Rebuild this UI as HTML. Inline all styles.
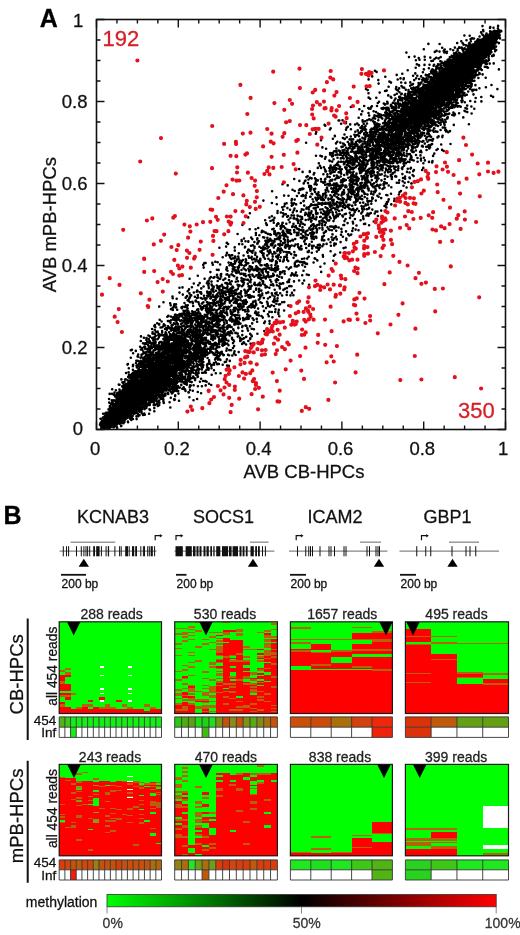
<!DOCTYPE html>
<html><head><meta charset="utf-8"><style>html,body{margin:0;padding:0;background:#fff;}svg{display:block;will-change:transform;}text{stroke-width:0.28px;}</style></head>
<body><svg width="520" height="935" viewBox="0 0 520 935">
<rect width="520" height="935" fill="#fff"/>
<path d="M150.3 377.6h0M144.2 391.8h0M133.4 392.7h0M145.3 367.8h0M139.4 401.0h0M190.2 373.6h0M163.7 382.5h0M162.9 392.6h0M117.3 418.5h0M108.6 423.6h0M121.8 420.3h0M158.4 372.8h0M150.8 381.9h0M116.3 423.4h0M162.1 377.4h0M133.6 412.6h0M123.8 402.8h0M200.7 340.7h0M145.0 380.9h0M144.2 366.4h0M150.6 371.8h0M112.0 419.6h0M155.3 372.9h0M287.1 259.8h0M118.0 414.1h0M160.8 335.2h0M192.3 355.4h0M186.0 350.8h0M129.0 401.1h0M134.4 394.2h0M115.7 411.3h0M153.1 395.3h0M220.7 327.7h0M127.4 405.7h0M106.2 424.2h0M144.7 379.6h0M181.4 343.7h0M139.1 393.0h0M253.2 306.0h0M148.7 398.4h0M156.5 393.2h0M116.8 409.5h0M128.3 386.9h0M193.7 360.1h0M200.9 365.6h0M212.9 332.1h0M178.1 351.8h0M173.5 370.9h0M106.8 425.6h0M121.8 405.2h0M299.8 226.0h0M133.9 403.2h0M189.0 372.1h0M146.2 389.0h0M166.0 346.3h0M162.0 395.6h0M115.4 405.7h0M124.8 406.2h0M148.5 359.8h0M136.0 403.4h0M108.3 426.4h0M181.9 377.8h0M192.5 337.0h0M188.6 343.5h0M194.0 346.3h0M112.1 419.3h0M229.3 294.4h0M147.7 395.3h0M119.1 406.0h0M142.3 407.0h0M129.2 407.4h0M115.5 414.4h0M148.9 388.0h0M152.4 378.7h0M150.5 401.6h0M155.8 382.5h0M142.2 391.6h0M132.9 411.9h0M127.7 399.6h0M179.6 377.9h0M115.9 420.7h0M137.9 407.7h0M186.8 344.1h0M162.3 383.9h0M168.0 354.9h0M142.0 380.2h0M118.9 415.6h0M132.4 394.9h0M139.0 368.9h0M144.1 406.7h0M152.5 402.0h0M140.7 366.3h0M196.1 359.5h0M118.8 384.6h0M190.5 322.6h0M163.4 401.6h0M181.0 333.0h0M201.8 337.3h0M239.3 293.4h0M185.6 328.3h0M204.8 346.1h0M242.5 301.2h0M109.8 421.2h0M128.2 416.8h0M198.5 343.8h0M105.3 425.3h0M154.6 378.4h0M153.5 377.8h0M112.6 419.2h0M130.3 417.0h0M185.3 367.1h0M190.1 381.8h0M129.1 400.3h0M120.7 403.5h0M126.6 404.3h0M186.8 384.8h0M115.5 418.4h0M143.7 378.0h0M112.2 416.9h0M179.9 336.2h0M149.6 370.4h0M228.4 334.2h0M104.5 426.0h0M106.3 423.9h0M134.5 407.2h0M234.2 315.2h0M118.8 413.8h0M187.1 296.0h0M146.5 370.0h0M154.0 378.3h0M177.6 354.6h0M126.9 416.6h0M129.5 402.1h0M113.3 412.0h0M155.3 383.3h0M249.2 270.3h0M128.5 388.4h0M172.2 366.5h0M176.8 383.1h0M156.8 377.4h0M143.4 390.7h0M153.0 380.8h0M133.9 399.2h0M188.4 318.6h0M192.8 357.4h0M164.6 373.9h0M145.8 388.5h0M241.9 296.5h0M147.5 379.4h0M130.2 400.1h0M199.9 381.7h0M133.2 385.6h0M153.2 385.8h0M134.3 389.7h0M143.6 387.5h0M109.8 418.6h0M119.7 400.9h0M128.2 405.3h0M143.6 393.9h0M157.3 368.7h0M122.4 410.0h0M258.2 228.0h0M146.2 388.8h0M171.7 371.7h0M112.6 405.0h0M126.7 410.4h0M229.9 282.5h0M184.2 361.2h0M140.5 382.7h0M110.2 411.8h0M218.4 277.9h0M124.6 410.0h0M131.6 394.0h0M136.6 379.3h0M163.8 365.8h0M136.9 367.4h0M137.7 371.6h0M245.5 241.3h0M154.1 377.0h0M165.2 358.6h0M199.8 360.3h0M111.7 423.6h0M126.7 399.0h0M313.4 237.1h0M126.6 404.2h0M157.6 389.4h0M120.9 415.1h0M122.6 416.8h0M202.9 320.7h0M139.4 399.9h0M146.0 383.4h0M136.1 388.0h0M114.3 418.8h0M144.6 386.4h0M172.7 298.2h0M124.2 402.0h0M153.8 346.7h0M184.9 306.9h0M114.4 411.0h0M184.5 333.8h0M110.8 426.9h0M174.2 346.4h0M144.0 398.9h0M123.6 416.8h0M145.7 386.4h0M124.7 395.2h0M108.6 419.5h0M192.1 320.0h0M197.0 313.6h0M117.7 407.6h0M141.6 401.2h0M139.2 403.5h0M140.2 389.9h0M112.6 411.9h0M196.1 336.3h0M157.7 384.8h0M124.2 411.1h0M136.5 399.7h0M129.7 407.3h0M150.5 394.9h0M161.4 334.7h0M177.8 349.5h0M125.7 417.3h0M152.6 375.7h0M121.5 405.2h0M107.5 419.6h0M123.5 414.9h0M163.2 395.2h0M106.0 412.9h0M133.6 409.4h0M182.2 376.5h0M127.4 402.0h0M122.3 398.7h0M118.3 405.0h0M109.9 424.7h0M140.1 390.8h0M156.2 386.0h0M154.0 377.3h0M123.3 412.9h0M111.8 400.3h0M173.4 329.3h0M123.2 409.4h0M139.9 392.9h0M114.9 406.1h0M122.4 413.7h0M113.1 419.4h0M235.2 308.7h0M137.4 393.5h0M103.9 420.0h0M155.6 385.4h0M157.3 391.9h0M157.6 390.2h0M230.5 317.7h0M156.4 394.3h0M158.5 391.0h0M131.6 407.3h0M118.8 408.6h0M146.2 381.5h0M147.5 388.7h0M121.3 406.9h0M132.9 397.9h0M152.7 380.4h0M161.8 383.8h0M127.2 396.0h0M105.8 425.3h0M160.0 374.9h0M139.0 396.5h0M121.6 408.5h0M133.5 398.7h0M121.5 417.8h0M163.0 378.6h0M143.2 401.6h0M117.2 428.0h0M173.9 380.8h0M143.9 337.7h0M153.8 400.4h0M172.3 361.6h0M110.2 416.8h0M216.4 320.2h0M162.9 370.6h0M213.1 346.1h0M114.6 420.5h0M134.3 404.2h0M145.7 399.7h0M259.5 276.3h0M143.6 378.9h0M113.5 411.8h0M153.8 343.5h0M151.7 370.0h0M112.2 389.3h0M184.7 342.4h0M222.0 338.8h0M149.6 399.6h0M120.5 408.5h0M169.2 343.2h0M156.3 357.2h0M138.4 392.1h0M118.9 400.7h0M139.2 390.9h0M172.2 366.2h0M152.4 380.9h0M175.4 353.4h0M244.7 269.3h0M176.6 377.1h0M202.8 354.2h0M141.4 371.9h0M279.9 260.3h0M141.1 372.2h0M216.7 296.4h0M230.6 291.6h0M136.5 377.9h0M191.4 342.9h0M110.4 416.9h0M158.4 356.6h0M109.2 416.0h0M183.7 366.7h0M135.2 395.8h0M132.8 378.0h0M120.4 404.4h0M148.2 358.4h0M165.1 329.0h0M125.5 410.0h0M139.0 391.8h0M147.7 357.1h0M127.7 397.5h0M227.7 325.8h0M272.4 245.3h0M157.1 366.1h0M150.5 387.4h0M159.5 377.3h0M121.3 401.3h0M111.2 415.5h0M132.1 408.6h0M168.4 378.0h0M141.3 393.0h0M123.8 406.8h0M121.1 410.1h0M156.8 386.3h0M136.9 389.8h0M208.6 369.8h0M123.8 413.4h0M331.5 198.1h0M147.4 383.3h0M285.6 247.7h0M136.4 390.1h0M172.0 354.9h0M135.8 398.4h0M232.3 255.3h0M185.0 348.0h0M115.9 390.3h0M155.7 397.7h0M173.3 336.4h0M112.7 424.2h0M135.5 411.1h0M136.3 404.5h0M167.1 373.1h0M278.4 254.8h0M110.7 424.8h0M118.8 415.2h0M151.3 372.2h0M172.6 370.4h0M155.8 357.7h0M144.9 395.2h0M123.2 387.7h0M109.9 421.1h0M283.2 283.4h0M214.4 297.1h0M128.2 400.4h0M160.6 392.4h0M128.7 377.4h0M138.9 397.0h0M117.6 409.1h0M272.1 191.2h0M147.3 392.5h0M193.8 354.1h0M140.8 383.7h0M184.9 389.4h0M226.5 274.5h0M162.1 382.8h0M217.0 274.9h0M123.4 395.3h0M195.7 361.0h0M246.9 319.0h0M172.0 327.6h0M135.6 407.2h0M138.2 392.2h0M127.7 398.4h0M156.8 357.3h0M143.8 386.2h0M130.9 407.3h0M114.2 411.0h0M127.8 398.2h0M141.3 372.7h0M196.8 358.3h0M151.9 348.3h0M174.8 343.4h0M222.0 316.7h0M162.6 355.6h0M113.2 418.1h0M154.1 400.7h0M116.5 418.2h0M153.0 371.8h0M108.8 420.7h0M146.5 380.8h0M161.7 381.5h0M188.1 365.2h0M153.4 383.8h0M333.8 191.8h0M136.0 396.0h0M185.2 336.9h0M138.6 399.8h0M124.2 411.3h0M138.5 399.2h0M114.0 418.5h0M163.0 378.1h0M108.9 422.3h0M196.2 346.3h0M138.9 372.3h0M189.2 358.0h0M121.3 416.2h0M227.6 291.7h0M190.5 295.6h0M200.8 334.3h0M154.2 393.6h0M179.1 332.8h0M156.2 390.1h0M217.1 315.3h0M109.8 422.4h0M161.6 387.8h0M212.8 296.2h0M186.9 335.3h0M196.5 338.5h0M185.5 338.5h0M168.2 382.9h0M124.4 409.1h0M169.0 355.3h0M132.3 390.6h0M153.4 401.3h0M143.5 381.0h0M159.1 388.1h0M130.7 417.2h0M173.6 338.6h0M149.9 362.1h0M225.3 333.8h0M270.2 238.9h0M186.4 343.1h0M149.4 368.5h0M109.4 409.8h0M140.6 371.8h0M158.1 369.9h0M174.2 378.0h0M158.9 383.4h0M135.5 398.9h0M204.7 342.8h0M154.8 369.9h0M196.7 317.9h0M119.7 393.5h0M154.0 354.9h0M232.2 333.3h0M119.4 411.6h0M151.0 385.9h0M149.6 402.9h0M213.1 313.9h0M146.5 338.0h0M130.2 400.6h0M146.2 376.1h0M132.2 393.8h0M144.5 369.5h0M140.8 398.4h0M167.7 377.2h0M206.6 306.0h0M276.4 197.4h0M199.1 348.1h0M260.3 258.7h0M170.8 335.9h0M182.0 339.1h0M176.1 363.0h0M132.9 366.3h0M101.7 424.0h0M118.2 407.6h0M144.0 388.4h0M180.2 375.0h0M125.2 409.2h0M150.2 379.6h0M152.5 391.7h0M138.8 377.0h0M162.1 388.0h0M159.4 334.2h0M141.7 393.8h0M151.0 390.6h0M124.8 408.3h0M134.3 390.2h0M120.8 400.6h0M179.6 372.7h0M271.6 240.6h0M265.2 277.2h0M136.3 407.8h0M182.8 371.5h0M143.9 367.3h0M111.4 425.6h0M105.7 427.4h0M127.8 402.6h0M133.3 377.1h0M119.6 423.7h0M119.5 410.3h0M121.5 408.0h0M126.6 416.9h0M115.7 417.9h0M142.2 392.9h0M171.6 346.8h0M162.7 373.9h0M124.3 411.0h0M141.3 386.9h0M141.9 372.6h0M109.2 427.1h0M194.7 335.0h0M127.4 405.6h0M114.4 416.9h0M310.6 196.8h0M121.4 414.0h0M146.3 402.6h0M126.7 406.3h0M212.9 352.9h0M128.4 382.6h0M108.0 415.6h0M130.7 400.3h0M289.7 286.0h0M119.1 413.2h0M219.5 324.8h0M114.8 400.7h0M138.7 386.0h0M156.7 370.3h0M136.2 379.6h0M105.9 426.5h0M125.1 399.3h0M167.3 376.1h0M133.4 403.6h0M148.0 345.1h0M121.0 426.1h0M115.6 411.1h0M149.1 392.1h0M137.5 380.7h0M197.0 353.2h0M135.3 393.8h0M160.1 391.4h0M137.3 378.3h0M175.1 370.6h0M181.6 378.0h0M170.3 407.5h0M211.3 365.9h0M215.8 295.8h0M133.6 409.6h0M136.1 408.3h0M128.3 402.7h0M127.5 405.2h0M127.4 402.5h0M152.7 383.2h0M160.6 327.5h0M132.7 409.4h0M172.3 372.3h0M135.7 398.4h0M316.8 200.5h0M144.9 360.8h0M180.2 350.4h0M117.2 407.7h0M121.1 406.6h0M130.8 350.3h0M127.9 409.0h0M135.8 375.6h0M206.1 326.0h0M124.6 404.2h0M120.3 404.9h0M143.5 367.1h0M142.6 396.8h0M176.1 358.1h0M148.9 394.8h0M128.1 422.3h0M101.0 422.3h0M159.7 368.6h0M126.3 405.3h0M158.2 385.9h0M108.2 423.9h0M123.3 404.5h0M150.3 358.5h0M192.4 330.9h0M196.1 331.4h0M226.5 334.7h0M150.8 389.3h0M192.0 339.0h0M177.7 387.5h0M141.8 395.7h0M132.0 398.7h0M117.2 400.1h0M219.5 359.0h0M159.0 392.6h0M121.9 402.0h0M159.2 405.0h0M226.8 242.9h0M111.9 418.0h0M110.5 415.4h0M215.0 300.0h0M116.8 423.6h0M211.8 303.1h0M134.3 406.4h0M166.1 369.2h0M214.6 316.6h0M211.9 313.5h0M173.5 339.0h0M146.6 384.0h0M131.2 386.1h0M137.0 390.3h0M240.8 305.7h0M157.1 366.0h0M212.7 330.6h0M101.8 426.6h0M138.0 397.5h0M163.3 374.1h0M129.4 390.6h0M306.8 274.5h0M115.3 412.6h0M175.9 365.7h0M181.2 332.2h0M120.7 405.2h0M201.0 354.3h0M161.7 360.5h0M344.8 145.1h0M234.2 307.9h0M141.5 378.6h0M163.5 302.2h0M184.6 383.7h0M134.6 398.9h0M157.6 331.6h0M172.0 362.5h0M240.6 294.5h0M115.6 421.3h0M121.4 425.7h0M121.7 402.6h0M171.6 345.1h0M185.3 310.7h0M140.4 382.8h0M168.1 381.0h0M165.4 395.4h0M109.1 420.8h0M117.5 401.2h0M187.7 332.9h0M182.4 335.4h0M185.7 297.7h0M186.7 356.4h0M152.6 361.4h0M168.2 371.1h0M116.0 419.5h0M268.1 274.9h0M139.2 383.0h0M206.1 346.2h0M190.3 349.6h0M173.4 351.5h0M237.4 318.0h0M147.9 391.0h0M193.0 333.2h0M166.5 360.0h0M118.4 417.7h0M131.3 405.3h0M113.3 411.8h0M111.7 421.7h0M170.3 361.8h0M112.9 419.0h0M206.6 343.2h0M135.6 386.7h0M141.5 393.4h0M120.9 421.2h0M149.6 350.8h0M122.9 410.2h0M177.0 351.4h0M177.5 347.1h0M109.7 423.4h0M181.6 372.4h0M107.0 427.6h0M195.7 351.1h0M103.6 425.0h0M120.2 413.4h0M212.0 307.0h0M178.5 393.6h0M192.9 362.2h0M102.7 428.1h0M199.5 359.9h0M120.6 404.6h0M247.8 290.2h0M153.6 382.7h0M152.4 393.2h0M110.2 421.9h0M127.8 415.4h0M141.3 377.1h0M218.9 305.0h0M221.2 319.7h0M146.7 398.5h0M115.4 413.0h0M118.1 418.5h0M234.4 270.0h0M155.7 364.0h0M121.1 415.3h0M237.4 300.7h0M155.3 339.4h0M178.3 338.9h0M178.8 328.5h0M169.1 372.7h0M128.3 395.1h0M112.6 424.8h0M111.8 415.6h0M118.8 404.8h0M174.8 361.9h0M124.1 403.4h0M192.8 348.8h0M197.9 341.8h0M232.0 293.7h0M232.0 288.5h0M241.9 286.2h0M155.2 368.6h0M164.8 383.9h0M136.7 409.1h0M157.6 366.3h0M175.1 396.1h0M136.5 410.8h0M110.1 426.7h0M215.2 296.9h0M169.4 348.6h0M109.1 399.0h0M135.9 398.9h0M192.7 348.0h0M133.1 399.8h0M177.2 380.5h0M191.6 313.8h0M205.6 350.6h0M151.2 391.6h0M123.1 406.8h0M141.1 396.7h0M181.9 338.2h0M139.7 382.0h0M238.8 272.5h0M261.6 271.5h0M248.9 306.9h0M186.7 346.0h0M120.9 417.8h0M274.3 299.4h0M208.9 362.8h0M124.9 396.8h0M130.2 413.1h0M125.1 394.8h0M159.1 374.1h0M114.3 419.0h0M214.6 316.5h0M129.2 383.0h0M193.8 370.0h0M108.5 420.6h0M391.0 151.6h0M219.0 342.4h0M162.9 399.1h0M120.7 417.2h0M251.4 307.5h0M136.9 394.6h0M131.2 390.6h0M121.6 406.5h0M116.9 416.1h0M135.7 371.3h0M156.8 384.6h0M135.8 395.3h0M119.8 413.9h0M227.5 286.8h0M238.0 281.3h0M123.9 407.6h0M212.4 303.2h0M150.0 377.2h0M152.4 388.7h0M265.4 240.7h0M275.4 270.0h0M138.5 400.0h0M174.7 340.3h0M131.6 404.4h0M109.4 421.6h0M159.2 306.6h0M160.3 354.0h0M189.5 354.3h0M304.2 241.6h0M132.8 386.4h0M166.9 357.3h0M162.4 383.8h0M104.9 423.5h0M151.5 400.2h0M106.7 418.1h0M140.8 371.3h0M112.4 407.2h0M120.8 418.7h0M217.3 297.2h0M123.0 386.5h0M135.1 390.7h0M163.0 371.2h0M102.0 424.4h0M126.2 415.6h0M124.7 407.1h0M161.0 361.8h0M160.8 377.9h0M127.2 403.2h0M238.9 267.2h0M125.9 396.8h0M123.6 407.8h0M174.6 378.4h0M131.9 412.4h0M223.7 331.9h0M164.4 375.8h0M128.6 409.0h0M134.6 398.5h0M146.5 386.4h0M154.2 365.8h0M172.3 381.8h0M169.0 372.8h0M111.6 416.0h0M154.4 387.1h0M103.3 424.0h0M141.7 396.8h0M140.9 387.1h0M155.3 346.8h0M118.6 403.4h0M156.6 372.0h0M131.5 398.0h0M144.1 376.0h0M121.8 412.2h0M207.1 351.9h0M177.2 329.0h0M106.6 419.0h0M135.5 392.1h0M135.2 398.2h0M107.3 427.8h0M115.4 419.1h0M139.1 395.8h0M113.6 415.7h0M144.9 373.2h0M176.9 352.7h0M124.6 402.8h0M184.8 372.2h0M216.5 311.0h0M121.3 399.1h0M213.6 335.3h0M231.1 350.2h0M208.5 304.1h0M137.2 372.3h0M152.4 366.1h0M125.2 409.7h0M181.8 334.3h0M205.9 372.7h0M162.9 366.7h0M153.1 388.5h0M122.0 398.7h0M119.8 391.2h0M102.8 417.8h0M130.2 375.2h0M119.1 403.7h0M311.7 238.5h0M130.0 403.7h0M117.3 406.2h0M249.9 270.5h0M110.8 423.1h0M212.5 324.4h0M223.5 329.1h0M142.7 382.8h0M113.8 417.5h0M123.3 395.2h0M149.0 370.3h0M194.8 345.0h0M159.2 342.9h0M190.1 385.2h0M142.5 404.2h0M211.5 335.3h0M117.4 409.7h0M118.6 394.9h0M149.7 368.1h0M181.9 342.0h0M169.7 361.3h0M190.1 376.9h0M136.1 401.1h0M183.8 318.3h0M104.4 425.3h0M130.9 405.6h0M114.0 417.1h0M120.5 414.9h0M186.4 381.6h0M190.5 345.9h0M122.4 413.2h0M157.9 391.1h0M267.9 268.2h0M165.1 371.6h0M228.5 298.2h0M202.9 327.7h0M208.1 318.2h0M140.2 393.7h0M172.4 372.6h0M303.5 230.3h0M125.9 405.3h0M203.4 302.2h0M130.5 400.1h0M157.8 384.0h0M169.1 344.4h0M136.7 394.7h0M136.6 384.1h0M109.9 407.0h0M139.6 380.6h0M118.3 420.3h0M176.5 372.5h0M150.4 372.6h0M226.8 348.6h0M144.0 393.1h0M201.2 324.5h0M217.4 327.3h0M227.0 327.3h0M186.7 346.1h0M173.2 365.7h0M166.1 374.5h0M131.4 394.2h0M152.6 388.1h0M150.2 384.5h0M265.7 232.5h0M113.4 412.3h0M140.2 390.7h0M162.3 372.4h0M120.5 408.6h0M180.9 345.2h0M135.1 408.3h0M172.1 373.5h0M142.8 371.7h0M186.8 365.1h0M110.0 411.1h0M157.0 361.8h0M231.1 300.9h0M197.3 345.8h0M148.5 380.8h0M145.7 373.2h0M153.1 370.3h0M133.1 380.9h0M121.9 405.1h0M154.5 386.0h0M143.3 379.7h0M269.2 241.3h0M172.7 360.1h0M308.8 245.7h0M153.9 388.0h0M159.6 360.7h0M157.6 386.5h0M116.7 399.3h0M118.5 406.6h0M150.7 402.2h0M212.1 347.3h0M118.9 411.5h0M117.6 420.6h0M148.9 384.1h0M124.8 397.4h0M124.6 400.4h0M252.8 306.8h0M142.0 378.2h0M163.5 346.6h0M151.1 389.6h0M177.2 338.8h0M149.8 389.5h0M151.2 396.9h0M166.0 338.5h0M138.0 377.1h0M229.2 326.4h0M138.4 416.1h0M217.6 286.2h0M119.9 415.2h0M132.5 394.4h0M163.3 388.2h0M115.6 412.0h0M124.0 396.5h0M179.4 348.3h0M134.7 386.5h0M124.2 404.0h0M171.1 337.7h0M156.1 383.1h0M179.1 363.6h0M253.9 329.3h0M151.6 385.9h0M165.1 371.4h0M365.2 193.7h0M103.7 423.5h0M158.7 376.9h0M112.0 393.8h0M161.0 358.8h0M127.4 410.4h0M133.3 397.8h0M112.1 414.5h0M170.0 336.4h0M138.1 371.0h0M141.0 395.4h0M115.5 408.4h0M209.7 322.6h0M106.8 419.8h0M202.8 331.5h0M164.9 366.9h0M129.6 398.0h0M156.8 384.0h0M112.0 419.0h0M219.0 301.6h0M120.1 421.7h0M132.5 403.5h0M197.0 345.9h0M129.5 390.2h0M156.3 372.2h0M156.0 375.2h0M130.5 407.1h0M130.5 395.8h0M254.5 284.3h0M178.5 328.1h0M176.3 360.3h0M151.4 380.3h0M120.2 406.0h0M112.9 415.3h0M191.6 372.1h0M128.8 400.2h0M139.1 392.4h0M123.9 419.5h0M112.1 424.5h0M145.3 371.0h0M120.0 408.4h0M273.8 269.5h0M229.2 276.7h0M149.1 402.7h0M186.9 307.3h0M125.3 410.3h0M185.9 305.2h0M284.3 257.1h0M181.9 360.0h0M283.9 238.9h0M105.1 426.7h0M139.3 377.3h0M134.6 386.5h0M182.9 355.6h0M150.7 383.0h0M175.1 355.7h0M141.0 362.1h0M123.5 407.7h0M111.1 413.7h0M200.1 331.6h0M130.8 407.7h0M189.7 374.8h0M161.9 364.7h0M130.2 395.7h0M110.7 418.9h0M147.3 362.0h0M203.3 308.1h0M107.9 412.7h0M319.6 195.5h0M162.0 383.4h0M156.2 353.1h0M235.7 323.3h0M244.5 289.9h0M175.3 379.1h0M174.6 334.3h0M121.9 395.5h0M159.9 391.2h0M118.6 418.0h0M188.0 358.9h0M192.2 378.0h0M175.2 358.8h0M180.8 356.6h0M110.3 426.5h0M157.1 403.8h0M128.2 414.8h0M136.9 391.7h0M190.6 373.6h0M232.9 299.6h0M141.5 387.3h0M123.7 401.6h0M133.9 398.6h0M144.0 384.8h0M133.0 380.0h0M164.0 378.2h0M181.3 350.7h0M107.6 417.3h0M112.8 424.1h0M124.5 401.3h0M144.3 413.5h0M252.2 323.4h0M149.6 401.7h0M198.3 339.5h0M119.0 412.5h0M365.2 223.9h0M175.7 307.5h0M112.0 404.2h0M135.1 379.9h0M276.0 261.3h0M164.2 358.3h0M135.9 402.7h0M202.9 343.7h0M178.2 368.7h0M105.6 424.3h0M312.4 232.0h0M210.0 334.1h0M134.9 371.3h0M133.7 401.0h0M123.5 402.3h0M106.5 422.9h0M159.3 379.3h0M130.3 404.8h0M113.5 410.0h0M128.3 407.4h0M279.7 233.6h0M130.4 404.7h0M211.9 329.4h0M214.1 277.5h0M168.6 390.3h0M196.4 352.1h0M122.7 412.8h0M135.9 390.2h0M161.7 380.7h0M121.4 408.8h0M120.2 405.5h0M249.7 229.2h0M202.1 303.6h0M159.1 392.5h0M113.6 405.0h0M155.9 375.4h0M123.8 414.5h0M140.7 387.6h0M159.3 387.1h0M160.5 377.4h0M134.2 405.9h0M193.9 349.6h0M130.5 385.9h0M158.7 371.9h0M129.7 392.6h0M156.2 368.7h0M226.8 307.7h0M125.5 391.9h0M122.0 397.2h0M146.3 390.0h0M133.8 388.0h0M163.2 374.6h0M157.4 381.9h0M106.6 422.7h0M210.5 319.5h0M138.8 394.0h0M161.2 398.8h0M136.6 403.6h0M214.1 315.4h0M191.2 322.4h0M149.8 371.4h0M178.6 364.7h0M158.1 365.3h0M132.5 410.1h0M139.0 387.0h0M210.4 272.1h0M179.0 357.9h0M343.6 248.1h0M165.9 343.4h0M114.2 417.7h0M170.1 361.7h0M139.6 384.8h0M114.3 418.7h0M111.2 416.0h0M222.6 328.6h0M205.6 346.4h0M123.4 405.5h0M135.7 390.6h0M143.9 384.7h0M173.2 344.0h0M161.6 371.1h0M242.5 306.9h0M133.3 392.8h0M268.0 305.9h0M188.4 343.7h0M151.2 364.2h0M150.9 371.7h0M163.7 344.0h0M197.4 340.9h0M142.8 391.7h0M139.2 397.7h0M145.2 392.6h0M136.8 392.2h0M184.3 321.7h0M184.6 348.1h0M106.5 417.0h0M131.6 394.6h0M124.7 420.2h0M138.8 384.0h0M139.4 397.3h0M127.1 403.2h0M186.8 360.7h0M138.9 398.4h0M141.5 354.9h0M135.7 382.2h0M182.8 356.4h0M184.7 362.7h0M143.2 392.7h0M174.5 368.9h0M151.9 369.1h0M213.6 287.2h0M133.7 411.2h0M154.9 368.5h0M150.3 381.8h0M145.2 389.4h0M265.8 244.1h0M170.2 374.5h0M215.1 338.5h0M209.1 324.4h0M169.3 374.8h0M169.6 371.1h0M123.0 400.7h0M135.8 407.7h0M144.6 366.4h0M176.7 318.8h0M254.6 284.6h0M115.1 411.4h0M181.8 370.1h0M201.8 335.8h0M133.9 401.4h0M131.0 407.3h0M110.4 415.1h0M173.9 348.2h0M141.9 374.4h0M183.2 377.1h0M126.9 404.7h0M156.1 380.8h0M218.1 352.3h0M143.8 369.8h0M183.6 344.0h0M204.8 314.8h0M144.9 359.6h0M180.3 360.6h0M177.2 309.8h0M218.0 358.9h0M199.8 292.2h0M149.0 367.6h0M151.7 394.0h0M304.3 258.5h0M135.8 350.9h0M182.2 359.9h0M254.4 242.1h0M103.6 425.7h0M137.9 390.4h0M105.3 425.9h0M229.1 332.7h0M326.0 231.2h0M149.6 391.2h0M164.9 344.6h0M207.3 367.4h0M110.8 424.6h0M136.1 388.8h0M166.8 364.9h0M116.0 417.5h0M138.8 402.1h0M233.0 343.1h0M181.4 364.6h0M123.8 415.3h0M124.7 410.1h0M181.4 368.3h0M119.5 420.6h0M120.8 397.7h0M161.8 398.4h0M187.2 322.2h0M133.8 401.4h0M144.5 393.7h0M167.0 384.2h0M141.6 400.2h0M145.1 391.6h0M265.0 321.5h0M232.4 271.6h0M167.0 361.1h0M164.7 367.1h0M162.7 369.5h0M208.5 293.5h0M140.9 390.5h0M192.7 318.4h0M198.9 349.0h0M229.4 255.5h0M207.9 341.4h0M145.6 398.5h0M175.7 368.8h0M158.9 354.8h0M118.9 398.4h0M135.4 391.5h0M111.7 404.2h0M115.0 421.6h0M188.6 359.6h0M118.6 415.6h0M146.8 362.5h0M135.0 405.5h0M203.1 328.6h0M179.6 374.7h0M168.0 359.6h0M204.1 349.6h0M131.9 349.7h0M116.5 409.0h0M157.5 382.0h0M161.1 353.8h0M150.3 381.9h0M169.9 373.1h0M115.8 411.9h0M175.4 382.6h0M270.5 221.0h0M119.2 401.4h0M130.0 410.8h0M342.5 192.3h0M208.7 368.3h0M255.4 261.3h0M213.1 310.3h0M113.5 416.3h0M242.9 303.1h0M162.1 370.4h0M132.5 405.3h0M185.6 351.4h0M175.1 369.7h0M181.7 363.6h0M120.5 415.4h0M152.8 390.0h0M188.7 319.8h0M107.2 416.7h0M119.8 415.3h0M176.6 354.0h0M175.3 324.0h0M138.5 408.9h0M182.0 340.6h0M139.0 409.4h0M131.5 395.6h0M131.1 402.4h0M122.1 410.1h0M115.4 417.2h0M139.0 361.6h0M200.4 364.9h0M301.0 219.6h0M142.3 385.8h0M176.1 370.2h0M125.3 402.9h0M155.2 376.5h0M198.6 330.6h0M153.7 356.7h0M129.0 409.9h0M121.0 408.6h0M127.3 394.4h0M121.7 413.6h0M113.4 409.4h0M166.1 380.3h0M121.5 420.3h0M131.4 409.8h0M168.0 362.1h0M106.3 420.3h0M182.2 358.2h0M121.4 410.4h0M114.8 416.6h0M135.9 388.0h0M139.3 403.0h0M140.9 392.3h0M239.4 318.0h0M150.3 374.1h0M130.6 391.5h0M189.8 386.3h0M159.7 368.3h0M122.3 410.6h0M130.1 393.5h0M134.0 404.9h0M116.7 414.4h0M157.2 392.3h0M126.3 397.3h0M128.6 372.3h0M151.8 375.9h0M122.1 394.1h0M207.8 282.3h0M159.1 377.0h0M142.9 387.5h0M152.9 376.1h0M207.8 295.9h0M123.3 413.1h0M176.7 337.5h0M123.3 414.3h0M167.0 351.1h0M116.8 414.6h0M152.9 400.7h0M130.4 404.7h0M132.8 393.1h0M197.2 339.1h0M199.0 326.4h0M133.1 364.9h0M136.6 407.7h0M202.0 348.7h0M121.2 415.4h0M113.2 417.9h0M150.2 388.1h0M148.0 386.6h0M165.6 380.3h0M156.0 387.0h0M325.0 158.7h0M114.4 394.7h0M137.5 395.8h0M127.7 402.7h0M218.2 358.3h0M128.4 406.5h0M115.4 410.6h0M141.2 384.7h0M131.9 401.5h0M146.3 351.9h0M100.5 418.8h0M189.9 346.5h0M169.9 380.0h0M133.8 390.2h0M125.6 397.0h0M175.2 372.9h0M140.4 391.7h0M155.6 355.1h0M249.3 271.4h0M159.2 385.7h0M192.3 315.1h0M185.4 364.1h0M122.7 392.9h0M217.4 314.3h0M206.5 369.8h0M125.5 412.5h0M156.0 360.7h0M234.7 247.4h0M190.7 331.1h0M189.4 349.1h0M122.5 382.4h0M159.4 391.6h0M159.3 351.4h0M135.0 410.6h0M114.0 425.5h0M256.3 304.7h0M125.1 398.1h0M238.5 286.1h0M145.0 388.9h0M122.1 405.4h0M121.6 414.6h0M182.0 308.2h0M138.2 391.8h0M113.3 414.5h0M179.4 377.3h0M150.7 381.7h0M136.1 407.2h0M125.3 399.3h0M136.6 410.3h0M144.7 375.5h0M127.7 392.2h0M116.4 410.7h0M181.8 315.3h0M201.3 288.4h0M146.0 389.2h0M154.6 384.1h0M205.8 338.6h0M129.2 402.0h0M167.2 368.2h0M218.2 319.7h0M130.5 378.5h0M106.7 424.1h0M118.8 415.2h0M120.7 396.5h0M157.7 390.4h0M110.1 421.3h0M111.3 416.7h0M161.6 357.0h0M193.8 366.3h0M154.1 396.0h0M226.0 338.8h0M217.7 336.7h0M184.7 315.4h0M117.0 414.7h0M259.4 263.2h0M116.2 419.9h0M142.2 395.7h0M103.1 425.8h0M160.5 364.7h0M144.7 390.6h0M169.0 340.9h0M144.7 394.2h0M118.8 416.1h0M150.5 387.3h0M114.9 419.7h0M270.1 239.9h0M113.5 424.8h0M174.9 347.3h0M125.8 418.8h0M134.6 412.5h0M131.5 399.9h0M182.7 342.4h0M152.4 381.5h0M172.1 392.9h0M110.6 413.8h0M176.1 328.8h0M146.4 395.9h0M127.7 389.1h0M238.0 310.4h0M195.5 335.6h0M159.2 384.7h0M199.2 357.5h0M123.0 418.6h0M147.0 388.5h0M153.1 367.3h0M139.2 396.5h0M126.7 398.6h0M140.7 378.8h0M112.9 408.0h0M139.7 377.4h0M209.0 321.8h0M172.3 353.8h0M163.9 370.1h0M136.8 403.3h0M298.6 265.4h0M141.0 363.0h0M123.8 414.0h0M286.8 229.7h0M266.9 225.0h0M153.4 374.6h0M188.0 356.3h0M167.4 356.2h0M145.9 358.6h0M203.8 351.8h0M135.1 405.0h0M133.5 402.8h0M119.5 405.5h0M162.6 352.6h0M156.7 383.3h0M148.4 381.7h0M190.9 316.5h0M141.1 403.1h0M147.0 386.1h0M169.0 353.5h0M263.0 249.7h0M261.7 251.3h0M203.4 362.0h0M158.3 374.2h0M190.9 354.1h0M182.1 343.9h0M197.6 322.3h0M151.9 380.9h0M113.5 416.1h0M159.7 319.7h0M125.9 384.0h0M145.5 370.9h0M128.6 402.0h0M143.4 351.5h0M117.6 417.4h0M153.1 400.8h0M188.5 347.5h0M150.0 393.7h0M155.3 405.0h0M237.5 323.1h0M331.3 210.0h0M149.9 387.8h0M140.5 386.0h0M120.3 405.9h0M161.1 358.7h0M218.6 344.0h0M159.1 358.6h0M127.8 384.8h0M179.9 357.0h0M156.3 378.8h0M137.3 388.2h0M119.3 407.2h0M171.7 359.4h0M151.0 373.9h0M237.3 319.8h0M140.5 408.9h0M162.4 379.1h0M177.6 362.6h0M135.7 396.6h0M144.8 393.5h0M149.4 394.5h0M168.7 359.2h0M244.0 275.0h0M179.6 358.1h0M115.0 418.5h0M124.9 405.9h0M155.1 384.9h0M181.6 338.9h0M166.7 374.7h0M205.2 371.6h0M120.1 394.1h0M337.5 184.5h0M136.8 383.1h0M113.8 418.4h0M155.7 378.2h0M264.7 265.0h0M123.6 406.5h0M182.6 352.1h0M182.4 366.8h0M236.7 278.9h0M166.6 363.9h0M171.0 309.1h0M173.8 372.8h0M179.1 360.2h0M125.2 406.4h0M127.7 417.7h0M170.8 376.2h0M168.2 393.9h0M164.6 377.9h0M219.0 308.8h0M116.6 413.7h0M143.6 371.9h0M210.8 314.8h0M114.3 410.0h0M121.7 405.0h0M113.8 427.2h0M180.5 347.5h0M188.2 374.5h0M111.3 416.1h0M196.1 301.4h0M128.2 387.6h0M138.0 389.0h0M173.4 357.5h0M207.6 358.0h0M120.0 405.1h0M160.9 366.3h0M150.9 384.3h0M250.3 316.1h0M134.6 409.3h0M238.1 306.3h0M107.3 419.9h0M180.7 351.3h0M253.4 301.5h0M174.8 338.4h0M210.2 292.7h0M201.6 323.5h0M114.5 417.9h0M130.1 398.4h0M217.8 317.4h0M158.5 362.7h0M155.1 391.6h0M217.7 281.0h0M173.5 356.9h0M110.9 403.8h0M172.9 392.5h0M143.1 398.3h0M128.4 414.6h0M143.2 387.6h0M134.5 392.2h0M155.7 384.5h0M147.4 381.3h0M138.4 390.4h0M140.0 400.0h0M152.3 379.6h0M153.4 393.8h0M155.1 383.1h0M154.3 385.7h0M128.6 408.7h0M169.5 380.8h0M119.1 409.7h0M176.3 356.1h0M228.8 255.1h0M163.1 398.6h0M155.8 377.5h0M296.8 232.8h0M144.4 379.3h0M119.2 410.1h0M146.4 339.9h0M127.2 410.3h0M201.8 367.6h0M115.6 411.8h0M163.4 382.0h0M162.6 366.3h0M215.5 324.4h0M149.6 341.1h0M123.1 415.2h0M147.3 356.1h0M152.4 371.8h0M237.8 288.9h0M137.4 392.6h0M150.0 394.8h0M171.0 359.8h0M142.7 386.8h0M123.0 411.0h0M134.4 408.6h0M161.9 378.6h0M153.2 381.9h0M124.1 408.6h0M153.0 397.2h0M153.8 375.3h0M104.1 422.6h0M113.0 419.0h0M103.9 421.5h0M109.4 420.4h0M164.3 375.0h0M165.0 383.1h0M111.2 425.3h0M191.5 356.8h0M201.9 335.0h0M160.6 387.4h0M169.6 367.2h0M151.1 346.9h0M140.9 409.9h0M231.5 293.3h0M123.0 407.0h0M134.7 392.3h0M103.1 426.8h0M186.1 345.9h0M132.1 402.6h0M250.7 286.9h0M251.4 304.2h0M105.9 427.6h0M143.9 386.2h0M149.7 380.5h0M135.1 394.3h0M125.9 411.0h0M145.9 399.7h0M136.0 363.0h0M144.6 379.5h0M135.1 385.1h0M164.1 362.7h0M136.6 385.2h0M209.8 294.7h0M120.2 398.7h0M148.1 383.9h0M164.5 356.1h0M165.8 347.5h0M246.4 325.9h0M132.1 398.9h0M190.6 330.8h0M154.7 389.3h0M109.4 424.2h0M175.0 328.3h0M114.5 413.8h0M133.7 397.9h0M175.5 366.1h0M130.9 398.3h0M109.7 393.9h0M169.8 358.5h0M210.5 346.9h0M138.7 408.6h0M131.5 386.8h0M160.6 360.9h0M159.0 386.2h0M131.8 381.7h0M237.0 259.6h0M143.7 396.4h0M126.6 410.3h0M134.0 392.2h0M164.3 367.0h0M125.5 400.8h0M118.0 404.4h0M113.7 420.4h0M270.7 252.3h0M185.9 371.6h0M115.7 410.8h0M159.1 350.7h0M192.8 390.7h0M223.0 340.0h0M120.7 407.6h0M228.5 345.3h0M184.7 345.5h0M116.1 410.9h0M154.9 374.1h0M151.8 367.5h0M162.2 370.4h0M103.4 423.6h0M161.2 374.9h0M139.4 397.1h0M196.9 356.4h0M171.6 388.9h0M131.6 400.7h0M121.3 409.5h0M141.1 392.4h0M168.3 379.8h0M149.8 387.3h0M111.3 414.1h0M229.9 296.1h0M172.3 329.8h0M148.2 376.3h0M160.3 378.0h0M149.8 336.3h0M165.9 380.6h0M152.8 399.6h0M211.4 336.6h0M142.1 385.8h0M134.7 386.8h0M149.2 377.9h0M149.6 389.1h0M144.4 363.6h0M402.1 121.3h0M132.3 396.6h0M173.0 367.2h0M167.9 321.0h0M109.8 413.9h0M145.7 395.7h0M109.3 414.9h0M126.7 401.6h0M113.8 418.5h0M147.1 364.2h0M133.8 403.2h0M195.2 332.4h0M131.6 383.8h0M135.2 393.1h0M137.3 407.0h0M127.8 408.6h0M193.6 330.1h0M117.2 417.9h0M207.0 322.6h0M137.5 384.0h0M118.1 416.2h0M161.9 387.9h0M127.7 399.6h0M120.6 394.3h0M212.2 321.3h0M170.1 350.8h0M101.2 428.1h0M139.2 386.8h0M148.9 397.1h0M130.5 394.9h0M223.0 291.7h0M126.7 410.3h0M122.2 404.8h0M159.7 383.0h0M215.2 343.0h0M115.7 419.9h0M134.1 382.2h0M132.5 387.1h0M172.2 354.3h0M265.2 220.2h0M192.8 354.5h0M128.7 392.1h0M127.2 407.3h0M144.2 373.8h0M184.1 338.7h0M192.7 368.4h0M133.2 401.3h0M225.5 291.5h0M119.0 414.1h0M188.7 320.7h0M183.1 377.1h0M119.5 389.5h0M199.0 334.7h0M121.5 414.5h0M125.1 409.9h0M167.8 374.6h0M277.9 295.3h0M202.8 355.5h0M127.9 401.1h0M228.9 280.0h0M323.9 235.8h0M156.8 367.2h0M155.6 381.5h0M112.2 402.1h0M117.6 408.6h0M111.4 415.1h0M119.5 408.7h0M109.8 418.6h0M139.2 394.1h0M129.4 408.3h0M125.8 386.6h0M151.6 352.5h0M115.3 407.7h0M130.8 409.2h0M151.9 378.7h0M286.6 203.2h0M185.5 342.4h0M110.0 427.8h0M177.5 353.5h0M181.4 375.2h0M144.9 399.1h0M120.8 405.6h0M189.4 397.3h0M239.6 260.3h0M206.5 350.8h0M140.1 396.4h0M138.0 394.9h0M175.0 363.9h0M170.1 365.6h0M232.0 319.1h0M148.5 380.4h0M147.5 396.9h0M130.2 401.6h0M136.0 394.9h0M128.8 404.5h0M119.8 400.7h0M110.3 421.4h0M131.3 404.8h0M147.2 341.9h0M186.0 306.1h0M141.4 381.4h0M254.7 283.1h0M208.7 280.8h0M105.3 424.3h0M156.6 376.4h0M154.9 377.8h0M165.8 344.8h0M203.8 318.5h0M138.7 398.8h0M226.0 361.7h0M106.2 421.4h0M175.3 353.7h0M113.8 411.6h0M115.6 413.7h0M178.9 326.6h0M125.4 400.5h0M177.2 354.0h0M147.2 385.9h0M176.7 386.9h0M145.1 403.2h0M104.6 416.6h0M226.5 327.2h0M224.3 324.4h0M137.6 360.7h0M143.7 383.2h0M135.4 413.3h0M131.7 419.0h0M127.7 416.2h0M115.6 417.8h0M138.7 381.1h0M207.0 312.3h0M137.2 399.6h0M160.5 354.2h0M185.8 373.9h0M128.2 406.1h0M167.6 338.5h0M127.5 364.6h0M239.7 309.4h0M234.3 324.6h0M139.2 389.0h0M139.2 388.6h0M238.8 271.3h0M120.0 406.4h0M242.4 244.2h0M191.9 287.2h0M130.8 392.3h0M153.0 391.3h0M195.2 341.6h0M117.6 411.9h0M122.0 410.3h0M176.7 322.4h0M157.2 360.5h0M164.4 360.3h0M335.0 193.7h0M151.0 362.6h0M139.0 399.8h0M216.9 345.1h0M181.9 357.8h0M139.7 401.9h0M124.0 410.7h0M193.6 385.3h0M136.5 394.9h0M128.6 408.1h0M125.5 398.0h0M210.8 293.0h0M139.6 383.0h0M173.7 384.4h0M112.5 417.1h0M114.2 414.8h0M111.0 424.8h0M150.1 372.7h0M133.3 405.5h0M108.2 428.2h0M292.5 226.2h0M156.2 382.2h0M116.5 395.6h0M196.9 327.6h0M172.8 367.8h0M163.7 364.0h0M233.3 296.5h0M143.5 389.0h0M196.3 355.7h0M126.5 410.7h0M113.1 406.9h0M123.0 413.7h0M146.3 355.1h0M156.9 385.7h0M128.5 393.5h0M167.3 363.1h0M187.8 305.2h0M113.6 416.5h0M177.5 351.7h0M202.3 341.4h0M161.8 364.1h0M167.5 350.0h0M134.2 385.3h0M117.8 414.2h0M206.7 324.2h0M126.4 405.6h0M197.9 376.6h0M226.4 297.8h0M221.2 341.4h0M158.3 371.7h0M163.7 376.6h0M213.4 330.3h0M220.9 311.3h0M125.6 414.7h0M112.9 417.9h0M149.5 352.1h0M158.8 337.4h0M137.9 364.9h0M144.0 367.9h0M133.2 392.2h0M142.6 354.0h0M111.4 419.4h0M163.0 348.0h0M187.6 326.6h0M171.5 354.2h0M123.8 413.1h0M133.3 393.5h0M144.0 352.8h0M143.1 382.1h0M162.7 372.6h0M162.4 363.3h0M121.9 411.2h0M170.1 360.8h0M316.7 232.4h0M132.3 389.2h0M128.5 405.0h0M163.9 368.7h0M156.6 374.4h0M218.9 353.0h0M162.3 335.1h0M176.2 307.2h0M140.2 397.6h0M181.8 345.8h0M220.1 320.7h0M220.2 301.0h0M122.8 403.8h0M123.6 411.0h0M131.1 394.7h0M243.3 320.3h0M156.8 359.1h0M115.4 418.8h0M153.0 396.8h0M112.0 418.8h0M296.9 266.4h0M166.1 343.7h0M112.5 407.6h0M179.3 373.1h0M341.7 200.3h0M182.0 371.8h0M118.3 419.6h0M143.5 397.8h0M185.4 347.2h0M275.2 293.4h0M178.8 332.2h0M154.9 325.0h0M123.6 414.4h0M184.6 345.1h0M249.7 295.1h0M136.5 416.4h0M133.7 414.1h0M116.9 398.7h0M169.1 362.5h0M134.9 373.3h0M257.1 270.8h0M215.9 290.7h0M170.1 334.2h0M170.9 368.8h0M108.7 414.4h0M133.9 379.2h0M153.8 380.5h0M248.0 279.7h0M162.3 386.1h0M191.2 295.4h0M181.2 367.9h0M181.8 346.5h0M140.6 396.3h0M114.7 418.4h0M181.0 324.3h0M207.1 317.4h0M105.3 420.5h0M134.6 395.7h0M140.1 373.5h0M198.3 356.9h0M118.4 416.9h0M136.5 377.2h0M162.3 346.3h0M161.9 389.1h0M228.5 327.1h0M188.9 343.4h0M222.6 335.1h0M131.1 383.3h0M151.4 344.0h0M180.6 343.3h0M313.7 208.2h0M199.1 336.9h0M164.0 387.4h0M258.4 312.6h0M137.1 401.3h0M174.5 358.2h0M158.2 348.3h0M142.9 396.2h0M142.2 382.7h0M154.6 334.0h0M106.5 414.4h0M149.8 363.0h0M104.3 422.7h0M210.8 331.4h0M148.1 378.1h0M187.7 342.1h0M161.0 353.6h0M212.5 289.9h0M142.2 380.5h0M140.4 401.6h0M144.7 391.8h0M108.5 426.0h0M176.1 326.5h0M106.3 422.8h0M158.7 345.1h0M184.3 341.7h0M120.7 417.0h0M119.5 412.1h0M118.0 418.8h0M128.2 414.0h0M149.2 401.3h0M123.9 397.9h0M135.8 398.2h0M127.2 412.3h0M270.4 276.5h0M153.4 377.8h0M130.7 401.8h0M120.3 412.7h0M180.2 362.5h0M146.7 371.9h0M198.2 342.4h0M137.0 366.6h0M195.1 356.5h0M143.1 414.9h0M110.3 424.5h0M128.0 397.3h0M119.1 409.4h0M118.7 407.0h0M173.9 338.6h0M152.2 343.4h0M158.3 380.7h0M127.7 390.7h0M174.0 351.8h0M144.9 388.3h0M144.2 359.1h0M168.0 326.4h0M148.9 400.7h0M130.0 389.7h0M194.5 312.3h0M143.6 401.1h0M152.8 388.0h0M208.7 327.1h0M143.3 389.5h0M128.0 391.4h0M233.6 264.0h0M192.6 366.6h0M131.3 419.9h0M158.4 384.9h0M130.3 396.2h0M140.7 385.3h0M208.9 283.5h0M106.4 418.1h0M107.5 417.3h0M185.8 367.1h0M123.1 393.5h0M129.8 408.6h0M108.2 412.9h0M213.3 289.1h0M206.4 307.1h0M137.6 382.2h0M126.5 397.8h0M180.6 351.8h0M216.1 348.8h0M155.3 357.6h0M142.7 378.7h0M115.8 410.4h0M159.7 374.4h0M273.7 228.7h0M125.5 409.8h0M114.5 422.8h0M136.8 378.1h0M207.9 327.6h0M218.3 327.5h0M135.8 399.1h0M124.5 389.0h0M229.4 290.0h0M161.8 375.6h0M203.7 351.0h0M151.6 390.3h0M185.8 346.6h0M165.9 387.8h0M226.5 312.0h0M125.7 407.5h0M119.9 418.4h0M177.5 360.8h0M108.2 426.1h0M170.5 357.7h0M187.6 300.3h0M153.5 339.1h0M165.7 381.7h0M182.0 350.9h0M151.9 368.8h0M113.7 418.9h0M157.9 393.8h0M126.4 410.1h0M249.3 306.2h0M200.3 357.0h0M144.5 383.7h0M166.6 365.0h0M146.4 395.2h0M209.7 278.4h0M126.8 406.0h0M255.6 229.3h0M215.7 323.7h0M120.5 408.5h0M139.4 395.7h0M165.0 370.1h0M186.5 365.7h0M224.0 341.3h0M142.3 399.7h0M121.2 403.7h0M145.0 373.5h0M121.5 402.2h0M144.0 401.9h0M113.6 407.1h0M306.3 213.7h0M195.5 358.1h0M150.5 384.3h0M187.0 346.8h0M149.4 378.3h0M140.3 410.7h0M191.5 371.8h0M114.7 412.2h0M124.7 401.5h0M212.3 344.2h0M158.2 374.2h0M179.2 329.2h0M164.7 365.6h0M116.7 416.2h0M145.9 404.7h0M220.2 340.8h0M143.7 381.1h0M190.7 339.6h0M150.4 374.4h0M121.4 416.9h0M228.6 366.8h0M143.9 395.1h0M248.1 295.4h0M147.7 387.7h0M124.9 391.9h0M129.0 386.9h0M160.6 364.7h0M107.6 423.1h0M135.2 392.4h0M104.6 427.0h0M183.9 318.3h0M165.9 390.5h0M186.3 323.7h0M245.8 276.1h0M131.2 402.7h0M220.5 352.5h0M123.1 405.3h0M107.8 427.3h0M185.3 370.7h0M126.2 406.2h0M266.0 271.4h0M184.8 347.5h0M107.8 426.2h0M152.1 380.3h0M122.2 392.1h0M188.7 343.4h0M148.0 395.2h0M228.6 325.2h0M188.6 357.4h0M287.4 208.1h0M167.6 353.7h0M123.6 393.2h0M145.9 379.6h0M118.9 397.5h0M125.5 418.4h0M173.5 385.3h0M173.4 353.8h0M136.4 388.7h0M162.3 387.2h0M122.8 411.3h0M131.7 404.2h0M130.8 393.3h0M109.4 425.2h0M136.6 405.5h0M120.5 414.8h0M140.5 400.3h0M105.5 425.2h0M167.8 365.3h0M204.3 305.7h0M147.7 391.4h0M172.4 366.9h0M158.4 386.3h0M159.2 324.0h0M156.1 387.0h0M109.6 418.4h0M243.4 273.8h0M112.8 423.2h0M166.4 348.9h0M181.6 339.7h0M116.4 419.1h0M141.9 405.8h0M139.5 396.4h0M156.5 382.9h0M197.2 358.6h0M116.9 419.5h0M138.3 387.3h0M201.0 350.5h0M211.0 349.5h0M199.5 329.2h0M170.6 329.2h0M146.7 397.7h0M123.3 416.2h0M187.6 308.5h0M157.3 401.6h0M186.7 352.5h0M115.6 406.2h0M109.9 421.8h0M171.3 371.8h0M237.3 294.0h0M127.9 396.7h0M116.7 418.8h0M170.0 362.5h0M170.0 371.1h0M129.2 397.6h0M111.4 418.3h0M241.7 308.3h0M134.8 397.6h0M223.2 303.7h0M108.5 416.1h0M160.2 371.9h0M127.6 410.4h0M138.8 391.3h0M149.2 342.8h0M130.6 385.3h0M165.9 334.0h0M170.7 383.8h0M117.4 396.2h0M112.9 415.2h0M119.7 408.9h0M187.1 342.1h0M116.2 411.1h0M172.5 335.3h0M216.9 351.0h0M110.2 410.3h0M172.4 352.3h0M130.5 406.6h0M120.5 417.1h0M172.5 363.6h0M113.5 406.8h0M174.8 356.6h0M143.1 386.5h0M118.0 418.0h0M173.9 317.1h0M126.9 406.6h0M140.2 398.5h0M169.6 354.3h0M215.5 332.2h0M132.1 401.3h0M159.8 395.2h0M127.2 416.1h0M109.2 419.2h0M169.5 376.3h0M169.0 351.6h0M208.2 311.8h0M137.5 384.9h0M257.0 256.9h0M118.0 404.6h0M128.2 404.3h0M162.1 375.1h0M105.5 421.1h0M180.6 373.1h0M151.0 392.8h0M162.2 388.7h0M113.6 421.6h0M130.1 386.8h0M155.3 349.9h0M180.8 360.2h0M164.0 389.8h0M190.4 358.4h0M283.1 243.1h0M133.0 377.7h0M116.5 415.9h0M274.9 231.2h0M120.2 404.4h0M232.0 337.9h0M156.1 353.2h0M118.4 402.0h0M178.5 339.3h0M264.6 268.8h0M101.3 425.8h0M157.2 363.6h0M152.0 376.2h0M228.8 290.0h0M166.9 329.8h0M120.1 417.2h0M174.4 366.0h0M183.1 341.5h0M134.2 395.0h0M145.1 390.7h0M118.3 410.8h0M182.2 351.4h0M141.3 370.3h0M170.2 335.1h0M138.9 392.4h0M124.1 406.0h0M130.6 403.3h0M271.3 281.8h0M208.6 310.5h0M186.3 318.3h0M240.7 340.4h0M149.3 394.5h0M141.4 373.6h0M109.8 413.1h0M191.1 360.6h0M225.7 335.1h0M145.1 402.3h0M242.9 260.0h0M121.2 408.5h0M146.3 386.4h0M163.3 381.4h0M197.4 314.2h0M223.0 320.2h0M120.2 398.6h0M197.7 338.8h0M366.9 144.2h0M129.2 396.4h0M186.0 341.8h0M145.2 389.8h0M170.8 316.5h0M132.8 382.2h0M205.6 350.5h0M119.2 396.6h0M170.3 382.8h0M174.0 344.2h0M147.3 372.8h0M131.1 399.7h0M255.5 301.8h0M143.3 398.4h0M193.9 313.3h0M146.9 393.8h0M170.9 359.7h0M162.7 364.3h0M143.4 395.4h0M161.1 386.4h0M120.4 418.6h0M145.5 390.7h0M139.4 377.1h0M153.6 379.1h0M127.3 406.1h0M120.8 393.8h0M104.3 420.9h0M190.6 317.4h0M127.4 399.3h0M118.4 408.3h0M102.9 424.6h0M128.6 399.4h0M182.3 323.3h0M242.4 281.8h0M104.0 423.1h0M258.1 308.6h0M135.4 406.0h0M114.2 406.0h0M139.0 372.9h0M149.8 392.1h0M206.6 351.3h0M136.1 381.1h0M143.5 390.4h0M150.9 378.7h0M160.4 342.0h0M209.9 305.7h0M153.5 375.8h0M163.4 339.1h0M217.9 356.6h0M187.1 357.4h0M131.3 350.2h0M123.1 401.1h0M125.0 388.9h0M132.2 406.5h0M212.8 264.8h0M114.0 423.3h0M197.5 317.4h0M205.4 316.3h0M179.7 369.2h0M131.0 393.4h0M179.0 400.7h0M162.8 352.1h0M155.0 376.2h0M112.4 421.8h0M133.0 411.0h0M150.5 397.4h0M129.6 411.1h0M173.9 376.4h0M153.1 378.3h0M274.6 296.5h0M142.6 397.1h0M157.1 398.4h0M215.3 261.8h0M187.6 331.5h0M132.9 419.0h0M177.6 338.2h0M113.7 394.5h0M168.2 357.4h0M302.0 217.0h0M140.1 384.0h0M172.9 307.5h0M155.3 327.2h0M232.6 290.7h0M146.6 406.7h0M157.4 375.2h0M202.9 367.2h0M151.0 398.5h0M128.6 391.4h0M167.7 367.1h0M195.3 345.3h0M173.3 346.5h0M123.7 399.7h0M171.0 375.4h0M145.2 360.4h0M235.9 318.1h0M127.2 397.0h0M142.7 391.8h0M248.6 286.4h0M144.6 390.5h0M120.7 401.4h0M132.9 387.6h0M136.5 394.2h0M129.4 388.1h0M255.7 311.5h0M128.3 398.2h0M118.3 420.6h0M175.9 384.1h0M166.9 346.5h0M162.8 370.4h0M172.7 356.0h0M192.5 358.8h0M170.5 374.0h0M116.9 420.9h0M156.5 376.8h0M123.6 405.9h0M165.8 365.7h0M156.5 375.7h0M231.4 305.5h0M125.4 404.8h0M121.1 404.3h0M126.2 411.6h0M172.1 348.0h0M117.4 405.1h0M128.4 413.6h0M193.8 355.5h0M120.3 413.2h0M115.5 421.3h0M124.7 410.2h0M161.6 379.7h0M110.6 410.3h0M150.4 376.0h0M121.7 394.4h0M196.2 339.1h0M144.4 386.5h0M259.4 275.3h0M149.2 384.9h0M114.5 392.5h0M144.2 366.9h0M142.4 386.3h0M144.6 408.7h0M312.2 229.4h0M205.4 299.8h0M198.7 323.6h0M207.8 330.6h0M120.2 403.8h0M132.0 395.8h0M121.3 414.9h0M203.6 321.9h0M247.2 263.4h0M133.7 388.1h0M150.3 383.0h0M141.6 396.2h0M167.4 364.8h0M152.6 368.2h0M162.1 363.1h0M162.0 344.9h0M160.7 376.1h0M143.7 387.8h0M222.0 313.6h0M166.3 356.5h0M133.0 408.0h0M211.6 284.6h0M151.6 383.3h0M176.7 316.9h0M138.9 370.2h0M270.0 297.0h0M248.6 275.2h0M149.2 372.4h0M147.2 384.0h0M138.0 385.2h0M183.8 365.0h0M167.0 342.4h0M107.8 421.9h0M125.1 407.5h0M152.7 364.1h0M110.4 426.5h0M141.9 366.5h0M123.2 397.7h0M145.4 401.0h0M129.0 413.9h0M135.4 390.3h0M115.6 405.6h0M133.5 394.6h0M124.5 403.8h0M191.1 335.3h0M129.1 381.0h0M156.0 365.3h0M137.1 406.1h0M169.5 327.8h0M150.6 362.2h0M135.3 395.6h0M206.3 328.5h0M134.5 376.3h0M294.7 199.6h0M162.8 371.5h0M147.3 362.3h0M161.6 374.7h0M223.6 311.8h0M175.0 385.9h0M139.4 395.5h0M109.2 402.6h0M274.5 298.9h0M238.3 327.5h0M225.3 278.6h0M155.3 386.8h0M116.5 407.5h0M148.0 351.4h0M125.7 408.0h0M138.6 398.5h0M202.4 298.7h0M130.9 393.4h0M112.5 407.9h0M156.7 376.8h0M109.0 419.4h0M181.7 362.1h0M127.7 412.2h0M237.2 320.6h0M117.6 419.1h0M112.1 407.8h0M130.6 389.7h0M116.5 413.5h0M146.5 385.7h0M175.3 358.4h0M134.3 379.9h0M171.1 359.7h0M172.3 387.1h0M150.8 381.9h0M130.9 415.1h0M143.8 393.1h0M209.2 343.7h0M217.9 359.6h0M196.1 372.5h0M126.0 405.0h0M209.6 307.7h0M126.1 400.4h0M159.3 385.5h0M262.3 293.6h0M107.8 422.5h0M144.8 371.3h0M176.1 331.3h0M139.0 391.1h0M111.1 424.2h0M185.1 328.7h0M210.1 312.4h0M245.8 300.0h0M124.3 414.7h0M113.3 420.5h0M152.6 357.3h0M257.4 238.4h0M145.1 390.2h0M199.2 326.6h0M123.5 391.1h0M192.5 368.6h0M193.4 349.8h0M139.2 394.5h0M252.4 269.1h0M158.4 396.1h0M258.0 261.5h0M137.4 408.3h0M114.3 410.7h0M108.6 422.7h0M213.3 331.2h0M153.5 362.5h0M137.5 393.2h0M133.0 407.0h0M129.7 391.3h0M226.3 312.4h0M174.0 350.8h0M102.1 424.3h0M119.2 420.5h0M109.8 417.5h0M156.8 357.8h0M138.1 356.7h0M220.4 359.9h0M131.0 391.0h0M125.1 379.5h0M128.7 398.5h0M184.1 346.0h0M119.3 414.1h0M140.5 408.1h0M104.3 421.2h0M202.9 359.1h0M119.7 422.2h0M129.2 393.5h0M141.1 375.0h0M131.6 389.6h0M102.6 425.6h0M184.0 367.3h0M188.0 345.2h0M158.6 378.4h0M141.3 399.8h0M145.3 380.7h0M307.7 251.9h0M126.4 406.2h0M116.5 403.1h0M193.3 340.8h0M262.8 273.0h0M196.0 314.3h0M161.6 388.9h0M256.3 266.3h0M127.2 391.4h0M171.9 346.5h0M110.7 423.8h0M183.2 326.1h0M153.6 384.1h0M213.4 296.8h0M179.9 373.4h0M138.0 370.4h0M145.3 388.7h0M164.0 370.9h0M148.7 398.8h0M195.8 348.7h0M112.6 408.7h0M168.1 353.0h0M213.0 319.5h0M129.2 416.7h0M267.0 242.7h0M146.7 378.4h0M124.0 396.0h0M182.2 359.0h0M169.7 350.6h0M171.8 371.1h0M113.6 424.6h0M217.6 363.7h0M182.7 331.0h0M128.3 406.2h0M260.1 274.6h0M159.9 395.2h0M151.9 347.6h0M114.4 420.0h0M193.3 376.6h0M123.8 417.1h0M114.2 420.4h0M149.8 366.0h0M220.7 300.0h0M128.0 398.7h0M124.3 412.5h0M204.1 306.1h0M204.0 329.6h0M143.7 372.3h0M174.3 373.1h0M125.0 411.5h0M120.0 417.1h0M117.3 418.0h0M146.0 396.4h0M184.5 335.3h0M144.0 393.5h0M166.0 390.6h0M191.1 352.6h0M107.3 426.5h0M223.4 355.3h0M165.8 363.7h0M121.2 409.2h0M144.2 388.2h0M109.1 414.0h0M196.0 370.6h0M148.3 373.9h0M142.7 385.7h0M120.5 417.5h0M157.8 348.9h0M186.9 370.5h0M179.6 349.2h0M110.9 417.3h0M142.5 393.7h0M140.2 399.3h0M183.2 326.1h0M174.9 329.4h0M178.0 364.9h0M178.9 319.6h0M152.2 374.5h0M138.2 383.2h0M151.8 381.7h0M120.5 413.9h0M161.3 363.4h0M159.9 365.3h0M223.5 329.6h0M173.7 369.0h0M115.9 411.0h0M147.9 372.0h0M141.0 362.2h0M182.8 350.1h0M154.9 374.0h0M140.2 400.1h0M140.6 357.8h0M156.6 370.5h0M120.2 407.3h0M121.2 398.1h0M150.3 368.9h0M214.8 337.2h0M162.1 374.6h0M142.4 371.4h0M169.4 355.1h0M158.5 380.6h0M113.2 419.1h0M128.7 390.5h0M230.9 332.7h0M158.5 375.3h0M116.4 406.3h0M149.5 364.1h0M154.9 391.1h0M295.2 239.0h0M123.2 404.8h0M177.5 348.0h0M218.5 319.1h0M188.5 355.9h0M122.0 411.1h0M157.3 371.4h0M127.1 403.8h0M128.6 382.5h0M178.3 344.4h0M110.0 417.0h0M190.7 324.1h0M250.6 288.8h0M178.7 331.3h0M144.8 393.5h0M241.9 260.9h0M162.2 355.9h0M111.5 421.9h0M120.7 403.2h0M170.0 369.2h0M151.4 365.9h0M188.0 365.0h0M171.4 355.2h0M121.9 396.6h0M141.4 396.2h0M185.6 382.8h0M280.1 272.1h0M197.4 320.5h0M226.5 307.2h0M203.4 365.3h0M150.7 388.0h0M137.0 399.4h0M123.4 420.8h0M154.5 383.6h0M168.2 366.3h0M134.3 401.8h0M112.1 421.4h0M104.4 421.4h0M111.3 426.0h0M243.5 303.4h0M232.8 268.9h0M197.7 330.3h0M196.7 366.3h0M171.4 351.3h0M123.5 423.2h0M316.1 228.0h0M147.2 376.0h0M169.4 384.8h0M133.7 389.7h0M113.8 417.0h0M165.5 366.8h0M166.5 348.9h0M115.1 415.2h0M271.6 305.2h0M233.3 340.1h0M116.0 417.6h0M138.2 392.6h0M270.9 244.3h0M145.7 397.6h0M143.0 394.1h0M152.8 370.6h0M185.2 376.5h0M149.4 383.6h0M186.7 320.0h0M145.3 391.1h0M131.9 397.4h0M109.0 421.6h0M160.0 363.1h0M285.6 234.4h0M180.7 354.5h0M222.5 319.8h0M170.0 367.5h0M160.1 360.7h0M107.7 426.7h0M126.7 390.3h0M158.4 405.6h0M182.0 336.0h0M133.2 375.2h0M110.2 420.3h0M107.0 421.2h0M139.1 387.3h0M133.1 353.3h0M282.4 223.1h0M112.6 408.2h0M133.6 402.9h0M131.9 398.2h0M257.7 285.3h0M142.8 392.4h0M149.3 390.5h0M173.6 354.7h0M220.6 334.5h0M147.9 370.1h0M179.3 348.8h0M107.4 420.4h0M217.5 331.7h0M182.8 337.6h0M143.2 373.7h0M217.8 295.9h0M185.9 320.9h0M140.8 370.5h0M104.9 420.0h0M206.0 337.8h0M155.6 380.8h0M241.4 280.6h0M142.7 363.2h0M110.3 415.3h0M159.7 377.8h0M151.3 369.0h0M167.1 351.5h0M189.0 350.1h0M156.7 383.0h0M114.1 425.3h0M121.2 418.9h0M161.7 384.2h0M141.3 361.9h0M207.5 317.6h0M149.5 363.0h0M201.9 321.2h0M165.0 368.4h0M129.3 382.2h0M266.5 266.5h0M143.9 374.3h0M147.2 379.1h0M166.0 375.7h0M209.3 333.7h0M139.0 383.5h0M166.3 370.9h0M125.2 392.4h0M176.3 361.2h0M103.8 424.7h0M130.1 399.9h0M134.9 396.7h0M142.1 382.0h0M139.1 395.1h0M211.8 335.6h0M195.2 350.2h0M121.8 407.2h0M161.1 366.0h0M219.7 279.0h0M130.7 396.4h0M135.8 384.2h0M167.4 343.0h0M115.1 416.6h0M141.5 373.1h0M231.0 313.7h0M287.0 291.9h0M136.6 419.1h0M220.9 314.5h0M114.9 408.2h0M289.5 252.4h0M139.4 370.9h0M133.5 379.7h0M192.0 357.3h0M241.5 278.1h0M170.0 327.7h0M229.4 319.8h0M219.8 329.5h0M201.2 321.5h0M288.6 219.8h0M220.7 311.3h0M158.5 364.9h0M171.4 351.8h0M114.2 413.8h0M111.5 417.1h0M150.2 392.7h0M173.8 388.9h0M147.2 390.0h0M155.6 386.9h0M243.7 342.3h0M157.5 345.8h0M112.7 421.8h0M185.2 321.3h0M205.7 345.9h0M156.5 369.7h0M165.5 359.3h0M135.7 391.3h0M181.8 353.2h0M140.3 393.8h0M153.8 378.1h0M149.9 356.8h0M166.0 377.9h0M249.1 286.2h0M156.5 391.5h0M193.8 292.5h0M162.3 352.2h0M139.7 393.5h0M148.5 396.7h0M198.3 356.4h0M271.8 269.9h0M130.2 405.1h0M122.5 411.1h0M245.4 291.2h0M218.7 344.3h0M166.7 360.4h0M115.3 416.0h0M210.6 303.3h0M118.6 420.3h0M195.6 315.6h0M140.8 375.1h0M156.9 368.0h0M148.1 393.6h0M132.7 406.2h0M142.8 389.6h0M182.5 341.2h0M106.3 422.6h0M115.9 414.7h0M215.6 358.4h0M173.9 363.3h0M280.2 251.8h0M121.3 413.6h0M123.7 404.0h0M145.9 367.7h0M172.4 379.8h0M164.3 357.2h0M175.6 371.7h0M205.6 349.6h0M110.3 422.0h0M149.2 346.5h0M133.9 390.5h0M135.7 397.8h0M247.6 252.7h0M143.9 386.1h0M221.0 298.2h0M368.3 188.4h0M151.0 393.7h0M169.9 386.2h0M146.8 370.2h0M176.2 380.7h0M226.8 267.4h0M222.8 345.8h0M163.7 368.2h0M157.8 370.2h0M133.6 408.6h0M195.2 378.5h0M121.2 413.9h0M122.5 393.0h0M149.0 357.5h0M138.1 406.5h0M115.2 415.8h0M153.3 381.7h0M119.1 402.8h0M179.2 344.1h0M173.8 374.4h0M109.9 406.1h0M165.9 349.0h0M201.1 350.8h0M153.7 355.5h0M142.1 377.1h0M132.3 383.5h0M295.9 266.2h0M161.9 366.1h0M164.6 378.2h0M146.3 387.1h0M121.0 411.6h0M135.2 391.0h0M196.3 358.6h0M161.3 349.0h0M175.3 364.6h0M158.5 365.4h0M127.3 404.6h0M156.5 369.6h0M197.3 313.6h0M158.1 378.9h0M103.1 424.8h0M131.6 403.5h0M107.8 421.4h0M126.4 405.6h0M316.8 231.1h0M153.7 405.1h0M130.6 407.9h0M113.4 421.1h0M149.4 388.6h0M211.9 285.4h0M132.0 408.2h0M169.9 348.6h0M140.8 341.0h0M139.5 401.7h0M186.5 333.7h0M135.5 386.4h0M129.3 401.4h0M131.0 398.3h0M160.2 357.9h0M248.2 217.4h0M215.8 333.8h0M128.2 397.6h0M155.8 371.9h0M117.5 394.1h0M118.5 399.1h0M104.4 417.7h0M166.0 353.1h0M132.4 394.0h0M146.7 383.4h0M175.6 362.4h0M117.2 418.4h0M117.8 410.5h0M168.1 345.9h0M120.6 407.8h0M129.6 413.9h0M196.9 319.5h0M130.8 357.7h0M225.7 306.7h0M276.4 282.2h0M220.7 274.9h0M117.2 419.6h0M162.2 366.0h0M198.6 324.1h0M176.3 365.1h0M145.6 396.6h0M120.2 408.4h0M200.8 357.4h0M113.0 415.6h0M109.7 418.7h0M129.5 410.9h0M148.7 370.5h0M244.7 319.4h0M141.1 386.6h0M211.2 338.9h0M128.2 412.5h0M139.8 396.9h0M138.3 390.6h0M126.4 397.5h0M206.9 307.4h0M115.9 419.9h0M214.8 318.7h0M190.0 390.0h0M176.2 335.2h0M127.5 403.4h0M185.8 348.6h0M110.1 422.1h0M161.3 396.7h0M164.2 360.8h0M128.0 401.5h0M114.4 417.0h0M120.4 401.8h0M140.9 391.8h0M139.2 397.7h0M104.0 422.5h0M185.4 350.9h0M118.2 418.0h0M183.7 387.2h0M130.1 405.1h0M111.2 421.7h0M206.8 352.0h0M140.5 384.5h0M185.2 378.0h0M171.8 361.2h0M164.2 365.9h0M122.6 399.3h0M172.1 359.2h0M200.6 337.8h0M124.1 397.2h0M114.8 406.0h0M129.9 398.5h0M217.5 336.3h0M144.4 379.5h0M247.2 314.3h0M129.4 386.7h0M150.5 376.5h0M247.6 307.5h0M226.0 255.4h0M203.0 361.7h0M115.2 408.4h0M155.4 380.8h0M153.4 385.0h0M126.2 416.1h0M243.9 338.2h0M167.4 359.0h0M128.5 410.7h0M114.7 409.1h0M161.3 370.4h0M109.0 420.3h0M174.0 306.1h0M144.9 404.8h0M115.8 414.3h0M181.7 358.6h0M121.8 403.5h0M147.7 385.6h0M163.2 376.8h0M125.6 411.7h0M171.9 363.5h0M242.2 327.1h0M197.3 316.9h0M169.6 402.2h0M183.5 334.8h0M118.0 409.4h0M144.8 385.3h0M213.6 326.2h0M117.2 406.9h0M153.4 364.7h0M181.9 329.0h0M160.6 377.4h0M252.1 267.2h0M138.6 393.6h0M136.3 400.1h0M110.8 414.0h0M173.9 381.1h0M159.6 375.9h0M131.7 410.7h0M187.5 380.0h0M227.5 270.7h0M130.5 393.2h0M221.3 302.1h0M201.1 358.4h0M145.7 385.7h0M104.0 424.4h0M160.6 397.9h0M123.5 401.4h0M162.1 361.5h0M123.9 387.9h0M150.2 393.3h0M119.5 394.4h0M132.0 398.1h0M166.2 357.6h0M106.7 420.5h0M182.5 287.4h0M168.2 340.5h0M103.8 419.3h0M163.6 366.1h0M133.6 389.0h0M126.7 395.2h0M152.0 396.3h0M143.8 383.8h0M124.0 405.1h0M131.0 393.5h0M184.5 303.0h0M109.8 417.5h0M191.2 331.8h0M125.1 404.7h0M172.1 357.0h0M118.3 420.6h0M126.1 406.5h0M147.4 394.7h0M108.1 427.9h0M111.7 413.1h0M250.9 304.6h0M202.0 354.1h0M220.0 354.7h0M166.0 339.6h0M124.3 392.2h0M250.5 269.7h0M302.9 236.1h0M116.3 411.1h0M146.2 377.0h0M145.2 384.4h0M146.6 380.4h0M219.2 356.0h0M150.1 378.6h0M159.7 378.2h0M152.9 381.1h0M115.8 415.8h0M272.4 295.2h0M113.0 416.5h0M135.6 387.7h0M157.4 401.9h0M182.4 377.9h0M163.6 335.5h0M109.7 427.2h0M152.5 366.3h0M117.6 406.8h0M153.1 340.3h0M164.5 371.9h0M105.4 428.1h0M117.3 418.0h0M152.8 388.8h0M199.3 369.0h0M205.0 354.2h0M173.7 367.9h0M133.0 402.7h0M156.1 361.9h0M143.2 377.5h0M132.5 398.1h0M229.2 350.1h0M151.8 370.1h0M158.1 377.8h0M213.4 364.5h0M136.4 400.5h0M153.6 389.0h0M116.9 414.2h0M122.0 406.4h0M109.0 412.9h0M120.4 415.4h0M120.2 409.9h0M152.9 392.8h0M180.3 363.1h0M138.5 406.3h0M155.5 377.1h0M287.2 229.9h0M130.9 403.5h0M131.7 382.5h0M136.6 395.5h0M237.3 271.4h0M162.7 373.8h0M112.5 418.8h0M150.0 349.6h0M127.1 411.6h0M142.2 379.7h0M202.7 366.7h0M160.3 375.1h0M117.1 407.4h0M105.6 414.4h0M125.6 397.4h0M161.0 366.6h0M130.5 403.2h0M130.8 403.5h0M150.0 380.2h0M197.1 332.0h0M101.1 426.0h0M122.4 414.7h0M116.9 419.3h0M128.2 391.2h0M183.4 331.5h0M177.5 362.3h0M157.0 377.3h0M173.2 346.0h0M147.8 387.0h0M160.0 382.2h0M250.1 277.3h0M177.9 336.2h0M227.2 328.7h0M285.8 256.7h0M114.7 412.7h0M322.8 255.1h0M117.4 415.4h0M210.7 296.8h0M149.8 392.9h0M282.4 232.2h0M189.6 278.8h0M122.6 402.6h0M189.3 362.6h0M154.6 326.0h0M126.5 396.7h0M152.6 360.0h0M129.3 397.9h0M145.5 395.0h0M149.8 382.9h0M155.2 379.1h0M113.6 404.1h0M252.8 245.2h0M115.0 417.7h0M157.2 369.3h0M127.9 397.2h0M208.8 288.1h0M131.0 389.7h0M142.4 401.3h0M247.2 251.9h0M141.0 402.7h0M153.8 384.0h0M133.4 411.0h0M178.8 359.9h0M154.4 363.8h0M120.0 410.6h0M154.1 357.5h0M128.1 392.1h0M172.4 362.7h0M120.6 414.1h0M177.3 319.8h0M194.0 318.2h0M119.8 402.7h0M139.9 373.1h0M184.0 353.3h0M116.4 418.5h0M153.3 374.3h0M169.1 371.1h0M119.0 416.2h0M128.9 409.7h0M223.7 310.4h0M170.7 366.3h0M137.4 388.2h0M117.8 408.9h0M166.5 336.7h0M130.0 397.7h0M300.3 224.2h0M161.1 360.7h0M205.5 320.9h0M157.1 367.3h0M248.5 297.2h0M165.9 362.5h0M128.2 413.1h0M152.3 359.5h0M138.9 389.6h0M155.5 367.2h0M152.3 396.7h0M157.1 388.0h0M135.2 402.0h0M149.8 404.9h0M152.2 361.1h0M138.3 384.8h0M205.1 325.3h0M178.2 326.3h0M148.4 403.8h0M121.2 416.8h0M209.9 293.0h0M133.1 389.4h0M117.5 414.3h0M125.3 401.7h0M140.6 389.0h0M233.4 309.9h0M199.2 345.4h0M164.3 382.6h0M115.5 415.8h0M140.5 393.2h0M127.0 395.3h0M258.8 315.4h0M145.8 386.0h0M329.7 212.2h0M182.9 363.8h0M129.6 404.6h0M146.5 359.3h0M117.1 399.2h0M195.1 380.1h0M103.7 423.6h0M238.5 336.0h0M170.3 380.6h0M201.8 353.4h0M120.7 418.9h0M293.8 210.2h0M111.2 409.8h0M175.4 386.6h0M114.3 413.1h0M137.2 389.2h0M170.2 370.1h0M113.6 419.7h0M147.6 387.1h0M175.0 363.7h0M124.6 413.9h0M199.5 337.5h0M143.6 386.4h0M116.8 413.5h0M134.4 407.6h0M121.3 404.2h0M158.6 392.5h0M188.7 358.9h0M159.8 389.7h0M181.3 384.9h0M149.3 380.5h0M185.3 364.4h0M193.2 306.0h0M112.0 420.7h0M150.2 367.6h0M150.2 393.2h0M243.4 305.7h0M197.9 321.8h0M116.7 417.6h0M137.3 403.8h0M108.1 423.0h0M157.8 352.2h0M158.8 366.0h0M136.6 388.8h0M105.6 413.1h0M162.5 354.6h0M124.9 410.3h0M179.1 349.0h0M128.9 412.2h0M288.1 252.4h0M211.5 281.6h0M223.0 295.8h0M110.2 425.8h0M212.5 338.4h0M232.2 339.1h0M117.1 393.7h0M152.9 385.2h0M141.2 403.4h0M173.3 319.6h0M299.2 230.3h0M121.9 416.2h0M118.3 418.5h0M186.9 368.7h0M121.2 411.6h0M190.8 345.7h0M136.0 390.6h0M180.4 369.3h0M204.5 342.5h0M156.4 368.6h0M185.2 313.6h0M113.1 403.4h0M114.1 409.2h0M169.7 382.8h0M120.1 413.4h0M145.2 376.7h0M185.5 365.4h0M160.3 390.5h0M185.2 378.2h0M164.4 368.4h0M145.3 391.5h0M141.2 403.8h0M224.7 298.1h0M232.0 321.6h0M138.7 405.5h0M213.4 348.8h0M150.4 397.8h0M176.2 344.4h0M113.3 413.5h0M192.8 356.1h0M197.4 353.9h0M107.2 412.9h0M164.1 351.6h0M208.4 285.5h0M144.6 379.3h0M213.2 315.9h0M121.8 407.7h0M114.5 405.4h0M108.5 409.5h0M191.3 330.1h0M104.7 425.8h0M174.0 334.2h0M137.1 384.2h0M194.9 339.1h0M167.4 374.5h0M155.9 385.3h0M165.9 328.3h0M207.0 334.1h0M216.6 322.4h0M212.5 327.7h0M206.4 354.8h0M129.5 396.2h0M144.5 386.9h0M109.4 419.3h0M132.6 380.4h0M144.6 388.8h0M224.6 303.4h0M273.0 276.0h0M114.6 410.2h0M108.8 420.0h0M123.0 397.9h0M146.8 355.9h0M279.1 286.2h0M110.5 410.6h0M118.3 420.0h0M119.5 418.0h0M246.0 337.0h0M122.0 393.9h0M142.4 394.7h0M115.4 411.5h0M182.9 361.6h0M127.7 383.5h0M159.6 389.9h0M127.8 403.4h0M136.5 405.8h0M218.4 319.7h0M124.4 392.4h0M178.5 345.9h0M133.3 394.1h0M115.9 409.7h0M169.2 371.2h0M127.5 413.3h0M161.7 386.7h0M210.4 333.7h0M133.0 383.1h0M128.2 402.7h0M213.8 330.1h0M144.9 385.0h0M130.4 407.1h0M143.8 374.4h0M175.0 337.8h0M186.8 361.4h0M150.3 348.6h0M186.6 369.9h0M144.8 379.8h0M117.9 415.0h0M144.4 374.1h0M106.4 420.7h0M169.7 359.8h0M119.1 409.8h0M120.4 419.4h0M256.6 314.0h0M158.8 372.1h0M155.0 371.0h0M140.9 396.3h0M148.7 372.6h0M122.6 398.3h0M141.9 407.3h0M147.9 377.6h0M136.5 365.8h0M223.1 308.5h0M127.4 403.3h0M186.6 331.7h0M160.9 361.6h0M135.9 399.1h0M168.4 349.3h0M138.4 399.2h0M119.1 412.4h0M169.6 339.0h0M155.9 377.5h0M226.0 294.8h0M154.1 391.0h0M161.7 370.4h0M153.2 371.6h0M127.6 380.2h0M180.7 367.4h0M172.7 355.3h0M179.5 362.2h0M119.7 406.6h0M145.2 395.7h0M251.7 256.9h0M166.2 382.3h0M120.6 394.5h0M111.9 418.6h0M221.0 315.9h0M201.0 327.0h0M163.9 361.8h0M133.0 393.8h0M167.8 339.6h0M206.9 322.3h0M160.8 380.1h0M161.3 390.3h0M139.1 397.5h0M157.0 388.2h0M119.2 404.1h0M171.2 379.4h0M125.2 409.7h0M127.5 400.9h0M112.8 408.1h0M117.4 422.1h0M154.6 378.1h0M241.0 264.3h0M109.4 427.7h0M142.9 377.6h0M115.3 426.0h0M147.5 384.7h0M112.7 422.9h0M148.6 388.2h0M132.4 394.7h0M141.0 366.2h0M172.5 373.5h0M132.8 376.8h0M135.0 372.4h0M130.1 412.9h0M129.4 400.8h0M135.1 388.6h0M135.4 374.7h0M153.6 364.6h0M170.3 367.9h0M115.4 418.2h0M188.0 323.1h0M172.2 372.6h0M145.0 381.9h0M148.0 382.0h0M124.3 412.8h0M148.4 335.5h0M102.9 427.4h0M100.4 423.4h0M167.1 339.4h0M122.8 398.2h0M144.6 393.9h0M127.5 408.0h0M176.7 352.1h0M119.9 411.8h0M156.8 391.2h0M145.1 343.3h0M204.4 263.1h0M192.7 321.8h0M148.6 379.5h0M189.4 347.4h0M137.7 403.8h0M145.5 379.1h0M183.9 347.5h0M215.7 299.1h0M113.1 411.7h0M123.3 383.4h0M170.0 361.3h0M174.8 350.8h0M163.8 371.3h0M141.3 385.0h0M124.6 413.8h0M111.6 408.7h0M163.0 357.4h0M137.9 406.0h0M141.1 389.5h0M121.1 399.0h0M130.4 393.3h0M124.6 410.9h0M133.3 390.1h0M137.4 389.2h0M173.6 368.6h0M120.8 407.3h0M110.5 425.3h0M138.5 396.6h0M169.8 382.3h0M126.5 394.7h0M173.1 333.2h0M151.1 385.9h0M122.0 407.4h0M163.1 335.2h0M175.9 382.6h0M140.3 391.3h0M116.1 411.1h0M105.4 423.2h0M173.1 366.7h0M207.6 369.3h0M178.3 366.7h0M144.4 370.7h0M138.3 399.3h0M235.4 290.1h0M160.8 373.2h0M190.6 316.2h0M148.6 391.2h0M175.8 347.7h0M183.8 341.5h0M128.5 411.2h0M113.2 415.8h0M163.5 347.3h0M189.0 332.2h0M181.6 363.6h0M139.8 398.2h0M114.1 423.5h0M133.1 408.4h0M226.9 359.4h0M183.3 339.6h0M138.6 392.2h0M187.4 344.7h0M126.1 373.0h0M122.9 407.7h0M143.2 376.9h0M132.1 410.4h0M196.0 344.1h0M128.9 407.8h0M157.0 371.5h0M222.7 337.5h0M151.6 389.2h0M128.7 408.4h0M192.0 333.0h0M181.8 374.4h0M205.2 321.9h0M142.3 382.2h0M166.4 362.8h0M136.3 379.2h0M172.4 357.2h0M150.3 377.9h0M134.6 393.9h0M114.4 410.7h0M124.2 402.7h0M136.1 394.4h0M160.8 357.0h0M178.2 368.4h0M137.7 382.8h0M202.4 357.5h0M231.4 264.4h0M139.5 398.3h0M182.7 353.6h0M167.8 367.8h0M158.1 363.8h0M167.8 392.8h0M104.3 428.1h0M193.1 321.0h0M105.2 424.5h0M169.2 381.8h0M172.6 328.7h0M155.8 335.7h0M122.5 414.7h0M117.9 415.8h0M163.7 386.6h0M111.2 422.7h0M229.4 307.3h0M212.3 262.9h0M152.9 395.8h0M130.6 376.5h0M157.9 373.7h0M280.0 260.9h0M123.0 411.7h0M122.5 403.3h0M171.6 366.9h0M133.8 399.4h0M192.3 343.3h0M288.0 241.9h0M183.8 341.0h0M129.9 403.9h0M163.1 381.0h0M137.0 386.2h0M118.1 412.0h0M181.3 349.1h0M246.3 336.7h0M178.3 354.6h0M265.6 286.0h0M129.0 410.9h0M147.6 390.1h0M116.7 419.8h0M170.8 391.8h0M240.5 323.6h0M143.4 374.9h0M138.7 395.0h0M196.5 355.6h0M219.9 313.0h0M177.0 388.7h0M137.6 373.5h0M207.1 295.8h0M174.9 359.5h0M222.5 300.3h0M133.6 404.2h0M154.5 384.1h0M132.8 401.2h0M113.0 420.9h0M118.2 409.2h0M188.8 367.5h0M188.1 330.0h0M147.2 396.2h0M135.5 394.3h0M207.2 291.6h0M120.8 393.9h0M192.3 370.5h0M115.4 411.6h0M106.7 417.4h0M157.9 373.1h0M137.9 374.1h0M133.5 405.4h0M111.8 419.2h0M142.0 349.6h0M121.8 403.0h0M246.1 260.4h0M176.2 358.4h0M133.0 400.2h0M115.2 409.6h0M148.3 381.7h0M120.9 394.4h0M118.5 417.3h0M189.9 361.0h0M124.1 403.1h0M191.6 370.5h0M128.6 396.3h0M153.5 350.8h0M145.6 353.7h0M222.4 340.7h0M197.8 343.0h0M119.2 405.4h0M200.1 342.3h0M263.1 255.8h0M131.2 413.5h0M188.1 345.4h0M144.0 378.3h0M175.1 368.6h0M344.2 175.0h0M120.5 409.8h0M158.1 377.8h0M122.7 415.1h0M146.0 387.6h0M194.2 328.0h0M153.3 381.4h0M119.3 406.6h0M196.3 322.0h0M183.1 370.9h0M126.2 404.4h0M163.8 345.4h0M106.4 422.0h0M161.9 374.1h0M150.3 397.6h0M212.9 314.8h0M145.4 382.6h0M107.2 418.3h0M316.0 219.4h0M153.3 377.3h0M157.0 367.9h0M109.6 413.7h0M252.4 252.8h0M217.7 262.3h0M240.0 303.8h0M163.0 346.5h0M199.6 324.8h0M175.6 315.9h0M115.2 418.4h0M218.5 292.6h0M114.4 412.1h0M193.2 357.6h0M194.7 335.6h0M109.9 421.9h0M208.8 334.3h0M180.8 364.2h0M182.3 375.4h0M138.0 388.0h0M161.9 367.5h0M197.2 329.7h0M126.5 405.4h0M117.9 410.7h0M216.1 332.0h0M106.3 427.8h0M211.4 309.0h0M104.0 425.7h0M144.3 379.2h0M219.8 300.3h0M233.2 329.3h0M141.7 401.9h0M211.4 338.2h0M172.9 309.9h0M183.2 369.8h0M117.6 405.9h0M263.1 247.9h0M130.1 405.0h0M266.8 245.7h0M178.1 348.8h0M207.2 323.2h0M195.9 327.2h0M161.6 345.0h0M129.1 394.8h0M142.7 406.3h0M132.9 403.8h0M114.6 406.5h0M125.7 379.2h0M166.0 382.5h0M136.0 379.8h0M228.4 340.7h0M134.6 380.2h0M205.4 331.3h0M162.5 344.4h0M240.5 274.0h0M189.0 358.9h0M234.3 321.5h0M208.1 353.5h0M169.2 390.2h0M124.7 414.0h0M161.6 367.6h0M166.9 370.3h0M197.7 319.5h0M115.8 417.7h0M149.1 371.5h0M180.6 339.8h0M202.0 339.5h0M141.4 402.6h0M123.6 419.8h0M165.7 351.5h0M115.2 415.9h0M173.3 388.1h0M159.0 384.0h0M167.7 369.9h0M207.6 281.6h0M189.3 313.8h0M178.6 356.5h0M181.7 332.2h0M160.6 392.1h0M176.4 363.5h0M172.2 366.5h0M143.5 402.5h0M150.8 358.5h0M275.3 265.3h0M142.9 368.0h0M178.0 381.6h0M120.8 402.1h0M123.4 400.2h0M122.8 415.5h0M128.7 399.0h0M230.9 292.8h0M151.3 368.5h0M106.7 425.8h0M235.9 318.5h0M139.9 402.0h0M122.8 406.7h0M245.2 301.5h0M159.0 372.1h0M309.1 284.8h0M168.5 367.4h0M140.5 408.3h0M131.1 398.2h0M147.4 361.1h0M133.0 394.2h0M187.1 350.2h0M142.3 375.6h0M294.3 290.3h0M139.0 397.8h0M161.5 347.9h0M277.1 266.8h0M215.8 362.2h0M262.2 295.3h0M235.8 281.7h0M145.2 377.8h0M138.0 390.8h0M102.8 424.9h0M154.6 374.1h0M148.8 378.3h0M159.6 351.1h0M277.4 300.9h0M127.9 364.1h0M141.6 383.8h0M154.3 326.1h0M146.6 381.1h0M130.6 384.3h0M126.7 398.5h0M151.0 372.2h0M169.7 358.0h0M125.1 406.9h0M127.7 385.8h0M150.1 365.7h0M118.3 397.5h0M215.7 352.4h0M223.8 355.0h0M139.8 383.7h0M321.0 167.9h0M219.6 340.0h0M191.3 362.0h0M180.0 368.0h0M220.3 313.0h0M227.2 274.4h0M175.4 356.5h0M334.2 188.1h0M170.3 386.5h0M146.6 405.3h0M126.5 401.4h0M137.0 389.6h0M152.8 387.5h0M140.5 386.9h0M134.4 394.6h0M175.9 339.4h0M120.8 413.9h0M117.1 413.5h0M140.5 361.9h0M147.7 393.5h0M128.5 405.8h0M287.0 257.5h0M139.8 380.3h0M179.6 368.8h0M122.7 417.2h0M423.8 118.5h0M151.5 397.6h0M197.6 325.5h0M147.3 348.9h0M175.7 339.5h0M131.7 392.9h0M103.1 426.3h0M115.0 417.7h0M267.7 303.9h0M191.6 361.9h0M174.0 335.2h0M143.3 403.3h0M131.8 376.3h0M148.1 396.8h0M122.0 411.9h0M198.7 352.9h0M137.8 405.3h0M112.4 420.8h0M158.6 375.6h0M152.6 382.1h0M130.3 396.1h0M164.1 364.0h0M166.6 334.3h0M218.6 322.7h0M140.1 400.7h0M135.1 402.6h0M188.5 344.8h0M147.8 363.5h0M139.4 389.2h0M201.0 339.7h0M226.1 299.4h0M201.5 357.9h0M126.0 408.3h0M213.4 344.6h0M140.7 382.0h0M157.5 386.0h0M299.1 248.3h0M212.7 347.9h0M160.3 365.0h0M164.1 384.1h0M106.6 413.3h0M193.9 360.0h0M142.6 375.7h0M166.1 353.7h0M219.1 288.0h0M128.9 400.2h0M188.7 363.8h0M102.0 420.6h0M108.9 421.0h0M182.6 369.8h0M177.8 319.2h0M131.9 399.3h0M222.7 326.0h0M148.6 371.7h0M209.9 318.3h0M126.1 398.7h0M126.3 404.7h0M204.6 298.1h0M222.6 295.9h0M126.9 406.9h0M233.4 296.1h0M161.7 346.7h0M123.1 407.6h0M131.1 406.0h0M150.5 377.7h0M142.5 380.1h0M191.0 326.4h0M152.8 395.3h0M114.5 422.1h0M204.3 333.2h0M266.0 242.1h0M109.3 420.5h0M182.6 306.8h0M107.9 414.6h0M175.2 336.3h0M139.3 388.9h0M119.6 412.1h0M165.0 379.7h0M129.7 398.9h0M266.3 293.1h0M141.1 377.1h0M184.1 378.4h0M146.3 364.9h0M198.1 337.1h0M134.9 403.1h0M278.1 248.2h0M162.8 365.2h0M164.3 365.0h0M168.3 383.5h0M188.7 392.4h0M137.9 379.9h0M139.5 390.7h0M138.3 383.0h0M190.8 385.6h0M211.2 329.0h0M179.6 370.0h0M147.4 381.4h0M165.3 344.3h0M216.9 344.2h0M174.7 345.0h0M249.8 266.8h0M174.6 390.4h0M159.3 373.0h0M135.3 395.5h0M131.3 402.3h0M161.8 359.5h0M135.1 379.5h0M179.2 333.4h0M138.9 375.2h0M152.4 362.6h0M272.6 260.3h0M206.3 340.4h0M224.9 337.2h0M141.4 408.7h0M129.3 406.8h0M138.3 388.7h0M221.4 312.9h0M125.3 406.1h0M152.4 364.0h0M235.8 270.3h0M143.7 390.0h0M157.9 374.7h0M202.3 363.1h0M110.7 413.9h0M228.3 306.9h0M163.8 402.9h0M145.6 385.1h0M111.4 420.5h0M127.1 396.5h0M103.3 427.6h0M214.5 303.4h0M240.6 304.5h0M124.7 398.1h0M224.3 335.9h0M179.1 354.7h0M126.2 402.8h0M124.7 408.7h0M108.8 417.7h0M113.0 415.6h0M178.2 346.9h0M285.0 240.2h0M173.6 346.6h0M107.7 420.5h0M146.0 396.3h0M150.8 380.4h0M116.1 416.4h0M127.3 406.4h0M168.8 360.4h0M141.9 388.7h0M135.8 407.5h0M110.9 421.2h0M184.3 320.1h0M165.5 352.2h0M299.1 280.5h0M118.0 416.5h0M179.4 342.8h0M202.5 359.6h0M157.7 370.3h0M122.0 394.3h0M135.7 389.9h0M162.8 382.8h0M106.9 422.5h0M207.0 365.4h0M158.1 374.4h0M153.8 402.0h0M163.6 376.4h0M175.0 388.1h0M180.9 364.9h0M165.3 373.1h0M122.5 399.4h0M130.7 396.3h0M143.0 357.7h0M141.6 370.0h0M235.7 293.0h0M129.0 395.1h0M145.7 397.0h0M142.4 388.2h0M116.6 417.2h0M167.5 380.1h0M119.9 402.8h0M141.6 396.8h0M124.8 403.0h0M149.2 386.0h0M151.7 363.2h0M146.5 377.9h0M180.4 379.4h0M119.0 409.4h0M121.4 379.4h0M248.3 263.2h0M130.4 387.7h0M169.3 349.3h0M181.4 307.5h0M110.5 422.9h0M164.9 376.7h0M141.4 394.5h0M171.0 383.0h0M157.8 387.4h0M163.6 342.9h0M121.3 414.1h0M118.0 417.2h0M157.8 347.5h0M154.3 367.0h0M106.3 426.4h0M251.3 296.7h0M145.8 387.7h0M147.4 382.1h0M108.1 417.5h0M152.8 371.7h0M177.0 370.8h0M183.9 350.5h0M126.9 414.3h0M401.8 139.2h0M168.9 321.1h0M215.8 349.5h0M275.1 268.0h0M141.6 377.4h0M160.3 366.5h0M106.3 425.6h0M111.1 423.2h0M152.8 389.4h0M151.6 367.4h0M147.4 384.8h0M135.2 391.8h0M172.8 343.2h0M198.4 364.9h0M150.2 401.5h0M151.4 372.5h0M162.6 348.7h0M161.5 369.2h0M111.5 414.9h0M148.8 400.4h0M137.2 397.1h0M231.8 312.4h0M127.5 407.9h0M142.2 382.0h0M157.9 406.0h0M140.4 396.3h0M109.0 416.6h0M260.9 279.2h0M156.2 390.6h0M170.1 354.5h0M176.0 379.0h0M132.1 389.2h0M153.0 388.5h0M197.9 297.4h0M113.8 415.2h0M157.6 390.9h0M164.1 369.5h0M139.0 393.6h0M134.5 389.8h0M192.6 368.5h0M138.2 381.5h0M284.5 271.5h0M198.4 372.4h0M234.4 302.5h0M190.9 357.8h0M124.0 406.6h0M136.1 373.7h0M152.6 380.6h0M139.3 366.6h0M155.8 331.9h0M152.7 337.9h0M151.9 375.5h0M112.6 409.7h0M226.3 269.5h0M130.8 384.9h0M133.9 397.0h0M103.1 423.0h0M170.0 338.2h0M196.8 326.0h0M210.5 343.6h0M104.2 424.4h0M201.6 317.1h0M147.8 399.8h0M148.0 397.0h0M122.7 396.7h0M178.0 357.6h0M190.3 319.3h0M154.8 380.6h0M147.1 399.3h0M217.5 331.2h0M163.4 399.7h0M155.8 366.0h0M144.8 402.3h0M145.1 346.8h0M180.1 367.3h0M126.4 402.8h0M118.4 418.8h0M154.0 396.6h0M116.1 415.2h0M151.0 389.7h0M172.5 296.6h0M142.8 391.4h0M122.7 408.1h0M167.7 378.6h0M163.0 376.4h0M130.3 407.8h0M185.8 365.6h0M135.0 411.2h0M233.6 291.4h0M194.1 336.7h0M328.5 203.9h0M181.0 357.6h0M147.7 355.1h0M120.5 415.3h0M158.5 380.4h0M113.6 405.7h0M198.5 324.3h0M130.5 405.6h0M346.0 231.4h0M151.4 386.5h0M307.5 230.5h0M113.2 418.3h0M127.8 386.3h0M120.8 418.9h0M118.5 411.6h0M147.0 373.7h0M107.5 420.3h0M182.9 353.5h0M153.1 388.6h0M131.4 395.6h0M134.4 388.7h0M135.9 396.4h0M353.4 186.9h0M134.3 379.1h0M147.4 386.9h0M136.6 395.4h0M183.5 310.7h0M163.1 367.6h0M159.3 371.3h0M109.0 422.9h0M136.7 372.0h0M205.6 326.3h0M118.9 399.8h0M201.0 308.6h0M163.9 365.7h0M154.8 358.1h0M186.0 357.4h0M123.6 386.1h0M151.6 389.6h0M201.6 319.7h0M217.4 287.9h0M207.7 314.1h0M221.1 276.5h0M194.9 296.8h0M115.1 421.7h0M177.2 359.9h0M111.1 416.9h0M120.9 408.5h0M117.7 414.5h0M123.8 403.3h0M163.1 380.8h0M125.8 409.5h0M150.0 360.0h0M201.7 320.6h0M155.5 347.1h0M113.3 427.2h0M150.6 395.1h0M198.9 361.7h0M139.3 388.1h0M154.1 345.0h0M130.5 412.2h0M141.9 390.3h0M172.7 325.0h0M123.0 415.5h0M133.1 365.2h0M153.2 393.5h0M142.2 398.6h0M185.5 379.9h0M210.9 306.3h0M153.9 399.1h0M130.4 400.0h0M142.1 388.5h0M232.4 314.6h0M126.6 408.2h0M122.4 411.6h0M131.0 396.1h0M193.1 355.4h0M158.0 385.7h0M196.3 361.5h0M115.5 408.2h0M134.4 378.5h0M119.1 407.9h0M128.2 415.1h0M165.9 364.4h0M140.4 383.8h0M267.4 237.9h0M213.9 318.1h0M159.8 384.1h0M129.0 374.9h0M113.6 417.2h0M111.7 423.0h0M202.4 317.3h0M126.3 392.8h0M165.1 372.0h0M150.8 371.4h0M183.1 342.3h0M260.8 275.3h0M196.6 342.3h0M143.7 383.1h0M176.4 357.2h0M155.1 393.1h0M168.3 381.4h0M193.5 328.2h0M230.5 310.4h0M133.5 400.6h0M141.7 390.5h0M120.6 422.0h0M216.9 357.1h0M134.9 376.9h0M258.7 299.7h0M238.0 304.3h0M156.5 365.9h0M166.3 370.4h0M129.3 402.9h0M139.0 411.0h0M164.0 386.4h0M142.1 386.1h0M252.4 274.5h0M125.8 394.7h0M174.0 341.8h0M148.7 389.3h0M157.0 372.7h0M177.1 367.4h0M117.4 409.2h0M198.5 351.0h0M215.0 304.2h0M205.3 315.1h0M136.8 375.2h0M130.1 409.0h0M196.4 335.3h0M142.4 404.0h0M153.9 360.0h0M109.6 422.4h0M114.8 419.8h0M153.0 393.0h0M149.8 391.8h0M123.8 409.8h0M110.5 422.0h0M154.3 350.1h0M111.4 420.9h0M128.8 402.2h0M211.5 368.3h0M155.4 385.0h0M148.3 345.4h0M143.4 359.2h0M178.2 391.1h0M134.4 375.0h0M123.3 409.5h0M226.2 340.0h0M154.9 366.0h0M150.9 367.5h0M369.2 144.5h0M120.0 407.5h0M188.9 301.2h0M162.2 370.5h0M114.7 412.5h0M119.5 384.7h0M137.5 392.0h0M118.2 421.6h0M126.9 387.8h0M189.9 337.4h0M237.7 323.9h0M149.5 349.3h0M148.2 364.3h0M147.6 385.1h0M127.3 401.0h0M149.1 403.1h0M166.5 361.6h0M121.1 422.9h0M152.4 395.2h0M144.4 360.7h0M160.2 367.1h0M118.3 422.9h0M246.9 302.1h0M168.7 345.0h0M126.4 406.7h0M136.4 393.8h0M192.2 344.3h0M216.7 347.4h0M122.4 396.5h0M130.2 415.1h0M223.9 316.3h0M189.7 371.3h0M151.5 383.3h0M135.9 395.8h0M148.3 386.1h0M122.8 406.9h0M190.7 322.1h0M179.1 387.4h0M167.0 364.0h0M305.9 195.4h0M154.0 346.1h0M118.0 406.2h0M139.8 405.6h0M216.2 334.9h0M210.4 298.5h0M152.0 358.7h0M144.1 392.8h0M200.9 338.8h0M119.0 406.6h0M119.8 402.2h0M150.7 387.2h0M183.4 369.2h0M175.7 385.6h0M171.9 372.8h0M123.1 418.8h0M143.6 397.2h0M141.7 373.2h0M136.7 389.8h0M135.7 401.1h0M167.7 342.5h0M151.1 398.8h0M123.5 403.6h0M215.7 331.6h0M154.4 370.3h0M108.1 417.2h0M183.5 371.4h0M268.7 246.7h0M200.9 334.8h0M218.3 321.0h0M247.4 328.4h0M172.9 361.0h0M131.0 401.7h0M206.3 324.3h0M119.8 412.9h0M166.6 383.7h0M165.4 333.7h0M168.8 367.1h0M132.8 384.7h0M120.9 412.7h0M283.0 271.3h0M173.6 328.7h0M127.6 391.7h0M123.1 411.4h0M158.2 371.1h0M153.7 370.6h0M173.4 382.8h0M239.6 306.4h0M139.5 411.7h0M163.9 348.8h0M116.9 424.4h0M145.3 389.1h0M255.1 312.9h0M117.6 414.5h0M197.3 341.8h0M142.7 395.2h0M143.7 381.5h0M136.8 398.7h0M167.5 346.9h0M177.9 348.5h0M216.9 345.5h0M142.6 393.3h0M129.5 401.8h0M206.7 305.0h0M126.7 392.2h0M182.8 354.4h0M129.7 398.9h0M179.3 353.8h0M372.0 152.9h0M206.1 352.2h0M133.2 404.6h0M150.4 368.7h0M153.5 355.7h0M149.7 378.1h0M197.7 341.8h0M188.0 332.5h0M171.7 372.5h0M230.1 257.4h0M132.3 411.1h0M131.9 397.0h0M103.2 423.8h0M166.1 372.4h0M149.2 394.3h0M178.8 364.1h0M128.3 401.2h0M121.8 399.8h0M157.1 375.2h0M129.9 396.8h0M161.2 356.5h0M164.5 361.6h0M146.3 376.3h0M184.1 335.1h0M153.8 366.6h0M145.3 395.9h0M127.9 408.5h0M178.8 367.0h0M119.9 393.5h0M207.5 329.1h0M174.0 365.8h0M129.8 388.5h0M119.5 407.9h0M119.8 413.9h0M216.8 285.6h0M107.9 426.6h0M133.6 407.7h0M363.8 187.6h0M182.7 314.0h0M256.4 275.4h0M168.5 336.9h0M170.3 380.5h0M195.6 373.8h0M116.3 413.1h0M130.9 403.3h0M130.5 415.8h0M118.6 411.0h0M318.8 163.3h0M125.0 404.2h0M222.4 345.4h0M109.0 425.0h0M107.5 426.5h0M172.9 390.6h0M197.8 357.9h0M123.0 415.9h0M147.9 389.8h0M239.1 306.2h0M220.5 308.2h0M123.5 403.7h0M263.7 257.1h0M247.9 283.8h0M218.5 337.1h0M113.3 417.2h0M129.0 400.3h0M154.1 382.6h0M155.2 371.1h0M169.5 347.5h0M158.4 359.3h0M218.9 364.0h0M254.7 282.8h0M179.8 379.3h0M135.9 384.6h0M167.0 388.6h0M126.4 418.5h0M168.8 379.0h0M198.2 285.2h0M105.2 422.0h0M106.5 420.1h0M216.0 332.1h0M130.4 397.5h0M157.8 387.8h0M178.5 357.7h0M254.5 248.0h0M192.2 311.4h0M209.0 325.9h0M200.8 352.5h0M129.5 406.3h0M193.3 372.7h0M269.9 306.6h0M106.3 423.1h0M170.5 334.2h0M113.3 406.2h0M143.9 388.5h0M162.0 356.3h0M286.7 294.9h0M149.9 372.8h0M143.0 343.3h0M222.6 290.8h0M122.7 393.5h0M112.6 413.4h0M219.4 288.8h0M103.3 423.4h0M114.8 422.3h0M119.0 415.0h0M175.3 320.4h0M204.5 344.4h0M166.8 336.1h0M222.6 327.9h0M129.0 404.5h0M150.8 390.7h0M128.2 392.6h0M153.4 372.3h0M171.9 393.4h0M123.0 416.2h0M181.3 372.2h0M177.9 341.4h0M186.5 335.8h0M160.7 396.6h0M159.3 362.3h0M135.3 380.6h0M108.4 422.1h0M213.8 301.7h0M124.3 407.0h0M146.3 390.1h0M160.1 361.3h0M176.3 356.7h0M170.0 380.8h0M156.2 380.1h0M177.4 375.7h0M109.0 412.3h0M176.1 376.9h0M134.0 372.3h0M299.6 249.3h0M279.9 288.4h0M177.9 359.6h0M130.8 379.8h0M194.8 332.7h0M118.7 398.3h0M225.4 283.1h0M141.8 384.8h0M164.3 377.6h0M120.7 403.1h0M128.3 401.4h0M276.2 268.4h0M182.1 351.1h0M139.3 382.4h0M206.7 315.8h0M138.4 374.8h0M144.7 343.9h0M164.5 353.2h0M126.5 396.3h0M148.9 370.2h0M192.0 324.1h0M176.9 356.4h0M117.2 417.5h0M145.9 390.9h0M338.9 214.3h0M121.4 403.5h0M139.3 405.2h0M158.7 374.0h0M120.1 416.5h0M110.9 423.7h0M221.8 290.3h0M111.3 418.6h0M202.0 303.5h0M172.1 375.0h0M175.7 365.9h0M277.6 249.9h0M118.5 407.2h0M111.6 416.2h0M197.1 298.0h0M233.8 330.5h0M174.6 359.7h0M130.2 406.7h0M112.0 407.6h0M156.0 395.9h0M182.2 367.4h0M115.6 408.0h0M225.1 330.6h0M142.2 407.7h0M133.4 379.2h0M202.9 307.1h0M142.4 395.7h0M221.8 335.2h0M166.6 368.4h0M133.1 405.4h0M136.1 402.1h0M169.5 345.5h0M202.2 349.5h0M197.3 340.3h0M235.3 315.0h0M181.5 331.0h0M184.8 349.9h0M138.4 377.3h0M163.5 387.4h0M124.9 411.2h0M136.5 397.6h0M154.2 375.7h0M144.2 392.7h0M103.9 418.1h0M121.5 413.7h0M245.5 295.8h0M122.0 418.0h0M230.6 311.8h0M148.8 339.1h0M180.3 344.6h0M196.3 356.5h0M132.5 387.0h0M130.0 404.4h0M133.4 391.4h0M204.9 355.9h0M123.8 411.9h0M145.3 361.7h0M166.8 363.4h0M176.9 349.8h0M168.6 353.5h0M113.3 411.8h0M277.6 269.7h0M139.3 403.2h0M190.4 344.7h0M144.2 373.0h0M150.6 386.0h0M129.1 390.4h0M264.0 310.9h0M145.8 394.0h0M121.8 416.5h0M123.4 420.7h0M122.2 386.4h0M211.9 322.3h0M128.2 376.9h0M153.7 368.8h0M228.4 332.1h0M178.3 318.2h0M192.8 321.8h0M161.6 321.5h0M150.5 367.4h0M167.1 367.8h0M173.8 346.9h0M167.8 367.5h0M169.0 380.7h0M139.6 395.9h0M121.4 400.3h0M153.1 392.0h0M124.4 397.0h0M110.4 413.1h0M201.2 326.0h0M124.5 409.4h0M190.3 319.5h0M189.5 353.9h0M148.4 369.8h0M241.2 273.8h0M115.8 415.7h0M161.8 377.7h0M245.2 311.4h0M171.2 362.9h0M135.0 407.1h0M118.0 414.0h0M157.1 371.0h0M115.6 417.5h0M189.2 329.8h0M172.5 335.6h0M107.6 428.2h0M136.7 395.0h0M244.9 310.0h0M199.3 349.5h0M123.4 409.7h0M114.5 409.5h0M114.7 408.1h0M130.3 406.5h0M177.3 355.4h0M167.0 368.6h0M240.2 297.8h0M157.7 339.1h0M197.1 309.7h0M159.8 397.4h0M134.8 391.7h0M126.5 398.0h0M122.4 416.8h0M252.3 239.1h0M121.7 402.0h0M189.9 297.4h0M146.9 400.0h0M182.5 355.8h0M192.7 356.5h0M238.3 312.4h0M135.7 402.7h0M175.6 380.4h0M138.9 391.5h0M203.0 365.0h0M206.5 298.4h0M122.3 402.6h0M227.1 365.6h0M146.7 395.1h0M111.2 418.5h0M114.1 395.0h0M179.7 359.5h0M149.3 357.0h0M118.6 392.3h0M140.4 389.5h0M167.8 383.5h0M212.0 352.3h0M130.8 414.9h0M120.2 409.6h0M206.4 320.4h0M149.0 392.2h0M115.5 404.3h0M226.7 321.0h0M170.3 358.2h0M126.6 394.8h0M144.0 374.0h0M151.7 369.8h0M119.6 407.0h0M124.5 403.7h0M220.2 278.7h0M158.6 352.3h0M167.8 379.5h0M155.6 366.9h0M142.9 387.7h0M156.6 379.0h0M186.1 305.5h0M141.0 387.9h0M180.8 342.7h0M107.1 418.3h0M158.7 387.0h0M194.7 349.8h0M167.5 368.9h0M134.2 406.6h0M174.2 351.3h0M255.4 300.9h0M104.2 425.7h0M160.5 369.6h0M158.0 372.2h0M157.8 364.1h0M122.5 410.9h0M217.2 294.4h0M123.9 409.8h0M151.5 379.1h0M185.7 346.9h0M184.4 325.8h0M239.5 285.4h0M125.4 412.4h0M120.6 391.3h0M176.1 323.5h0M178.6 349.6h0M145.4 375.3h0M157.9 385.9h0M141.8 377.1h0M147.8 390.5h0M110.1 417.0h0M221.2 306.0h0M117.5 419.7h0M169.4 352.0h0M132.0 399.4h0M224.4 318.1h0M128.4 403.4h0M124.2 398.6h0M195.7 328.9h0M123.9 410.5h0M189.7 351.6h0M137.8 395.0h0M161.5 392.7h0M217.9 333.9h0M202.1 341.2h0M146.6 406.3h0M154.7 336.9h0M178.1 355.1h0M171.6 325.2h0M135.3 398.0h0M261.3 269.8h0M129.9 401.7h0M121.7 420.0h0M148.4 396.7h0M153.2 369.5h0M325.4 215.0h0M123.7 404.5h0M147.4 379.9h0M138.2 406.4h0M165.1 384.6h0M149.9 393.9h0M242.3 335.1h0M131.2 410.4h0M131.4 399.9h0M163.8 344.7h0M143.0 367.8h0M199.3 315.7h0M137.3 400.6h0M211.9 345.7h0M126.4 387.2h0M126.2 402.6h0M204.3 347.9h0M173.1 377.1h0M142.3 349.3h0M117.8 408.4h0M131.4 397.1h0M163.0 365.5h0M132.0 401.1h0M118.2 405.6h0M127.1 397.0h0M139.2 370.3h0M123.2 419.3h0M186.1 327.0h0M114.0 415.6h0M137.2 382.3h0M153.1 368.3h0M142.1 409.2h0M148.9 382.4h0M105.5 418.6h0M129.7 393.4h0M187.7 363.2h0M175.9 386.6h0M132.5 383.7h0M166.9 362.1h0M135.6 389.6h0M141.7 398.9h0M174.2 331.4h0M138.8 394.9h0M130.0 403.0h0M204.4 356.5h0M287.8 239.7h0M106.4 423.2h0M236.1 320.8h0M253.8 291.8h0M127.0 399.4h0M119.8 419.0h0M121.5 406.7h0M171.1 339.7h0M126.7 404.4h0M113.6 424.2h0M110.8 420.6h0M160.2 348.3h0M150.9 379.5h0M161.6 389.5h0M135.8 385.2h0M206.2 315.3h0M131.8 382.0h0M142.0 366.3h0M198.3 313.1h0M175.7 360.4h0M121.2 422.1h0M268.8 316.3h0M126.1 406.4h0M120.5 415.1h0M171.0 360.9h0M116.8 420.1h0M136.7 404.6h0M183.7 321.1h0M168.7 357.5h0M151.2 379.3h0M196.7 291.7h0M138.3 400.8h0M120.1 407.6h0M223.9 333.1h0M235.5 307.7h0M154.4 375.6h0M174.7 361.3h0M188.1 359.7h0M148.5 387.4h0M104.3 423.2h0M188.5 361.6h0M146.8 400.1h0M149.5 354.5h0M159.1 392.1h0M214.4 325.9h0M181.8 374.8h0M158.9 386.9h0M104.0 423.3h0M132.2 391.1h0M240.5 299.9h0M245.1 246.9h0M196.1 347.9h0M148.5 365.2h0M141.4 384.9h0M105.0 421.9h0M125.5 405.8h0M165.9 357.8h0M138.8 393.6h0M205.2 381.1h0M150.0 336.8h0M223.0 293.8h0M214.3 315.7h0M178.8 355.1h0M192.8 354.5h0M231.4 316.8h0M184.9 346.2h0M124.3 398.6h0M152.8 374.2h0M172.1 355.5h0M245.7 265.3h0M159.6 383.0h0M117.4 406.2h0M259.6 282.9h0M109.2 418.9h0M164.8 377.2h0M135.1 384.7h0M154.3 392.8h0M239.1 244.1h0M131.9 403.7h0M117.6 416.3h0M152.0 390.0h0M149.2 395.7h0M174.6 362.5h0M144.8 403.3h0M125.1 396.7h0M151.9 381.6h0M159.2 400.5h0M124.3 406.8h0M120.7 406.5h0M149.8 378.8h0M198.7 347.7h0M157.2 377.2h0M139.5 415.2h0M134.8 409.2h0M141.5 411.8h0M143.7 403.4h0M273.8 241.1h0M165.2 341.1h0M131.8 381.8h0M117.7 417.5h0M211.1 310.7h0M164.8 373.2h0M243.6 279.3h0M213.5 314.5h0M147.2 395.1h0M169.7 337.3h0M108.0 425.2h0M151.6 388.8h0M152.7 383.4h0M149.1 391.5h0M134.2 412.6h0M135.7 397.4h0M110.8 418.5h0M213.0 300.2h0M116.4 416.9h0M117.6 400.2h0M314.0 232.9h0M136.6 400.9h0M251.2 343.9h0M197.5 291.1h0M124.4 396.2h0M138.0 374.9h0M118.8 421.5h0M170.4 346.4h0M289.2 286.3h0M173.9 329.6h0M113.1 418.8h0M312.6 229.3h0M146.8 384.1h0M211.5 327.1h0M143.9 362.1h0M142.2 372.5h0M245.4 325.6h0M255.5 252.9h0M203.0 381.0h0M199.7 283.1h0M126.0 409.5h0M147.9 387.4h0M143.0 389.2h0M117.1 393.4h0M185.0 328.6h0M138.9 393.0h0M129.4 396.0h0M157.8 379.9h0M126.8 394.8h0M108.7 424.9h0M144.1 392.3h0M110.9 421.8h0M212.7 288.2h0M181.9 346.1h0M179.0 357.9h0M163.5 391.1h0M124.3 398.2h0M218.4 323.8h0M144.7 383.0h0M196.9 342.0h0M152.2 374.6h0M172.7 354.3h0M181.4 381.3h0M128.0 416.5h0M122.4 410.8h0M169.9 389.3h0M114.7 412.2h0M136.1 395.0h0M134.9 382.6h0M155.9 363.3h0M141.2 381.9h0M211.4 338.3h0M149.0 378.5h0M110.4 415.9h0M127.5 393.5h0M111.1 418.7h0M167.3 367.0h0M253.9 296.8h0M140.7 394.9h0M186.4 356.7h0M212.9 290.1h0M135.9 380.4h0M203.5 333.7h0M211.5 336.5h0M177.7 336.2h0M172.4 329.6h0M165.3 353.8h0M114.3 423.1h0M123.5 418.5h0M125.2 389.3h0M125.5 397.1h0M213.5 331.0h0M192.3 340.7h0M160.0 373.4h0M181.4 349.4h0M153.5 391.5h0M135.7 384.8h0M139.5 399.4h0M155.1 392.1h0M119.1 402.8h0M141.4 389.1h0M198.3 302.2h0M105.3 424.7h0M131.1 389.8h0M323.9 167.3h0M178.3 347.2h0M149.4 364.5h0M134.6 402.5h0M133.7 392.9h0M279.3 316.3h0M219.1 316.1h0M222.7 331.6h0M226.4 350.8h0M138.2 385.0h0M160.1 371.2h0M136.0 390.0h0M130.5 398.1h0M105.3 415.4h0M164.0 355.1h0M248.9 316.7h0M200.1 313.6h0M114.8 415.3h0M110.5 423.6h0M151.7 391.0h0M160.7 367.7h0M144.6 409.1h0M157.6 354.3h0M124.9 399.6h0M159.0 363.1h0M206.2 306.1h0M150.1 359.8h0M166.1 387.9h0M142.6 386.4h0M199.9 316.7h0M125.8 398.6h0M155.2 382.5h0M135.3 396.7h0M136.2 386.4h0M142.5 380.4h0M105.3 417.6h0M201.8 369.4h0M233.5 296.7h0M245.4 292.9h0M253.9 270.2h0M105.6 425.1h0M146.1 393.3h0M143.5 384.3h0M196.7 364.1h0M150.0 395.0h0M163.5 384.5h0M122.2 407.3h0M201.8 309.6h0M116.5 405.6h0M167.1 386.0h0M300.8 237.7h0M152.5 358.9h0M142.0 389.1h0M198.0 297.4h0M177.6 315.3h0M152.3 386.2h0M157.3 381.2h0M172.7 357.0h0M258.8 291.9h0M138.8 392.8h0M182.5 355.1h0M122.7 390.1h0M111.4 419.7h0M178.8 364.8h0M123.1 408.0h0M144.1 384.0h0M232.3 355.5h0M128.2 412.0h0M157.2 393.9h0M145.0 388.9h0M115.5 412.5h0M159.7 385.4h0M197.3 369.8h0M110.7 416.8h0M139.9 396.8h0M168.2 364.9h0M173.9 346.6h0M156.8 357.6h0M306.7 238.6h0M200.7 355.3h0M209.5 353.0h0M144.7 397.9h0M174.6 354.5h0M153.0 371.1h0M143.8 394.9h0M222.2 314.4h0M138.5 397.1h0M133.5 410.7h0M163.8 368.3h0M172.8 351.5h0M147.7 381.6h0M135.9 403.4h0M172.2 360.0h0M142.3 397.2h0M138.5 396.7h0M152.8 401.2h0M110.3 416.9h0M127.7 406.3h0M127.9 421.5h0M188.8 348.6h0M170.2 347.6h0M103.1 413.7h0M126.5 411.8h0M137.8 371.2h0M272.8 284.4h0M148.7 366.4h0M138.6 383.3h0M198.0 338.9h0M164.6 384.7h0M146.5 397.3h0M107.9 417.9h0M175.7 317.3h0M235.7 302.4h0M156.8 377.9h0M174.7 369.4h0M125.1 405.3h0M193.4 349.9h0M137.4 379.7h0M128.1 394.0h0M232.5 286.5h0M185.6 366.2h0M225.9 343.7h0M179.4 363.0h0M114.0 407.8h0M107.4 420.3h0M127.0 405.4h0M167.4 344.5h0M138.2 385.6h0M150.3 392.7h0M146.4 359.3h0M130.4 388.2h0M141.2 402.7h0M139.8 395.0h0M138.6 381.5h0M112.5 407.4h0M161.6 342.0h0M153.9 390.7h0M160.4 379.0h0M126.7 391.1h0M205.7 344.0h0M110.1 419.5h0M138.3 396.5h0M192.1 323.7h0M174.6 380.6h0M171.3 382.2h0M124.5 413.8h0M110.3 408.0h0M141.3 357.2h0M139.0 364.1h0M224.2 322.6h0M133.6 406.4h0M136.7 389.6h0M136.7 397.8h0M139.9 403.4h0M140.8 383.3h0M162.3 385.3h0M141.4 372.9h0M169.1 357.0h0M227.1 313.5h0M160.2 390.7h0M135.7 395.9h0M224.1 307.4h0M132.4 391.6h0M144.3 385.6h0M145.3 386.3h0M169.8 383.8h0M237.8 309.7h0M251.0 279.6h0M179.5 341.7h0M143.7 391.0h0M267.5 302.8h0M132.3 409.0h0M160.0 379.3h0M246.0 270.2h0M166.7 370.6h0M119.3 418.7h0M160.2 373.4h0M165.4 369.2h0M180.0 315.4h0M116.4 414.9h0M250.0 296.8h0M121.7 409.8h0M189.0 330.6h0M127.3 417.7h0M129.4 405.6h0M176.2 375.3h0M133.1 404.4h0M149.6 387.4h0M192.8 302.8h0M140.3 381.4h0M120.4 408.7h0M219.8 340.2h0M144.1 383.4h0M108.6 419.9h0M179.9 380.9h0M173.1 387.2h0M120.5 399.6h0M149.7 364.4h0M152.7 377.8h0M141.4 375.5h0M137.9 381.3h0M105.5 413.3h0M201.9 386.3h0M156.0 369.7h0M116.9 405.4h0M166.4 358.8h0M246.0 303.7h0M124.3 416.4h0M157.4 347.8h0M101.9 421.7h0M163.8 396.3h0M243.0 318.0h0M118.0 408.5h0M115.9 409.5h0M174.2 368.5h0M176.2 381.3h0M127.4 392.3h0M164.6 337.6h0M136.5 412.1h0M178.2 352.8h0M229.2 289.9h0M120.0 411.7h0M195.7 300.5h0M221.4 302.2h0M136.1 389.0h0M211.9 313.0h0M149.7 399.3h0M157.2 323.3h0M275.4 271.4h0M172.7 359.0h0M161.8 342.3h0M122.9 402.1h0M116.5 415.7h0M154.4 403.9h0M136.6 394.4h0M158.8 350.4h0M106.5 425.2h0M197.7 366.6h0M119.7 401.0h0M116.5 395.2h0M240.2 264.2h0M120.6 401.1h0M126.4 417.3h0M260.8 285.4h0M124.4 421.9h0M176.6 329.9h0M183.9 333.0h0M139.4 415.1h0M187.7 326.7h0M119.8 402.6h0M144.6 396.8h0M204.3 333.8h0M176.2 315.7h0M168.3 386.2h0M148.6 375.9h0M107.1 419.1h0M148.2 378.9h0M167.5 370.3h0M130.6 398.3h0M117.7 409.8h0M226.8 283.0h0M149.8 350.9h0M176.2 381.6h0M109.7 421.5h0M215.7 318.7h0M147.8 354.6h0M145.4 399.6h0M116.5 400.2h0M165.2 379.9h0M149.5 392.3h0M194.2 367.3h0M180.4 354.7h0M211.7 332.0h0M144.1 385.5h0M235.5 300.4h0M119.5 406.1h0M149.4 375.1h0M141.7 413.2h0M124.9 394.5h0M141.9 389.1h0M241.1 291.4h0M107.4 425.6h0M120.0 403.6h0M134.2 400.6h0M144.7 369.1h0M210.2 351.3h0M162.2 332.5h0M129.0 387.4h0M133.4 409.0h0M118.3 406.7h0M234.3 311.3h0M231.3 332.4h0M126.5 408.8h0M252.5 275.4h0M197.5 350.2h0M152.5 370.5h0M141.6 371.7h0M171.5 384.2h0M250.2 333.9h0M110.1 421.3h0M194.3 332.4h0M176.9 352.7h0M149.8 369.6h0M126.0 399.7h0M174.6 389.5h0M128.0 403.4h0M147.6 394.8h0M112.6 419.5h0M158.8 393.0h0M104.4 424.9h0M150.4 383.1h0M118.9 416.4h0M149.7 399.6h0M135.5 373.6h0M167.9 344.4h0M126.4 399.1h0M120.7 415.4h0M143.3 399.0h0M168.3 328.0h0M194.8 349.4h0M196.5 313.0h0M174.3 304.4h0M207.3 364.6h0M121.2 418.7h0M270.0 250.4h0M188.3 376.4h0M137.8 397.4h0M121.0 413.9h0M143.4 374.8h0M120.4 419.2h0M138.5 390.8h0M183.7 332.1h0M180.9 372.7h0M209.8 348.8h0M166.0 348.6h0M242.4 331.0h0M168.7 387.3h0M149.9 349.7h0M133.6 395.9h0M166.3 375.7h0M183.7 345.8h0M125.9 406.1h0M150.4 373.4h0M144.1 361.3h0M127.0 388.6h0M131.8 405.8h0M283.1 261.5h0M156.2 380.5h0M113.9 405.0h0M149.5 362.5h0M188.6 380.3h0M189.1 351.9h0M219.6 324.7h0M141.9 371.8h0M200.8 298.0h0M213.0 331.8h0M200.9 354.7h0M144.5 384.5h0M248.4 268.8h0M134.9 393.3h0M150.1 395.8h0M146.7 387.9h0M155.4 365.8h0M206.6 315.2h0M162.6 357.3h0M143.3 397.9h0M207.8 334.8h0M131.5 398.5h0M154.3 411.2h0M164.9 371.2h0M168.9 351.3h0M139.2 386.5h0M133.4 402.2h0M126.7 405.8h0M138.3 383.5h0M148.6 384.2h0M145.9 402.6h0M143.6 381.1h0M150.0 401.8h0M173.7 373.4h0M271.9 203.0h0M142.9 383.9h0M112.8 413.0h0M176.3 341.4h0M219.8 290.1h0M140.3 389.2h0M146.8 371.7h0M209.5 318.6h0M143.4 397.8h0M139.3 387.0h0M109.2 421.1h0M125.0 397.0h0M187.1 312.6h0M235.4 257.3h0M280.1 274.1h0M132.0 395.5h0M113.7 404.3h0M145.5 392.1h0M135.2 402.6h0M140.1 396.2h0M167.0 374.2h0M121.1 415.3h0M119.2 397.2h0M177.8 363.6h0M172.7 355.6h0M183.9 368.1h0M108.7 409.3h0M169.6 378.9h0M223.8 341.7h0M137.4 380.8h0M125.0 411.0h0M136.6 392.7h0M189.2 298.6h0M219.2 344.2h0M116.1 401.0h0M130.3 405.3h0M188.5 392.4h0M217.1 310.3h0M236.1 308.3h0M128.8 368.3h0M136.6 399.3h0M174.0 388.4h0M263.4 269.0h0M153.9 358.2h0M123.0 400.2h0M251.6 285.8h0M211.7 330.5h0M170.0 366.5h0M201.0 359.1h0M141.5 383.8h0M160.4 364.5h0M113.1 408.5h0M230.7 327.0h0M151.1 347.4h0M125.5 393.4h0M219.9 286.4h0M226.6 309.8h0M207.2 304.8h0M162.9 373.4h0M171.6 335.6h0M123.1 408.0h0M141.1 398.7h0M124.3 408.2h0M202.1 352.4h0M132.4 390.1h0M163.4 371.6h0M147.4 394.2h0M140.1 346.7h0M132.5 397.9h0M124.9 392.7h0M123.4 412.0h0M152.3 370.7h0M182.4 359.8h0M112.4 414.4h0M198.1 322.8h0M205.6 263.0h0M137.8 413.8h0M141.7 388.1h0M116.8 400.8h0M234.1 346.1h0M249.0 257.7h0M162.2 367.3h0M106.4 422.8h0M240.5 306.5h0M111.0 422.2h0M189.3 378.4h0M169.5 370.2h0M148.1 386.6h0M144.3 396.1h0M119.8 396.8h0M136.3 393.3h0M182.0 316.2h0M165.9 357.5h0M145.4 398.1h0M125.7 406.6h0M123.1 409.1h0M138.8 397.3h0M170.4 339.5h0M167.5 349.4h0M163.8 372.6h0M133.7 391.5h0M136.2 403.5h0M151.1 386.5h0M165.4 336.0h0M111.3 413.0h0M115.9 408.4h0M143.1 361.2h0M115.9 414.6h0M198.2 338.8h0M198.7 323.8h0M130.6 388.3h0M163.5 335.2h0M120.6 409.9h0M117.9 413.0h0M146.0 365.3h0M222.9 291.9h0M196.6 327.6h0M367.5 179.9h0M346.0 187.2h0M168.5 359.1h0M157.5 368.9h0M121.6 408.8h0M148.3 364.2h0M142.5 386.2h0M176.4 358.4h0M116.9 415.8h0M138.3 387.6h0M108.3 419.9h0M195.2 319.6h0M107.1 421.3h0M283.8 259.5h0M195.6 301.3h0M141.9 401.0h0M179.8 387.6h0M267.2 243.8h0M104.1 424.1h0M180.8 365.3h0M247.6 295.0h0M169.5 339.9h0M158.3 353.8h0M149.6 389.1h0M128.8 407.6h0M141.4 381.8h0M140.6 370.3h0M152.6 332.3h0M167.4 361.1h0M181.9 338.4h0M157.3 386.2h0M158.8 375.2h0M175.2 395.4h0M144.9 406.9h0M127.3 390.7h0M113.1 415.8h0M120.1 415.4h0M111.5 412.8h0M160.6 373.0h0M110.8 422.6h0M162.7 381.1h0M113.9 418.0h0M115.9 402.8h0M152.8 384.8h0M132.9 369.7h0M172.0 344.3h0M150.6 359.7h0M130.8 399.8h0M150.2 396.8h0M170.1 338.0h0M158.7 388.1h0M180.3 321.1h0M121.2 401.8h0M126.6 405.2h0M118.4 417.6h0M200.9 347.8h0M225.5 288.2h0M139.0 401.1h0M144.8 414.8h0M122.2 418.1h0M188.0 315.5h0M137.0 388.7h0M166.8 379.6h0M156.5 380.6h0M112.9 419.8h0M103.0 417.5h0M243.3 319.4h0M220.5 335.7h0M197.3 334.1h0M140.4 385.3h0M127.2 407.9h0M144.0 374.4h0M122.2 408.3h0M167.7 374.1h0M148.0 391.2h0M136.2 396.7h0M162.0 370.5h0M138.1 387.9h0M116.6 404.9h0M126.2 406.6h0M140.7 379.1h0M133.9 387.0h0M189.8 353.3h0M176.5 390.9h0M162.1 367.3h0M114.3 414.9h0M133.4 381.0h0M121.0 422.4h0M128.1 396.4h0M173.8 360.9h0M127.6 399.5h0M129.7 387.6h0M154.0 370.8h0M131.9 391.9h0M198.1 323.7h0M138.5 404.2h0M139.5 387.3h0M223.3 317.3h0M152.8 371.9h0M155.8 398.5h0M245.9 264.9h0M158.8 367.4h0M220.2 313.8h0M180.3 358.0h0M168.4 340.1h0M218.1 302.8h0M165.1 350.0h0M135.4 389.8h0M150.2 387.1h0M147.6 378.1h0M200.9 306.6h0M204.5 337.8h0M156.9 365.0h0M152.2 376.0h0M149.2 358.5h0M207.0 322.9h0M262.8 269.7h0M170.1 373.1h0M125.6 409.8h0M115.9 412.1h0M118.0 403.4h0M285.0 288.8h0M118.8 415.3h0M135.8 391.3h0M151.7 370.3h0M129.3 408.1h0M164.5 381.5h0M174.2 360.2h0M159.8 360.6h0M197.7 319.4h0M273.3 269.2h0M106.6 422.5h0M276.7 261.7h0M207.8 330.4h0M125.4 397.1h0M215.1 315.3h0M159.8 357.7h0M120.4 406.1h0M138.8 396.4h0M117.3 417.1h0M184.3 341.1h0M143.5 387.7h0M206.9 283.3h0M141.7 383.6h0M141.0 387.9h0M126.3 412.7h0M261.5 278.0h0M138.0 384.7h0M238.4 328.1h0M246.8 317.5h0M164.3 354.8h0M154.4 368.2h0M143.7 393.5h0M153.6 377.5h0M182.5 358.1h0M191.8 340.8h0M208.2 296.5h0M184.1 325.6h0M137.6 356.4h0M118.9 399.1h0M126.9 399.7h0M143.9 388.7h0M174.5 330.5h0M197.8 322.8h0M130.4 396.9h0M133.4 387.7h0M107.6 422.9h0M108.7 424.5h0M169.7 348.2h0M341.5 195.4h0M128.8 407.2h0M122.5 402.7h0M123.9 413.6h0M162.1 387.6h0M106.4 414.4h0M290.5 218.0h0M147.2 386.4h0M210.9 310.8h0M121.2 409.0h0M154.4 385.5h0M216.4 330.8h0M106.5 428.3h0M114.4 413.3h0M155.8 348.8h0M255.9 235.0h0M153.8 372.9h0M116.9 401.6h0M150.2 376.7h0M107.2 418.0h0M173.5 317.5h0M160.4 375.4h0M151.8 374.3h0M125.5 405.9h0M200.5 343.2h0M105.7 424.2h0M169.0 332.3h0M121.0 395.7h0M115.3 417.9h0M126.7 403.1h0M152.2 338.1h0M215.7 326.1h0M330.9 199.0h0M154.8 330.0h0M151.1 380.6h0M140.3 377.8h0M165.3 364.4h0M139.0 406.0h0M126.9 396.9h0M178.4 381.5h0M191.0 368.8h0M103.2 422.5h0M146.6 371.8h0M138.3 392.6h0M145.0 369.3h0M221.2 274.0h0M272.1 244.6h0M186.4 368.1h0M234.8 320.5h0M185.5 313.9h0M105.2 425.6h0M152.8 353.7h0M108.3 425.9h0M102.5 426.1h0M156.0 397.6h0M134.5 387.0h0M207.7 310.4h0M134.1 381.1h0M116.0 424.1h0M148.3 397.1h0M128.1 408.1h0M114.7 412.8h0M165.1 325.5h0M136.8 376.9h0M246.8 317.4h0M163.6 374.2h0M233.2 258.2h0M125.2 398.3h0M137.3 405.9h0M127.5 396.3h0M146.1 374.1h0M213.6 292.1h0M167.0 360.9h0M114.3 413.4h0M151.5 360.1h0M105.3 423.8h0M137.2 377.7h0M125.8 395.6h0M236.1 272.7h0M178.5 357.0h0M201.6 307.3h0M143.9 370.7h0M203.7 338.4h0M139.8 399.6h0M163.0 356.6h0M153.7 363.6h0M165.8 376.1h0M149.6 373.5h0M113.7 400.4h0M196.4 373.9h0M144.4 379.0h0M131.8 395.2h0M154.6 373.2h0M187.5 342.1h0M152.1 369.8h0M146.5 384.4h0M207.6 332.7h0M112.0 413.7h0M159.2 324.6h0M136.7 394.4h0M145.0 372.8h0M144.3 365.9h0M275.7 280.4h0M105.0 426.8h0M198.1 348.8h0M176.9 356.2h0M151.1 359.8h0M138.8 398.7h0M142.8 366.0h0M226.1 246.6h0M112.4 421.8h0M230.6 291.8h0M198.2 309.4h0M198.1 356.8h0M213.9 363.1h0M222.5 304.8h0M106.3 427.4h0M144.1 384.9h0M178.0 366.5h0M125.2 409.0h0M172.3 368.7h0M279.9 245.8h0M144.3 371.6h0M175.8 350.5h0M115.1 412.3h0M222.7 336.8h0M162.1 331.1h0M160.0 346.6h0M117.4 399.1h0M153.4 376.5h0M111.6 422.4h0M241.4 273.7h0M143.6 399.1h0M134.0 396.6h0M161.0 372.2h0M181.6 352.1h0M123.3 417.7h0M111.7 414.0h0M177.5 377.4h0M175.1 352.6h0M235.5 298.6h0M184.4 381.7h0M181.8 330.9h0M138.6 391.8h0M133.3 372.6h0M163.8 324.2h0M186.7 361.2h0M229.1 355.3h0M110.9 419.9h0M125.7 396.1h0M188.3 346.0h0M140.8 360.9h0M110.4 419.7h0M106.9 426.6h0M121.5 407.7h0M120.3 401.0h0M141.9 395.1h0M187.9 340.8h0M176.3 337.8h0M119.9 413.1h0M134.1 395.3h0M141.6 375.8h0M143.8 379.3h0M195.3 314.2h0M201.9 342.3h0M248.7 318.7h0M178.0 369.7h0M148.8 387.3h0M140.8 383.1h0M187.9 352.0h0M197.2 351.8h0M217.9 323.9h0M216.2 305.7h0M124.7 409.5h0M124.2 395.9h0M178.7 337.7h0M126.0 401.8h0M191.0 353.9h0M111.9 407.4h0M231.5 288.5h0M186.7 317.8h0M151.9 369.6h0M139.0 396.2h0M162.1 374.8h0M114.6 418.1h0M124.9 397.9h0M199.5 317.7h0M154.7 397.5h0M206.0 308.7h0M180.3 379.5h0M120.2 414.6h0M104.1 421.7h0M155.6 374.5h0M131.1 402.1h0M154.3 408.1h0M294.3 218.4h0M160.0 375.3h0M130.7 401.1h0M151.4 396.4h0M176.5 373.0h0M123.8 407.8h0M124.0 419.9h0M217.0 295.0h0M160.2 357.6h0M247.6 311.5h0M137.5 403.2h0M127.3 402.9h0M132.7 398.4h0M122.4 414.6h0M123.4 408.5h0M169.1 380.6h0M173.6 385.1h0M141.9 378.4h0M138.4 387.4h0M222.7 343.6h0M200.6 330.2h0M181.1 346.8h0M203.6 286.5h0M161.6 342.2h0M142.6 365.4h0M182.0 356.4h0M187.7 314.5h0M294.6 254.9h0M155.3 390.1h0M136.3 360.7h0M122.1 415.4h0M125.2 392.0h0M118.9 415.4h0M145.1 393.8h0M131.9 373.9h0M228.1 354.9h0M150.5 379.8h0M134.3 391.1h0M132.5 405.9h0M123.0 415.6h0M247.6 309.5h0M170.2 303.2h0M126.9 417.9h0M161.2 387.8h0M125.9 408.4h0M177.4 379.4h0M176.0 337.7h0M149.3 394.3h0M111.2 422.2h0M123.4 408.7h0M129.5 409.3h0M278.3 244.4h0M252.6 318.3h0M180.6 354.7h0M124.2 399.6h0M126.3 395.2h0M134.9 409.1h0M209.3 361.5h0M104.9 416.7h0M185.3 323.1h0M122.2 421.5h0M195.3 311.9h0M175.6 349.9h0M151.4 372.2h0M143.4 363.1h0M141.0 392.3h0M310.4 205.7h0M143.2 394.0h0M140.8 366.7h0M155.4 364.9h0M131.0 385.0h0M220.3 298.9h0M132.2 410.8h0M129.5 402.1h0M111.6 419.8h0M166.2 359.5h0M144.5 397.2h0M164.2 377.5h0M200.5 347.0h0M135.9 407.3h0M124.9 404.2h0M137.0 402.0h0M234.8 261.2h0M116.4 418.2h0M233.0 348.0h0M180.4 349.3h0M198.5 302.4h0M154.8 355.0h0M158.1 385.7h0M119.4 414.8h0M151.9 384.9h0M145.9 379.3h0M122.5 412.7h0M218.1 287.0h0M112.9 415.1h0M205.0 356.5h0M184.2 352.6h0M215.8 330.4h0M157.7 389.2h0M151.9 377.4h0M248.7 315.5h0M125.8 407.2h0M189.3 326.2h0M116.7 408.7h0M162.3 327.3h0M149.0 381.1h0M172.1 348.6h0M123.9 402.5h0M156.7 384.6h0M189.2 381.3h0M248.5 311.3h0M190.3 379.1h0M143.1 387.8h0M122.5 394.2h0M215.7 298.1h0M203.7 267.6h0M231.2 291.8h0M168.3 315.9h0M227.5 284.4h0M189.5 293.4h0M204.1 339.7h0M109.9 426.0h0M139.6 385.1h0M101.7 424.0h0M124.5 399.9h0M154.4 363.1h0M111.7 418.8h0M143.2 394.8h0M130.0 393.8h0M120.7 404.0h0M159.2 379.1h0M117.5 402.8h0M117.3 398.5h0M203.6 372.8h0M149.9 374.4h0M167.5 385.6h0M176.8 362.6h0M166.5 362.7h0M219.4 292.5h0M159.5 360.9h0M103.3 425.1h0M134.0 393.8h0M163.3 379.8h0M183.3 338.5h0M170.7 367.0h0M147.3 374.0h0M213.8 319.5h0M278.3 249.7h0M256.7 318.9h0M143.2 383.2h0M181.3 360.5h0M178.4 347.3h0M152.7 384.0h0M172.3 309.3h0M126.2 390.8h0M152.5 333.6h0M200.1 345.2h0M166.7 353.8h0M136.5 396.1h0M134.7 403.5h0M249.6 266.2h0M125.2 411.5h0M140.9 349.5h0M150.1 382.6h0M112.3 414.4h0M151.9 384.8h0M214.0 320.8h0M127.3 407.2h0M123.2 393.9h0M167.6 338.4h0M174.5 345.2h0M170.0 370.8h0M133.9 395.8h0M129.9 394.2h0M129.8 408.6h0M175.0 346.2h0M210.1 363.7h0M154.8 384.8h0M122.4 412.3h0M154.3 380.7h0M149.0 348.2h0M213.7 354.4h0M154.5 373.2h0M122.6 412.0h0M137.8 404.2h0M337.4 209.6h0M224.4 344.8h0M286.5 236.3h0M178.4 343.6h0M129.9 411.3h0M125.8 403.2h0M164.9 367.0h0M174.1 399.4h0M152.4 381.7h0M191.3 356.7h0M113.1 422.9h0M245.3 318.7h0M157.4 402.7h0M225.1 336.5h0M159.5 402.7h0M198.1 317.8h0M281.9 277.7h0M117.9 407.6h0M150.1 387.0h0M179.7 348.2h0M264.7 284.8h0M243.8 300.5h0M136.8 393.7h0M159.7 378.6h0M158.8 363.8h0M271.8 293.4h0M114.0 421.4h0M165.0 389.4h0M138.6 370.4h0M174.4 318.7h0M217.4 314.4h0M199.5 322.9h0M202.4 340.5h0M209.4 329.3h0M110.5 407.7h0M138.4 389.0h0M185.9 346.6h0M192.6 348.8h0M119.3 408.8h0M125.1 400.6h0M196.6 349.1h0M131.7 401.7h0M195.4 318.1h0M279.4 248.7h0M166.9 373.2h0M180.2 345.8h0M172.0 357.9h0M217.2 319.5h0M277.9 266.4h0M176.2 346.8h0M153.6 385.2h0M131.3 410.0h0M157.2 386.4h0M139.6 393.1h0M213.5 338.7h0M229.7 335.4h0M136.9 381.9h0M170.0 386.2h0M203.0 349.8h0M129.3 391.1h0M194.9 353.6h0M174.2 366.4h0M216.8 355.0h0M115.5 415.9h0M197.2 374.5h0M122.1 402.7h0M173.8 367.9h0M147.3 375.9h0M177.3 365.1h0M179.9 377.4h0M220.7 331.2h0M144.5 365.6h0M225.2 301.5h0M139.2 394.7h0M159.9 347.6h0M182.2 381.4h0M157.1 380.5h0M141.2 377.1h0M188.3 363.9h0M155.6 369.7h0M200.1 342.0h0M140.1 371.1h0M280.3 235.8h0M256.0 269.9h0M141.7 393.0h0M194.3 352.3h0M138.5 406.8h0M234.5 323.3h0M174.1 391.1h0M169.1 366.7h0M177.0 347.4h0M100.0 424.7h0M172.2 351.9h0M231.4 259.0h0M182.5 363.3h0M138.7 388.0h0M235.1 315.9h0M116.5 408.7h0M148.1 369.5h0M126.1 406.5h0M146.6 390.8h0M117.9 415.0h0M167.2 378.8h0M130.5 380.7h0M254.2 276.7h0M150.7 352.5h0M149.2 394.4h0M116.6 398.3h0M132.0 403.5h0M147.7 385.1h0M182.2 334.3h0M264.3 237.6h0M141.6 366.7h0M193.5 334.7h0M114.0 422.1h0M248.3 241.7h0M162.0 371.7h0M115.8 421.5h0M121.4 418.1h0M144.1 392.2h0M238.7 352.1h0M361.7 176.6h0M159.4 380.5h0M121.4 396.1h0M166.3 348.5h0M179.7 355.7h0M130.2 418.7h0M169.2 381.9h0M167.6 372.5h0M140.3 382.6h0M240.2 337.9h0M144.5 391.4h0M135.8 409.5h0M124.9 392.2h0M113.6 420.0h0M113.0 423.1h0M107.2 423.4h0M128.7 409.2h0M169.3 371.9h0M217.3 313.5h0M125.8 410.4h0M130.9 406.2h0M137.2 371.3h0M171.2 360.1h0M218.5 330.4h0M148.8 355.3h0M125.3 401.4h0M179.5 316.6h0M108.7 424.9h0M205.4 330.3h0M217.1 301.9h0M139.9 382.1h0M127.5 407.1h0M119.6 392.7h0M119.6 418.5h0M175.3 343.0h0M155.8 379.2h0M105.9 426.0h0M124.9 407.3h0M138.2 354.5h0M288.2 261.0h0M198.6 373.1h0M175.5 328.8h0M179.1 344.9h0M175.3 346.3h0M123.0 401.8h0M167.3 316.8h0M147.8 393.1h0M363.5 186.6h0M114.5 411.5h0M176.4 360.4h0M136.3 392.3h0M143.5 402.0h0M153.9 385.7h0M147.9 370.8h0M140.1 386.2h0M149.5 409.2h0M203.2 264.9h0M162.0 344.4h0M111.5 409.3h0M127.6 384.8h0M171.9 375.4h0M186.9 343.0h0M175.2 373.2h0M155.0 366.7h0M140.8 393.6h0M176.3 343.6h0M111.0 422.4h0M144.4 384.8h0M159.1 385.3h0M119.1 415.6h0M189.3 359.3h0M167.0 369.0h0M105.9 423.3h0M209.7 292.1h0M116.4 419.7h0M117.5 407.7h0M176.8 371.0h0M106.3 417.8h0M149.3 382.2h0M130.1 408.5h0M148.4 384.9h0M127.1 395.9h0M154.2 376.7h0M112.6 415.5h0M130.4 401.0h0M179.5 292.6h0M167.9 340.4h0M137.5 390.1h0M132.2 394.2h0M115.2 396.4h0M145.0 380.8h0M172.1 354.0h0M197.5 356.4h0M186.4 318.4h0M367.5 177.6h0M148.9 384.4h0M142.2 348.0h0M125.2 412.3h0M153.5 358.9h0M120.5 413.6h0M227.3 343.5h0M212.7 336.2h0M147.4 391.8h0M170.5 363.4h0M151.3 385.1h0M138.4 397.7h0M137.3 396.4h0M146.9 366.7h0M131.4 391.0h0M170.0 375.6h0M214.2 316.1h0M153.9 384.0h0M126.2 393.4h0M165.3 388.9h0M134.1 390.6h0M155.4 363.3h0M304.2 236.9h0M148.7 389.0h0M147.9 378.2h0M149.7 400.3h0M122.2 414.0h0M186.3 374.1h0M173.1 348.8h0M135.4 405.9h0M186.1 353.5h0M146.3 407.9h0M166.1 375.9h0M111.4 413.8h0M126.6 400.9h0M130.5 385.1h0M209.0 383.8h0M174.9 399.6h0M133.2 374.6h0M144.6 380.7h0M165.3 387.8h0M101.9 426.5h0M130.9 395.1h0M137.5 388.7h0M213.4 304.3h0M143.5 374.6h0M148.1 373.1h0M175.4 349.5h0M113.2 414.6h0M187.7 336.5h0M277.3 250.9h0M121.2 409.4h0M155.7 379.7h0M118.2 411.3h0M170.7 344.8h0M177.5 355.9h0M151.0 381.6h0M144.9 356.7h0M153.8 340.0h0M135.9 393.4h0M243.6 306.4h0M126.5 388.6h0M163.3 391.2h0M266.1 223.4h0M142.8 368.3h0M205.7 338.2h0M237.8 296.6h0M215.8 343.0h0M205.5 320.6h0M115.9 422.6h0M171.2 356.3h0M175.3 368.2h0M132.7 399.6h0M162.4 374.0h0M115.7 419.7h0M149.5 378.9h0M140.0 401.5h0M117.7 410.1h0M113.9 420.3h0M122.3 397.8h0M175.8 365.5h0M116.6 410.0h0M176.1 334.7h0M113.7 418.0h0M164.7 386.8h0M145.5 375.1h0M117.6 421.0h0M117.7 410.8h0M188.2 374.5h0M197.9 344.9h0M216.9 319.0h0M191.4 354.7h0M126.7 402.8h0M119.8 407.2h0M211.5 317.5h0M159.1 369.3h0M183.7 312.9h0M129.1 394.6h0M160.7 364.3h0M143.6 394.7h0M196.6 350.9h0M125.9 396.6h0M272.7 256.6h0M148.7 371.9h0M169.2 385.5h0M214.1 364.7h0M143.9 386.2h0M150.0 410.0h0M120.7 413.0h0M149.3 402.2h0M140.5 390.3h0M183.5 338.8h0M141.1 404.5h0M136.0 381.7h0M154.7 372.2h0M136.6 397.1h0M176.6 374.8h0M130.3 409.5h0M167.3 371.0h0M154.1 362.8h0M153.5 380.4h0M150.6 402.0h0M169.7 390.3h0M162.9 365.3h0M141.8 393.6h0M135.8 385.5h0M190.5 329.0h0M144.3 375.0h0M189.0 312.5h0M159.2 356.4h0M134.6 393.3h0M194.6 378.4h0M123.9 401.3h0M113.1 412.7h0M111.9 416.2h0M161.7 388.5h0M121.6 406.0h0M103.2 424.1h0M152.3 372.0h0M136.4 398.8h0M251.4 335.4h0M139.7 401.0h0M185.7 297.5h0M122.1 408.5h0M165.7 344.6h0M146.1 387.8h0M276.9 285.2h0M125.1 392.6h0M191.0 327.0h0M141.7 371.4h0M130.4 399.7h0M145.2 399.7h0M113.8 407.0h0M159.6 376.8h0M132.9 394.5h0M120.3 408.2h0M212.7 295.1h0M120.1 407.2h0M125.9 390.6h0M149.8 383.0h0M276.7 225.8h0M115.9 402.8h0M118.3 414.5h0M223.1 337.3h0M134.4 397.7h0M115.9 405.5h0M157.9 367.7h0M120.9 401.4h0M132.1 398.8h0M148.0 404.9h0M117.6 418.7h0M144.6 402.6h0M125.3 419.0h0M174.3 362.6h0M124.8 395.6h0M114.4 413.0h0M102.0 427.8h0M215.2 303.1h0M194.9 344.8h0M155.6 342.7h0M142.2 377.8h0M164.2 354.6h0M131.7 416.8h0M161.5 349.4h0M106.8 418.8h0M130.3 401.5h0M313.6 262.5h0M219.0 287.4h0M116.5 417.3h0M116.0 416.9h0M152.7 383.9h0M168.7 367.5h0M219.0 340.5h0M202.7 319.1h0M236.2 261.3h0M261.5 271.4h0M108.3 427.2h0M161.7 376.0h0M145.4 388.6h0M120.0 412.9h0M195.0 328.3h0M156.3 377.0h0M206.1 326.1h0M159.5 371.5h0M160.4 389.3h0M109.1 420.1h0M259.4 246.8h0M191.9 331.8h0M144.5 384.8h0M141.0 336.4h0M123.0 405.0h0M176.7 298.7h0M210.0 342.1h0M119.7 417.0h0M132.7 411.5h0M152.0 393.7h0M123.7 414.4h0M114.6 417.0h0M160.3 367.5h0M132.8 402.1h0M126.4 404.7h0M144.1 396.0h0M129.6 409.8h0M142.3 400.8h0M192.9 349.3h0M171.1 330.6h0M170.8 397.8h0M139.8 382.9h0M149.0 371.7h0M161.9 377.0h0M162.3 358.5h0M148.1 358.8h0M140.6 399.1h0M143.6 384.2h0M141.6 395.7h0M198.4 340.8h0M158.3 374.2h0M184.5 348.7h0M129.3 407.7h0M158.4 381.2h0M149.6 362.0h0M110.2 411.7h0M144.7 381.8h0M172.1 339.6h0M220.7 319.9h0M142.7 394.2h0M133.7 395.2h0M111.5 412.7h0M105.7 424.4h0M107.8 428.1h0M154.4 360.0h0M124.5 381.7h0M134.1 392.7h0M180.8 381.5h0M184.2 341.8h0M187.7 291.3h0M201.1 337.1h0M150.2 374.7h0M144.6 380.1h0M132.6 416.1h0M128.6 409.1h0M153.8 383.1h0M153.9 369.3h0M215.7 312.6h0M153.2 390.0h0M150.3 385.6h0M148.5 397.9h0M122.9 414.7h0M262.8 283.6h0M189.4 334.4h0M154.4 342.8h0M156.0 380.5h0M235.0 311.0h0M164.7 365.7h0M321.2 271.9h0M145.3 376.1h0M162.4 349.5h0M138.4 402.7h0M269.1 277.3h0M153.7 342.5h0M143.8 386.7h0M138.0 398.7h0M141.0 398.2h0M141.0 364.3h0M134.1 398.3h0M161.5 382.5h0M129.5 397.9h0M163.2 326.3h0M168.8 380.2h0M165.2 393.6h0M175.0 314.8h0M150.4 380.4h0M132.9 384.2h0M147.0 370.9h0M139.9 404.6h0M221.8 351.8h0M117.4 403.9h0M110.1 423.6h0M140.7 385.9h0M200.2 357.4h0M130.6 392.0h0M194.1 356.2h0M273.4 285.4h0M124.8 395.7h0M133.7 389.5h0M265.8 269.4h0M114.0 409.8h0M115.2 422.7h0M143.0 372.8h0M197.8 295.0h0M139.0 383.4h0M143.6 391.0h0M159.6 385.3h0M179.2 349.3h0M127.2 412.6h0M145.4 383.1h0M134.6 399.7h0M144.4 389.1h0M136.5 391.7h0M115.3 421.0h0M161.7 369.4h0M108.5 422.0h0M130.1 413.9h0M135.3 375.1h0M185.5 351.4h0M137.3 395.9h0M162.4 349.2h0M191.1 319.9h0M156.2 400.7h0M153.1 339.7h0M210.9 277.1h0M170.8 369.7h0M154.1 367.8h0M134.7 390.1h0M197.9 357.0h0M160.6 367.0h0M134.0 393.6h0M128.5 384.4h0M235.6 355.0h0M166.2 371.4h0M204.1 353.3h0M151.0 355.5h0M125.7 413.1h0M169.2 379.8h0M176.2 371.9h0M118.1 412.1h0M134.4 393.7h0M114.8 413.8h0M152.5 384.3h0M111.8 419.8h0M118.2 418.0h0M193.0 355.6h0M155.8 385.6h0M167.4 382.5h0M116.4 397.1h0M153.1 378.3h0M194.4 336.9h0M182.0 357.7h0M219.1 319.4h0M108.7 413.2h0M186.2 297.4h0M140.7 395.9h0M150.7 382.0h0M107.3 413.5h0M217.3 344.3h0M147.2 382.9h0M215.3 296.7h0M121.0 414.5h0M173.0 335.6h0M143.6 403.5h0M136.0 386.1h0M149.3 354.5h0M127.3 412.9h0M137.4 387.1h0M172.6 317.5h0M147.6 389.5h0M152.8 377.5h0M116.6 415.0h0M168.2 385.8h0M113.5 417.7h0M111.1 408.7h0M223.3 310.7h0M131.9 382.7h0M149.1 413.8h0M131.3 401.4h0M132.8 409.1h0M211.8 313.0h0M111.5 410.7h0M124.5 410.1h0M146.5 359.2h0M127.9 403.9h0M238.0 299.9h0M152.0 398.5h0M152.8 394.9h0M141.5 398.1h0M122.9 409.2h0M151.4 345.8h0M158.3 335.0h0M186.7 315.5h0M113.0 417.4h0M172.9 347.9h0M120.1 399.7h0M181.6 377.0h0M220.5 314.3h0M118.8 405.8h0M137.5 404.3h0M132.6 377.2h0M184.6 334.6h0M189.1 333.0h0M124.9 403.7h0M184.9 356.0h0M202.5 316.4h0M192.6 348.6h0M176.9 365.2h0M143.2 389.2h0M132.4 382.2h0M173.3 376.9h0M179.4 332.5h0M199.2 304.3h0M152.2 381.2h0M106.5 426.0h0M196.8 319.9h0M119.6 415.6h0M384.6 187.5h0M155.1 347.5h0M153.0 396.7h0M156.6 384.0h0M130.6 407.4h0M130.5 402.3h0M157.8 357.3h0M162.4 377.1h0M127.6 406.4h0M108.4 421.3h0M192.7 353.7h0M200.9 317.5h0M112.7 410.2h0M168.1 353.4h0M157.9 332.5h0M126.2 398.7h0M163.7 355.3h0M116.9 427.3h0M242.9 303.4h0M162.6 348.8h0M145.6 400.4h0M184.1 352.4h0M123.9 399.6h0M131.1 386.9h0M117.6 412.2h0M167.0 364.4h0M203.3 317.6h0M156.9 401.2h0M121.6 407.8h0M201.2 352.0h0M140.3 394.6h0M200.7 364.1h0M167.8 393.8h0M158.9 376.6h0M168.9 353.1h0M212.3 309.3h0M294.3 275.6h0M190.1 360.1h0M215.2 344.9h0M191.2 331.0h0M151.8 364.0h0M140.0 384.8h0M119.9 407.2h0M150.1 350.7h0M123.1 408.9h0M132.0 400.5h0M178.7 328.9h0M235.8 332.9h0M202.1 359.1h0M128.0 402.7h0M125.1 385.2h0M190.2 362.2h0M193.6 335.9h0M224.0 327.3h0M141.7 379.8h0M119.3 408.6h0M229.0 300.4h0M189.1 356.3h0M135.4 399.8h0M161.8 394.6h0M190.6 364.9h0M113.7 414.1h0M109.1 413.6h0M212.2 345.6h0M195.2 324.6h0M112.7 407.9h0M174.3 400.0h0M189.1 373.4h0M150.3 392.7h0M285.4 246.2h0M167.1 339.8h0M172.4 308.7h0M167.2 371.9h0M114.7 406.4h0M175.2 360.5h0M109.9 422.8h0M270.9 234.7h0M460.6 78.6h0M268.0 298.5h0M454.1 53.6h0M453.2 74.1h0M468.0 61.8h0M433.4 89.9h0M468.9 124.3h0M387.1 117.5h0M452.6 60.4h0M423.5 107.1h0M440.6 82.4h0M376.3 148.9h0M431.6 82.6h0M442.1 80.5h0M437.4 82.6h0M411.7 84.7h0M446.7 111.2h0M471.8 60.0h0M435.6 70.4h0M450.8 65.3h0M349.1 196.6h0M371.0 107.2h0M450.3 74.3h0M444.4 84.2h0M430.1 93.1h0M467.4 58.0h0M412.6 103.0h0M460.3 79.6h0M390.4 126.3h0M498.5 30.0h0M386.5 90.7h0M412.5 109.6h0M436.8 98.2h0M454.4 82.3h0M344.1 180.7h0M387.7 146.9h0M436.1 115.1h0M486.2 62.3h0M450.3 82.3h0M466.6 66.5h0M405.2 99.3h0M361.5 145.2h0M463.7 65.5h0M419.2 79.0h0M344.2 192.4h0M489.5 54.1h0M477.2 65.7h0M433.1 95.7h0M436.3 87.1h0M463.4 49.1h0M488.7 56.3h0M467.8 70.0h0M432.0 98.0h0M405.9 128.4h0M487.3 54.9h0M431.4 99.7h0M458.2 76.0h0M463.1 59.2h0M400.9 154.0h0M450.9 63.9h0M447.9 95.9h0M482.8 39.0h0M491.0 39.1h0M395.9 116.8h0M433.6 100.4h0M470.2 70.0h0M377.8 125.1h0M458.4 75.6h0M441.1 76.6h0M478.8 66.7h0M465.8 85.8h0M333.6 199.9h0M462.6 56.7h0M468.1 66.0h0M452.0 57.2h0M468.8 60.6h0M406.2 97.5h0M448.6 99.9h0M475.9 56.1h0M460.8 61.0h0M390.9 114.5h0M465.0 67.8h0M287.7 185.4h0M451.4 89.8h0M347.3 174.5h0M302.4 189.3h0M350.2 124.4h0M433.6 91.0h0M430.3 84.0h0M473.5 61.1h0M403.5 109.3h0M317.8 248.1h0M259.7 294.9h0M373.4 132.0h0M404.2 108.8h0M453.7 77.7h0M431.3 139.8h0M377.0 156.7h0M474.9 59.3h0M481.1 32.4h0M467.6 45.8h0M397.8 149.5h0M379.4 140.6h0M477.9 49.1h0M458.1 59.0h0M458.7 62.3h0M474.6 49.2h0M464.0 89.0h0M408.4 130.3h0M433.5 105.0h0M457.0 76.4h0M483.5 54.0h0M374.1 168.3h0M452.7 81.6h0M451.5 73.0h0M411.1 104.7h0M432.5 113.9h0M486.5 60.8h0M485.4 53.9h0M298.2 246.9h0M347.7 196.8h0M360.3 183.2h0M327.2 184.4h0M375.4 150.3h0M368.0 141.6h0M436.7 89.2h0M406.9 105.6h0M347.9 126.8h0M410.3 102.5h0M438.0 64.2h0M399.5 130.5h0M429.1 108.2h0M467.3 112.1h0M486.5 33.6h0M395.2 103.4h0M308.4 219.6h0M386.7 149.9h0M431.1 112.8h0M388.1 141.2h0M484.0 62.5h0M424.7 93.9h0M399.4 147.0h0M419.1 102.5h0M304.9 181.2h0M417.6 145.7h0M468.9 63.9h0M375.4 178.0h0M453.9 87.5h0M373.6 135.1h0M325.1 182.0h0M465.8 59.3h0M470.7 55.5h0M371.5 167.7h0M404.2 121.3h0M468.6 55.0h0M414.1 101.7h0M463.4 69.8h0M334.5 183.7h0M440.9 97.3h0M380.5 184.7h0M413.5 87.6h0M488.4 41.2h0M495.8 34.0h0M428.7 112.3h0M416.1 111.5h0M445.6 90.3h0M340.6 170.9h0M454.9 61.4h0M440.4 96.1h0M459.9 78.2h0M453.8 76.5h0M371.5 154.4h0M484.3 47.8h0M492.2 43.9h0M412.3 111.8h0M476.4 51.5h0M447.3 83.1h0M353.6 191.0h0M338.0 191.0h0M468.0 63.5h0M424.6 119.3h0M462.4 66.5h0M480.7 50.3h0M464.4 62.4h0M443.4 89.1h0M484.6 43.0h0M449.1 100.7h0M438.2 91.8h0M489.1 49.0h0M469.4 49.5h0M375.8 155.5h0M376.1 142.3h0M448.1 89.4h0M336.1 187.5h0M467.4 58.2h0M480.6 51.2h0M489.9 47.6h0M490.4 43.3h0M437.4 89.0h0M416.9 102.9h0M449.0 92.1h0M442.7 96.9h0M420.1 113.0h0M494.4 37.9h0M395.7 125.3h0M398.8 158.4h0M372.4 137.6h0M468.5 60.2h0M391.4 97.7h0M409.5 140.9h0M478.9 44.0h0M425.2 101.0h0M402.0 99.2h0M415.7 67.8h0M477.6 58.9h0M470.6 65.0h0M455.4 79.7h0M498.1 25.9h0M454.2 69.3h0M372.4 185.9h0M448.7 104.0h0M388.7 131.0h0M422.8 102.4h0M460.5 73.6h0M436.2 89.8h0M483.8 56.5h0M463.1 63.4h0M460.5 65.9h0M389.9 120.6h0M411.1 130.9h0M414.4 111.9h0M465.3 68.1h0M468.0 85.7h0M406.7 108.6h0M434.3 111.7h0M409.2 108.5h0M456.2 82.9h0M389.0 130.2h0M429.2 82.3h0M469.7 45.1h0M388.5 146.3h0M471.9 46.9h0M461.7 64.2h0M498.9 43.1h0M403.5 185.8h0M441.2 81.6h0M378.2 124.8h0M412.0 127.8h0M488.6 41.6h0M436.3 103.8h0M470.8 65.3h0M436.1 79.3h0M484.4 46.6h0M426.2 113.5h0M395.5 109.6h0M429.1 110.7h0M408.4 115.9h0M446.9 88.3h0M408.4 115.0h0M474.0 57.5h0M491.6 46.4h0M388.3 121.5h0M450.8 70.7h0M411.7 117.1h0M470.2 63.6h0M423.2 88.8h0M386.5 165.2h0M456.3 70.0h0M300.3 216.5h0M447.3 75.6h0M424.2 108.8h0M420.8 115.5h0M460.7 53.9h0M487.5 46.6h0M483.4 58.1h0M464.3 80.8h0M394.5 135.1h0M434.1 108.2h0M457.2 65.6h0M341.3 161.7h0M461.9 88.0h0M464.0 84.8h0M326.6 211.4h0M477.7 49.9h0M461.5 81.9h0M404.4 136.3h0M458.9 93.0h0M421.3 99.4h0M375.1 126.2h0M408.6 118.1h0M491.8 36.7h0M337.7 177.9h0M366.4 135.2h0M454.3 65.5h0M371.8 141.9h0M338.9 168.7h0M408.2 148.5h0M437.5 76.9h0M413.5 129.0h0M359.1 157.7h0M392.7 134.8h0M438.6 89.6h0M404.7 113.6h0M394.4 129.6h0M451.6 80.9h0M400.0 96.8h0M305.5 212.9h0M380.0 137.4h0M303.1 231.8h0M385.0 156.4h0M479.9 54.4h0M390.6 136.1h0M258.3 269.6h0M332.0 180.5h0M474.7 57.7h0M470.2 50.7h0M493.1 33.3h0M472.0 79.1h0M440.0 110.7h0M459.6 74.5h0M424.4 103.4h0M353.1 163.9h0M390.1 131.6h0M410.9 124.1h0M453.2 61.3h0M484.7 52.6h0M415.3 122.5h0M455.6 81.7h0M397.9 125.7h0M460.9 65.8h0M402.2 127.3h0M430.7 92.9h0M449.1 81.0h0M482.4 34.6h0M471.2 63.1h0M469.0 65.1h0M468.4 57.4h0M405.4 118.2h0M429.6 94.4h0M383.4 146.4h0M461.5 82.2h0M474.3 53.6h0M474.2 61.1h0M421.5 97.7h0M478.9 48.9h0M483.9 45.6h0M348.0 206.7h0M445.2 74.3h0M426.4 104.2h0M483.3 55.4h0M288.1 216.1h0M346.8 137.2h0M350.5 156.4h0M446.4 79.5h0M475.4 60.2h0M473.0 62.0h0M450.4 71.7h0M448.3 72.5h0M489.1 40.2h0M469.3 53.2h0M362.1 126.1h0M413.6 112.1h0M252.2 259.5h0M476.2 50.1h0M424.9 95.1h0M464.8 54.9h0M454.0 82.0h0M463.4 76.3h0M364.1 176.0h0M322.5 221.0h0M441.1 97.4h0M427.1 79.9h0M441.2 78.1h0M455.5 83.9h0M496.6 41.8h0M452.1 102.7h0M365.9 166.5h0M417.9 114.1h0M376.3 181.7h0M462.5 67.0h0M422.4 94.3h0M449.2 80.8h0M440.8 74.8h0M460.6 91.7h0M320.4 197.7h0M352.5 192.1h0M433.1 95.6h0M411.3 150.4h0M428.5 113.7h0M455.1 99.9h0M358.5 230.3h0M440.0 88.6h0M446.1 91.0h0M448.2 83.4h0M430.0 85.3h0M441.8 82.6h0M373.5 137.9h0M380.4 136.0h0M480.9 48.1h0M485.6 39.4h0M415.0 106.7h0M476.9 58.9h0M446.7 86.3h0M467.5 57.5h0M350.0 198.5h0M440.4 89.4h0M436.5 93.8h0M430.5 107.2h0M495.9 34.9h0M448.9 76.3h0M364.3 141.5h0M402.1 98.1h0M327.4 176.8h0M356.7 156.3h0M451.7 68.9h0M432.4 122.6h0M322.5 237.7h0M424.7 81.7h0M420.5 103.2h0M419.0 119.2h0M474.0 51.1h0M460.3 86.0h0M441.7 103.9h0M460.5 66.3h0M444.3 81.3h0M374.5 122.2h0M422.9 72.3h0M466.6 67.1h0M406.2 109.3h0M440.4 96.9h0M332.2 200.4h0M418.7 111.3h0M453.4 62.2h0M473.2 58.3h0M427.6 130.8h0M470.9 41.3h0M441.0 87.4h0M467.2 54.5h0M388.6 148.2h0M443.0 102.5h0M440.2 100.7h0M441.6 61.9h0M426.0 117.4h0M428.5 93.9h0M401.6 108.9h0M465.1 81.8h0M470.4 50.1h0M464.1 63.3h0M403.8 121.4h0M460.1 69.3h0M457.6 63.6h0M408.9 128.7h0M495.6 31.5h0M474.1 54.4h0M455.4 69.4h0M493.1 41.2h0M373.7 128.8h0M463.0 54.4h0M430.3 108.9h0M401.4 124.7h0M446.3 86.5h0M476.8 50.4h0M436.5 71.7h0M469.9 75.7h0M458.5 66.9h0M459.4 61.3h0M380.9 138.5h0M359.9 171.6h0M391.7 123.0h0M463.0 75.5h0M357.6 185.2h0M468.6 66.7h0M447.8 117.2h0M433.4 86.6h0M355.7 167.3h0M422.0 101.8h0M452.0 69.3h0M410.7 126.5h0M414.3 114.9h0M389.6 167.9h0M423.1 123.4h0M447.6 100.4h0M458.6 63.0h0M381.1 141.6h0M459.9 80.4h0M468.7 64.7h0M412.7 138.3h0M472.5 74.7h0M385.0 125.5h0M477.6 50.2h0M433.2 78.1h0M402.3 129.5h0M409.9 122.0h0M394.2 148.8h0M459.9 77.2h0M400.2 139.8h0M391.3 156.7h0M456.6 77.1h0M358.7 157.8h0M432.5 105.6h0M402.6 98.3h0M473.6 58.8h0M467.4 54.3h0M424.8 59.8h0M469.6 64.0h0M390.3 115.6h0M449.9 74.2h0M411.3 138.0h0M430.6 104.6h0M462.6 100.6h0M423.7 117.8h0M491.1 37.5h0M398.9 145.0h0M460.0 70.6h0M398.7 137.8h0M487.7 44.1h0M428.7 103.5h0M385.2 154.3h0M413.6 122.5h0M491.4 33.4h0M432.6 72.2h0M371.2 174.0h0M356.5 173.5h0M442.9 91.4h0M454.6 81.3h0M369.6 140.9h0M393.1 130.7h0M477.9 44.3h0M430.6 84.8h0M310.1 233.3h0M449.6 98.8h0M439.4 86.8h0M421.1 96.2h0M336.5 178.0h0M402.5 125.4h0M476.3 54.0h0M438.3 92.3h0M398.3 136.5h0M243.4 282.5h0M469.6 56.6h0M369.4 168.9h0M454.9 114.4h0M482.8 45.2h0M251.9 296.2h0M459.5 68.5h0M491.6 40.0h0M418.3 143.9h0M458.3 73.9h0M437.5 93.1h0M364.5 127.0h0M360.1 139.5h0M295.8 226.1h0M480.6 47.6h0M458.7 60.9h0M440.9 122.5h0M344.9 145.2h0M469.6 49.6h0M361.9 162.0h0M407.9 135.7h0M244.9 247.5h0M480.4 51.1h0M405.1 120.6h0M432.4 96.5h0M322.8 200.0h0M462.7 70.4h0M439.3 84.2h0M479.3 47.2h0M481.3 50.1h0M445.6 76.0h0M340.7 176.5h0M387.5 162.0h0M454.5 81.9h0M437.4 84.1h0M436.6 113.9h0M461.6 65.8h0M459.4 68.7h0M461.8 102.1h0M479.5 53.0h0M474.3 46.6h0M439.5 81.6h0M473.0 63.6h0M427.1 105.7h0M457.5 75.6h0M478.7 55.1h0M465.3 70.7h0M447.8 82.9h0M436.7 97.9h0M440.6 71.7h0M487.7 34.9h0M409.6 110.2h0M421.1 111.2h0M491.0 45.1h0M462.8 80.7h0M439.7 98.2h0M433.2 93.5h0M417.3 87.1h0M413.1 123.2h0M447.3 67.4h0M479.3 49.0h0M422.5 101.6h0M439.2 90.6h0M333.3 260.8h0M477.5 57.3h0M413.3 120.3h0M469.6 56.2h0M242.9 309.9h0M476.3 55.8h0M468.2 71.2h0M427.1 106.4h0M436.9 103.1h0M412.7 104.4h0M477.7 57.8h0M427.7 117.2h0M250.4 282.1h0M463.2 57.6h0M460.1 69.5h0M443.8 86.8h0M346.7 167.7h0M376.3 152.2h0M482.1 43.8h0M456.2 66.4h0M436.5 92.6h0M485.0 54.4h0M478.7 49.2h0M231.7 281.2h0M448.5 69.8h0M360.3 186.2h0M358.1 191.9h0M443.3 83.5h0M409.4 120.4h0M457.7 68.9h0M461.9 73.0h0M317.6 213.4h0M353.8 177.2h0M480.9 65.5h0M369.4 136.9h0M468.6 65.1h0M473.6 70.6h0M472.9 70.4h0M422.8 108.4h0M469.7 63.5h0M358.6 198.7h0M398.8 140.0h0M462.1 72.8h0M411.6 92.0h0M490.4 38.2h0M422.7 89.3h0M463.2 79.7h0M482.8 48.8h0M408.3 143.4h0M452.2 72.5h0M446.7 53.0h0M440.8 87.5h0M482.8 58.0h0M472.6 58.9h0M413.0 84.1h0M306.1 142.8h0M386.1 153.2h0M440.0 91.2h0M426.8 121.4h0M454.8 95.7h0M442.7 101.7h0M471.3 50.5h0M449.0 90.5h0M362.6 156.9h0M370.8 154.5h0M447.1 88.9h0M412.4 152.0h0M459.3 89.1h0M418.5 126.0h0M481.3 46.2h0M366.8 147.4h0M429.3 99.2h0M496.3 33.4h0M472.8 70.3h0M422.1 119.8h0M440.5 95.8h0M374.0 191.7h0M427.2 114.0h0M445.4 88.7h0M450.1 79.1h0M417.1 113.6h0M481.1 57.8h0M431.1 136.7h0M339.7 169.1h0M261.5 295.5h0M477.2 51.5h0M377.5 123.9h0M440.4 73.3h0M441.5 108.8h0M373.5 159.5h0M447.5 88.5h0M365.6 184.6h0M472.6 52.1h0M413.3 115.1h0M485.5 38.9h0M484.3 53.3h0M456.1 104.1h0M432.5 101.2h0M445.5 86.8h0M363.3 138.5h0M420.0 117.2h0M467.2 59.4h0M427.9 86.6h0M469.5 86.3h0M384.1 150.8h0M414.4 126.6h0M483.3 53.6h0M420.6 135.8h0M384.5 160.9h0M440.9 67.5h0M428.6 145.3h0M474.6 58.8h0M357.9 148.8h0M454.1 55.2h0M450.4 96.9h0M356.8 160.6h0M470.9 65.2h0M397.7 79.5h0M374.8 122.2h0M431.9 94.0h0M471.1 51.5h0M409.6 114.4h0M325.5 207.2h0M351.3 169.0h0M455.9 92.9h0M375.1 157.0h0M437.9 79.9h0M461.4 100.8h0M442.0 114.5h0M404.0 115.6h0M485.4 41.8h0M471.4 58.7h0M446.4 77.3h0M477.9 53.7h0M438.2 76.7h0M443.9 101.2h0M414.0 93.0h0M392.9 140.5h0M450.4 89.3h0M474.0 51.6h0M481.8 50.7h0M444.7 49.6h0M478.6 54.4h0M442.1 105.7h0M476.6 69.7h0M454.0 74.3h0M431.3 72.6h0M352.8 159.3h0M424.6 106.4h0M433.1 139.1h0M444.3 104.9h0M439.3 85.8h0M412.8 127.8h0M350.8 181.0h0M393.9 139.0h0M431.1 91.4h0M412.0 130.4h0M316.2 199.5h0M338.4 165.3h0M481.8 49.1h0M278.7 237.2h0M447.5 85.0h0M449.3 97.6h0M485.9 43.2h0M395.6 141.5h0M492.2 41.1h0M423.3 110.3h0M387.3 149.6h0M361.2 147.8h0M459.9 59.8h0M461.8 86.6h0M455.6 97.5h0M452.1 87.3h0M462.4 49.5h0M442.6 135.8h0M447.2 98.5h0M363.1 216.3h0M434.7 108.6h0M454.8 79.0h0M473.9 50.0h0M483.1 30.1h0M459.2 70.8h0M456.2 70.0h0M472.5 53.8h0M459.0 70.0h0M415.0 108.4h0M470.1 75.3h0M449.7 74.5h0M479.9 45.8h0M438.3 106.4h0M467.1 61.2h0M400.0 123.1h0M429.3 93.0h0M434.5 59.0h0M414.4 104.4h0M429.1 107.0h0M377.7 176.1h0M449.8 98.2h0M448.5 73.5h0M450.7 88.7h0M400.2 131.1h0M452.5 93.8h0M465.7 52.6h0M462.3 66.0h0M460.5 61.3h0M372.3 209.6h0M476.8 49.7h0M443.8 72.9h0M443.8 83.2h0M480.6 60.2h0M437.3 104.6h0M442.9 91.5h0M467.3 53.5h0M476.8 51.1h0M415.4 99.7h0M489.9 40.5h0M261.8 303.0h0M364.4 141.3h0M483.1 44.8h0M477.3 64.6h0M485.8 44.8h0M499.2 34.4h0M332.9 138.8h0M454.9 77.5h0M456.4 73.3h0M435.5 82.1h0M472.2 68.4h0M401.7 115.9h0M469.5 61.4h0M451.7 73.8h0M465.7 78.2h0M465.4 60.6h0M445.5 104.9h0M424.9 103.9h0M484.5 41.0h0M325.7 190.6h0M359.5 148.4h0M489.5 48.9h0M335.9 151.1h0M469.4 61.9h0M449.4 79.4h0M412.7 101.1h0M442.3 68.1h0M403.9 142.5h0M441.1 88.5h0M474.3 52.4h0M482.3 40.7h0M476.8 50.7h0M387.2 101.8h0M372.0 140.1h0M407.0 133.9h0M394.1 149.0h0M268.2 265.5h0M409.0 121.1h0M385.7 159.4h0M486.1 42.5h0M453.5 67.1h0M358.8 178.8h0M472.6 50.3h0M446.5 75.5h0M497.0 31.6h0M349.3 143.8h0M351.6 142.2h0M387.2 170.2h0M455.0 72.0h0M443.3 79.7h0M455.7 106.0h0M457.6 89.3h0M476.0 54.6h0M461.3 78.1h0M418.5 114.6h0M300.9 262.0h0M464.8 59.5h0M481.1 56.1h0M387.6 176.8h0M418.7 116.3h0M483.5 46.0h0M426.4 121.2h0M472.9 54.4h0M479.9 57.9h0M439.5 51.6h0M331.3 188.4h0M408.1 113.3h0M444.8 83.8h0M467.2 61.8h0M496.5 39.2h0M491.4 37.3h0M479.6 46.4h0M475.1 71.0h0M379.3 146.2h0M476.7 61.3h0M469.3 54.1h0M453.7 75.5h0M351.6 139.4h0M432.7 73.0h0M469.3 64.8h0M483.2 45.4h0M485.3 36.3h0M485.0 38.7h0M399.0 154.1h0M417.8 130.1h0M384.5 159.2h0M459.0 79.7h0M377.3 164.7h0M376.3 97.8h0M460.0 65.6h0M378.3 120.3h0M349.5 204.9h0M492.2 35.9h0M446.8 73.3h0M395.4 176.1h0M431.5 109.2h0M404.9 160.1h0M450.9 96.7h0M433.3 109.5h0M418.5 86.6h0M404.5 108.5h0M470.5 69.3h0M441.1 102.9h0M482.3 40.0h0M412.2 118.0h0M462.1 73.1h0M319.9 165.7h0M349.9 185.8h0M478.0 61.1h0M435.9 81.1h0M474.0 59.7h0M486.7 67.1h0M400.3 111.8h0M420.4 125.5h0M392.8 150.3h0M466.8 58.3h0M439.3 76.7h0M422.7 146.3h0M411.2 112.5h0M481.4 43.4h0M472.5 48.6h0M417.3 113.6h0M366.5 183.6h0M467.5 58.9h0M470.2 73.0h0M474.0 47.2h0M428.2 109.0h0M488.5 48.8h0M462.3 64.9h0M464.9 56.1h0M401.3 104.7h0M486.3 50.3h0M414.2 92.7h0M458.6 67.1h0M472.9 57.0h0M462.9 68.2h0M495.5 31.1h0M449.9 75.0h0M339.9 189.1h0M464.3 61.6h0M383.1 142.0h0M455.6 73.4h0M474.6 55.5h0M442.1 82.5h0M468.7 51.1h0M252.4 305.9h0M499.4 36.1h0M470.3 76.2h0M413.1 110.3h0M477.5 55.3h0M448.9 81.0h0M490.2 37.0h0M482.0 46.0h0M425.1 98.0h0M422.5 95.8h0M443.6 80.4h0M466.9 66.9h0M475.9 57.1h0M365.0 168.4h0M484.6 51.5h0M497.5 35.6h0M465.0 75.1h0M414.0 128.8h0M459.2 90.7h0M491.6 44.8h0M329.9 129.5h0M472.0 70.8h0M474.2 53.4h0M451.2 73.5h0M434.2 83.6h0M405.6 132.8h0M465.3 62.8h0M449.2 83.0h0M436.6 90.8h0M311.5 211.4h0M450.9 70.5h0M414.3 117.1h0M475.3 58.7h0M417.9 125.7h0M377.1 180.4h0M398.3 132.3h0M446.6 69.4h0M433.4 102.5h0M451.8 73.4h0M464.0 56.6h0M411.7 132.4h0M338.3 165.4h0M446.0 81.6h0M462.5 76.8h0M422.3 145.8h0M475.9 52.5h0M416.6 115.6h0M447.1 76.1h0M446.7 110.1h0M257.6 243.5h0M294.5 208.6h0M472.0 67.3h0M471.1 64.5h0M392.9 102.9h0M465.2 58.6h0M425.1 108.0h0M441.4 93.2h0M395.8 134.3h0M462.0 61.6h0M463.3 69.5h0M396.9 124.6h0M394.8 148.4h0M479.4 65.4h0M490.4 38.6h0M442.0 95.4h0M433.5 81.6h0M476.8 51.5h0M457.1 66.8h0M376.2 186.1h0M358.3 153.3h0M468.4 54.8h0M445.2 82.6h0M476.0 41.7h0M368.5 93.2h0M450.7 67.8h0M468.2 70.1h0M418.7 130.9h0M399.3 125.5h0M378.0 146.5h0M489.9 38.7h0M409.1 140.4h0M364.5 194.0h0M403.2 125.4h0M430.6 80.0h0M478.3 58.5h0M427.2 97.6h0M462.5 63.7h0M472.9 59.7h0M498.9 69.4h0M487.5 40.0h0M424.8 143.6h0M458.2 73.5h0M493.6 54.9h0M456.8 95.4h0M452.4 68.5h0M452.3 105.1h0M497.4 37.3h0M464.4 72.7h0M424.8 121.1h0M453.1 77.1h0M402.1 132.3h0M484.4 45.0h0M444.4 86.0h0M438.2 92.0h0M363.7 129.5h0M297.6 260.7h0M474.8 53.7h0M380.4 153.4h0M340.8 172.0h0M445.5 95.9h0M332.9 188.7h0M440.1 91.6h0M453.4 65.2h0M472.4 71.9h0M425.8 74.9h0M491.1 37.2h0M331.5 208.6h0M450.4 89.6h0M481.7 54.7h0M442.6 96.8h0M463.8 66.2h0M357.0 196.4h0M440.0 85.7h0M396.1 145.3h0M338.8 177.7h0M466.4 71.7h0M336.0 189.1h0M475.6 60.7h0M446.8 71.6h0M437.4 93.7h0M384.9 133.5h0M452.4 61.7h0M417.9 109.3h0M423.0 120.2h0M424.8 108.4h0M379.5 162.6h0M465.6 53.2h0M447.9 63.9h0M414.4 89.5h0M412.5 120.1h0M442.6 87.1h0M446.4 71.7h0M488.7 38.2h0M472.0 79.7h0M471.7 65.3h0M394.3 146.2h0M419.8 122.5h0M406.2 122.9h0M250.8 266.6h0M407.6 108.0h0M458.5 71.6h0M483.2 43.2h0M360.4 127.7h0M421.0 117.4h0M458.4 93.7h0M370.9 171.2h0M422.0 109.1h0M436.8 99.8h0M421.0 118.2h0M492.2 42.2h0M263.1 253.6h0M324.6 124.9h0M452.8 69.7h0M451.5 89.8h0M424.2 105.1h0M416.1 107.0h0M448.0 94.5h0M311.1 221.6h0M461.5 76.7h0M463.2 54.0h0M397.9 115.9h0M378.0 147.5h0M318.7 195.1h0M480.8 69.2h0M388.6 122.9h0M332.4 167.5h0M377.2 127.1h0M457.6 72.0h0M413.7 160.5h0M412.7 112.0h0M382.6 139.4h0M464.8 102.3h0M382.5 189.0h0M348.2 165.2h0M425.5 118.4h0M412.0 97.4h0M430.7 98.1h0M467.6 58.4h0M437.9 85.8h0M417.5 104.6h0M370.5 130.0h0M393.1 143.3h0M418.8 128.8h0M475.4 85.1h0M398.0 129.3h0M425.5 125.6h0M486.9 48.7h0M477.5 50.9h0M496.0 35.1h0M301.3 234.0h0M459.1 56.3h0M378.5 143.3h0M464.1 70.8h0M393.8 136.7h0M463.1 95.1h0M460.7 66.5h0M458.0 67.1h0M421.9 88.0h0M413.6 109.4h0M481.0 48.2h0M426.8 98.3h0M469.2 59.0h0M463.1 75.4h0M474.8 70.9h0M430.8 106.9h0M263.4 255.3h0M412.1 107.8h0M440.3 87.5h0M349.7 185.2h0M469.4 65.1h0M494.1 37.1h0M451.0 95.1h0M477.9 41.0h0M473.3 59.0h0M402.6 125.0h0M463.6 62.7h0M463.7 75.3h0M442.1 102.7h0M475.5 59.5h0M413.7 116.7h0M417.6 101.3h0M444.7 94.0h0M472.9 67.6h0M471.4 65.7h0M445.4 82.2h0M372.9 153.4h0M317.8 167.9h0M469.4 43.0h0M481.0 46.3h0M423.9 110.1h0M495.6 36.2h0M480.9 47.5h0M480.0 51.1h0M411.1 112.5h0M412.1 89.0h0M407.6 135.0h0M405.3 114.5h0M430.4 98.3h0M456.3 90.7h0M342.9 138.0h0M467.9 62.7h0M377.7 168.8h0M397.3 121.0h0M481.6 43.3h0M480.9 55.6h0M397.9 136.4h0M479.3 60.0h0M390.4 146.6h0M280.6 244.7h0M474.8 54.2h0M482.4 47.9h0M421.1 88.2h0M466.5 57.3h0M471.5 56.3h0M403.4 121.5h0M374.7 155.6h0M426.8 112.5h0M482.7 52.4h0M490.3 40.4h0M455.7 68.7h0M460.5 75.5h0M471.6 113.5h0M409.1 110.1h0M486.1 45.2h0M365.8 147.1h0M457.1 70.6h0M403.9 148.8h0M381.7 174.3h0M456.2 79.0h0M442.7 120.9h0M365.1 121.3h0M457.4 78.0h0M492.7 41.1h0M431.8 119.8h0M483.1 46.4h0M412.3 105.3h0M452.7 62.5h0M312.9 229.3h0M448.6 66.1h0M484.2 43.9h0M354.1 210.3h0M441.0 75.3h0M416.1 123.7h0M450.1 73.5h0M436.1 87.8h0M437.7 95.6h0M461.8 71.5h0M452.8 69.8h0M448.6 89.4h0M472.4 64.8h0M353.0 147.1h0M455.4 77.5h0M446.1 67.3h0M447.8 100.5h0M410.4 120.6h0M343.2 185.4h0M431.6 112.3h0M483.8 39.4h0M459.2 71.1h0M447.5 106.8h0M436.9 85.8h0M441.7 109.0h0M487.0 42.3h0M440.5 83.7h0M464.7 48.3h0M403.2 149.3h0M466.0 63.2h0M453.7 82.0h0M431.1 108.3h0M417.2 101.7h0M367.9 136.1h0M420.2 97.5h0M429.3 148.4h0M442.1 78.2h0M447.4 84.2h0M441.7 104.4h0M462.9 75.2h0M407.0 171.9h0M443.9 80.0h0M424.5 107.9h0M471.0 57.9h0M329.2 220.4h0M485.0 50.1h0M480.8 45.8h0M450.3 62.3h0M397.3 134.1h0M425.9 106.2h0M488.5 38.6h0M330.1 154.5h0M421.3 103.9h0M367.0 164.4h0M320.1 217.0h0M373.0 144.9h0M467.5 64.3h0M358.9 164.9h0M317.9 197.8h0M491.4 41.1h0M423.4 89.1h0M443.7 64.3h0M377.5 168.8h0M455.2 66.4h0M415.4 147.5h0M446.0 74.9h0M379.6 193.8h0M325.3 125.7h0M466.4 55.9h0M351.8 191.3h0M438.1 121.8h0M456.6 56.7h0M393.6 107.3h0M474.9 53.3h0M471.9 66.9h0M360.2 164.2h0M462.0 65.9h0M426.9 87.0h0M477.2 41.0h0M398.5 111.3h0M463.0 57.8h0M449.9 79.4h0M316.5 217.3h0M336.0 169.7h0M483.5 46.1h0M367.9 171.2h0M473.7 64.6h0M470.0 69.5h0M461.4 74.8h0M427.6 120.6h0M496.7 37.6h0M443.6 88.4h0M461.7 79.2h0M463.0 65.8h0M486.1 43.3h0M395.5 129.4h0M391.0 170.0h0M433.1 77.6h0M471.8 84.0h0M432.1 106.0h0M379.0 143.4h0M475.0 70.9h0M478.1 39.7h0M439.2 86.0h0M470.6 57.8h0M420.2 91.4h0M402.4 174.1h0M449.9 68.2h0M444.9 97.4h0M451.0 88.7h0M422.9 146.6h0M377.7 130.4h0M451.9 78.8h0M463.2 82.8h0M491.7 38.7h0M407.2 102.9h0M463.0 75.3h0M422.3 104.1h0M394.5 158.1h0M441.6 91.0h0M490.9 32.1h0M464.3 65.5h0M413.2 128.6h0M393.5 113.6h0M354.9 219.0h0M481.5 48.2h0M359.4 150.6h0M432.4 123.9h0M335.1 179.5h0M302.6 171.9h0M271.9 216.2h0M395.9 155.6h0M427.0 94.5h0M382.8 159.8h0M473.3 60.0h0M436.6 73.7h0M468.5 60.0h0M416.4 113.5h0M304.7 224.8h0M408.7 143.2h0M452.9 92.7h0M424.6 110.0h0M333.4 190.2h0M460.2 70.2h0M418.8 65.1h0M443.2 78.6h0M466.8 67.0h0M442.6 89.5h0M309.8 172.0h0M392.5 106.7h0M392.9 122.2h0M480.4 56.8h0M396.9 149.5h0M416.3 119.9h0M443.7 81.1h0M460.6 62.7h0M422.1 98.3h0M483.0 59.9h0M400.8 126.6h0M482.5 42.1h0M421.4 100.3h0M368.5 160.8h0M393.2 154.7h0M495.8 35.2h0M459.5 81.1h0M427.6 103.4h0M464.3 56.0h0M444.5 85.6h0M444.4 69.5h0M449.3 84.3h0M467.1 67.1h0M341.1 123.8h0M475.1 63.2h0M377.2 162.9h0M437.7 149.0h0M476.0 54.0h0M362.1 191.2h0M451.5 87.5h0M449.5 89.4h0M431.0 121.3h0M416.7 102.1h0M446.6 70.3h0M462.7 43.2h0M457.4 69.4h0M352.4 148.7h0M484.9 57.6h0M372.6 151.5h0M398.1 136.6h0M387.8 138.7h0M400.3 122.9h0M491.7 39.4h0M428.6 108.1h0M476.8 57.9h0M471.0 62.7h0M381.5 138.6h0M412.8 148.1h0M332.1 156.5h0M419.5 95.1h0M492.7 45.9h0M449.8 57.3h0M400.0 120.2h0M390.5 162.7h0M420.2 124.0h0M452.0 73.9h0M474.7 60.9h0M441.4 86.1h0M499.2 31.9h0M450.0 65.4h0M381.5 180.4h0M475.3 45.8h0M402.2 160.6h0M471.9 54.4h0M445.8 63.7h0M414.6 135.5h0M414.9 138.7h0M454.3 88.5h0M469.3 81.8h0M428.4 111.8h0M322.4 147.4h0M452.3 96.6h0M484.9 46.6h0M450.7 70.8h0M451.6 72.2h0M472.6 75.9h0M441.1 82.9h0M463.5 53.2h0M416.7 90.1h0M496.0 40.3h0M414.1 111.1h0M379.6 124.5h0M429.2 88.9h0M418.1 122.7h0M421.1 103.6h0M401.2 121.1h0M456.1 78.6h0M447.6 80.5h0M432.4 95.3h0M471.5 63.6h0M384.2 153.0h0M473.6 61.0h0M461.1 56.2h0M397.0 127.1h0M343.7 161.9h0M473.7 53.6h0M407.1 105.5h0M457.0 77.7h0M358.9 164.3h0M417.9 133.6h0M472.4 55.3h0M458.4 65.6h0M424.9 135.8h0M430.2 130.8h0M433.5 112.9h0M437.7 85.8h0M449.8 89.5h0M364.5 176.8h0M461.0 92.4h0M388.6 86.8h0M418.9 116.7h0M398.1 161.9h0M418.9 140.8h0M372.8 132.6h0M484.5 46.3h0M448.7 78.6h0M455.5 71.6h0M375.4 159.0h0M417.0 91.9h0M439.6 44.0h0M392.5 148.9h0M453.8 75.8h0M413.8 92.7h0M464.7 62.0h0M370.2 98.7h0M445.3 80.8h0M450.2 84.4h0M478.4 46.8h0M390.9 176.3h0M440.9 88.0h0M392.4 122.3h0M420.3 120.6h0M371.9 162.6h0M471.1 59.2h0M473.6 66.8h0M407.8 125.4h0M447.0 87.0h0M454.4 80.5h0M465.8 62.2h0M460.5 55.0h0M420.1 127.5h0M397.0 119.6h0M474.7 53.8h0M466.5 66.3h0M427.0 93.1h0M441.1 73.6h0M410.5 106.7h0M494.4 34.5h0M496.7 31.5h0M467.4 66.3h0M435.5 82.1h0M469.3 58.1h0M406.9 126.7h0M411.3 128.2h0M448.9 77.4h0M464.7 77.3h0M362.1 179.5h0M479.6 59.9h0M431.6 79.7h0M471.7 47.9h0M349.7 169.7h0M462.8 76.7h0M479.1 51.6h0M386.4 110.0h0M388.6 125.9h0M465.9 45.4h0M334.9 136.2h0M432.5 73.6h0M468.9 52.9h0M465.3 61.2h0M395.6 140.2h0M342.1 185.9h0M414.9 101.8h0M310.4 190.8h0M363.0 156.6h0M405.9 121.7h0M446.1 76.1h0M457.4 55.7h0M461.9 62.3h0M441.2 144.5h0M473.8 53.9h0M485.2 40.8h0M445.0 72.0h0M429.5 115.0h0M406.2 133.9h0M421.6 125.7h0M466.9 51.6h0M411.8 113.1h0M445.3 75.2h0M420.9 94.7h0M471.8 59.2h0M341.7 231.9h0M456.7 57.5h0M453.8 97.2h0M396.3 128.2h0M356.0 142.1h0M442.7 89.3h0M487.7 40.5h0M493.0 36.0h0M453.0 73.6h0M412.1 99.1h0M448.9 103.5h0M448.0 102.9h0M440.2 76.4h0M411.4 141.7h0M456.2 71.0h0M414.7 91.4h0M453.5 72.9h0M331.5 226.5h0M336.7 190.1h0M407.4 123.1h0M429.1 102.1h0M422.7 98.8h0M403.1 139.0h0M472.1 55.2h0M326.0 171.4h0M475.3 56.8h0M422.7 98.7h0M492.5 32.3h0M485.0 42.1h0M410.6 127.1h0M427.5 141.8h0M465.8 76.5h0M419.3 103.3h0M404.2 128.3h0M379.1 148.7h0M354.9 158.2h0M422.8 114.1h0M291.9 199.1h0M479.1 42.4h0M372.0 154.6h0M384.2 133.3h0M460.7 65.6h0M352.4 179.3h0M430.4 113.2h0M452.6 64.9h0M278.6 223.7h0M454.9 83.1h0M424.9 98.6h0M462.4 73.2h0M433.4 112.1h0M191.6 322.5h0M417.5 112.1h0M455.8 73.9h0M439.1 87.2h0M468.7 56.6h0M472.9 52.3h0M460.9 76.0h0M441.3 86.7h0M455.5 67.2h0M409.5 144.7h0M412.5 112.6h0M487.8 48.1h0M451.5 78.2h0M455.2 67.1h0M392.6 130.6h0M437.8 91.6h0M466.3 62.7h0M453.1 87.4h0M405.4 82.9h0M450.2 92.4h0M469.2 77.5h0M431.3 112.0h0M379.5 170.5h0M442.5 81.7h0M457.5 75.7h0M462.8 77.3h0M446.0 97.9h0M493.1 41.7h0M453.4 95.8h0M473.8 56.6h0M469.9 49.1h0M367.5 213.6h0M499.4 37.1h0M468.2 64.1h0M472.2 59.7h0M355.4 177.0h0M478.4 44.2h0M457.7 73.5h0M469.3 60.9h0M438.8 91.5h0M449.7 94.3h0M290.2 267.7h0M468.9 83.0h0M367.7 201.7h0M490.0 43.6h0M408.7 123.6h0M436.3 81.4h0M436.9 73.9h0M416.8 64.2h0M292.5 239.9h0M462.1 66.4h0M380.4 116.4h0M374.2 139.8h0M463.3 63.1h0M485.8 48.7h0M464.0 71.1h0M446.3 75.3h0M323.4 182.8h0M360.2 166.6h0M459.2 47.3h0M355.2 136.8h0M475.7 98.0h0M425.9 108.4h0M435.3 101.5h0M459.8 66.7h0M456.2 52.6h0M482.7 52.1h0M469.6 66.5h0M333.0 153.5h0M446.8 94.7h0M461.7 71.5h0M388.2 95.4h0M438.5 74.5h0M406.2 96.4h0M359.5 142.3h0M355.5 180.1h0M362.4 168.0h0M376.8 125.4h0M438.7 103.8h0M371.0 141.3h0M421.8 116.9h0M314.3 190.3h0M444.6 76.5h0M483.2 54.4h0M486.9 45.0h0M449.3 93.2h0M477.9 46.9h0M465.1 67.1h0M490.8 50.0h0M363.1 167.8h0M486.2 42.6h0M361.0 198.7h0M491.5 33.6h0M466.3 54.7h0M490.2 46.3h0M465.2 63.9h0M420.9 158.6h0M426.4 118.0h0M475.1 64.7h0M430.4 102.2h0M495.9 33.5h0M462.7 65.4h0M458.9 76.4h0M481.2 51.9h0M412.1 109.7h0M439.8 97.5h0M342.6 150.4h0M487.5 43.0h0M432.2 99.9h0M451.9 71.3h0M455.1 82.9h0M456.3 64.2h0M463.1 59.6h0M472.9 54.9h0M432.0 116.2h0M452.6 78.4h0M333.6 202.1h0M366.6 156.2h0M452.4 75.1h0M436.9 99.4h0M396.1 137.3h0M448.3 82.9h0M456.1 96.6h0M415.1 123.7h0M464.7 71.3h0M468.1 61.6h0M457.8 86.4h0M425.2 80.4h0M313.8 189.3h0M430.8 94.4h0M498.8 32.6h0M473.4 53.0h0M480.4 51.6h0M455.9 64.4h0M342.3 185.0h0M483.3 46.8h0M445.2 113.8h0M404.4 141.8h0M491.1 37.7h0M454.5 89.2h0M402.4 131.7h0M422.2 94.9h0M387.0 114.7h0M460.9 74.0h0M360.5 169.1h0M370.3 146.0h0M462.1 84.5h0M478.9 44.1h0M468.0 62.8h0M359.9 133.2h0M433.9 97.1h0M423.4 104.0h0M363.8 192.3h0M378.6 117.5h0M418.4 107.3h0M365.9 181.2h0M399.0 106.0h0M453.3 81.7h0M269.4 217.6h0M390.5 128.3h0M417.9 112.1h0M410.6 122.8h0M469.7 48.0h0M408.0 120.2h0M435.3 88.4h0M491.5 43.0h0M395.6 119.7h0M477.9 50.4h0M437.2 103.4h0M445.4 97.2h0M369.4 136.6h0M457.9 71.9h0M361.8 152.8h0M413.7 104.2h0M405.3 99.2h0M310.8 186.0h0M445.6 89.8h0M333.2 202.9h0M492.3 47.2h0M466.9 62.9h0M456.2 71.0h0M495.5 40.6h0M445.2 84.9h0M407.3 122.5h0M490.0 40.4h0M425.2 102.8h0M427.0 122.6h0M465.0 65.0h0M401.3 94.3h0M465.9 64.9h0M495.5 36.3h0M457.8 75.2h0M416.0 91.9h0M448.3 132.2h0M484.1 37.3h0M471.4 63.2h0M436.6 86.9h0M341.5 146.7h0M491.4 42.3h0M392.3 145.2h0M401.7 114.4h0M461.7 69.6h0M433.6 122.1h0M367.9 151.4h0M447.8 97.5h0M474.9 51.9h0M454.7 76.0h0M394.6 172.3h0M356.8 152.6h0M234.0 292.8h0M345.9 123.2h0M401.7 126.9h0M438.6 101.3h0M448.9 107.8h0M458.4 73.5h0M485.4 51.2h0M461.9 73.3h0M426.2 146.8h0M434.0 128.4h0M448.8 81.4h0M249.7 274.8h0M383.6 108.2h0M464.1 56.0h0M494.1 40.2h0M413.5 102.8h0M471.7 60.4h0M460.0 91.0h0M447.2 77.2h0M452.2 87.7h0M464.6 76.5h0M441.4 103.6h0M478.1 52.6h0M495.2 36.2h0M389.0 151.1h0M440.7 90.3h0M474.3 51.8h0M363.9 206.6h0M419.0 121.4h0M421.6 107.4h0M482.5 45.9h0M461.3 63.5h0M446.1 69.2h0M472.8 81.0h0M454.5 54.5h0M351.9 159.8h0M491.2 34.8h0M492.2 41.9h0M439.6 88.8h0M468.2 51.6h0M389.6 111.8h0M458.2 61.2h0M378.5 145.7h0M466.4 85.8h0M389.3 143.8h0M399.3 180.3h0M467.9 65.5h0M428.3 123.9h0M420.5 115.6h0M430.3 105.3h0M283.3 234.5h0M422.6 98.1h0M479.0 48.7h0M440.9 78.4h0M486.4 42.3h0M423.5 84.6h0M483.0 48.3h0M409.6 144.2h0M419.3 128.6h0M422.9 106.0h0M459.3 63.8h0M480.0 40.8h0M442.4 91.3h0M363.7 123.8h0M417.9 121.9h0M439.8 69.1h0M495.1 39.5h0M456.5 69.3h0M389.7 127.8h0M481.9 60.7h0M373.1 171.1h0M247.9 309.7h0M476.2 53.1h0M472.7 54.7h0M412.9 115.8h0M430.8 90.5h0M395.9 129.0h0M462.6 62.3h0M455.1 77.6h0M421.1 98.5h0M454.1 115.4h0M400.8 116.4h0M475.8 65.7h0M346.5 200.1h0M486.1 42.8h0M439.8 86.8h0M489.0 36.7h0M477.7 55.2h0M426.8 98.9h0M484.5 52.1h0M418.9 137.5h0M361.9 131.3h0M405.6 127.7h0M458.9 64.7h0M421.5 106.3h0M486.8 63.9h0M442.7 77.1h0M401.1 114.4h0M357.5 151.2h0M466.5 40.3h0M465.6 66.0h0M436.5 91.9h0M389.3 155.9h0M426.8 118.1h0M453.3 85.2h0M464.3 73.5h0M366.1 177.5h0M417.2 110.9h0M339.2 211.0h0M467.5 67.9h0M412.7 132.4h0M367.2 198.6h0M461.4 76.7h0M277.8 258.6h0M442.1 83.6h0M466.1 56.2h0M439.8 80.7h0M391.0 143.2h0M456.1 84.9h0M452.8 80.5h0M439.5 91.9h0M454.4 113.5h0M441.4 74.7h0M415.1 115.5h0M481.2 50.3h0M456.4 84.0h0M238.6 258.4h0M407.9 96.7h0M359.9 197.4h0M451.1 62.3h0M431.4 109.8h0M413.1 105.3h0M495.8 33.5h0M423.7 91.9h0M388.5 143.4h0M406.4 105.8h0M484.1 44.8h0M471.6 51.2h0M411.2 88.3h0M402.3 146.8h0M437.7 90.6h0M468.0 70.4h0M485.0 57.2h0M441.5 102.6h0M381.7 139.6h0M370.8 140.0h0M306.4 208.7h0M453.5 71.2h0M481.2 49.9h0M478.9 56.5h0M464.5 65.7h0M499.5 32.5h0M452.7 106.6h0M459.8 61.4h0M459.3 76.0h0M459.2 86.9h0M432.8 90.2h0M476.6 51.2h0M479.3 41.2h0M473.1 61.3h0M415.5 131.9h0M412.4 101.1h0M423.9 113.1h0M474.2 48.7h0M451.9 73.2h0M439.6 115.4h0M480.3 57.6h0M334.3 228.1h0M359.4 140.4h0M461.6 62.4h0M449.1 75.2h0M461.0 83.1h0M477.3 51.0h0M489.7 63.6h0M389.7 140.0h0M352.7 180.5h0M460.1 60.6h0M441.7 82.7h0M480.2 68.7h0M493.6 36.8h0M489.8 46.1h0M480.4 52.5h0M461.5 75.7h0M487.6 46.5h0M468.8 66.2h0M396.0 133.5h0M415.9 60.2h0M489.7 45.6h0M461.4 58.4h0M373.3 136.8h0M496.4 36.9h0M363.8 177.9h0M330.1 153.0h0M457.9 97.6h0M496.2 50.1h0M410.5 168.6h0M465.7 73.4h0M371.7 159.9h0M435.4 112.7h0M464.8 62.6h0M442.1 83.8h0M383.3 134.3h0M453.8 79.2h0M436.2 101.5h0M363.9 184.9h0M414.4 98.2h0M424.1 104.9h0M324.9 179.7h0M428.3 117.1h0M445.0 84.7h0M485.4 45.2h0M389.5 168.6h0M343.0 201.4h0M472.6 73.2h0M395.8 156.5h0M450.4 59.6h0M467.6 62.3h0M482.6 74.4h0M392.0 125.0h0M451.6 67.4h0M374.5 115.4h0M475.7 50.6h0M422.2 79.8h0M414.5 113.3h0M435.9 107.6h0M489.6 39.5h0M440.9 93.3h0M394.7 167.1h0M427.6 79.3h0M457.4 75.4h0M356.3 199.3h0M466.5 72.8h0M485.0 40.3h0M433.3 100.6h0M472.9 63.1h0M349.7 148.1h0M401.2 146.8h0M463.7 59.9h0M384.7 144.3h0M492.8 43.4h0M352.8 151.5h0M424.1 95.4h0M437.5 82.8h0M484.0 46.0h0M448.0 84.3h0M495.1 51.2h0M480.4 51.8h0M430.3 104.7h0M346.5 160.6h0M438.3 65.1h0M463.1 66.7h0M410.3 82.4h0M397.6 138.3h0M361.7 141.3h0M334.4 165.9h0M484.4 57.2h0M388.4 108.1h0M472.4 67.1h0M402.7 130.6h0M461.8 77.6h0M358.6 189.7h0M472.5 67.9h0M434.2 110.8h0M391.0 82.6h0M477.3 61.7h0M440.3 77.3h0M476.9 50.3h0M461.0 62.3h0M361.8 156.6h0M428.0 90.0h0M483.7 42.5h0M454.8 87.7h0M441.8 111.0h0M449.6 69.8h0M394.9 113.3h0M430.3 57.6h0M492.6 36.9h0M422.0 116.3h0M452.9 88.5h0M429.6 136.1h0M473.8 54.2h0M303.4 188.8h0M449.1 83.1h0M440.7 79.6h0M433.5 85.7h0M434.6 122.6h0M350.5 172.8h0M422.9 127.9h0M469.7 59.0h0M422.2 99.0h0M436.3 103.8h0M495.4 34.8h0M463.4 57.5h0M438.3 68.3h0M447.2 117.8h0M342.5 198.1h0M461.0 76.9h0M473.5 65.4h0M390.7 129.4h0M449.2 88.7h0M427.0 87.3h0M472.4 49.7h0M495.1 36.0h0M430.6 117.4h0M450.3 79.2h0M435.7 95.3h0M456.0 93.2h0M423.9 69.5h0M472.4 59.0h0M373.8 221.5h0M265.9 248.5h0M458.2 89.4h0M421.5 92.5h0M445.6 87.7h0M386.2 115.6h0M359.3 169.4h0M443.7 151.0h0M478.9 55.8h0M402.7 116.2h0M400.9 141.1h0M402.0 133.4h0M481.1 46.1h0M465.9 79.5h0M426.3 126.0h0M333.0 226.8h0M440.2 90.3h0M471.0 54.4h0M412.3 121.6h0M462.9 78.2h0M456.8 79.7h0M466.4 69.0h0M385.8 137.6h0M404.0 117.7h0M437.3 89.3h0M479.6 46.8h0M483.9 52.1h0M475.3 64.1h0M467.1 78.5h0M486.4 40.1h0M399.4 126.1h0M407.4 144.5h0M458.0 66.3h0M439.9 97.3h0M456.4 80.5h0M447.4 118.5h0M416.9 111.9h0M427.5 94.4h0M408.6 116.2h0M464.6 68.5h0M468.7 63.8h0M415.3 123.3h0M395.6 144.4h0M483.9 49.4h0M360.6 184.4h0M469.7 59.1h0M461.3 73.7h0M405.6 131.7h0M364.8 179.1h0M471.1 80.8h0M471.4 106.5h0M467.2 79.7h0M430.2 100.3h0M435.3 93.4h0M410.0 102.7h0M458.2 59.3h0M478.8 51.7h0M426.6 102.1h0M353.2 208.8h0M457.7 73.4h0M381.2 210.6h0M432.8 105.8h0M384.7 146.1h0M430.1 92.3h0M230.2 320.4h0M454.2 82.6h0M481.4 44.0h0M440.5 94.0h0M410.2 112.1h0M408.1 107.7h0M403.4 126.4h0M352.7 188.9h0M385.0 120.7h0M442.6 93.2h0M417.3 108.9h0M466.0 73.1h0M449.9 64.0h0M449.1 87.7h0M291.6 200.5h0M460.9 73.3h0M411.1 125.4h0M401.8 160.4h0M403.8 152.8h0M473.0 57.1h0M413.8 103.3h0M410.9 133.8h0M465.1 66.1h0M488.8 37.8h0M485.4 45.4h0M453.5 84.6h0M469.5 60.2h0M461.4 70.5h0M438.2 98.0h0M360.3 153.1h0M459.7 93.3h0M446.2 52.1h0M420.8 106.9h0M384.7 175.8h0M453.8 72.3h0M433.3 96.7h0M381.7 126.7h0M477.7 47.5h0M466.1 65.5h0M448.4 75.8h0M423.9 86.4h0M309.1 185.7h0M384.9 136.0h0M334.6 195.4h0M380.8 168.6h0M452.2 73.8h0M480.3 46.1h0M399.0 128.2h0M494.2 44.5h0M454.6 79.9h0M436.0 116.3h0M340.2 188.5h0M486.0 45.2h0M420.9 111.4h0M342.1 194.5h0M449.4 72.9h0M491.6 48.6h0M434.7 93.3h0M410.8 135.5h0M425.2 95.9h0M440.0 86.4h0M381.8 145.2h0M393.7 120.1h0M456.3 68.5h0M440.6 76.1h0M488.3 48.9h0M349.9 180.1h0M471.9 63.9h0M323.4 174.2h0M409.5 112.6h0M435.7 98.6h0M457.8 64.2h0M391.5 142.1h0M431.0 97.4h0M474.6 57.4h0M437.1 79.9h0M455.6 74.1h0M460.1 47.8h0M456.1 82.5h0M469.3 60.0h0M474.4 62.6h0M478.3 46.7h0M452.3 79.3h0M458.9 81.9h0M467.6 50.0h0M399.6 114.6h0M378.3 152.7h0M418.2 123.7h0M488.0 40.6h0M437.8 73.9h0M436.5 107.0h0M432.6 125.1h0M362.0 169.6h0M430.1 122.1h0M446.3 106.3h0M397.0 128.3h0M413.8 101.1h0M397.5 117.6h0M360.5 161.0h0M456.2 67.9h0M473.9 55.5h0M431.4 61.0h0M305.6 233.6h0M429.6 110.6h0M418.7 89.5h0M429.7 91.4h0M444.2 86.8h0M446.3 82.1h0M464.6 70.3h0M401.9 145.1h0M449.1 104.3h0M368.1 204.6h0M458.2 67.5h0M468.2 65.5h0M433.0 124.7h0M454.2 81.7h0M442.0 81.0h0M414.1 94.6h0M410.5 120.5h0M487.5 47.3h0M499.8 31.7h0M469.9 62.2h0M445.5 68.9h0M417.8 110.7h0M412.5 105.6h0M474.6 65.6h0M430.3 95.3h0M412.7 91.5h0M468.6 58.3h0M386.7 150.3h0M486.2 42.2h0M450.1 70.0h0M440.6 80.9h0M401.0 110.6h0M427.6 128.7h0M319.6 203.5h0M471.2 56.9h0M438.8 86.3h0M475.4 54.8h0M414.6 117.5h0M419.1 98.4h0M434.9 113.5h0M436.9 100.8h0M352.9 183.4h0M289.0 232.3h0M472.9 57.4h0M469.0 66.8h0M431.4 87.1h0M419.6 106.2h0M430.8 97.7h0M423.1 100.2h0M426.0 101.7h0M338.5 161.9h0M447.7 84.0h0M316.4 238.0h0M344.8 162.7h0M428.4 94.4h0M387.2 126.6h0M416.6 104.2h0M470.6 60.1h0M468.7 50.6h0M455.8 89.5h0M418.1 123.3h0M445.6 76.8h0M350.0 217.9h0M355.3 146.2h0M481.2 62.4h0M474.5 54.1h0M417.9 109.2h0M416.6 121.4h0M459.1 90.4h0M468.0 59.8h0M436.2 90.3h0M447.7 82.4h0M474.0 59.4h0M484.3 53.0h0M470.7 64.5h0M189.4 376.8h0M482.6 39.2h0M480.7 51.3h0M447.3 70.2h0M437.4 94.3h0M424.5 64.9h0M401.2 140.6h0M452.7 85.1h0M413.4 130.9h0M312.9 215.0h0M358.0 193.4h0M491.4 44.8h0M412.5 94.8h0M459.6 47.7h0M463.1 72.8h0M447.6 72.9h0M447.9 114.2h0M484.8 44.0h0M412.7 88.2h0M463.5 51.8h0M469.4 55.0h0M395.9 113.4h0M363.4 160.2h0M466.6 52.4h0M485.0 49.3h0M402.7 181.3h0M470.1 52.1h0M339.8 186.6h0M430.0 99.2h0M445.2 77.5h0M450.5 72.3h0M489.6 46.5h0M429.9 94.9h0M431.1 122.9h0M499.1 31.6h0M429.0 85.7h0M457.8 72.6h0M450.9 85.5h0M442.1 86.1h0M419.5 112.2h0M447.8 81.2h0M406.2 108.9h0M473.7 55.9h0M437.7 97.3h0M480.7 50.3h0M479.9 66.5h0M455.4 61.7h0M383.5 132.6h0M482.9 58.5h0M476.9 53.6h0M440.2 75.4h0M453.9 94.7h0M473.4 62.3h0M435.2 73.8h0M407.2 115.3h0M361.3 149.2h0M461.7 77.3h0M494.8 33.2h0M407.7 99.8h0M416.2 130.3h0M394.6 146.0h0M467.7 81.6h0M378.4 142.7h0M468.0 69.7h0M352.6 174.7h0M381.7 118.0h0M436.7 82.7h0M455.1 81.0h0M438.2 85.0h0M421.4 124.2h0M306.5 177.1h0M349.0 208.2h0M467.9 56.4h0M386.5 123.2h0M482.9 54.6h0M445.6 73.7h0M428.4 83.6h0M452.2 62.9h0M424.4 85.5h0M479.0 41.8h0M406.2 110.5h0M429.4 108.7h0M475.2 43.4h0M451.1 76.7h0M440.7 76.8h0M487.1 39.5h0M481.6 47.5h0M367.5 186.4h0M427.0 92.4h0M462.1 65.5h0M491.7 41.7h0M380.1 116.8h0M462.2 63.5h0M400.8 143.8h0M378.8 160.5h0M430.8 81.0h0M417.2 123.2h0M330.9 205.0h0M364.2 209.2h0M415.1 116.7h0M439.5 96.8h0M460.9 60.2h0M432.9 60.8h0M461.4 58.7h0M498.7 43.1h0M379.8 140.4h0M448.6 65.9h0M457.3 73.6h0M429.7 100.9h0M425.1 103.7h0M437.4 111.6h0M385.1 150.6h0M391.8 138.9h0M395.0 128.1h0M309.7 215.0h0M413.4 113.8h0M196.4 340.4h0M445.5 63.8h0M403.8 78.2h0M422.8 94.1h0M471.1 56.1h0M416.4 90.0h0M419.5 121.4h0M315.1 192.0h0M479.2 45.6h0M426.1 103.3h0M473.3 69.2h0M438.2 111.6h0M432.2 80.0h0M464.7 74.0h0M469.9 53.9h0M455.9 74.5h0M459.5 72.9h0M428.5 94.8h0M448.4 67.0h0M362.5 145.6h0M429.5 82.1h0M479.8 55.7h0M474.5 62.7h0M372.2 128.9h0M383.5 143.2h0M464.5 66.7h0M377.2 184.9h0M481.1 50.6h0M482.9 51.9h0M437.8 84.0h0M476.1 53.6h0M494.1 42.3h0M440.6 115.9h0M397.3 111.1h0M423.9 127.4h0M423.9 129.9h0M408.1 145.6h0M428.6 108.6h0M488.6 39.5h0M487.2 42.5h0M427.4 111.2h0M455.4 78.3h0M447.4 91.2h0M443.8 88.3h0M462.8 72.7h0M334.4 191.4h0M474.9 62.1h0M179.2 358.2h0M436.9 83.8h0M450.2 89.7h0M475.1 57.7h0M487.6 39.8h0M398.5 135.0h0M373.3 162.9h0M468.1 63.1h0M480.0 49.0h0M462.2 96.9h0M442.2 83.9h0M417.3 115.5h0M361.6 127.2h0M472.5 91.1h0M478.5 44.4h0M442.2 89.3h0M432.5 102.0h0M361.1 165.6h0M464.8 65.2h0M443.4 103.5h0M390.5 132.0h0M410.9 110.0h0M480.7 56.0h0M460.6 63.2h0M433.8 94.3h0M463.4 61.5h0M476.9 49.8h0M498.2 31.4h0M365.5 125.9h0M380.9 149.2h0M482.7 56.2h0M405.3 110.9h0M493.8 55.6h0M371.6 155.5h0M218.7 319.7h0M429.3 140.1h0M459.0 89.4h0M463.3 51.1h0M484.6 56.3h0M452.4 107.8h0M484.9 51.0h0M453.9 89.2h0M318.5 192.4h0M431.9 125.7h0M396.7 135.7h0M476.6 54.3h0M427.8 107.6h0M430.3 87.2h0M466.1 66.5h0M491.5 39.3h0M398.8 149.1h0M463.7 69.6h0M403.4 120.5h0M455.8 105.0h0M433.6 100.7h0M403.1 125.5h0M279.7 283.6h0M472.9 74.8h0M441.6 75.2h0M463.5 53.2h0M404.3 161.7h0M419.0 125.3h0M408.3 139.8h0M294.3 245.9h0M319.9 244.9h0M352.6 165.1h0M332.0 196.9h0M473.8 50.9h0M464.8 66.3h0M409.9 96.3h0M392.6 163.2h0M472.6 52.9h0M262.0 253.0h0M462.4 68.7h0M426.5 98.4h0M448.0 92.2h0M404.4 155.6h0M489.8 41.3h0M425.6 92.8h0M478.9 68.3h0M443.2 70.0h0M440.1 110.9h0M420.2 100.2h0M444.3 102.4h0M478.2 48.1h0M463.6 74.1h0M340.3 185.8h0M457.7 71.7h0M436.4 93.5h0M457.3 69.1h0M409.0 123.6h0M487.1 44.6h0M451.8 66.4h0M422.0 115.4h0M401.2 130.9h0M429.8 93.0h0M452.9 86.5h0M399.3 151.4h0M352.5 176.4h0M384.2 145.5h0M461.1 70.6h0M428.0 120.3h0M484.3 44.5h0M418.4 102.8h0M452.2 95.2h0M451.8 87.8h0M378.8 154.4h0M446.8 81.5h0M411.1 106.9h0M469.2 57.8h0M344.0 199.1h0M449.3 113.6h0M387.8 136.0h0M346.3 202.1h0M454.6 87.1h0M365.0 147.0h0M410.7 132.7h0M434.4 102.2h0M343.2 179.0h0M473.2 77.4h0M263.4 200.6h0M405.0 102.5h0M370.7 120.1h0M440.7 91.3h0M401.8 127.1h0M387.4 124.6h0M341.1 187.7h0M432.3 94.1h0M481.7 51.1h0M422.7 122.9h0M444.8 72.2h0M479.5 43.8h0M324.2 203.7h0M422.1 118.2h0M369.2 115.5h0M422.1 114.6h0M438.8 122.7h0M462.0 64.2h0M405.1 178.7h0M479.6 36.5h0M301.2 246.0h0M367.5 163.9h0M482.1 48.0h0M482.9 48.9h0M480.6 58.5h0M445.5 79.3h0M402.8 123.1h0M438.7 103.4h0M436.6 84.8h0M428.3 93.5h0M427.4 118.7h0M458.2 72.1h0M451.2 99.8h0M457.5 106.6h0M371.2 140.5h0M477.7 52.5h0M470.0 51.8h0M433.4 94.5h0M441.5 85.1h0M448.3 77.8h0M419.8 101.9h0M387.8 130.0h0M349.2 208.6h0M457.7 68.5h0M446.1 114.0h0M324.0 200.0h0M401.8 93.8h0M418.6 83.1h0M399.3 104.8h0M466.2 69.7h0M437.4 84.9h0M396.7 153.0h0M419.0 96.4h0M323.9 211.3h0M468.3 66.8h0M308.9 212.6h0M461.0 60.2h0M462.5 82.7h0M496.8 34.0h0M461.6 66.5h0M457.9 69.8h0M378.6 196.7h0M469.4 61.2h0M475.2 59.8h0M432.7 85.7h0M381.3 141.1h0M476.2 44.6h0M431.0 109.5h0M301.6 248.9h0M452.1 75.4h0M460.2 59.9h0M479.9 48.5h0M436.1 97.8h0M463.3 117.4h0M450.4 83.9h0M423.1 103.1h0M426.3 88.5h0M440.9 109.2h0M429.5 93.2h0M400.2 123.2h0M464.4 35.5h0M460.0 60.1h0M431.6 123.5h0M480.9 57.2h0M432.8 100.2h0M443.8 94.8h0M451.3 84.5h0M482.0 56.8h0M470.1 63.5h0M423.2 121.5h0M394.4 141.8h0M468.8 65.4h0M456.7 71.7h0M451.7 77.9h0M486.1 43.8h0M476.8 54.6h0M447.2 131.2h0M455.7 76.6h0M474.4 47.8h0M444.2 86.4h0M477.1 52.6h0M439.2 85.1h0M390.8 138.7h0M371.1 193.8h0M359.0 188.5h0M419.1 128.1h0M491.6 42.9h0M419.9 110.7h0M435.2 102.0h0M461.6 79.5h0M401.2 126.0h0M480.0 46.7h0M378.0 161.9h0M468.5 66.4h0M378.3 80.1h0M440.9 87.7h0M467.6 66.9h0M382.1 128.7h0M455.9 60.8h0M457.3 87.0h0M468.7 71.1h0M344.1 193.6h0M471.4 54.2h0M463.0 78.6h0M462.5 57.4h0M482.2 46.6h0M440.1 88.7h0M413.9 108.3h0M454.5 67.5h0M429.6 106.9h0M453.4 112.6h0M387.2 149.9h0M470.0 73.9h0M385.3 147.2h0M290.2 230.4h0M456.3 65.6h0M490.3 34.6h0M381.2 166.2h0M457.9 87.8h0M400.1 105.5h0M450.8 78.0h0M243.0 285.2h0M490.9 45.9h0M328.5 229.0h0M455.9 67.5h0M486.0 47.8h0M465.7 55.1h0M465.7 73.8h0M317.8 180.4h0M458.2 86.0h0M353.6 214.6h0M458.4 74.7h0M353.4 193.9h0M444.1 96.0h0M466.7 54.2h0M464.4 59.6h0M494.3 48.8h0M455.5 66.8h0M481.4 41.5h0M438.2 77.2h0M412.4 120.2h0M483.0 49.6h0M419.2 111.6h0M436.1 89.9h0M462.6 75.8h0M421.3 136.4h0M461.2 67.1h0M437.1 89.4h0M451.1 78.2h0M447.5 99.2h0M491.1 47.0h0M448.2 86.7h0M383.8 138.5h0M433.9 84.3h0M427.8 110.5h0M398.3 166.4h0M496.7 37.2h0M365.3 179.1h0M427.6 93.9h0M457.6 92.9h0M472.9 61.9h0M476.2 59.3h0M454.3 76.9h0M453.8 80.0h0M451.9 90.0h0M455.4 66.9h0M413.2 98.3h0M362.0 146.9h0M446.7 77.9h0M436.0 84.3h0M354.5 164.4h0M471.4 56.5h0M449.7 102.0h0M392.5 134.2h0M416.9 105.3h0M401.1 139.9h0M453.8 67.6h0M326.4 203.3h0M451.7 91.7h0M482.1 42.5h0M472.2 64.5h0M383.5 128.1h0M399.5 192.3h0M454.0 90.5h0M469.2 57.2h0M429.5 110.6h0M445.2 97.9h0M446.1 94.4h0M403.3 122.1h0M447.5 66.7h0M466.3 66.4h0M374.0 151.2h0M481.7 50.1h0M410.0 94.0h0M485.7 43.2h0M448.6 91.2h0M465.2 69.6h0M407.7 70.2h0M424.2 104.0h0M441.1 67.9h0M378.3 173.5h0M447.6 74.2h0M440.2 92.6h0M362.1 166.8h0M482.7 46.0h0M452.1 69.1h0M474.0 56.9h0M367.6 151.8h0M490.3 42.3h0M436.1 100.3h0M407.0 112.7h0M245.6 262.1h0M466.3 62.7h0M386.5 110.1h0M416.2 127.0h0M436.8 111.7h0M429.2 85.9h0M396.8 124.1h0M435.8 102.7h0M442.0 70.7h0M426.3 105.1h0M402.9 87.5h0M385.8 183.1h0M456.6 80.0h0M358.2 152.6h0M343.6 153.1h0M364.8 128.4h0M451.3 83.3h0M435.0 93.6h0M400.4 119.0h0M384.0 126.2h0M491.4 39.9h0M408.7 122.1h0M424.1 133.1h0M351.9 149.5h0M472.7 63.7h0M423.8 96.7h0M275.3 245.6h0M322.1 197.6h0M453.5 78.6h0M464.2 59.5h0M362.2 150.1h0M474.3 62.2h0M468.1 61.7h0M431.8 94.0h0M467.1 70.4h0M453.5 72.4h0M329.7 170.9h0M330.7 166.9h0M430.5 102.4h0M493.1 96.9h0M427.6 90.6h0M402.0 112.8h0M396.8 132.9h0M413.5 113.0h0M384.9 155.5h0M458.3 91.7h0M428.8 76.9h0M481.7 41.2h0M386.4 137.6h0M483.3 51.8h0M464.6 79.9h0M429.3 90.3h0M312.6 199.2h0M379.7 92.6h0M475.8 55.5h0M472.0 61.4h0M446.0 90.3h0M263.1 237.3h0M445.6 64.6h0M471.5 64.4h0M383.4 164.9h0M460.5 71.4h0M481.4 44.2h0M459.0 77.5h0M419.5 95.3h0M423.1 86.7h0M471.6 55.9h0M415.3 98.2h0M450.0 89.4h0M455.2 81.8h0M415.9 90.7h0M488.9 40.9h0M428.5 110.4h0M460.5 71.2h0M426.5 118.1h0M461.3 60.6h0M378.0 168.2h0M434.6 83.1h0M368.3 140.9h0M320.2 209.5h0M432.1 73.3h0M353.5 171.8h0M457.1 67.8h0M368.5 113.0h0M439.2 110.2h0M330.2 226.5h0M475.4 51.4h0M446.9 91.3h0M416.7 133.4h0M403.3 144.5h0M422.3 93.5h0M444.1 65.2h0M425.3 102.3h0M442.4 86.9h0M450.1 74.8h0M362.7 121.4h0M365.8 160.2h0M468.3 64.8h0M477.7 46.9h0M384.4 164.0h0M426.3 113.6h0M414.9 126.8h0M425.0 113.2h0M396.7 135.7h0M401.0 128.6h0M442.9 70.2h0M415.2 121.6h0M491.1 38.6h0M487.9 43.5h0M464.4 64.3h0M446.3 70.2h0M464.8 67.9h0M475.4 66.4h0M427.2 88.9h0M470.3 55.6h0M429.3 92.7h0M481.5 63.8h0M433.9 111.0h0M332.7 172.2h0M458.6 72.0h0M492.4 38.3h0M368.3 108.0h0M487.0 48.1h0M462.2 71.7h0M353.9 168.2h0M462.3 75.0h0M424.7 115.9h0M434.6 97.3h0M465.4 70.0h0M405.2 128.0h0M376.8 128.8h0M491.9 43.3h0M383.3 159.8h0M462.9 72.4h0M395.9 139.3h0M479.2 47.7h0M478.4 42.2h0M342.9 152.3h0M396.5 89.6h0M429.3 125.5h0M366.7 178.6h0M416.2 78.3h0M423.8 101.8h0M472.2 54.9h0M453.5 77.0h0M420.0 115.0h0M435.4 75.9h0M496.4 32.8h0M395.1 144.5h0M320.8 203.6h0M407.3 120.3h0M392.0 123.3h0M429.6 90.8h0M446.3 78.3h0M417.5 112.4h0M446.9 78.0h0M447.1 81.2h0M440.5 102.5h0M410.4 115.3h0M417.5 137.0h0M434.3 89.7h0M416.4 124.4h0M453.0 60.8h0M403.8 98.3h0M475.7 55.4h0M459.2 72.8h0M453.7 65.9h0M330.7 218.2h0M465.0 52.7h0M445.6 68.1h0M399.9 114.7h0M443.5 89.3h0M383.0 109.0h0M458.7 72.1h0M391.9 177.1h0M405.1 139.9h0M345.2 152.5h0M376.3 153.5h0M428.2 106.9h0M494.2 30.9h0M415.2 103.2h0M458.3 63.5h0M398.9 120.9h0M395.6 159.1h0M448.0 80.9h0M478.4 78.0h0M431.4 82.7h0M389.7 155.5h0M294.2 179.0h0M447.4 97.4h0M461.0 78.9h0M459.2 61.0h0M439.4 117.2h0M474.1 56.3h0M466.6 61.0h0M417.3 75.8h0M472.2 54.8h0M460.4 65.2h0M455.7 74.3h0M411.7 120.1h0M343.5 202.8h0M454.1 70.7h0M433.4 100.8h0M277.9 257.6h0M455.7 94.3h0M439.6 82.0h0M473.9 55.3h0M494.3 36.4h0M403.7 123.0h0M464.9 54.1h0M430.1 147.2h0M419.8 95.8h0M478.1 54.2h0M449.8 84.1h0M491.7 36.0h0M485.8 40.2h0M437.5 111.5h0M482.4 40.9h0M483.0 50.5h0M445.8 68.2h0M493.4 36.8h0M385.1 91.0h0M394.3 200.9h0M394.8 129.3h0M439.5 72.4h0M409.4 132.8h0M467.1 59.3h0M475.6 72.7h0M439.6 115.9h0M422.2 132.6h0M456.6 80.7h0M392.3 174.3h0M348.5 161.7h0M366.9 171.9h0M496.0 46.6h0M496.0 32.1h0M460.4 59.8h0M432.9 87.3h0M394.3 120.9h0M383.8 157.3h0M474.3 58.6h0M449.3 80.0h0M353.0 172.8h0M444.4 76.5h0M152.7 338.5h0M422.3 90.4h0M411.1 131.1h0M491.5 85.0h0M274.3 302.1h0M467.2 60.8h0M488.6 58.1h0M478.8 41.1h0M424.6 113.0h0M486.6 47.2h0M424.3 100.4h0M427.2 113.7h0M378.2 157.7h0M344.2 154.4h0M403.6 106.4h0M436.2 72.5h0M479.8 42.1h0M352.5 144.4h0M469.5 76.6h0M446.4 85.0h0M450.0 89.3h0M463.6 67.5h0M440.3 85.5h0M325.4 171.5h0M402.4 116.6h0M364.5 138.7h0M384.6 129.3h0M448.7 97.9h0M457.4 83.4h0M342.5 182.6h0M495.0 32.8h0M412.4 149.7h0M421.7 95.2h0M427.2 107.7h0M462.2 62.3h0M455.2 66.6h0M348.2 171.1h0M441.9 99.2h0M355.0 153.5h0M465.0 68.4h0M460.9 62.0h0M486.8 51.3h0M486.2 41.6h0M403.8 127.4h0M487.6 44.2h0M419.0 101.0h0M378.3 144.2h0M416.7 111.6h0M460.0 66.9h0M397.1 152.0h0M404.7 119.6h0M472.3 66.4h0M466.2 74.4h0M403.7 125.2h0M315.7 208.1h0M449.1 91.0h0M446.9 96.8h0M408.8 145.0h0M461.4 73.8h0M413.7 129.1h0M473.3 46.5h0M480.0 58.8h0M456.7 75.8h0M476.8 47.0h0M406.2 115.1h0M417.7 112.7h0M350.9 107.0h0M345.7 155.7h0M418.6 93.5h0M423.7 113.8h0M388.6 126.8h0M383.9 132.1h0M465.9 69.7h0M486.2 35.1h0M491.9 37.0h0M488.6 43.8h0M449.9 78.2h0M490.7 38.0h0M458.3 70.8h0M442.4 89.2h0M444.3 111.9h0M426.9 112.3h0M412.5 119.0h0M472.7 74.6h0M444.0 79.2h0M414.4 118.1h0M431.0 90.3h0M357.0 165.8h0M373.4 164.4h0M427.3 136.7h0M442.6 92.5h0M449.8 96.5h0M454.8 98.2h0M500.8 30.8h0M468.0 73.2h0M336.5 183.4h0M433.3 81.3h0M421.8 107.1h0M393.5 161.8h0M338.2 207.2h0M419.3 104.4h0M463.8 53.1h0M274.0 275.2h0M486.2 47.6h0M421.4 120.7h0M375.6 158.9h0M436.5 85.6h0M418.6 124.7h0M453.9 82.6h0M483.5 49.6h0M394.0 108.4h0M424.7 106.1h0M434.4 81.9h0M409.6 102.7h0M466.9 63.8h0M325.6 197.6h0M390.8 145.1h0M441.5 92.6h0M472.0 89.7h0M446.0 94.3h0M470.5 64.5h0M427.1 93.5h0M452.2 83.0h0M478.2 58.6h0M465.6 61.8h0M472.0 63.1h0M421.6 115.6h0M427.8 118.1h0M371.6 141.0h0M489.3 42.8h0M426.4 95.6h0M436.0 110.7h0M452.0 84.7h0M497.4 89.1h0M444.7 79.1h0M376.0 112.0h0M391.3 187.2h0M329.4 160.5h0M432.9 81.5h0M343.9 164.3h0M401.9 134.5h0M448.2 95.0h0M457.3 61.5h0M440.8 95.6h0M367.5 194.6h0M482.0 52.1h0M392.4 133.3h0M357.2 177.0h0M378.5 157.2h0M455.5 74.1h0M426.4 78.3h0M421.7 102.6h0M430.2 93.8h0M434.2 111.4h0M465.6 68.7h0M392.1 117.9h0M402.3 108.4h0M327.1 189.1h0M440.9 92.3h0M416.7 141.2h0M439.3 94.5h0M473.4 59.4h0M362.4 128.6h0M442.8 101.7h0M400.4 143.2h0M419.5 59.7h0M487.6 43.7h0M466.9 68.0h0M358.1 151.3h0M438.7 100.6h0M447.2 83.6h0M463.9 69.0h0M451.7 72.0h0M491.4 40.0h0M437.3 89.7h0M479.6 57.7h0M398.2 141.4h0M412.5 116.8h0M483.2 57.2h0M458.6 66.1h0M437.6 95.0h0M369.5 213.7h0M458.7 56.7h0M447.9 87.3h0M480.1 45.2h0M450.1 73.7h0M442.7 86.0h0M399.2 122.4h0M462.4 63.6h0M482.2 53.2h0M393.4 121.3h0M399.2 153.9h0M431.4 83.6h0M440.6 98.1h0M426.8 98.2h0M473.6 59.1h0M455.2 68.7h0M434.2 101.0h0M447.3 87.3h0M455.4 77.8h0M420.1 105.7h0M468.0 53.3h0M426.6 150.0h0M445.2 130.1h0M474.8 56.6h0M411.5 128.1h0M426.2 100.7h0M451.1 78.7h0M348.0 194.2h0M445.1 88.0h0M337.1 202.1h0M475.3 71.7h0M490.2 53.8h0M413.8 137.2h0M474.0 89.8h0M478.1 52.9h0M389.2 123.9h0M336.2 164.8h0M444.0 94.7h0M403.1 120.5h0M444.2 123.6h0M362.6 170.3h0M358.2 180.6h0M408.6 95.6h0M426.7 111.4h0M412.0 130.3h0M470.7 82.2h0M403.7 149.9h0M414.0 104.2h0M399.4 105.9h0M426.0 116.3h0M457.9 86.4h0M490.6 42.7h0M412.4 149.3h0M433.9 100.4h0M395.1 110.1h0M443.8 100.1h0M481.9 48.7h0M443.5 79.0h0M482.2 57.7h0M413.3 121.9h0M375.5 189.1h0M302.2 218.9h0M460.2 68.9h0M412.5 121.6h0M457.7 103.0h0M494.6 38.3h0M383.3 146.1h0M438.5 102.0h0M480.9 42.6h0M399.0 127.3h0M362.0 157.7h0M445.2 85.5h0M471.4 54.1h0M441.6 95.8h0M395.0 145.3h0M452.7 71.4h0M407.9 147.0h0M427.6 133.1h0M411.3 109.4h0M453.7 67.2h0M471.1 54.9h0M459.9 53.3h0M492.1 37.6h0M402.3 169.1h0M370.5 174.2h0M473.6 75.1h0M450.9 82.8h0M351.1 176.5h0M409.6 97.4h0M436.2 73.7h0M443.4 85.2h0M357.7 140.6h0M393.3 122.6h0M397.6 163.3h0M340.5 206.0h0M472.5 60.0h0M467.1 65.7h0M452.3 88.2h0M428.3 103.5h0M413.2 129.5h0M336.4 148.5h0M451.0 98.4h0M398.2 114.3h0M385.8 160.4h0M397.6 141.4h0M495.7 33.3h0M476.1 71.4h0M469.2 66.0h0M331.1 185.2h0M432.6 122.2h0M406.7 156.2h0M438.6 136.4h0M433.3 120.2h0M488.6 50.0h0M472.8 60.8h0M427.6 114.7h0M183.3 342.1h0M440.3 61.2h0M438.8 117.6h0M476.9 59.2h0M463.4 75.4h0M460.1 57.6h0M316.3 225.9h0M479.2 58.0h0M440.9 116.4h0M451.1 76.8h0M216.8 351.7h0M440.2 103.0h0M371.5 128.9h0M316.3 214.3h0M395.1 133.9h0M451.0 75.5h0M441.2 101.4h0M466.0 76.2h0M443.6 93.8h0M400.6 152.9h0M456.9 65.9h0M417.0 106.5h0M314.3 218.7h0M411.9 114.9h0M374.8 167.6h0M386.1 151.8h0M469.6 54.6h0M496.2 39.9h0M445.7 82.4h0M378.1 129.6h0M472.8 64.8h0M422.0 115.0h0M420.8 110.2h0M436.0 98.8h0M435.3 85.6h0M476.1 52.3h0M402.4 128.0h0M443.9 91.0h0M482.5 54.9h0M485.7 41.6h0M404.9 131.1h0M429.8 112.0h0M340.1 199.2h0M476.8 43.3h0M436.4 105.0h0M459.5 63.0h0M412.1 140.3h0M431.3 116.1h0M400.0 103.9h0M342.9 216.6h0M410.7 119.3h0M457.1 59.8h0M475.1 101.8h0M400.7 142.8h0M423.3 105.2h0M412.6 130.3h0M465.1 60.3h0M468.2 60.2h0M434.3 99.9h0M321.2 199.6h0M420.1 115.9h0M460.1 90.8h0M359.1 163.2h0M455.0 60.3h0M370.4 142.6h0M391.1 135.5h0M420.4 136.5h0M453.7 85.2h0M416.2 103.7h0M485.3 43.9h0M414.0 98.4h0M405.1 133.6h0M401.9 168.3h0M465.5 108.0h0M380.7 136.4h0M465.5 59.3h0M458.4 73.7h0M453.8 73.2h0M348.3 177.8h0M474.6 45.3h0M348.1 204.7h0M454.3 86.9h0M478.2 67.5h0M354.1 176.2h0M398.0 131.0h0M458.4 88.2h0M310.1 218.9h0M436.1 88.0h0M431.2 111.3h0M405.7 115.8h0M468.7 71.1h0M413.7 114.1h0M499.1 34.6h0M481.7 47.9h0M412.0 149.2h0M455.1 95.1h0M465.3 58.7h0M490.2 40.5h0M463.9 73.6h0M381.7 129.5h0M489.8 51.8h0M375.2 139.7h0M448.0 78.8h0M468.6 65.9h0M418.9 110.0h0M468.6 53.5h0M467.5 58.4h0M378.3 152.1h0M456.7 70.4h0M406.4 103.8h0M468.1 69.1h0M426.8 94.5h0M479.8 59.9h0M441.5 72.4h0M402.3 117.9h0M451.8 85.7h0M460.5 65.2h0M470.2 63.7h0M470.6 57.7h0M482.8 54.0h0M416.6 103.3h0M460.2 67.5h0M298.9 229.4h0M463.2 59.6h0M453.3 89.2h0M403.0 123.8h0M395.5 125.8h0M481.6 53.0h0M355.9 189.5h0M400.5 100.3h0M411.8 129.8h0M370.6 157.6h0M444.6 98.7h0M434.2 118.0h0M420.6 92.7h0M400.6 111.1h0M475.0 63.8h0M435.6 131.4h0M475.5 61.0h0M405.8 89.8h0M324.9 193.6h0M469.8 60.0h0M445.4 88.6h0M483.4 46.5h0M465.5 65.9h0M429.1 87.6h0M423.4 97.9h0M434.2 81.5h0M468.8 64.1h0M451.9 63.4h0M330.4 195.3h0M405.1 133.7h0M425.1 122.5h0M437.6 119.3h0M372.3 148.4h0M461.5 61.4h0M329.8 216.9h0M440.0 99.1h0M387.4 107.8h0M449.6 79.7h0M421.3 97.5h0M481.0 49.6h0M386.1 170.3h0M478.8 54.3h0M475.7 66.7h0M475.6 59.0h0M470.6 66.5h0M498.8 36.1h0M444.6 98.7h0M369.2 201.1h0M471.5 58.3h0M435.6 90.2h0M488.7 40.9h0M385.6 119.2h0M495.3 31.3h0M459.2 72.9h0M478.3 49.7h0M476.6 51.2h0M424.3 92.8h0M274.0 270.2h0M442.1 68.3h0M377.0 151.8h0M448.5 68.7h0M382.9 167.7h0M462.7 70.2h0M422.3 128.7h0M477.6 52.6h0M422.9 114.8h0M462.7 73.1h0M487.0 39.5h0M339.2 202.8h0M443.4 83.5h0M466.3 73.7h0M428.5 126.6h0M422.5 80.2h0M429.6 92.1h0M403.8 118.6h0M477.5 59.1h0M490.6 37.6h0M455.6 74.0h0M486.3 43.6h0M439.4 77.4h0M435.5 76.1h0M467.4 57.2h0M500.9 31.2h0M394.2 152.3h0M473.3 55.7h0M470.4 69.9h0M454.2 82.3h0M453.9 86.6h0M443.8 80.3h0M444.4 73.6h0M437.7 86.8h0M433.3 84.4h0M411.9 122.1h0M400.9 127.1h0M369.4 151.4h0M399.4 140.7h0M482.2 44.7h0M441.6 96.3h0M448.1 96.2h0M480.2 47.7h0M436.2 71.9h0M428.3 82.1h0M250.0 326.2h0M474.1 52.2h0M480.8 41.4h0M355.6 157.8h0M442.8 91.6h0M493.0 45.5h0M437.2 84.2h0M479.9 62.1h0M438.2 80.6h0M477.5 75.0h0M494.4 36.0h0M415.1 147.6h0M451.3 78.5h0M415.2 93.5h0M429.3 97.9h0M447.9 82.6h0M400.7 133.4h0M464.1 73.0h0M464.5 58.4h0M466.2 79.4h0M421.4 152.3h0M437.5 94.9h0M413.1 147.0h0M388.7 185.5h0M475.2 56.5h0M470.8 74.7h0M468.7 50.2h0M429.7 89.0h0M238.8 253.3h0M426.2 85.0h0M444.5 74.9h0M442.9 99.0h0M386.9 113.1h0M467.9 57.2h0M423.1 103.0h0M457.5 89.9h0M432.1 144.1h0M457.3 67.4h0M371.7 162.9h0M399.2 116.1h0M446.9 103.0h0M487.4 47.9h0M324.3 240.2h0M451.4 79.7h0M428.9 84.2h0M435.4 96.2h0M479.8 42.1h0M384.7 122.3h0M313.4 201.7h0M436.0 80.3h0M388.5 155.5h0M434.0 92.8h0M440.7 57.1h0M456.3 81.1h0M424.2 92.4h0M470.8 47.8h0M483.0 42.3h0M438.9 64.6h0M426.2 109.9h0M437.4 92.4h0M382.7 167.1h0M359.4 109.3h0M365.9 157.2h0M432.7 94.5h0M416.0 92.3h0M413.8 129.0h0M413.7 109.7h0M428.3 86.4h0M405.9 163.2h0M390.1 128.7h0M461.6 61.2h0M400.1 161.2h0M444.3 52.4h0M447.7 77.4h0M386.4 153.8h0M439.4 89.6h0M440.6 94.1h0M375.2 136.5h0M459.8 58.8h0M460.9 66.4h0M469.8 64.3h0M432.3 104.0h0M456.7 72.6h0M469.9 59.3h0M429.3 109.4h0M409.1 97.0h0M444.4 115.6h0M342.7 157.7h0M356.3 135.2h0M352.3 192.7h0M418.7 84.1h0M427.6 107.7h0M487.6 39.0h0M434.2 89.8h0M352.3 230.9h0M469.7 57.3h0M371.7 153.5h0M429.0 85.7h0M274.6 241.4h0M413.7 120.1h0M467.1 56.4h0M326.1 148.8h0M420.1 84.5h0M387.8 143.7h0M469.2 58.9h0M459.2 69.1h0M481.8 50.6h0M470.2 72.8h0M400.1 143.7h0M379.9 116.0h0M448.8 67.9h0M423.9 97.7h0M467.7 58.2h0M376.6 116.0h0M472.1 48.4h0M466.2 64.6h0M471.7 57.1h0M341.8 169.3h0M478.9 54.5h0M403.9 117.0h0M438.6 85.0h0M422.9 101.3h0M483.4 41.8h0M448.6 76.2h0M427.1 98.5h0M379.5 138.8h0M460.4 67.8h0M453.2 78.1h0M285.3 235.2h0M464.9 68.1h0M441.3 88.1h0M446.0 85.3h0M429.9 95.2h0M420.2 106.8h0M428.8 113.1h0M440.3 74.7h0M460.7 106.7h0M451.1 80.6h0M469.4 58.6h0M461.8 68.6h0M389.7 122.8h0M430.2 93.6h0M477.7 43.8h0M467.2 105.6h0M348.5 158.3h0M428.0 90.7h0M315.1 208.5h0M403.8 162.8h0M437.8 80.3h0M461.4 62.0h0M473.3 66.2h0M408.3 98.0h0M494.2 42.7h0M400.9 116.9h0M393.5 134.7h0M416.7 114.3h0M448.3 81.9h0M475.1 59.1h0M476.5 57.2h0M480.2 46.1h0M479.4 88.2h0M392.9 124.7h0M422.8 104.6h0M412.1 96.6h0M492.9 35.0h0M362.6 120.2h0M373.8 117.3h0M435.9 97.0h0M367.0 123.5h0M317.1 229.4h0M459.2 65.5h0M392.3 129.1h0M454.5 77.9h0M459.9 60.0h0M427.9 108.4h0M388.7 132.7h0M346.0 129.8h0M446.2 86.5h0M384.0 161.2h0M479.2 50.8h0M487.9 45.4h0M400.5 78.4h0M437.5 86.1h0M358.7 125.1h0M446.9 86.1h0M364.7 187.6h0M358.4 158.6h0M445.5 92.6h0M438.9 88.0h0M460.9 77.4h0M490.4 52.6h0M472.7 51.9h0M467.6 63.7h0M438.7 95.8h0M475.2 48.2h0M452.6 105.2h0M330.3 173.6h0M418.2 111.9h0M447.7 99.4h0M412.7 143.6h0M444.8 93.5h0M424.6 100.7h0M395.7 170.2h0M468.8 55.4h0M448.4 82.8h0M397.5 128.8h0M472.5 68.1h0M443.9 90.0h0M459.2 65.4h0M409.9 109.9h0M452.1 89.3h0M479.2 56.7h0M465.2 69.3h0M401.9 100.2h0M427.7 110.4h0M482.1 41.4h0M384.7 146.5h0M343.7 143.7h0M428.3 89.6h0M476.2 51.3h0M460.0 70.1h0M362.1 146.4h0M457.3 61.1h0M436.5 100.1h0M377.3 143.0h0M426.0 126.1h0M438.4 107.6h0M445.9 90.3h0M413.6 94.1h0M441.4 83.7h0M498.8 33.2h0M276.8 204.2h0M472.2 76.4h0M482.2 50.8h0M432.0 102.5h0M444.7 87.9h0M461.3 68.0h0M471.7 61.1h0M462.7 62.1h0M455.3 75.7h0M426.0 105.1h0M492.1 40.5h0M332.7 212.8h0M420.7 100.4h0M436.4 96.1h0M412.7 116.5h0M324.8 217.4h0M372.8 198.2h0M405.2 133.3h0M486.7 42.8h0M461.4 60.3h0M466.4 72.8h0M415.3 141.0h0M415.5 132.2h0M454.0 73.9h0M375.6 158.4h0M433.7 98.4h0M478.3 65.2h0M438.9 89.8h0M482.1 49.7h0M373.9 155.3h0M403.6 116.8h0M458.5 65.0h0M423.9 105.8h0M427.2 121.6h0M426.0 95.3h0M370.7 149.4h0M362.3 163.5h0M477.5 46.2h0M455.6 87.8h0M405.0 125.1h0M476.4 48.8h0M409.4 132.3h0M497.3 32.4h0M446.1 85.5h0M424.1 93.5h0M369.1 207.9h0M408.2 93.3h0M420.6 108.5h0M478.0 63.1h0M355.1 124.5h0M415.2 143.7h0M462.1 98.2h0M461.4 65.4h0M467.4 74.2h0M381.7 167.6h0M340.0 204.4h0M336.6 186.5h0M394.6 125.4h0M450.9 103.3h0M316.2 212.2h0M413.6 92.2h0M440.6 74.8h0M477.5 49.4h0M480.4 58.5h0M383.4 127.8h0M454.5 83.6h0M485.7 43.4h0M336.7 168.6h0M443.0 89.0h0M473.5 51.0h0M401.2 124.0h0M479.7 52.0h0M472.3 62.5h0M475.0 57.4h0M470.2 65.8h0M480.0 57.6h0M472.6 50.8h0M392.8 111.2h0M438.3 90.6h0M468.2 91.5h0M480.3 53.3h0M404.5 127.3h0M353.9 202.5h0M431.6 100.3h0M439.2 87.1h0M467.1 74.8h0M419.7 141.3h0M399.7 117.1h0M410.6 107.7h0M381.9 132.6h0M460.4 74.7h0M466.8 67.2h0M342.9 143.5h0M397.5 118.4h0M389.7 119.5h0M470.5 53.0h0M392.9 152.5h0M362.9 156.6h0M451.8 106.8h0M457.3 61.7h0M438.0 126.0h0M464.6 61.8h0M465.0 68.7h0M375.7 132.5h0M448.0 75.2h0M488.9 40.6h0M433.4 97.7h0M428.0 99.1h0M458.5 68.1h0M470.7 57.6h0M444.9 76.0h0M462.2 57.7h0M415.7 128.7h0M449.3 94.8h0M378.7 135.0h0M455.7 83.3h0M340.3 142.6h0M442.5 83.3h0M461.4 61.2h0M478.0 40.9h0M420.5 92.1h0M381.5 115.4h0M373.4 187.3h0M390.6 152.2h0M425.1 100.9h0M338.5 198.9h0M464.5 69.0h0M401.2 136.9h0M455.0 85.7h0M441.6 71.2h0M356.4 143.9h0M351.4 175.4h0M459.6 59.3h0M358.3 195.1h0M315.8 133.8h0M461.5 75.5h0M403.6 79.3h0M482.3 50.4h0M494.5 33.6h0M397.9 90.4h0M432.9 80.1h0M455.9 80.0h0M417.1 114.1h0M467.2 64.2h0M409.9 92.5h0M362.5 170.9h0M330.5 242.2h0M453.6 96.7h0M477.9 70.4h0M459.1 88.8h0M426.1 95.2h0M427.4 121.3h0M480.8 52.0h0M361.7 185.7h0M352.3 205.7h0M439.7 119.5h0M450.4 74.5h0M437.2 98.1h0M336.7 175.6h0M386.1 137.4h0M419.7 137.6h0M486.2 45.6h0M457.9 63.8h0M443.3 68.9h0M485.4 52.2h0M445.3 78.9h0M391.8 115.8h0M396.8 93.7h0M459.7 72.3h0M435.0 82.4h0M480.3 65.3h0M394.3 114.2h0M488.1 38.4h0M487.2 50.8h0M493.0 39.3h0M473.2 58.5h0M371.3 150.1h0M434.3 93.5h0M438.6 86.6h0M415.5 106.6h0M464.3 75.6h0M481.8 70.0h0M376.9 144.3h0M484.2 52.1h0M468.6 65.4h0M355.5 179.9h0M373.0 121.2h0M427.8 99.5h0M485.2 37.9h0M367.6 142.8h0M453.7 102.3h0M410.4 92.4h0M458.5 75.2h0M404.1 104.7h0M466.8 59.9h0M405.4 133.7h0M273.0 301.5h0M444.8 78.7h0M487.4 42.9h0M440.5 64.2h0M467.0 67.2h0M404.1 124.5h0M446.0 90.0h0M420.6 120.3h0M429.5 64.8h0M452.5 65.0h0M443.1 102.0h0M402.2 138.0h0M491.1 40.2h0M361.5 188.7h0M462.1 59.9h0M490.2 39.4h0M349.8 189.5h0M280.3 243.8h0M365.8 154.1h0M425.3 108.0h0M398.4 134.1h0M432.2 89.6h0M439.6 82.3h0M471.8 63.2h0M394.5 122.5h0M450.8 101.7h0M473.7 57.5h0M464.2 56.9h0M374.9 70.7h0M471.0 53.7h0M321.0 197.2h0M249.9 213.3h0M402.3 100.6h0M267.3 255.4h0M416.2 113.9h0M473.3 74.4h0M494.7 32.3h0M476.2 58.7h0M347.5 172.7h0M478.6 60.4h0M452.1 86.0h0M385.0 124.1h0M444.0 77.8h0M401.2 82.5h0M380.7 128.8h0M425.2 79.6h0M421.0 101.0h0M452.4 78.1h0M480.9 51.3h0M413.6 114.1h0M415.8 102.0h0M447.7 59.7h0M435.3 92.2h0M462.2 90.5h0M398.1 128.5h0M315.3 258.7h0M382.5 136.6h0M251.8 336.2h0M473.4 53.1h0M427.3 93.3h0M480.6 53.7h0M449.6 80.6h0M354.5 148.0h0M364.2 151.6h0M438.2 106.4h0M470.0 60.2h0M428.8 133.5h0M479.0 58.6h0M446.7 91.9h0M459.4 70.5h0M352.5 157.7h0M379.8 154.4h0M449.1 84.6h0M472.2 56.7h0M482.4 48.6h0M495.2 36.1h0M427.8 86.3h0M289.9 233.2h0M424.0 79.4h0M464.0 80.7h0M442.2 99.8h0M416.2 121.5h0M467.6 68.7h0M474.8 55.1h0M499.7 30.7h0M432.0 90.2h0M446.6 66.5h0M466.0 68.6h0M426.5 100.6h0M453.8 70.6h0M409.8 97.7h0M393.0 161.6h0M418.2 108.6h0M429.4 103.1h0M354.1 159.9h0M412.1 96.5h0M460.0 76.8h0M414.0 121.5h0M468.1 58.4h0M472.7 53.1h0M490.6 48.0h0M413.1 75.8h0M477.7 57.3h0M454.9 79.2h0M448.6 80.1h0M453.9 70.0h0M399.5 128.8h0M388.6 118.3h0M460.6 68.4h0M375.4 155.3h0M491.6 40.1h0M379.0 142.2h0M435.7 75.3h0M399.5 126.6h0M332.4 169.0h0M386.6 142.0h0M490.0 28.0h0M405.0 128.7h0M495.4 43.4h0M436.7 102.2h0M430.1 102.6h0M385.0 146.6h0M478.8 47.6h0M437.1 97.5h0M440.4 104.4h0M438.3 84.9h0M493.5 37.4h0M474.3 46.4h0M462.6 65.3h0M371.3 131.2h0M466.6 64.5h0M465.7 68.8h0M492.4 34.0h0M407.4 124.7h0M443.7 100.5h0M453.0 71.2h0M436.6 94.8h0M484.5 48.7h0M355.3 131.8h0M457.4 87.0h0M327.2 189.4h0M380.8 145.2h0M391.1 137.6h0M496.4 33.4h0M448.8 88.8h0M430.1 110.1h0M416.6 109.9h0M468.8 60.4h0M429.7 86.7h0M478.4 56.2h0M458.2 63.4h0M379.5 114.2h0M494.6 40.7h0M394.3 110.0h0M415.1 98.7h0M465.9 64.7h0M162.6 367.5h0M480.7 43.8h0M432.4 123.7h0M448.3 71.2h0M322.9 182.3h0M450.8 68.9h0M469.6 80.0h0M421.0 160.5h0M441.9 73.9h0M474.8 65.6h0M314.2 205.1h0M353.3 181.7h0M436.0 112.5h0M434.2 122.2h0M402.3 110.4h0M457.5 72.6h0M442.3 137.1h0M439.0 84.7h0M450.8 94.3h0M433.8 89.7h0M455.8 87.7h0M376.4 153.7h0M398.6 116.8h0M407.4 141.1h0M451.9 73.6h0M477.5 60.2h0M294.0 215.6h0M451.6 87.6h0M449.1 80.8h0M431.1 115.2h0M376.6 132.5h0M438.6 58.4h0M418.9 119.0h0M457.6 75.4h0M466.8 66.4h0M417.5 158.0h0M480.6 44.4h0M490.8 46.9h0M441.7 71.9h0M444.7 96.1h0M446.5 93.0h0M493.9 41.6h0M393.6 158.6h0M476.5 55.1h0M440.1 95.5h0M469.2 73.8h0M425.0 104.7h0M448.9 94.7h0M416.3 94.6h0M401.5 86.0h0M460.6 85.1h0M473.6 55.7h0M485.4 42.8h0M483.1 50.1h0M457.9 88.1h0M416.1 112.0h0M432.3 98.5h0M433.7 116.3h0M453.0 77.5h0M467.8 63.4h0M354.7 162.4h0M335.4 204.1h0M422.1 135.3h0M449.3 83.0h0M325.6 196.1h0M449.5 95.8h0M375.9 154.2h0M491.4 37.1h0M492.0 40.7h0M401.8 158.5h0M463.9 61.8h0M383.4 107.7h0M450.9 61.7h0M489.2 43.3h0M443.4 110.6h0M449.6 96.0h0M458.2 68.6h0M464.9 68.2h0M422.9 114.4h0M433.8 84.9h0M463.7 68.2h0M391.0 104.9h0M461.6 72.8h0M447.2 85.1h0M471.8 63.7h0M431.2 80.4h0M219.9 305.3h0M396.4 113.2h0M226.8 323.0h0M455.1 74.9h0M363.1 149.5h0M480.7 60.7h0M403.1 119.6h0M448.2 75.6h0M452.3 115.0h0M431.1 91.5h0M423.8 119.8h0M478.2 55.1h0M406.2 133.4h0M473.6 50.4h0M437.2 118.0h0M474.1 58.6h0M413.1 112.2h0M452.0 95.1h0M450.0 71.5h0M395.1 149.8h0M371.6 165.3h0M417.9 111.7h0M458.0 67.5h0M429.5 97.5h0M468.2 50.3h0M464.6 73.2h0M439.1 79.7h0M436.1 66.7h0M474.7 47.9h0M369.4 149.0h0M431.8 100.0h0M406.8 119.8h0M462.0 61.9h0M415.4 103.8h0M494.8 37.5h0M425.9 91.0h0M462.8 66.3h0M494.0 41.5h0M448.7 105.3h0M442.1 79.7h0M473.5 57.1h0M485.9 41.3h0M390.7 171.6h0M455.7 63.5h0M483.8 48.5h0M486.5 52.2h0M467.1 70.7h0M434.7 82.0h0M386.2 112.0h0M441.4 83.3h0M455.8 79.8h0M391.0 111.7h0M484.0 39.9h0M444.2 122.9h0M442.7 86.2h0M441.2 82.1h0M430.0 102.0h0M418.7 58.1h0M409.6 131.1h0M383.2 128.2h0M382.4 153.2h0M438.6 89.1h0M478.9 48.4h0M474.2 50.1h0M367.6 182.1h0M487.3 37.3h0M453.6 64.6h0M433.9 75.5h0M421.0 133.4h0M466.9 68.8h0M477.4 49.5h0M489.8 40.7h0M342.9 236.8h0M472.7 69.2h0M483.1 60.2h0M389.3 144.3h0M442.3 83.5h0M453.8 124.9h0M453.3 76.2h0M432.5 86.3h0M358.5 187.5h0M489.3 43.6h0M410.8 101.3h0M465.9 88.8h0M381.5 141.4h0M437.6 81.9h0M354.0 175.6h0M452.9 61.7h0M434.6 77.9h0M280.7 257.2h0M453.7 69.8h0M474.5 54.0h0M468.6 60.2h0M419.4 96.4h0M468.3 48.2h0M453.3 83.6h0M435.8 79.5h0M446.8 99.3h0M362.3 148.7h0M438.0 77.4h0M499.8 31.9h0M454.0 99.8h0M449.8 78.3h0M416.2 128.4h0M457.5 61.7h0M398.0 102.4h0M445.3 74.8h0M418.8 100.7h0M494.0 39.5h0M455.3 79.6h0M458.1 67.6h0M462.5 91.7h0M467.9 54.2h0M454.0 88.2h0M406.3 118.6h0M420.1 113.6h0M445.1 75.4h0M234.0 353.4h0M496.5 31.8h0M431.9 125.2h0M469.7 71.7h0M333.5 207.8h0M473.1 65.9h0M462.1 62.4h0M459.6 96.6h0M429.5 91.8h0M333.6 159.3h0M488.6 42.7h0M473.8 57.3h0M434.9 99.1h0M434.8 90.1h0M481.5 47.7h0M442.3 119.2h0M428.2 95.0h0M412.2 117.9h0M488.0 53.6h0M397.3 127.6h0M401.0 121.5h0M416.5 122.1h0M447.2 69.6h0M380.1 174.8h0M483.2 55.1h0M336.0 143.4h0M340.6 242.1h0M445.2 119.8h0M461.6 64.8h0M445.7 88.4h0M421.2 110.5h0M483.1 57.6h0M425.6 128.5h0M446.5 104.7h0M474.1 60.8h0M344.3 204.4h0M342.9 146.6h0M414.2 118.3h0M446.2 75.8h0M387.1 144.9h0M479.8 63.7h0M453.8 72.7h0M458.7 94.0h0M487.7 36.8h0M453.5 67.7h0M470.3 77.7h0M309.2 187.0h0M350.5 163.4h0M418.4 115.9h0M399.3 130.0h0M456.6 76.2h0M370.0 132.0h0M462.7 67.3h0M419.4 93.6h0M427.0 90.2h0M456.5 80.0h0M444.0 81.7h0M417.5 116.0h0M408.2 94.2h0M319.6 223.1h0M435.4 96.8h0M372.9 157.8h0M411.9 147.0h0M396.9 142.6h0M429.9 98.7h0M323.0 256.7h0M492.1 34.4h0M412.6 175.0h0M471.0 47.7h0M349.0 161.9h0M418.8 111.4h0M449.5 78.1h0M473.6 70.2h0M377.0 123.5h0M359.4 146.9h0M449.9 86.4h0M416.9 119.0h0M448.5 68.8h0M282.4 226.4h0M465.1 69.1h0M481.1 54.2h0M453.6 70.1h0M457.9 71.9h0M440.9 85.8h0M225.4 307.0h0M438.8 95.8h0M452.0 62.1h0M467.1 57.2h0M461.0 73.4h0M456.2 58.5h0M416.6 105.1h0M498.7 37.8h0M398.3 136.5h0M475.5 51.7h0M403.5 111.8h0M458.0 73.4h0M452.9 70.4h0M403.1 154.6h0M409.7 102.3h0M463.9 53.0h0M428.0 111.8h0M345.3 187.3h0M445.0 61.9h0M434.6 103.5h0M394.2 143.3h0M335.4 168.6h0M489.3 52.1h0M454.6 107.1h0M483.0 55.0h0M406.4 52.6h0M491.0 47.2h0M452.8 95.5h0M326.3 195.5h0M472.7 71.7h0M387.4 195.3h0M380.7 155.2h0M368.6 97.6h0M449.3 100.4h0M491.8 33.8h0M409.3 145.0h0M458.1 68.8h0M393.5 121.9h0M462.2 79.0h0M429.6 94.2h0M441.7 68.5h0M388.9 110.5h0M467.1 61.5h0M428.4 84.0h0M440.2 78.5h0M415.5 128.8h0M380.6 115.6h0M328.0 203.6h0M466.5 51.9h0M362.2 199.3h0M347.6 150.6h0M405.2 129.7h0M429.3 91.7h0M381.9 135.9h0M476.5 66.8h0M463.9 73.7h0M410.8 131.3h0M378.6 83.6h0M448.7 90.7h0M453.2 69.9h0M493.5 27.8h0M468.8 57.5h0M487.9 67.7h0M458.9 81.5h0M469.3 59.0h0M435.2 97.9h0M474.0 61.7h0M434.9 88.3h0M490.7 39.4h0M447.4 78.4h0M487.9 35.9h0M466.7 67.8h0M494.4 34.9h0M376.0 190.6h0M439.1 97.3h0M349.9 172.0h0M477.9 39.2h0M464.4 65.4h0M390.8 130.0h0M476.6 58.0h0M384.1 156.0h0M400.8 131.9h0M458.4 71.2h0M471.4 61.1h0M480.6 43.5h0M426.0 105.0h0M401.3 144.0h0M429.2 77.2h0M479.0 61.2h0M432.9 71.7h0M400.5 121.0h0M466.2 64.5h0M367.4 172.7h0M429.3 111.4h0M492.9 43.1h0M429.4 77.1h0M386.6 109.2h0M484.8 66.8h0M486.2 48.7h0M472.2 58.8h0M492.6 37.0h0M487.8 38.7h0M414.0 128.9h0M478.2 64.7h0M434.9 94.7h0M366.0 177.9h0M301.4 230.2h0M490.0 45.6h0M429.7 100.2h0M475.0 47.7h0M460.5 69.8h0M365.2 141.8h0M494.2 41.4h0M312.2 194.1h0M373.2 171.2h0M467.5 61.0h0M331.6 237.3h0M406.8 109.3h0M433.0 101.3h0M399.9 98.3h0M485.6 43.4h0M427.8 118.8h0M336.0 168.0h0M346.4 152.9h0M375.4 148.8h0M469.1 68.5h0M418.1 91.6h0M383.4 140.7h0M406.8 139.9h0M401.9 155.8h0M466.4 57.8h0M457.9 80.2h0M491.1 43.0h0M477.4 52.0h0M466.7 63.2h0M480.3 66.2h0M354.6 192.0h0M398.6 131.3h0M458.7 78.5h0M459.8 84.6h0M398.4 104.3h0M414.8 120.9h0M459.2 66.5h0M464.5 61.4h0M450.2 92.1h0M491.2 34.9h0M438.7 96.1h0M427.6 100.9h0M474.0 70.2h0M485.2 46.6h0M435.9 88.2h0M306.6 237.9h0M425.8 89.8h0M442.7 121.4h0M475.4 61.0h0M467.6 73.1h0M470.0 89.0h0M486.1 60.4h0M263.8 298.0h0M441.1 71.4h0M446.1 79.0h0M347.4 194.8h0M435.6 78.0h0M398.2 145.2h0M442.1 98.6h0M429.3 114.4h0M477.4 47.1h0M436.1 88.3h0M410.1 126.4h0M426.7 108.6h0M475.8 63.5h0M405.9 116.3h0M484.7 42.2h0M473.0 52.6h0M355.1 160.3h0M485.4 42.6h0M383.9 162.3h0M462.8 78.1h0M431.8 112.3h0M385.8 161.4h0M182.8 294.6h0M430.2 95.2h0M446.5 72.6h0M481.0 52.4h0M453.4 58.5h0M383.5 146.0h0M417.3 96.4h0M449.5 99.1h0M316.3 132.1h0M438.8 86.7h0M438.3 118.5h0M424.9 99.2h0M454.2 86.7h0M433.6 73.6h0M334.8 135.8h0M392.1 148.0h0M397.0 142.6h0M447.9 79.5h0M463.7 67.4h0M424.7 89.3h0M305.8 244.0h0M430.1 107.5h0M469.3 63.3h0M399.1 88.4h0M315.5 182.2h0M481.1 41.7h0M390.8 174.8h0M381.6 108.4h0M479.3 73.1h0M404.6 123.1h0M483.5 46.3h0M376.4 149.7h0M399.5 92.2h0M492.0 33.7h0M465.5 55.5h0M481.6 52.6h0M410.2 85.7h0M482.4 53.6h0M375.2 139.2h0M337.5 154.6h0M361.8 149.8h0M466.1 60.6h0M387.5 127.0h0M493.3 40.4h0M409.1 92.8h0M440.6 88.8h0M357.8 146.8h0M430.6 102.0h0M418.3 96.5h0M457.0 100.1h0M474.2 49.3h0M440.6 75.4h0M490.8 43.8h0M453.5 84.8h0M428.8 121.8h0M408.5 124.7h0M446.9 85.1h0M446.1 93.1h0M423.1 97.1h0M432.6 100.8h0M387.6 103.1h0M469.8 55.5h0M406.7 118.9h0M396.7 112.5h0M403.6 108.9h0M465.2 62.0h0M467.5 66.8h0M440.4 77.0h0M431.0 89.4h0M420.9 150.9h0M436.7 104.2h0M432.1 93.8h0M298.8 193.1h0M435.5 81.1h0M428.1 99.3h0M419.6 105.9h0M414.5 88.8h0M440.4 89.7h0M430.7 85.7h0M427.3 117.6h0M408.6 109.8h0M473.6 64.5h0M480.0 58.3h0M452.0 77.7h0M408.0 102.4h0M386.8 202.4h0M449.2 69.3h0M467.5 70.3h0M376.5 152.4h0M398.0 101.7h0M496.3 35.7h0M472.0 79.8h0M436.8 74.2h0M467.8 63.3h0M408.7 129.4h0M437.8 84.5h0M432.4 140.8h0M457.7 83.3h0M414.2 144.3h0M453.7 76.7h0M428.8 113.1h0M332.1 205.5h0M478.8 48.4h0M468.7 68.2h0M379.0 161.9h0M488.1 40.6h0M429.4 130.0h0M479.2 41.9h0M454.7 59.4h0M480.8 50.4h0M491.5 35.7h0M368.1 148.0h0M467.8 75.7h0M432.8 106.7h0M420.2 107.7h0M435.6 102.3h0M384.7 138.8h0M491.3 37.6h0M440.6 108.7h0M479.4 60.3h0M478.1 55.9h0M434.2 80.4h0M433.8 117.5h0M441.2 92.0h0M335.5 185.0h0M409.8 154.0h0M337.3 214.6h0M466.1 68.6h0M444.9 127.7h0M444.6 125.1h0M431.0 126.0h0M408.8 103.8h0M496.8 38.9h0M428.6 76.0h0M472.2 76.9h0M468.6 64.6h0M416.1 140.5h0M484.7 51.5h0M474.1 52.4h0M416.2 127.7h0M441.2 88.8h0M491.0 95.8h0M469.9 74.9h0M442.4 74.8h0M414.0 106.6h0M336.2 226.9h0M478.3 52.7h0M474.5 54.8h0M480.5 49.7h0M426.5 105.1h0M482.7 47.1h0M491.2 37.9h0M438.6 74.7h0M359.5 197.5h0M437.4 131.7h0M426.5 96.5h0M447.1 65.5h0M420.9 83.0h0M448.9 79.3h0M440.5 84.0h0M379.0 101.7h0M473.5 94.4h0M471.5 55.5h0M391.9 131.4h0M430.4 114.3h0M263.0 255.5h0M409.0 120.3h0M401.7 149.0h0M452.2 79.9h0M477.2 40.6h0M415.1 114.9h0M489.9 41.6h0M483.9 39.8h0M460.6 67.0h0M327.0 187.5h0M460.9 63.7h0M437.0 95.5h0M466.5 57.8h0M461.3 77.5h0M475.6 51.3h0M477.4 56.6h0M436.6 50.9h0M370.7 108.6h0M469.8 49.3h0M463.2 60.7h0M342.8 156.1h0M469.0 66.1h0M466.5 80.6h0M395.9 105.8h0M465.3 62.6h0M445.5 82.9h0M445.6 121.9h0M402.6 87.2h0M364.5 158.0h0M397.4 121.0h0M457.1 77.9h0M456.2 65.7h0M472.2 56.4h0M459.1 113.2h0M456.1 100.1h0M429.0 93.2h0M476.9 50.3h0M403.9 159.3h0M364.8 143.5h0M485.4 46.0h0M459.5 106.3h0M468.0 56.8h0M347.4 206.8h0M435.5 109.4h0M388.2 137.7h0M485.9 87.2h0M484.1 43.0h0M382.3 126.9h0M418.7 121.1h0M470.4 51.4h0M465.2 55.1h0M482.3 58.7h0M494.0 39.4h0M466.8 63.5h0M323.2 194.1h0M393.3 166.3h0M436.0 107.7h0M362.6 170.6h0M443.9 79.7h0M437.1 89.1h0M377.8 103.0h0M441.6 79.9h0M453.5 71.4h0M474.8 56.9h0M434.1 113.8h0M440.7 66.7h0M452.3 89.3h0M429.7 108.6h0M399.5 124.2h0M444.7 97.8h0M197.7 321.8h0M451.1 85.6h0M437.4 89.8h0M449.3 62.5h0M449.8 79.0h0M335.1 192.8h0M448.3 69.6h0M400.6 121.2h0M455.6 60.5h0M446.1 131.4h0M452.0 85.6h0M456.3 63.9h0M444.2 90.9h0M334.4 204.6h0M368.6 79.4h0M372.6 165.1h0M348.3 152.7h0M442.3 84.5h0M438.0 92.0h0M442.5 83.6h0M475.4 55.6h0M475.5 75.4h0M372.4 135.2h0M375.4 155.6h0M395.5 107.6h0M415.8 109.8h0M470.6 62.2h0M490.6 51.3h0M457.0 74.4h0M453.0 69.2h0M400.4 143.9h0M360.0 160.4h0M467.1 82.7h0M427.7 95.2h0M488.4 42.5h0M411.8 145.9h0M283.1 209.7h0M373.3 144.6h0M414.3 115.8h0M377.1 157.5h0M459.7 73.9h0M449.9 82.5h0M424.4 98.1h0M462.4 69.4h0M489.2 39.3h0M408.5 97.3h0M475.5 52.4h0M494.7 33.0h0M371.0 134.2h0M386.4 143.9h0M378.8 124.3h0M442.7 83.5h0M489.4 42.8h0M389.0 155.2h0M457.7 49.1h0M493.1 37.3h0M416.6 101.6h0M368.3 172.1h0M402.0 144.2h0M463.8 87.2h0M484.2 46.0h0M446.8 64.5h0M460.1 67.7h0M396.2 154.6h0M413.1 104.8h0M421.6 101.0h0M403.0 123.8h0M419.3 135.4h0M400.2 132.3h0M460.0 59.7h0M425.0 105.8h0M457.2 43.1h0M425.4 98.6h0M443.0 90.0h0M492.6 37.0h0M349.2 144.7h0M458.1 90.7h0M465.8 69.9h0M446.0 99.4h0M463.6 64.7h0M430.0 90.8h0M465.2 63.8h0M404.4 142.6h0M405.1 118.1h0M470.3 75.5h0M391.9 118.4h0M443.7 92.8h0M435.2 75.4h0M468.4 66.3h0M329.8 161.1h0M481.0 42.6h0M388.6 134.3h0M456.1 102.0h0M485.7 45.1h0M440.4 82.1h0M404.8 140.8h0M459.3 60.9h0M413.8 130.4h0M432.9 105.6h0M404.2 87.7h0M394.4 136.1h0M435.1 123.9h0M373.2 162.0h0M463.2 58.1h0M467.3 73.4h0M482.3 48.4h0M461.8 61.1h0M457.6 73.4h0M365.3 152.3h0M482.0 55.2h0M442.9 72.1h0M301.8 209.4h0M448.1 66.5h0M434.8 81.2h0M470.3 51.6h0M367.7 170.0h0M400.9 117.0h0M478.7 56.6h0M277.2 238.8h0M432.1 113.6h0M468.9 53.2h0M441.7 74.4h0M429.7 130.6h0M438.6 96.1h0M412.5 127.1h0M487.2 52.6h0M494.4 35.9h0M383.5 188.3h0M432.8 113.5h0M392.6 161.4h0M473.5 54.8h0M482.6 43.4h0M424.5 97.0h0M403.9 140.3h0M483.1 43.4h0M465.7 52.7h0M357.2 208.8h0M344.7 138.9h0M475.4 49.6h0M462.4 68.8h0M453.5 77.1h0M433.3 105.3h0M463.6 61.4h0M461.7 47.5h0M422.2 141.7h0M367.7 161.5h0M416.2 117.2h0M476.6 64.7h0M461.2 68.7h0M474.6 57.2h0M354.4 134.8h0M493.0 37.4h0M440.6 78.0h0M289.3 248.7h0M335.5 209.3h0M392.4 124.0h0M448.7 91.1h0M430.0 100.3h0M385.2 142.5h0M352.1 189.2h0M430.6 98.3h0M454.3 56.3h0M391.8 179.0h0M480.0 68.3h0M423.3 86.9h0M488.3 47.1h0M479.0 61.3h0M450.5 89.8h0M470.8 56.3h0M459.0 63.9h0M457.0 84.9h0M422.2 102.1h0M463.8 79.2h0M482.9 42.5h0M458.3 67.9h0M371.8 163.8h0M461.3 70.2h0M455.6 62.6h0M439.0 90.6h0M319.4 224.7h0M428.0 87.7h0M436.2 113.0h0M337.9 216.2h0M429.5 88.7h0M397.2 149.9h0M420.2 137.6h0M448.0 102.0h0M458.9 71.3h0M326.6 208.0h0M407.1 144.7h0M315.2 208.7h0M472.5 69.0h0M466.0 83.6h0M488.1 41.9h0M488.6 43.5h0M466.0 59.9h0M367.8 201.9h0M454.1 105.6h0M338.2 185.9h0M477.1 50.1h0M472.0 45.8h0M376.7 162.6h0M446.7 85.7h0M425.3 124.7h0M429.3 74.2h0M465.9 54.4h0M438.0 97.6h0M376.3 148.3h0M477.0 45.3h0M416.4 114.0h0M357.7 135.0h0M398.9 107.6h0M437.5 97.4h0M488.1 44.4h0M419.8 121.7h0M444.1 100.0h0M476.7 42.8h0M409.9 127.4h0M435.9 105.8h0M436.0 112.5h0M487.1 46.1h0M361.3 130.9h0M387.5 126.1h0M456.3 105.2h0M463.4 64.6h0M393.8 125.9h0M475.1 50.6h0M389.0 116.5h0M466.7 59.7h0M466.8 69.6h0M456.7 62.9h0M451.3 102.6h0M396.5 161.5h0M492.2 31.8h0M329.7 177.1h0M393.0 152.5h0M476.1 50.6h0M481.5 60.3h0M423.4 119.7h0M490.7 42.8h0M446.4 106.8h0M366.9 149.8h0M427.8 125.0h0M471.1 60.1h0M421.1 89.6h0M447.3 69.0h0M405.7 139.7h0M380.3 161.1h0M457.0 69.5h0M395.7 166.9h0M432.3 91.1h0M437.9 86.1h0M466.7 53.0h0M465.6 63.4h0M469.5 59.5h0M404.2 165.6h0M431.1 95.5h0M435.0 82.7h0M435.0 93.4h0M397.2 136.2h0M328.0 214.6h0M381.6 165.2h0M411.1 117.5h0M450.0 131.1h0M365.1 130.2h0M445.4 88.4h0M396.7 124.2h0M455.1 77.9h0M461.0 69.6h0M385.3 175.5h0M399.2 96.9h0M415.5 98.2h0M481.3 47.6h0M472.1 66.4h0M444.2 65.7h0M429.9 85.2h0M462.8 69.1h0M428.2 129.0h0M462.2 68.8h0M438.7 75.9h0M480.4 55.2h0M403.5 129.0h0M459.2 71.4h0M377.0 140.1h0M369.0 108.8h0M465.0 63.4h0M456.7 69.8h0M391.8 131.2h0M473.1 62.7h0M432.4 98.5h0M451.7 93.2h0M478.2 50.6h0M455.0 75.1h0M485.0 44.1h0M493.0 43.6h0M394.6 95.0h0M483.0 41.5h0M461.9 70.7h0M427.1 117.5h0M438.0 92.5h0M393.7 142.0h0M419.4 111.0h0M380.8 141.5h0M496.7 37.2h0M480.4 54.6h0M339.5 188.3h0M426.4 139.4h0M456.7 53.9h0M291.6 215.4h0M421.5 104.1h0M446.3 62.1h0M441.9 85.9h0M416.0 115.0h0M476.3 50.9h0M407.8 120.3h0M478.0 45.7h0M481.9 48.0h0M347.2 154.3h0M426.0 80.9h0M473.9 51.6h0M470.6 58.4h0M479.6 58.7h0M414.4 126.2h0M454.2 88.4h0M346.5 186.6h0M392.9 118.5h0M412.5 151.9h0M473.0 54.4h0M411.0 155.8h0M401.8 137.7h0M425.6 94.4h0M468.7 66.0h0M423.4 88.2h0M470.4 58.3h0M356.2 179.8h0M433.6 96.8h0M446.2 85.3h0M475.2 52.7h0M438.8 110.5h0M329.5 204.2h0M364.0 184.9h0M395.9 132.2h0M475.4 60.3h0M447.5 81.7h0M469.7 35.7h0M383.2 108.1h0M435.6 99.4h0M445.1 83.8h0M480.6 45.3h0M417.0 121.8h0M372.0 156.8h0M431.4 107.8h0M490.6 36.4h0M463.0 76.1h0M454.2 57.1h0M480.5 66.1h0M465.8 64.1h0M399.8 104.1h0M413.6 108.9h0M475.7 73.9h0M494.1 33.2h0M377.8 150.6h0M471.6 54.4h0M438.1 118.9h0M437.2 66.4h0M492.3 45.0h0M441.2 73.7h0M471.9 67.9h0M439.8 107.5h0M459.7 62.5h0M475.3 59.4h0M465.5 49.2h0M424.2 85.1h0M378.0 140.9h0M467.1 67.0h0M461.5 72.4h0M493.5 34.7h0M447.6 78.1h0M434.5 110.6h0M437.5 90.1h0M377.5 147.1h0M412.7 100.4h0M483.5 50.4h0M397.3 133.3h0M490.2 36.1h0M455.9 68.4h0M464.9 95.4h0M417.7 101.1h0M483.7 53.2h0M427.8 87.2h0M446.9 87.8h0M444.8 99.2h0M415.3 73.4h0M464.9 74.3h0M406.0 122.5h0M367.4 142.3h0M423.4 89.0h0M458.3 69.9h0M430.8 116.3h0M427.7 75.4h0M486.1 53.8h0M432.1 93.8h0M438.7 88.0h0M311.6 217.7h0M396.5 123.9h0M481.2 55.4h0M450.6 89.7h0M482.2 62.8h0M479.7 55.8h0M466.0 74.6h0M310.5 229.8h0M469.0 70.3h0M486.8 41.8h0M447.4 82.3h0M471.8 52.5h0M458.8 62.6h0M465.1 69.0h0M389.4 121.7h0M483.8 42.8h0M398.3 168.2h0M469.3 50.7h0M466.5 72.1h0M442.6 88.4h0M484.3 39.0h0M430.9 106.3h0M451.9 67.9h0M322.1 223.5h0M446.6 90.2h0M457.6 50.5h0M445.4 88.1h0M346.2 156.7h0M445.3 76.8h0M356.7 158.1h0M419.5 121.0h0M477.8 56.4h0M471.0 57.6h0M388.6 130.3h0M401.6 159.6h0M427.7 109.3h0M363.3 165.5h0M420.4 95.8h0M498.7 31.5h0M488.3 46.7h0M450.7 78.1h0M417.6 127.4h0M477.1 57.3h0M436.0 88.7h0M490.1 31.2h0M469.2 46.3h0M439.4 110.1h0M482.5 26.1h0M491.2 46.1h0M451.4 83.7h0M379.5 166.0h0M405.5 101.9h0M362.1 179.4h0M442.9 75.6h0M385.7 155.0h0M371.4 162.9h0M470.3 72.8h0M452.2 79.9h0M373.3 172.9h0M436.4 68.3h0M426.9 81.7h0M327.4 174.4h0M451.7 55.7h0M330.6 203.0h0M466.7 70.1h0M480.5 54.6h0M438.6 114.9h0M485.9 45.6h0M433.7 92.3h0M467.3 72.0h0M432.7 94.0h0M372.9 149.1h0M449.1 100.7h0M492.7 42.4h0M448.7 79.3h0M428.7 103.4h0M463.5 74.7h0M465.2 111.2h0M336.5 152.3h0M456.0 65.8h0M456.6 77.9h0M423.3 119.7h0M451.5 71.0h0M419.3 120.4h0M439.3 82.6h0M461.0 95.6h0M462.2 65.6h0M395.5 117.7h0M376.3 128.6h0M438.9 84.8h0M484.8 41.1h0M380.4 141.8h0M430.9 97.6h0M473.5 58.5h0M470.5 76.8h0M490.9 51.4h0M458.6 68.2h0M470.9 77.4h0M434.1 64.7h0M481.9 43.4h0M479.7 73.9h0M408.6 106.5h0M459.9 73.4h0M466.2 51.8h0M468.3 67.3h0M428.9 68.2h0M418.1 133.5h0M480.6 65.9h0M427.8 99.4h0M488.7 47.5h0M431.2 80.3h0M424.3 95.3h0M479.3 46.7h0M441.3 99.0h0M371.5 160.6h0M463.1 49.9h0M463.9 70.4h0M385.9 122.9h0M456.4 65.1h0M442.1 83.7h0M465.4 84.6h0M364.7 197.0h0M389.4 134.3h0M390.0 119.3h0M427.2 115.6h0M457.2 96.4h0M470.0 75.8h0M438.9 91.3h0M490.6 43.5h0M482.1 44.3h0M380.4 139.3h0M447.8 87.0h0M464.5 110.8h0M439.4 91.1h0M472.8 54.7h0M403.9 126.6h0M476.4 49.3h0M411.5 131.8h0M436.0 85.3h0M340.6 172.8h0M399.8 132.7h0M435.2 96.3h0M477.2 57.7h0M428.4 108.9h0M441.0 100.9h0M468.7 52.7h0M454.8 74.0h0M476.2 63.5h0M357.6 178.3h0M347.7 149.3h0M374.4 122.0h0M437.1 77.8h0M463.7 79.5h0M483.2 38.7h0M447.4 100.7h0M434.8 51.9h0M448.7 61.7h0M370.4 153.5h0M474.1 66.8h0M333.9 191.8h0M386.7 159.7h0M446.0 98.4h0M436.6 81.2h0M434.1 91.5h0M443.2 63.3h0M478.9 48.1h0M484.2 52.4h0M408.5 135.9h0M447.3 71.4h0M429.5 85.5h0M425.1 112.2h0M362.4 152.3h0M442.0 69.0h0M396.7 121.9h0M392.0 111.6h0M413.9 141.0h0M281.8 250.0h0M498.6 36.9h0M482.5 46.2h0M481.1 57.4h0M365.4 146.7h0M466.8 67.6h0M469.6 69.5h0M449.0 92.9h0M391.8 151.4h0M401.2 155.3h0M468.3 50.3h0M401.8 150.4h0M265.6 232.8h0M351.0 144.8h0M442.6 76.8h0M491.5 40.5h0M477.9 57.9h0M470.7 71.1h0M463.6 79.6h0M474.1 66.7h0M365.3 180.4h0M414.1 113.6h0M469.1 54.4h0M434.8 116.1h0M440.1 79.4h0M431.8 114.2h0M414.2 80.1h0M431.9 81.3h0M456.7 55.7h0M384.6 137.8h0M393.3 158.2h0M429.9 127.4h0M432.7 93.2h0M430.7 126.9h0M457.1 66.7h0M424.6 95.7h0M377.2 175.4h0M425.2 89.0h0M472.9 56.4h0M300.8 211.8h0M490.7 36.7h0M461.7 77.1h0M435.5 95.9h0M456.2 86.0h0M392.9 127.3h0M389.2 161.2h0M433.9 79.5h0M490.2 35.7h0M476.2 58.9h0M431.2 100.7h0M277.4 256.6h0M470.7 49.9h0M453.3 71.8h0M385.8 139.6h0M346.5 127.9h0M406.4 121.5h0M461.3 66.7h0M442.2 88.0h0M397.2 124.9h0M424.9 125.0h0M346.3 147.7h0M418.3 131.1h0M440.4 112.7h0M378.3 130.8h0M477.7 44.8h0M429.5 99.3h0M463.2 84.7h0M420.5 155.4h0M486.9 39.2h0M479.1 57.3h0M427.7 97.3h0M388.5 154.5h0M397.2 116.5h0M453.7 84.5h0M457.1 69.5h0M431.2 106.1h0M381.2 156.9h0M483.7 61.0h0M402.5 106.5h0M440.4 119.9h0M414.6 90.7h0M458.5 82.8h0M438.0 107.1h0M428.6 87.7h0M415.3 142.7h0M414.9 99.4h0M398.3 142.8h0M461.4 61.2h0M394.3 119.5h0M471.5 51.2h0M434.5 101.2h0M414.7 110.1h0M411.9 131.2h0M452.8 76.1h0M461.7 72.2h0M419.9 97.6h0M478.8 39.5h0M464.4 93.0h0M488.1 42.2h0M464.5 67.1h0M489.6 47.9h0M482.6 54.4h0M458.8 61.2h0M467.2 76.4h0M452.7 57.3h0M469.7 76.9h0M315.8 219.2h0M444.3 50.0h0M368.8 150.5h0M415.0 100.5h0M445.6 114.7h0M445.6 90.1h0M450.6 99.2h0M437.7 103.4h0M465.1 63.6h0M416.3 132.1h0M426.9 90.6h0M398.9 194.5h0M399.9 129.1h0M458.7 77.0h0M452.3 90.8h0M475.6 64.2h0M442.6 96.3h0M446.3 69.3h0M460.7 83.9h0M228.7 291.9h0M428.2 146.8h0M410.7 97.8h0M472.1 65.3h0M389.0 168.8h0M443.3 82.8h0M487.0 43.8h0M411.0 113.5h0M420.8 118.4h0M455.7 71.7h0M305.0 266.7h0M451.6 84.8h0M426.2 111.3h0M372.3 198.9h0M486.1 42.6h0M444.4 81.6h0M481.9 56.0h0M432.7 100.7h0M450.9 76.0h0M361.5 206.1h0M409.7 113.3h0M456.1 68.7h0M360.1 202.7h0M469.6 54.9h0M404.9 102.6h0M447.0 94.5h0M423.0 98.8h0M495.1 43.3h0M442.8 127.6h0M476.1 54.9h0M319.2 244.7h0M485.1 41.3h0M425.6 82.0h0M486.2 46.1h0M412.5 132.8h0M434.5 89.0h0M426.7 95.5h0M468.7 57.6h0M441.3 103.7h0M417.1 106.3h0M421.3 108.3h0M473.8 69.7h0M483.2 50.8h0M450.9 70.8h0M440.7 99.1h0M483.9 58.5h0M426.3 88.6h0M448.7 73.9h0M469.0 66.7h0M394.5 142.5h0M385.7 141.9h0M461.2 81.0h0M441.7 87.8h0M320.9 179.0h0M410.0 109.7h0M480.0 50.4h0M390.3 153.7h0M444.8 63.0h0M461.5 90.7h0M420.2 115.1h0M335.8 217.5h0M342.3 215.6h0M327.6 212.8h0M416.9 121.7h0M420.3 90.9h0M460.4 56.9h0M408.7 103.1h0M332.3 171.3h0M415.7 125.5h0M412.1 130.7h0M470.6 39.0h0M468.4 58.0h0M475.7 71.6h0M486.0 53.0h0M441.2 113.1h0M471.0 59.2h0M434.2 84.6h0M377.4 127.2h0M389.3 146.5h0M395.3 137.6h0M495.3 36.0h0M486.7 53.7h0M438.0 102.2h0M327.6 210.8h0M421.6 103.8h0M399.7 123.7h0M460.5 76.7h0M456.5 70.2h0M455.7 96.3h0M463.2 67.1h0M445.0 87.9h0M310.1 177.7h0M343.0 207.1h0M436.1 80.9h0M474.9 57.1h0M451.9 77.9h0M432.5 95.2h0M456.3 66.7h0M452.5 99.4h0M464.4 89.2h0M466.3 54.9h0M450.3 64.4h0M420.9 92.8h0M455.1 80.2h0M488.2 36.7h0M451.6 107.0h0M490.2 52.9h0M406.6 187.5h0M436.6 80.3h0M459.0 70.9h0M404.6 119.0h0M419.2 122.8h0M473.0 66.5h0M408.9 115.3h0M493.2 42.1h0M462.5 70.9h0M481.2 49.8h0M436.1 75.9h0M448.4 59.6h0M418.1 108.7h0M472.9 56.0h0M467.8 82.3h0M371.1 142.3h0M444.0 82.4h0M373.5 145.8h0M492.3 38.8h0M449.7 83.8h0M325.7 190.0h0M305.8 234.6h0M468.7 81.3h0M438.1 92.6h0M454.1 77.1h0M421.7 121.5h0M446.8 106.5h0M440.0 78.2h0M434.4 128.5h0M464.1 55.9h0M374.2 157.7h0M470.8 60.4h0M414.8 122.6h0M486.8 45.6h0M451.8 90.4h0M387.4 153.0h0M492.6 41.0h0M444.1 78.6h0M442.9 115.4h0M472.5 64.8h0M437.1 105.0h0M385.4 113.1h0M443.2 75.8h0M468.9 59.8h0M438.6 77.3h0M360.4 189.2h0M415.4 136.3h0M468.3 56.9h0M458.7 75.5h0M424.5 93.0h0M409.0 57.1h0M345.8 180.1h0M481.6 43.3h0M427.6 105.6h0M423.7 111.1h0M437.0 90.6h0M389.4 81.6h0M305.7 220.0h0M422.7 87.5h0M411.6 122.4h0M406.3 138.3h0M352.2 193.4h0M436.8 89.8h0M464.3 68.7h0M485.1 56.6h0M465.2 63.5h0M460.6 72.2h0M449.2 69.5h0M428.6 114.2h0M340.1 152.5h0M440.2 78.4h0M282.9 216.5h0M349.6 139.4h0M395.3 104.5h0M462.1 66.5h0M476.3 64.4h0M413.7 152.0h0M468.2 54.9h0M435.6 82.0h0M477.3 47.0h0M384.9 150.8h0M377.4 138.9h0M442.5 83.1h0M459.0 81.9h0M370.6 129.8h0M422.5 109.1h0M474.6 59.2h0M399.9 114.7h0M461.3 41.2h0M486.5 46.5h0M419.0 114.2h0M437.0 99.8h0M469.5 68.9h0M426.1 138.3h0M459.4 57.7h0M458.1 79.0h0M436.4 88.3h0M490.0 33.6h0M418.0 109.8h0M412.0 118.0h0M452.2 86.6h0M494.7 35.0h0M469.3 71.9h0M469.4 75.7h0M446.4 114.3h0M421.0 109.5h0M421.8 116.4h0M350.8 186.5h0M473.3 63.1h0M460.5 79.5h0M412.6 108.5h0M462.3 60.4h0M444.2 74.4h0M404.8 97.7h0M361.3 172.5h0M404.1 130.9h0M427.0 90.8h0M490.6 47.4h0M488.2 52.7h0M477.9 51.8h0M430.3 110.2h0M444.2 95.2h0M454.1 67.1h0M424.6 104.1h0M464.1 70.6h0M419.8 123.9h0M437.5 103.5h0M460.3 62.9h0M422.1 109.3h0M461.1 59.2h0M478.6 66.6h0M447.1 76.3h0M443.9 87.2h0M489.9 40.4h0M379.2 136.1h0M490.5 44.8h0M443.0 91.0h0M459.7 72.0h0M374.5 127.6h0M456.5 73.6h0M431.1 100.1h0M361.3 213.4h0M483.5 48.5h0M424.7 108.8h0M476.9 50.7h0M353.1 223.5h0M466.5 57.0h0M470.8 45.6h0M487.7 39.9h0M446.6 80.6h0M475.8 52.9h0M449.8 84.5h0M446.3 107.6h0M440.3 98.4h0M425.4 103.7h0M386.4 161.7h0M476.7 49.7h0M400.8 118.8h0M428.5 130.9h0M424.9 97.9h0M396.0 103.7h0M389.4 162.6h0M435.5 88.6h0M476.6 47.9h0M477.2 62.2h0M343.2 181.1h0M457.8 64.7h0M464.8 71.1h0M394.6 127.3h0M440.4 86.4h0M471.5 52.5h0M451.0 89.8h0M437.7 85.7h0M424.7 56.7h0M347.6 223.1h0M346.2 169.0h0M471.6 46.5h0M443.0 80.3h0M356.1 157.4h0M471.0 54.7h0M447.9 92.1h0M436.3 118.2h0M491.1 43.4h0M463.6 67.2h0M446.8 79.1h0M299.6 247.9h0M385.7 125.3h0M278.0 223.4h0M404.4 136.7h0M437.7 96.1h0M430.6 144.9h0M431.2 105.5h0M376.0 152.4h0M387.6 103.5h0M412.0 130.2h0M491.3 33.8h0M435.8 83.9h0M382.4 135.9h0M325.1 184.8h0M473.5 50.1h0M439.0 90.0h0M431.8 70.3h0M476.8 69.8h0M485.3 43.9h0M479.6 49.1h0M431.3 78.4h0M369.7 144.7h0M343.3 194.2h0M438.9 98.7h0M434.9 105.2h0M405.6 106.4h0M426.0 114.3h0M442.4 87.7h0M468.8 78.7h0M446.9 94.6h0M455.9 82.2h0M449.8 64.0h0M335.0 193.7h0M398.9 147.2h0M480.8 50.3h0M483.3 35.3h0M385.0 149.0h0M436.2 80.7h0M474.0 62.8h0M397.0 140.4h0M471.0 64.1h0M480.8 52.9h0M334.2 151.2h0M488.7 43.8h0M462.2 62.1h0M446.8 95.6h0M482.3 51.1h0M460.5 72.5h0M433.1 89.7h0M430.6 100.2h0M458.6 85.0h0M495.7 36.8h0M439.2 90.2h0M471.5 66.5h0M470.2 54.4h0M443.7 104.2h0M480.3 59.1h0M465.7 59.4h0M376.6 71.9h0M400.8 104.7h0M482.0 52.0h0M263.8 249.4h0M451.8 106.0h0M336.2 212.3h0M371.9 106.3h0M493.4 34.0h0M402.0 116.2h0M442.4 87.2h0M422.0 102.0h0M407.6 119.6h0M446.5 106.3h0M390.7 96.7h0M410.3 118.8h0M474.0 58.3h0M418.2 124.7h0M366.7 185.6h0M389.5 139.3h0M434.9 90.3h0M464.7 77.1h0M362.2 169.8h0M445.2 128.0h0M394.4 100.6h0M419.9 91.1h0M422.6 116.9h0M364.5 162.9h0M460.0 66.9h0M434.1 112.8h0M407.3 99.8h0M464.0 61.8h0M440.6 105.7h0M419.3 119.4h0M451.7 80.1h0M444.5 95.8h0M395.9 158.5h0M413.7 134.1h0M433.7 120.6h0M337.2 163.6h0M427.1 101.5h0M467.2 81.3h0M409.5 138.3h0M380.9 150.1h0M269.7 252.4h0M418.4 96.2h0M424.1 102.2h0M424.4 86.5h0M484.0 41.8h0M463.4 63.5h0M460.6 76.1h0M383.8 103.5h0M414.9 105.8h0M467.9 61.9h0M466.6 61.4h0M472.2 54.2h0M388.2 125.6h0M479.7 49.0h0M493.3 44.6h0M430.7 92.8h0M470.4 71.5h0M362.5 150.6h0M470.8 52.0h0M466.3 60.4h0M371.1 155.5h0M439.9 97.8h0M483.6 51.7h0M471.7 73.0h0M417.5 102.4h0M450.2 59.7h0M335.3 208.6h0M433.5 86.7h0M307.4 207.7h0M492.2 37.5h0M466.7 79.4h0M481.9 45.3h0M495.3 34.8h0M442.2 47.8h0M440.6 85.1h0M449.4 86.9h0M364.6 128.2h0M492.4 37.4h0M442.3 92.6h0M460.7 73.2h0M461.1 69.1h0M447.9 78.1h0M460.3 74.0h0M426.5 111.1h0M442.0 100.0h0M353.0 228.3h0M453.7 75.6h0M428.5 108.5h0M476.0 52.2h0M462.2 71.2h0M210.3 350.0h0M463.2 71.7h0M363.6 163.3h0M463.6 44.6h0M441.5 87.8h0M441.2 104.6h0M463.0 66.4h0M440.6 117.0h0M453.3 71.7h0M449.1 109.0h0M473.2 47.2h0M394.2 126.5h0M467.1 58.3h0M350.2 166.9h0M458.6 87.2h0M406.0 116.2h0M487.8 37.3h0M466.1 61.3h0M467.5 67.9h0M432.9 81.6h0M231.6 274.4h0M382.6 153.8h0M444.3 68.8h0M413.2 100.6h0M472.1 56.3h0M417.7 138.7h0M111.5 412.9h0M466.3 74.3h0M398.5 126.9h0M429.2 126.8h0M353.3 209.5h0M363.1 157.0h0M480.7 68.6h0M381.7 135.4h0M309.8 171.2h0M328.4 191.5h0M468.3 64.5h0M466.9 72.1h0M490.9 42.4h0M401.2 111.5h0M493.3 36.0h0M496.4 34.2h0M476.3 45.5h0M415.3 115.1h0M425.7 109.5h0M374.8 186.6h0M387.4 125.6h0M456.2 88.2h0M467.0 62.0h0M463.9 68.0h0M421.5 93.8h0M351.0 139.8h0M452.5 60.5h0M481.5 48.4h0M474.3 62.8h0M436.4 125.0h0M446.8 61.6h0M475.5 48.9h0M440.0 93.5h0M454.0 53.3h0M413.0 130.7h0M428.6 92.0h0M492.6 40.2h0M474.4 80.7h0M490.6 40.4h0M435.0 95.3h0M453.3 66.3h0M406.4 135.1h0M405.3 94.1h0M368.4 160.8h0M402.9 127.0h0M396.8 162.6h0M420.2 109.4h0M434.5 71.3h0M456.1 81.2h0M441.9 91.7h0M460.3 73.2h0M441.1 78.5h0M385.2 112.5h0M479.3 54.1h0M298.1 223.0h0M486.3 42.6h0M383.7 185.3h0M467.2 55.7h0M450.5 83.2h0M308.2 215.7h0M478.8 69.2h0M486.0 36.6h0M490.6 47.1h0M444.3 75.1h0M332.2 161.6h0M390.2 140.9h0M436.4 111.6h0M473.8 47.5h0M373.9 165.2h0M439.3 99.0h0M423.8 49.2h0M453.7 86.9h0M376.4 166.8h0M457.2 74.0h0M469.4 60.1h0M368.7 190.5h0M222.7 257.2h0M486.3 53.1h0M423.7 117.8h0M448.1 79.5h0M230.6 292.5h0M434.2 108.1h0M447.7 117.7h0M472.6 59.2h0M437.9 105.7h0M436.5 92.0h0M492.0 43.4h0M419.0 119.3h0M457.9 62.7h0M471.8 56.1h0M439.4 77.4h0M433.6 65.8h0M461.8 61.2h0M408.2 122.4h0M414.1 116.0h0M403.1 147.4h0M436.3 68.9h0M409.3 93.3h0M475.1 71.9h0M463.1 55.2h0M438.1 103.7h0M445.9 99.1h0M436.6 98.9h0M322.2 225.3h0M408.6 154.2h0M481.6 56.7h0M372.2 76.4h0M403.2 113.4h0M435.4 75.7h0M400.9 126.2h0M383.8 156.0h0M450.7 77.8h0M434.3 153.6h0M499.7 35.2h0M473.7 71.2h0M457.7 78.4h0M408.5 90.0h0M348.9 172.2h0M379.5 133.2h0M408.5 103.7h0M396.7 131.6h0M408.2 129.2h0M420.1 152.0h0M373.5 172.7h0M366.7 180.9h0M433.7 101.5h0M433.9 87.4h0M446.2 94.4h0M353.3 159.8h0M386.1 134.5h0M408.4 108.9h0M452.0 85.7h0M459.0 52.7h0M454.9 74.0h0M472.7 60.4h0M332.9 156.0h0M291.7 205.7h0M366.5 150.1h0M456.0 73.3h0M401.8 137.1h0M375.4 147.0h0M451.7 69.1h0M490.2 41.5h0M354.8 144.0h0M322.3 236.9h0M472.5 53.7h0M440.2 80.2h0M463.4 67.9h0M426.6 92.7h0M376.6 140.6h0M449.1 89.7h0M372.3 176.0h0M475.9 53.4h0M436.2 57.7h0M480.8 39.7h0M391.0 158.8h0M483.1 45.3h0M426.2 86.3h0M410.3 116.3h0M474.0 38.5h0M421.6 121.3h0M404.2 139.7h0M409.4 127.1h0M443.7 89.5h0M464.6 64.4h0M411.3 183.5h0M454.6 88.5h0M478.9 51.8h0M400.4 138.4h0M439.7 70.9h0M280.1 249.4h0M441.0 94.9h0M426.9 95.6h0M490.3 27.1h0M472.2 72.1h0M488.4 44.6h0M482.0 50.0h0M391.0 140.8h0M480.3 43.5h0M463.4 60.4h0M462.1 55.5h0M440.6 67.2h0M448.2 96.5h0M317.6 247.2h0M444.7 88.4h0M387.8 145.3h0M442.2 103.2h0M414.5 123.9h0M458.2 74.2h0M489.7 38.4h0M412.2 110.8h0M483.0 41.6h0M290.3 233.3h0M327.6 209.3h0M468.4 63.1h0M421.2 108.8h0M351.3 179.1h0M420.7 104.4h0M368.6 139.1h0M400.3 162.3h0M482.3 43.5h0M456.2 91.3h0M380.2 137.0h0M412.9 101.1h0M344.9 208.0h0M464.0 57.6h0M400.5 125.4h0M429.7 95.8h0M479.8 49.3h0M177.6 339.7h0M470.8 84.0h0M398.6 129.1h0M495.3 39.2h0M465.8 69.6h0M460.9 64.7h0M482.2 58.6h0M267.8 242.0h0M412.7 108.0h0M482.1 53.3h0M443.5 95.3h0M429.1 110.9h0M497.9 32.4h0M474.5 43.8h0M430.6 104.6h0M492.0 40.9h0M448.6 101.0h0M473.2 56.5h0M438.8 94.0h0M296.6 219.4h0M366.0 89.0h0M368.7 188.9h0M432.2 95.7h0M430.5 140.0h0M361.8 182.8h0M438.2 100.2h0M444.5 105.6h0M383.1 130.1h0M476.3 59.7h0M456.6 73.5h0M449.1 81.2h0M445.6 79.7h0M429.0 111.9h0M467.2 80.0h0M497.9 28.4h0M425.0 109.3h0M416.7 123.3h0M451.0 64.8h0M458.1 92.3h0M376.7 147.5h0M330.9 245.8h0M453.9 72.2h0M470.9 56.1h0M313.7 245.9h0M451.9 90.6h0M387.9 143.7h0M450.5 75.9h0M437.8 88.9h0M399.7 134.8h0M486.7 44.1h0M388.1 138.9h0M382.3 133.2h0M441.5 65.7h0M445.3 86.5h0M407.2 110.8h0M357.5 181.1h0M427.7 109.3h0M421.5 82.4h0M404.9 135.1h0M431.0 77.1h0M462.1 61.1h0M427.8 85.1h0M374.1 183.2h0M464.1 80.1h0M386.4 107.8h0M440.1 94.1h0M460.0 74.4h0M487.5 43.4h0M313.3 216.3h0M465.0 81.6h0M472.1 38.4h0M360.0 173.1h0M413.0 102.4h0M404.7 95.1h0M437.2 78.2h0M432.2 112.5h0M378.0 136.7h0M395.2 142.1h0M451.3 76.8h0M297.4 228.6h0M463.1 66.0h0M474.5 77.4h0M453.8 98.3h0M442.9 80.7h0M435.4 123.5h0M480.2 47.1h0M406.7 135.8h0M493.8 37.5h0M489.4 36.0h0M465.9 79.1h0M384.0 159.2h0M443.5 83.9h0M163.2 363.2h0M412.1 131.1h0M391.3 144.5h0M419.1 142.6h0M396.7 74.9h0M478.5 57.7h0M376.7 141.6h0M497.7 36.4h0M430.3 109.2h0M436.3 105.1h0M382.4 170.3h0M363.0 190.9h0M445.3 78.1h0M401.3 138.3h0M445.9 104.2h0M474.5 49.0h0M355.3 155.9h0M420.0 107.7h0M485.2 43.0h0M456.9 71.6h0M435.1 109.8h0M433.5 86.2h0M400.0 124.6h0M385.1 143.8h0M440.9 82.9h0M490.1 39.3h0M400.2 148.2h0M428.9 90.7h0M484.6 57.9h0M466.9 77.2h0M458.6 62.3h0M377.4 195.8h0M450.1 80.6h0M371.6 131.7h0M420.4 109.3h0M421.0 103.4h0M451.8 89.2h0M429.6 117.0h0M396.5 161.4h0M444.3 77.7h0M218.2 326.4h0M418.5 123.6h0M432.3 93.5h0M465.9 76.8h0M314.9 204.9h0M395.2 116.5h0M451.1 70.6h0M365.4 134.7h0M453.2 77.4h0M419.5 125.7h0M384.5 146.9h0M400.7 141.4h0M448.8 98.4h0M366.7 145.5h0M454.8 78.9h0M375.8 140.7h0M385.1 124.5h0M470.8 87.0h0M451.3 92.6h0M472.7 62.8h0M388.2 139.4h0M407.6 141.3h0M456.3 70.5h0M413.7 115.0h0M478.6 54.4h0M390.9 139.4h0M338.7 227.5h0M441.6 104.9h0M466.1 60.8h0M440.9 108.4h0M484.1 45.4h0M471.0 54.8h0M333.5 221.1h0M471.0 71.7h0M372.2 138.7h0M448.8 68.7h0M467.9 48.3h0M428.6 88.0h0M475.1 49.8h0M485.5 51.8h0M468.7 76.0h0M482.6 45.1h0M413.7 130.9h0M431.3 97.4h0M403.7 104.3h0M439.3 96.2h0M330.4 205.8h0M483.7 48.6h0M251.5 268.5h0M474.2 51.8h0M455.0 71.6h0M414.3 133.1h0M441.2 104.2h0M433.3 70.0h0M357.2 123.5h0M415.9 98.1h0M431.8 70.0h0M328.5 239.4h0M259.0 260.8h0M461.6 88.7h0M441.6 76.0h0M384.2 137.8h0M440.7 101.0h0M442.7 103.0h0M451.2 87.0h0M379.1 143.9h0M415.6 120.7h0M304.7 237.4h0M422.6 123.2h0M467.3 61.7h0M372.8 157.3h0M427.8 104.8h0M473.0 69.8h0M454.0 65.0h0M493.7 41.2h0M468.9 60.6h0M401.8 125.2h0M381.8 156.2h0M328.6 213.7h0M373.7 135.0h0M471.7 85.8h0M435.2 80.8h0M435.7 122.3h0M441.6 99.3h0M480.0 48.2h0M450.0 65.5h0M396.3 87.0h0M485.7 77.7h0M478.4 68.6h0M283.1 235.0h0M373.6 133.4h0M421.5 106.1h0M458.1 55.4h0M450.6 74.6h0M468.0 68.0h0M437.0 114.9h0M412.9 132.9h0M475.6 47.4h0M482.2 46.0h0M468.2 63.2h0M472.0 58.8h0M457.1 77.4h0M402.4 130.8h0M486.1 54.6h0M373.5 149.0h0M481.4 101.4h0M348.2 234.2h0M428.6 76.8h0M501.3 31.2h0M494.0 41.0h0M485.6 42.5h0M454.7 70.5h0M320.4 155.7h0M455.5 82.5h0M453.2 72.5h0M322.3 246.3h0M467.8 59.0h0M470.1 57.6h0M485.4 47.7h0M409.6 100.2h0M436.3 89.0h0M467.1 56.4h0M406.2 121.4h0M471.7 57.1h0M479.4 51.3h0M468.8 58.6h0M438.0 79.5h0M391.0 166.6h0M466.1 62.6h0M381.2 145.4h0M481.7 53.8h0M313.2 234.6h0M432.5 69.4h0M478.6 51.2h0M446.0 87.7h0M362.6 163.3h0M446.0 72.0h0M493.8 46.7h0M484.4 53.2h0M467.4 65.0h0M317.6 195.2h0M407.1 119.2h0M368.0 170.4h0M373.5 173.2h0M477.4 58.2h0M356.3 160.4h0M453.6 94.3h0M355.6 229.6h0M394.3 168.6h0M471.1 58.8h0M427.3 84.7h0M376.2 178.0h0M464.2 75.3h0M459.6 84.8h0M475.7 54.3h0M464.0 68.2h0M448.7 73.6h0M471.7 65.7h0M482.2 52.1h0M366.1 154.8h0M466.2 70.9h0M408.1 137.6h0M431.5 85.4h0M372.5 170.1h0M481.5 43.9h0M483.6 55.0h0M479.0 49.0h0M440.1 82.3h0M435.2 116.0h0M461.9 70.6h0M474.3 108.8h0M374.2 122.8h0M492.5 38.9h0M398.1 150.3h0M450.3 92.2h0M454.9 47.6h0M438.8 87.4h0M426.2 75.4h0M466.6 60.8h0M427.5 105.0h0M479.6 48.7h0M406.2 128.3h0M474.2 53.8h0M463.3 84.8h0M458.0 71.8h0M484.9 39.4h0M313.6 224.4h0M280.9 241.3h0M428.7 95.8h0M471.4 68.4h0M413.7 125.1h0M407.6 106.5h0M488.0 61.0h0M414.7 106.4h0M367.4 135.6h0M459.9 67.7h0M455.7 59.2h0M411.1 111.6h0M424.5 93.9h0M353.2 148.6h0M463.1 67.8h0M251.7 328.8h0M354.1 180.5h0M440.8 76.9h0M410.0 133.9h0M436.2 109.8h0M384.9 172.5h0M439.8 71.3h0M438.7 97.6h0M472.4 65.3h0M446.3 92.5h0M451.5 75.9h0M483.3 49.1h0M444.9 79.6h0M443.8 91.5h0M414.2 120.8h0M449.0 78.6h0M396.1 106.1h0M409.8 136.9h0M490.6 47.5h0M383.9 115.3h0M434.5 79.0h0M397.7 140.3h0M473.4 51.6h0M470.2 58.9h0M417.7 101.9h0M471.0 71.9h0M287.6 237.3h0M446.1 65.1h0M444.8 90.3h0M480.5 55.8h0M389.2 128.7h0M485.2 49.5h0M316.7 184.6h0M396.5 159.6h0M493.8 47.2h0M405.3 110.6h0M394.1 126.0h0M311.4 187.5h0M232.5 319.3h0M491.9 40.9h0M471.3 61.6h0M416.3 91.2h0M471.4 64.3h0M431.1 98.4h0M470.6 55.9h0M373.4 167.4h0M454.9 67.4h0M401.3 110.4h0M432.9 130.6h0M442.1 68.9h0M451.2 78.2h0M442.3 84.4h0M444.2 70.7h0M422.7 116.1h0M371.8 132.1h0M330.7 128.2h0M445.1 91.9h0M367.2 133.1h0M466.3 53.7h0M418.1 117.7h0M414.4 105.3h0M461.5 63.1h0M494.0 45.2h0M472.6 64.9h0M369.9 159.5h0M437.8 103.8h0M420.1 98.0h0M480.3 57.0h0M408.1 125.6h0M313.8 239.0h0M389.7 126.4h0M472.4 52.7h0M479.6 51.3h0M455.4 70.5h0M316.8 180.4h0M426.9 104.7h0M334.0 175.8h0M469.1 43.5h0M472.2 65.1h0M485.9 50.2h0M422.4 134.3h0M486.9 41.3h0M393.1 137.1h0M350.8 136.5h0M472.0 60.6h0M353.2 159.1h0M411.8 116.7h0M453.7 105.2h0M320.7 216.7h0M469.2 50.4h0M493.7 63.4h0M489.4 35.4h0M480.8 53.6h0M483.5 46.5h0M443.4 94.1h0M373.8 146.0h0M448.8 78.7h0M396.3 133.2h0M458.4 74.4h0M455.5 73.3h0M472.2 57.8h0M478.2 48.8h0M365.4 137.1h0M480.2 50.0h0M362.0 153.9h0M398.7 121.4h0M284.1 195.6h0M382.3 118.6h0M386.8 118.0h0M394.6 126.6h0M445.9 92.9h0M475.2 44.6h0M460.2 61.7h0M465.0 53.3h0M446.6 94.7h0M413.8 133.3h0M482.3 56.6h0M363.0 154.3h0M432.0 102.7h0M481.0 40.4h0M479.2 54.2h0M451.8 72.3h0M471.6 52.3h0M433.9 95.6h0M451.2 64.3h0M376.1 145.3h0M402.8 126.6h0M423.5 97.0h0M426.3 117.7h0M431.6 83.7h0M398.1 121.1h0M339.3 120.5h0M386.8 183.2h0M457.2 70.6h0M432.6 101.4h0M489.5 40.8h0M489.8 47.6h0M461.7 75.0h0M486.7 44.2h0M410.6 110.1h0M485.3 47.3h0M485.8 63.9h0M386.0 147.5h0M384.5 157.5h0M415.8 121.2h0M411.6 115.7h0M436.0 85.6h0M420.2 124.4h0M471.9 54.2h0M368.9 135.3h0M443.5 87.9h0M430.4 77.5h0M459.0 76.1h0M321.6 220.6h0M464.0 67.2h0M400.2 153.3h0M485.7 47.3h0M436.3 107.4h0M417.6 116.6h0M417.4 110.4h0M437.3 66.5h0M441.8 91.5h0M388.4 148.8h0M440.8 78.4h0M440.9 79.7h0M396.6 147.8h0M481.9 52.7h0M475.5 57.8h0M415.4 111.5h0M464.9 62.9h0M430.3 130.4h0M379.6 150.8h0M366.8 172.3h0M414.3 101.7h0M455.3 80.3h0M467.3 75.9h0M452.3 70.2h0M393.7 110.6h0M305.5 180.5h0M473.6 62.2h0M410.7 117.3h0M397.6 137.4h0M483.2 54.3h0M381.7 129.2h0M421.1 76.4h0M435.1 83.7h0M444.5 94.9h0M494.9 32.7h0M429.8 98.0h0M465.8 56.7h0M460.6 76.4h0M397.4 155.8h0M258.6 295.4h0M460.8 64.9h0M471.3 76.7h0M481.3 97.0h0M498.0 33.7h0M395.7 130.4h0M406.3 115.1h0M467.1 66.2h0M465.9 72.1h0M283.7 226.4h0M436.2 94.1h0M470.3 101.0h0M422.5 107.2h0M406.2 140.6h0M489.6 46.7h0M422.1 107.1h0M464.7 59.0h0M459.7 89.4h0M413.2 123.5h0M478.5 50.0h0M408.0 96.1h0M405.6 144.6h0M496.6 32.6h0M460.3 72.6h0M460.9 56.2h0M395.4 115.2h0M419.8 96.8h0M343.6 199.1h0M391.9 106.3h0M421.9 104.2h0M388.4 162.7h0M444.1 108.3h0M477.4 51.8h0M462.8 72.0h0M433.5 87.4h0M462.5 61.7h0M444.7 75.9h0M410.3 94.2h0M483.4 50.8h0M442.5 93.9h0M436.5 150.0h0M371.1 184.5h0M452.0 85.8h0M416.8 143.2h0M483.4 31.3h0M424.9 121.0h0M425.8 98.6h0M427.3 120.9h0M445.7 97.7h0M436.5 79.2h0M351.8 185.6h0M479.3 48.8h0M422.2 99.2h0M448.9 85.8h0M437.1 81.4h0M416.7 126.4h0M385.3 136.7h0M449.3 95.6h0M446.4 77.3h0M414.7 123.4h0M486.1 42.9h0M440.8 91.8h0M403.5 110.6h0M419.1 124.7h0M347.1 170.6h0M439.3 100.2h0M374.1 162.6h0M456.2 74.0h0M471.7 65.2h0M436.4 86.1h0M467.0 108.7h0M457.3 66.7h0M386.4 130.3h0M362.3 111.2h0M419.2 119.9h0M377.5 172.4h0M416.6 99.7h0M416.5 110.7h0M431.1 92.9h0M454.4 82.7h0M408.6 109.7h0M469.8 44.0h0M470.6 54.1h0M429.4 99.6h0M413.7 116.0h0M450.6 66.8h0M384.9 104.6h0M420.3 90.8h0M328.4 198.5h0M325.6 157.1h0M467.5 65.4h0M418.9 88.9h0M286.5 267.2h0M439.6 110.2h0M415.9 87.8h0M424.3 107.0h0M408.5 90.9h0M433.6 94.0h0M480.1 58.7h0M453.5 70.9h0M404.9 126.1h0M422.9 96.3h0M401.1 135.6h0M403.8 126.3h0M449.2 82.7h0M467.9 87.3h0M456.6 64.0h0M396.2 129.5h0M423.8 69.3h0M435.9 95.8h0M378.1 131.2h0M377.0 106.0h0M459.5 76.1h0M424.4 111.7h0M453.2 50.2h0M487.8 52.4h0M470.9 56.6h0M428.6 108.6h0M336.9 206.6h0M487.4 38.3h0M330.7 173.4h0M412.6 104.0h0M475.4 41.9h0M452.5 94.0h0M416.8 107.1h0M453.0 91.4h0M438.0 81.1h0M495.5 32.0h0M417.0 107.3h0M437.3 82.0h0M466.6 83.1h0M448.4 74.7h0M437.7 78.4h0M476.3 89.9h0M412.0 112.3h0M281.1 228.0h0M297.5 215.5h0M429.0 110.0h0M423.7 117.0h0M451.0 75.3h0M473.5 58.9h0M409.5 162.0h0M330.2 202.6h0M369.0 145.5h0M490.9 35.7h0M478.5 51.3h0M453.9 71.4h0M457.1 80.7h0M487.1 40.0h0M468.6 55.6h0M466.3 65.2h0M407.1 112.3h0M471.1 60.4h0M460.4 96.5h0M470.1 53.6h0M391.8 108.0h0M387.9 166.1h0M491.0 38.0h0M441.1 100.3h0M404.1 117.5h0M316.0 213.5h0M459.3 93.9h0M405.1 126.1h0M415.9 150.5h0M466.1 71.7h0M470.5 60.8h0M475.8 59.7h0M488.4 50.6h0M451.4 91.2h0M456.5 71.3h0M458.3 64.3h0M445.5 100.0h0M435.6 91.1h0M483.9 46.2h0M475.9 63.2h0M479.9 56.4h0M488.0 48.9h0M362.5 147.2h0M454.0 115.0h0M442.7 92.4h0M392.2 147.7h0M466.2 72.7h0M489.0 43.4h0M432.0 103.5h0M459.6 63.1h0M364.2 133.2h0M422.4 111.7h0M473.4 51.4h0M495.2 49.5h0M366.2 132.2h0M396.9 125.1h0M490.1 43.7h0M427.1 133.7h0M461.5 62.5h0M430.0 119.1h0M431.0 71.5h0M479.8 44.0h0M475.1 65.1h0M352.0 179.9h0M487.7 45.5h0M450.7 74.3h0M448.9 84.7h0M479.7 52.0h0M449.6 79.2h0M385.3 76.7h0M465.9 63.0h0M386.7 90.5h0M494.3 37.1h0M435.6 91.8h0M432.2 107.7h0M451.0 81.5h0M494.8 37.0h0M461.0 68.1h0M411.6 157.2h0M448.4 80.2h0M303.5 201.2h0M472.3 66.8h0M475.9 56.1h0M436.4 87.8h0M460.5 69.9h0M378.7 136.6h0M490.2 38.6h0M392.8 151.4h0M411.4 103.0h0M385.3 104.3h0M457.5 70.2h0M385.9 128.5h0M417.6 105.8h0M489.7 40.7h0M471.3 61.2h0M459.0 96.3h0M464.7 55.3h0M399.4 140.5h0M451.5 72.5h0M440.6 130.0h0M406.4 133.5h0M434.8 91.7h0M463.1 64.5h0M481.6 42.2h0M475.4 85.3h0M456.1 82.8h0M466.0 58.0h0M473.9 70.8h0M423.1 78.4h0M469.9 56.4h0M326.6 216.9h0M417.2 146.6h0M454.6 74.7h0M468.5 67.9h0M445.8 78.7h0M311.8 241.8h0M415.4 116.0h0M490.0 38.3h0M399.1 128.6h0M452.4 70.1h0M479.0 52.5h0M370.4 133.9h0M473.8 72.1h0M438.9 82.2h0M452.6 79.0h0M492.0 48.7h0M472.4 44.6h0M255.5 305.6h0M340.5 185.8h0M458.6 77.2h0M428.8 121.9h0M376.9 175.7h0M458.7 64.3h0M450.5 144.0h0M427.2 119.9h0M471.5 60.4h0M471.5 62.0h0M458.2 106.0h0M482.0 50.8h0M441.5 91.8h0M404.0 125.6h0M459.3 88.8h0M441.4 83.7h0M470.2 70.9h0M372.3 159.0h0M429.5 101.2h0M450.5 107.6h0M449.8 95.1h0M424.7 123.6h0M486.0 56.9h0M379.9 129.0h0M480.7 56.1h0M463.4 65.8h0M483.6 50.5h0M336.2 230.7h0M439.1 83.7h0M456.2 73.5h0M437.9 112.7h0M422.0 116.5h0M469.7 57.1h0M351.8 210.1h0M443.2 80.7h0M469.2 62.9h0M471.7 51.3h0M443.7 70.5h0M385.7 129.9h0M417.6 109.5h0M456.0 86.6h0M391.8 119.2h0M424.3 126.5h0M479.0 50.5h0M482.1 49.6h0M463.0 94.3h0M351.4 181.6h0M450.9 78.4h0M420.6 105.3h0M485.8 50.1h0M319.5 224.0h0M409.2 111.3h0M462.1 57.0h0M494.4 33.9h0M434.4 82.9h0M469.6 68.9h0M426.3 112.0h0M473.3 58.7h0M430.4 95.3h0M446.1 78.9h0M487.9 38.3h0M430.0 97.0h0M405.5 123.6h0M462.3 78.4h0M362.0 168.6h0M390.0 166.3h0M470.5 83.1h0M450.6 86.6h0M318.9 204.0h0M404.9 103.1h0M480.2 57.0h0M455.0 87.2h0M463.1 54.3h0M441.8 62.6h0M496.3 33.7h0M347.9 161.4h0M456.6 64.9h0M407.0 111.7h0M345.6 219.0h0M441.3 82.7h0M361.5 176.0h0M420.9 118.8h0M290.0 209.7h0M474.2 57.9h0M424.5 109.2h0M498.1 33.5h0M341.3 153.3h0M470.6 63.0h0M473.6 57.5h0M438.8 91.3h0M334.0 195.0h0M416.4 113.6h0M336.2 191.0h0M418.7 112.1h0M437.5 137.4h0M438.5 68.4h0M367.8 188.6h0M413.9 120.8h0M446.8 97.3h0M460.9 83.2h0M380.5 165.4h0M458.2 73.4h0M424.3 119.1h0M469.4 62.1h0M407.8 168.8h0M389.4 123.3h0M459.0 60.3h0M403.6 147.2h0M468.0 54.7h0M387.4 148.8h0M485.3 62.3h0M383.1 123.2h0M476.7 64.9h0M486.5 36.2h0M434.0 74.0h0M467.3 61.2h0M390.7 148.7h0M390.6 158.5h0M465.8 79.5h0M440.6 88.3h0M367.9 175.5h0M350.3 209.2h0M472.2 54.9h0M483.4 47.3h0M351.2 196.8h0M325.7 192.8h0M495.2 41.2h0M468.8 61.0h0M458.5 79.6h0M476.2 57.2h0M391.8 156.1h0M420.3 98.7h0M441.1 75.3h0M401.2 119.4h0M401.4 122.6h0M446.8 84.8h0M470.9 51.9h0M300.0 189.1h0M462.1 87.7h0M471.1 58.6h0M443.6 81.0h0M479.5 52.3h0M488.9 59.9h0M433.5 100.9h0M495.2 40.9h0M441.2 89.8h0M442.9 79.7h0M419.1 65.6h0M347.8 198.9h0M461.7 65.7h0M450.8 78.1h0M444.7 88.1h0M477.8 45.7h0M449.6 89.4h0M334.2 187.3h0M436.2 77.8h0M458.4 66.9h0M373.4 194.4h0M457.6 75.5h0M481.3 41.3h0M424.4 106.9h0M324.1 221.5h0M431.5 107.0h0M443.0 98.6h0M447.6 73.0h0M455.3 81.5h0M468.7 52.0h0M400.6 120.4h0M461.7 59.0h0M388.0 108.6h0M444.4 91.7h0M482.8 54.9h0M393.6 137.6h0M410.5 95.4h0M455.1 69.7h0M329.7 205.8h0M397.7 103.0h0M423.2 105.0h0M469.5 61.0h0M414.6 56.6h0M436.7 103.9h0M384.9 148.2h0M371.1 136.2h0M400.5 132.5h0M467.4 62.6h0M482.4 46.8h0M454.9 81.2h0M436.6 101.4h0M446.1 68.7h0M456.5 71.6h0M456.6 94.9h0M380.4 146.7h0M476.5 70.7h0M468.4 80.5h0M418.2 89.1h0M418.3 86.0h0M395.2 128.9h0M435.3 95.2h0M489.4 46.5h0M462.5 71.0h0M484.1 43.8h0M460.4 65.0h0M421.9 146.2h0M399.6 142.0h0M446.7 89.3h0M442.9 82.1h0M276.8 279.4h0M445.6 86.8h0M460.2 89.8h0M435.9 112.1h0M427.6 101.6h0M471.4 56.6h0M359.9 169.1h0M427.6 107.6h0M429.9 125.8h0M402.4 142.2h0M477.6 54.7h0M487.2 44.8h0M451.6 84.6h0M478.5 43.8h0M415.4 125.8h0M481.4 50.1h0M457.6 68.7h0M464.2 54.2h0M387.3 124.2h0M379.5 185.5h0M461.9 60.2h0M447.4 75.5h0M474.0 52.7h0M467.0 58.2h0M470.6 66.2h0M455.6 74.9h0M307.7 176.2h0M321.9 156.4h0M500.0 38.4h0M491.4 52.1h0M443.7 51.0h0M368.2 180.7h0M476.0 57.2h0M469.4 55.8h0M384.1 136.5h0M416.7 136.0h0M420.8 100.2h0M461.6 66.0h0M448.2 110.2h0M420.8 121.4h0M461.7 64.5h0M424.0 78.7h0M485.3 49.2h0M440.7 86.2h0M462.0 69.2h0M476.9 61.6h0M392.8 127.7h0M454.0 79.4h0M467.9 63.1h0M468.9 74.5h0M460.3 83.8h0M431.7 95.6h0M463.4 70.9h0M401.3 105.6h0M401.1 114.6h0M433.9 88.9h0M476.0 53.2h0M472.1 54.8h0M449.5 82.1h0M455.9 72.5h0M296.9 196.0h0M452.5 60.1h0M357.7 130.4h0M483.6 50.2h0M486.0 50.1h0M441.3 92.2h0M487.7 38.9h0M425.9 92.5h0M432.7 93.9h0M450.4 49.3h0M407.5 142.4h0M372.8 118.6h0M483.2 47.5h0M357.6 181.0h0M461.6 62.5h0M369.3 182.3h0M472.6 56.7h0M397.4 150.8h0M461.3 79.4h0M357.4 144.9h0M395.7 142.9h0M447.0 51.8h0M423.9 122.9h0M467.1 66.7h0M381.8 157.2h0M442.2 83.3h0M487.8 51.9h0M455.8 80.5h0M451.0 100.4h0M483.8 54.0h0M469.6 60.4h0M364.9 165.1h0M388.9 113.9h0M454.7 60.1h0M440.5 85.7h0M409.8 122.5h0M395.9 88.7h0M432.6 96.8h0M465.5 57.9h0M420.5 117.6h0M451.8 107.8h0M447.9 78.5h0M465.9 73.6h0M443.2 82.8h0M449.7 77.2h0M423.3 99.5h0M301.1 222.0h0M427.8 96.4h0M450.1 84.3h0M493.1 33.5h0M445.1 82.3h0M454.9 88.0h0M443.2 88.7h0M263.6 231.5h0M447.3 77.6h0M338.6 172.2h0M416.4 106.1h0M362.1 208.6h0M434.0 71.4h0M405.6 113.2h0M416.4 87.3h0M444.5 105.4h0M472.5 59.6h0M294.1 203.3h0M396.3 108.2h0M437.1 80.9h0M451.9 68.7h0M372.0 150.5h0M455.5 79.9h0M491.0 37.4h0M449.7 80.7h0M470.9 49.1h0M444.1 77.1h0M438.7 113.3h0M428.3 110.0h0M332.6 154.4h0M355.7 202.1h0M462.5 61.0h0M471.0 66.6h0M408.7 117.9h0M488.3 39.0h0M425.4 119.9h0M376.9 148.1h0M409.9 115.0h0M468.3 82.4h0M381.1 114.8h0M298.6 232.7h0M390.8 106.0h0M492.1 56.1h0M307.0 263.9h0M493.7 40.1h0M355.4 151.8h0M429.5 95.7h0M474.9 53.3h0M469.6 67.1h0M486.2 44.4h0M372.9 142.3h0M393.0 119.1h0M409.3 123.5h0M440.4 95.8h0M393.5 134.7h0M491.2 32.5h0M461.9 59.4h0M432.5 95.9h0M425.3 121.4h0M459.6 69.2h0M420.4 115.0h0M474.1 60.1h0M402.3 73.8h0M489.7 45.4h0M473.4 55.9h0M458.0 73.5h0M364.5 159.7h0M472.3 67.6h0M440.9 96.7h0M396.9 150.2h0M431.0 82.0h0M483.6 51.0h0M384.3 182.0h0M487.8 49.6h0M416.2 101.7h0M364.6 154.6h0M440.6 124.7h0M447.7 93.5h0M415.9 118.9h0M466.8 94.7h0M386.8 134.6h0M428.0 98.8h0M341.5 147.1h0M312.9 238.2h0M448.2 77.3h0M428.4 43.9h0M416.1 103.8h0M453.5 74.3h0M350.7 146.2h0M367.7 90.1h0M451.5 79.6h0M429.8 87.4h0M367.3 120.3h0M485.7 46.2h0M474.2 58.4h0M428.5 89.0h0M470.1 55.7h0M474.3 45.2h0M377.3 144.0h0M460.9 71.4h0M240.7 293.3h0M219.6 306.7h0M317.3 260.4h0M339.6 154.8h0M350.9 129.3h0M233.9 310.0h0M393.4 162.8h0M353.2 139.4h0M236.4 272.9h0M309.1 207.1h0M282.0 272.2h0M411.8 141.1h0M158.4 355.0h0M249.9 250.7h0M314.0 226.1h0M414.8 101.2h0M395.5 98.6h0M311.0 213.1h0M389.6 156.2h0M255.4 285.0h0M201.0 355.4h0M290.5 295.4h0M244.2 342.9h0M237.6 284.7h0M298.0 215.7h0M256.1 289.7h0M293.0 240.4h0M332.3 153.1h0M389.0 134.8h0M282.5 184.3h0M366.0 129.5h0M356.1 200.3h0M362.7 143.9h0M379.7 185.2h0M352.5 142.2h0M184.8 365.8h0M311.6 193.8h0M253.0 305.4h0M204.2 343.6h0M380.1 129.1h0M345.7 206.3h0M332.4 212.4h0M406.1 104.4h0M236.5 273.0h0M177.8 360.7h0M185.7 327.2h0M350.3 159.0h0M322.5 209.2h0M200.7 315.3h0M177.9 340.8h0M320.9 198.5h0M274.3 231.4h0M197.2 290.6h0M280.9 248.5h0M332.9 152.8h0M196.1 313.6h0M302.2 238.3h0M421.1 109.8h0M153.3 357.6h0M415.8 97.7h0M170.7 305.3h0M298.4 234.9h0M383.9 151.9h0M224.6 338.8h0M393.1 159.1h0M251.2 297.3h0M278.2 233.1h0M357.1 188.4h0M380.4 134.3h0M199.4 344.3h0M186.8 352.2h0M301.6 196.0h0M211.0 298.1h0M209.5 325.3h0M280.9 212.5h0M410.1 138.6h0M382.4 141.4h0M419.7 130.9h0M325.4 178.9h0M285.1 228.1h0M210.5 326.6h0M366.0 171.4h0M392.9 128.9h0M305.2 244.0h0M295.2 274.6h0M349.1 147.8h0M149.6 352.0h0M379.0 126.4h0M330.6 180.2h0M220.8 303.2h0M396.7 136.1h0M192.2 356.1h0M415.3 102.9h0M259.0 272.6h0M264.6 247.8h0M258.5 268.6h0M169.2 358.0h0M287.1 216.8h0M225.1 298.9h0M321.0 140.3h0M165.7 332.2h0M173.9 360.5h0M284.9 239.8h0M385.7 116.5h0M179.5 287.8h0M178.1 377.0h0M336.6 193.4h0M417.3 106.0h0M363.7 169.5h0M400.9 123.2h0M334.7 168.8h0M325.4 231.9h0M389.1 152.6h0M316.8 205.1h0M348.8 192.0h0M356.7 184.0h0M355.4 204.8h0M423.4 141.1h0M328.4 202.7h0M220.1 264.5h0M204.6 278.8h0M346.0 122.0h0M395.0 114.7h0M195.3 338.0h0M442.1 149.9h0M286.8 231.5h0M211.8 332.0h0M380.5 157.7h0M430.1 120.4h0M256.1 303.9h0M414.9 101.0h0M325.9 216.1h0M336.7 197.1h0M273.2 243.3h0M302.9 196.0h0M278.1 280.0h0M189.0 289.4h0M387.9 142.1h0M309.3 228.4h0M322.9 195.6h0M208.9 363.7h0M399.7 139.0h0M294.3 232.2h0M275.9 263.3h0M259.2 288.7h0M399.4 120.7h0M228.8 298.2h0M406.2 132.5h0M236.2 308.5h0M214.8 319.2h0M311.4 235.2h0M375.6 127.1h0M398.1 118.7h0M213.4 344.3h0M354.8 184.1h0M361.8 195.8h0M221.8 293.0h0M406.6 113.4h0M165.6 366.6h0M350.6 177.0h0M333.3 184.9h0M257.1 267.4h0M403.1 103.0h0M176.0 354.3h0M211.8 290.5h0M292.5 189.7h0M357.6 200.8h0M333.2 215.3h0M446.0 130.1h0M266.3 276.5h0M387.7 142.6h0M298.6 220.8h0M372.2 197.5h0M312.7 217.6h0M249.0 289.2h0M207.3 292.8h0M279.1 276.8h0M157.2 366.7h0M349.2 144.6h0M272.2 243.2h0M186.0 333.8h0M193.7 363.7h0M431.6 113.0h0M283.4 289.9h0M277.6 211.0h0M369.8 155.9h0M366.5 152.0h0M343.7 158.4h0M155.5 341.8h0M338.1 198.1h0M357.8 158.1h0M195.2 357.2h0M213.4 277.7h0M358.5 189.3h0M299.6 261.9h0M305.4 237.5h0M403.0 178.1h0M269.4 287.7h0M197.0 338.1h0M380.6 160.3h0M170.4 362.1h0M385.4 152.6h0M284.6 271.2h0M156.4 355.5h0M384.8 179.0h0M277.2 275.6h0M278.2 268.9h0M155.9 365.0h0M414.0 113.1h0M401.4 158.2h0M262.5 281.2h0M181.6 320.4h0M393.4 110.2h0M290.3 241.1h0M385.9 162.2h0M184.0 338.6h0M308.5 179.5h0M263.2 281.9h0M231.0 288.4h0M393.9 158.6h0M188.5 343.1h0M274.4 233.9h0M323.0 198.5h0M201.5 349.2h0M421.5 113.4h0M391.3 146.5h0M419.7 101.7h0M405.7 146.8h0M350.6 182.2h0M259.0 241.3h0M248.3 249.7h0M177.1 344.7h0M192.8 303.2h0M180.0 337.7h0M208.8 302.9h0M176.0 304.4h0M301.3 249.4h0M267.1 240.6h0M187.9 378.3h0M397.2 147.8h0M174.2 354.6h0M284.9 242.4h0M395.7 129.8h0M314.3 173.1h0M426.1 114.4h0M315.8 210.4h0M317.3 225.1h0M433.9 131.7h0M336.3 203.2h0M398.1 128.8h0M185.2 358.2h0M259.0 289.7h0M271.3 276.6h0M229.9 325.5h0M328.0 214.4h0M418.0 140.4h0M322.5 203.1h0M336.8 239.4h0M350.3 187.4h0M370.7 149.8h0M374.4 164.0h0M287.4 282.1h0M306.5 231.0h0M288.8 280.4h0M179.2 343.1h0M339.8 151.0h0M220.5 301.4h0M377.5 177.5h0M253.0 262.7h0M208.8 287.6h0M284.7 273.7h0M263.4 246.6h0M220.3 321.1h0M363.2 157.1h0M271.6 240.7h0M363.5 219.1h0M304.0 262.1h0M219.4 247.7h0M300.2 189.9h0M389.8 112.4h0M224.6 293.4h0M350.5 172.0h0M156.2 363.3h0M393.4 142.7h0M345.7 185.5h0M276.9 239.1h0M214.2 301.0h0M363.8 170.3h0M224.6 317.1h0M218.6 269.9h0M221.8 315.5h0M176.0 368.3h0M261.6 265.2h0M297.9 244.4h0M333.0 239.9h0M417.9 136.0h0M332.3 239.8h0M267.8 233.9h0M172.5 363.6h0M192.3 355.3h0M340.8 158.4h0M367.4 201.0h0M346.2 161.6h0M254.6 307.6h0M399.9 142.1h0M166.2 373.5h0M386.5 129.4h0M322.4 227.7h0M372.5 167.1h0M260.2 297.5h0M275.2 233.0h0M193.5 333.8h0M200.4 364.0h0M203.2 351.9h0M260.0 285.2h0M356.5 183.1h0M309.6 227.9h0M193.7 331.7h0M287.8 246.2h0M389.5 120.8h0M194.3 358.5h0M381.9 142.7h0M306.7 192.7h0M329.2 185.5h0M394.8 123.5h0M248.0 290.7h0M294.9 264.2h0M371.4 201.1h0M428.2 132.0h0M368.8 208.6h0M362.4 137.7h0M230.8 331.3h0M156.7 366.2h0M370.9 155.9h0M391.6 162.4h0M329.3 168.0h0M316.9 251.6h0M297.2 218.7h0M262.0 230.9h0M176.9 365.8h0M410.1 114.6h0M270.0 234.4h0M196.8 353.8h0M231.6 327.0h0M431.6 123.5h0M311.6 220.6h0M323.8 232.9h0M234.8 250.6h0M266.8 264.2h0M361.2 114.4h0M325.9 203.8h0M197.8 275.7h0M292.9 204.7h0M312.5 224.6h0M160.4 369.8h0M356.5 225.5h0M253.2 269.7h0M432.1 140.0h0M222.5 286.6h0M255.2 254.7h0M374.8 175.3h0M392.9 118.7h0M411.4 142.0h0M181.7 367.8h0M429.5 135.0h0M194.9 352.1h0M342.9 206.1h0M190.1 326.5h0M348.7 161.4h0M276.7 263.4h0M347.0 158.8h0M330.0 170.0h0M182.3 388.7h0M207.2 334.5h0M205.5 332.5h0M313.7 174.4h0M239.0 272.4h0M416.8 108.8h0M416.6 125.4h0M284.2 233.5h0M338.6 120.5h0M343.8 190.1h0M239.9 319.1h0M193.0 312.1h0M344.2 225.0h0M270.4 269.5h0M354.5 153.3h0M339.8 214.1h0M407.1 126.8h0M201.4 361.9h0M231.6 255.2h0M377.5 154.6h0M224.5 291.9h0M195.6 349.6h0M226.9 252.9h0M179.6 314.0h0M325.6 202.7h0M168.8 351.4h0M222.3 353.8h0M214.6 309.5h0M364.2 106.0h0M267.9 276.4h0M356.5 181.2h0M326.5 213.6h0M213.5 305.3h0M180.8 345.5h0M207.5 364.2h0M375.1 139.2h0M257.9 284.5h0M296.9 235.3h0M227.3 315.1h0M166.7 375.1h0M309.5 216.9h0M322.1 239.1h0M185.6 350.6h0M369.0 135.8h0M330.0 210.3h0M254.1 284.2h0M342.0 193.9h0M383.4 146.0h0M193.7 348.5h0M156.0 345.4h0M416.1 109.4h0M362.0 167.2h0M396.4 126.8h0M345.2 167.4h0M175.6 327.0h0M419.0 113.6h0M392.2 135.3h0M192.7 330.5h0M341.5 203.4h0M339.5 206.3h0M166.1 367.6h0M260.4 260.0h0M272.7 259.6h0M215.8 373.3h0M238.5 324.2h0M228.8 298.5h0M194.5 347.5h0M178.9 352.7h0M275.4 269.1h0M223.4 279.9h0M171.5 350.4h0M169.1 345.7h0M418.3 134.2h0M315.2 188.7h0M208.2 340.8h0M288.5 195.8h0M217.8 324.2h0M236.3 299.0h0M274.1 306.1h0M200.9 324.1h0M334.3 218.7h0M317.1 230.0h0M280.7 228.9h0M228.1 244.0h0M238.9 307.1h0M274.7 289.8h0M368.5 215.8h0M244.4 304.0h0M294.8 226.9h0M293.1 274.4h0M412.5 137.3h0M402.9 103.9h0M299.2 169.1h0M158.6 349.1h0M406.8 145.0h0M261.4 290.6h0M394.5 198.7h0M295.5 244.6h0M236.7 302.2h0M230.6 288.6h0M157.0 361.8h0M283.6 232.5h0M251.3 257.9h0M189.2 316.1h0M390.0 147.5h0M327.5 220.5h0M371.1 176.6h0M337.3 141.7h0M349.6 184.0h0M364.7 187.1h0M435.6 125.5h0M288.4 252.3h0M399.7 130.8h0M277.8 256.0h0M361.0 168.1h0M216.9 269.8h0M390.8 154.9h0M243.4 284.6h0M217.3 277.2h0M250.2 316.0h0M294.8 263.3h0M211.4 289.8h0M213.1 346.7h0M245.2 274.0h0M306.2 248.0h0M388.7 108.9h0M294.7 191.0h0M312.5 234.8h0M375.5 177.9h0M260.0 269.4h0M191.9 362.5h0M207.3 354.6h0M398.6 148.9h0M202.9 335.0h0M160.4 335.4h0M172.4 339.7h0M257.3 243.8h0M310.2 196.8h0M189.0 348.1h0M227.6 332.7h0M315.4 197.8h0M336.0 215.8h0M153.1 352.4h0M325.1 213.0h0M325.8 222.7h0M334.7 168.1h0M273.8 247.6h0M267.5 248.5h0M340.0 202.5h0M352.9 168.9h0M304.8 262.9h0M226.6 291.6h0M413.2 146.9h0M308.6 214.7h0M353.6 167.7h0M300.8 203.0h0M419.5 103.0h0M224.8 331.2h0M323.1 214.1h0M177.4 333.2h0M304.2 205.6h0M256.2 288.6h0M321.2 181.5h0M214.5 277.1h0M319.5 228.1h0M360.2 156.9h0M206.0 310.4h0M363.4 169.2h0M161.9 362.4h0M396.2 106.9h0M293.5 223.9h0M418.1 108.2h0M287.8 244.4h0M236.0 302.9h0M295.7 261.7h0M256.1 313.2h0M271.4 265.2h0M398.2 152.4h0M237.7 336.6h0M177.8 323.9h0M168.8 365.8h0M334.7 171.8h0M192.3 301.8h0M208.6 281.1h0M356.3 174.8h0M190.1 385.9h0M376.5 142.7h0M267.2 264.4h0M409.5 177.5h0M239.1 262.3h0M348.6 154.7h0M302.9 195.0h0M228.6 262.6h0M342.5 120.2h0M256.4 259.4h0M181.2 339.3h0M251.2 251.4h0M206.7 308.3h0M296.8 228.4h0M297.7 215.9h0M349.6 191.6h0M414.2 129.8h0M299.4 180.9h0M152.1 329.0h0M181.8 313.9h0M357.8 190.1h0M190.0 348.3h0M358.7 117.8h0M195.7 319.9h0M362.7 169.4h0M241.6 240.0h0M321.9 204.8h0M202.5 325.8h0M328.4 199.6h0M298.3 247.3h0M316.0 155.8h0M253.7 319.9h0M268.4 258.8h0M350.6 160.0h0M338.5 150.5h0M347.9 164.5h0M196.6 359.6h0M415.6 100.4h0M274.3 233.2h0M260.6 265.3h0M267.4 276.3h0M344.7 214.3h0M383.2 153.1h0M167.1 358.0h0M321.9 138.1h0M311.1 204.5h0M255.5 268.6h0M266.0 308.1h0M182.7 370.7h0M407.2 133.3h0M285.0 247.3h0M361.8 170.0h0M165.5 340.4h0M302.3 188.5h0M201.3 293.7h0M384.5 159.8h0M365.6 174.0h0M402.6 167.3h0M235.4 333.0h0M362.2 199.0h0M209.0 309.1h0M411.9 132.5h0M243.6 268.3h0M221.8 314.4h0M312.4 228.7h0M337.8 189.6h0M366.0 160.3h0M326.7 219.0h0M230.7 289.9h0M349.8 212.8h0M246.7 292.7h0M248.3 241.4h0M187.2 325.9h0M369.2 119.3h0M325.0 225.1h0M227.8 297.2h0M385.8 168.6h0M420.2 120.5h0M334.2 228.4h0M331.9 156.1h0M399.8 137.3h0M205.0 326.4h0M388.2 172.3h0M198.7 341.2h0M303.7 183.4h0M398.2 100.1h0M275.5 253.2h0M364.8 185.5h0M227.9 308.8h0M201.4 325.9h0M193.8 283.5h0M167.8 357.8h0M238.6 296.7h0M381.3 155.9h0M195.4 359.2h0M340.9 182.3h0M327.5 227.3h0M220.5 328.5h0M267.7 273.0h0M373.6 111.3h0M244.0 238.5h0M352.5 186.6h0M360.9 147.6h0M378.2 146.3h0M289.7 222.2h0M270.1 260.6h0M219.0 289.5h0M241.7 241.2h0M195.3 334.8h0M261.6 232.3h0M398.8 129.7h0M340.1 166.8h0M419.5 128.3h0M293.6 218.4h0M176.8 368.6h0M271.6 276.2h0M399.8 126.8h0M215.9 303.1h0M410.6 98.8h0M303.5 209.8h0M258.1 277.6h0M238.7 321.9h0M198.2 354.9h0M395.3 176.4h0M263.7 253.5h0M302.5 227.4h0M238.5 286.4h0M164.1 355.4h0M344.5 134.5h0M289.8 247.3h0M316.4 204.7h0M407.0 112.2h0M232.8 275.2h0M221.0 313.3h0M175.3 318.7h0M409.3 130.7h0M189.7 337.2h0M417.9 145.5h0M398.8 126.2h0M250.5 282.2h0M348.2 189.5h0M352.1 194.0h0M175.9 341.0h0M376.2 134.3h0M165.2 374.4h0M360.5 152.2h0M171.8 343.6h0M381.9 158.8h0M304.8 240.2h0M165.8 363.3h0M262.9 281.1h0M384.5 142.8h0M354.3 191.5h0M373.0 152.9h0M235.0 263.5h0M419.0 108.2h0M256.5 259.5h0M280.5 226.3h0M296.8 211.1h0M332.8 170.5h0M379.7 188.0h0M259.3 299.2h0M188.6 300.9h0M393.1 152.4h0M229.8 302.8h0M213.7 286.6h0M177.6 369.3h0M186.8 382.9h0M203.6 348.0h0M235.5 271.5h0M185.5 317.2h0M369.4 144.6h0M242.5 224.9h0M415.7 94.4h0M196.0 374.6h0M428.0 106.5h0M410.9 157.4h0M253.4 250.5h0M416.0 155.0h0M424.5 104.7h0M213.4 344.3h0M283.1 230.7h0M148.2 342.1h0M205.3 322.5h0M173.0 370.6h0M358.6 191.4h0M373.2 153.5h0M282.2 207.3h0M199.7 342.3h0M364.8 182.8h0M406.8 153.6h0M341.4 228.9h0M187.9 370.2h0M189.2 345.5h0M348.9 166.0h0M359.7 165.7h0M248.4 297.0h0M288.0 232.8h0M333.0 214.8h0M411.7 101.5h0M400.1 159.1h0M403.6 163.7h0M359.0 168.5h0M347.9 198.3h0M273.5 220.2h0M426.8 113.0h0M189.3 332.1h0M341.3 180.3h0M310.2 189.1h0M154.8 350.1h0M406.8 150.7h0M334.2 245.4h0M394.1 152.9h0M354.2 160.6h0M181.8 326.6h0M275.4 270.9h0M384.7 108.2h0M415.1 116.6h0M274.4 217.9h0M213.6 318.1h0M323.9 240.5h0M337.2 205.2h0M380.2 129.8h0M341.0 161.7h0M171.4 355.3h0M237.6 234.0h0M363.2 218.1h0M349.3 235.5h0M369.1 225.2h0M264.2 323.0h0M211.1 322.8h0M330.4 207.1h0M339.4 188.2h0M294.0 281.4h0M303.8 200.7h0M280.1 304.2h0M202.1 372.7h0M279.6 286.7h0M268.8 268.1h0M429.0 161.9h0M276.2 256.6h0M373.9 136.3h0M358.9 211.1h0M378.7 115.7h0M390.9 162.1h0M227.4 299.7h0M167.9 337.3h0M375.8 200.6h0M277.1 224.4h0M237.1 277.7h0M198.5 311.5h0M375.1 140.8h0M259.4 235.3h0M396.8 182.7h0M424.9 160.4h0M320.4 266.7h0M286.2 252.1h0M208.1 313.0h0M351.1 151.8h0M171.1 320.3h0M215.7 324.0h0M234.7 267.4h0M171.8 330.1h0M288.7 269.1h0M378.5 178.5h0M308.6 251.9h0M392.7 133.9h0M280.9 284.0h0M199.5 319.0h0M203.8 342.7h0M274.3 252.1h0M194.8 313.9h0M195.2 348.5h0M398.9 182.7h0M255.9 233.1h0M171.7 354.6h0M261.2 248.0h0M243.6 255.5h0M308.9 209.5h0M356.3 201.5h0M183.1 317.8h0M364.2 134.4h0M351.2 140.2h0M304.1 280.5h0M294.8 266.2h0M186.0 351.7h0M347.8 142.0h0M339.9 188.0h0M234.6 258.5h0M232.2 295.7h0M177.9 386.0h0M224.6 293.2h0M184.1 330.0h0M211.5 365.2h0M411.6 139.9h0M269.5 321.0h0M241.7 265.0h0M350.4 146.1h0M224.9 342.7h0M166.6 328.2h0M373.7 155.6h0M257.8 242.4h0M249.6 281.6h0M346.3 240.1h0M346.0 213.8h0M268.2 272.2h0M225.3 313.0h0M286.8 255.0h0M297.1 275.6h0M281.7 277.2h0M197.6 377.0h0M208.7 294.7h0M222.6 331.7h0M269.4 311.9h0M170.7 345.1h0M232.5 265.9h0M192.3 335.5h0M302.1 259.0h0M337.8 216.3h0M172.2 361.0h0M284.1 310.5h0M244.8 274.6h0M330.6 251.2h0M196.9 348.4h0M278.4 314.1h0M364.0 224.0h0M371.1 138.3h0M394.6 143.5h0M197.8 392.0h0M405.1 176.6h0M260.4 251.6h0M272.7 220.1h0M393.1 160.8h0M184.6 338.8h0M237.2 315.0h0M329.8 181.2h0M381.2 198.1h0M386.3 195.0h0M375.3 130.6h0M273.8 222.7h0M222.7 364.8h0M292.0 203.8h0M241.2 262.6h0M191.0 368.2h0M149.9 347.3h0M271.8 312.0h0M164.2 361.3h0M417.6 161.7h0M297.0 261.4h0M243.9 282.8h0M399.0 135.1h0M347.1 151.1h0M373.6 131.8h0M291.0 267.3h0M233.3 298.3h0M388.7 171.8h0M249.8 297.7h0M312.0 205.0h0M298.5 220.5h0M346.8 172.5h0M267.9 314.3h0M277.6 298.3h0M334.3 243.6h0M250.6 343.8h0M206.6 381.7h0M376.0 140.6h0M291.7 245.5h0M285.9 214.2h0M307.2 258.6h0M334.1 217.0h0M238.2 256.5h0M340.0 204.2h0M274.9 239.2h0M203.3 343.4h0M371.8 180.1h0M242.1 343.9h0M329.9 183.7h0M164.5 358.2h0M308.7 256.8h0M264.3 331.1h0M274.7 253.3h0M260.1 261.8h0M282.8 283.2h0M383.0 127.0h0M275.5 309.4h0M384.5 206.0h0M408.4 182.0h0M312.2 248.4h0M250.2 339.0h0M348.2 198.0h0M244.2 265.8h0M350.2 199.6h0M342.1 185.9h0M354.5 144.3h0M371.8 172.5h0M163.1 372.4h0M229.2 275.5h0M235.2 324.5h0M185.7 341.1h0M257.1 321.7h0M175.7 314.8h0M185.2 383.3h0M251.2 237.6h0M206.4 324.1h0M277.5 213.0h0M359.0 136.3h0M267.0 286.9h0M389.1 151.9h0M276.9 279.1h0M243.0 338.7h0M189.7 387.3h0M201.1 378.8h0M284.3 302.1h0M335.4 209.5h0M283.7 251.7h0M171.1 350.0h0M284.3 236.6h0M389.6 131.9h0M363.3 162.1h0M333.5 191.6h0M261.4 316.0h0M382.7 161.9h0M374.7 213.5h0M321.0 212.6h0M317.9 206.9h0M388.0 201.6h0M291.1 234.0h0M275.2 312.0h0M365.8 180.5h0M186.1 334.5h0M317.8 245.0h0M363.1 158.7h0M359.5 188.4h0M248.5 256.0h0M332.5 234.4h0M197.7 368.0h0M267.0 301.7h0M318.3 198.7h0M302.6 283.4h0M205.7 385.4h0M355.8 155.0h0M302.4 265.1h0M296.1 204.4h0M199.7 326.7h0M201.2 321.0h0M188.6 366.3h0M158.9 336.3h0M288.7 230.0h0M409.6 172.5h0M395.5 135.5h0M400.7 146.9h0M208.9 329.9h0M183.4 382.4h0M169.3 377.5h0M358.2 180.0h0M310.9 189.3h0M372.6 184.4h0M342.7 152.1h0M272.5 254.2h0M381.5 153.3h0M388.4 154.6h0M267.7 276.5h0M332.4 179.8h0M263.6 275.3h0M166.3 370.2h0M208.6 311.7h0M235.1 294.5h0M264.3 323.1h0M269.1 253.5h0M294.3 252.0h0M365.3 146.8h0M311.5 232.7h0M228.8 365.9h0M223.1 288.2h0M287.7 241.5h0M315.7 179.1h0M344.4 179.5h0M322.5 229.6h0M278.9 255.1h0M210.6 350.9h0M251.0 245.7h0M325.0 169.5h0M354.6 211.1h0M247.7 315.3h0M257.2 239.4h0M232.5 312.6h0M280.2 293.2h0M388.1 114.9h0M308.0 183.1h0M324.5 263.5h0M262.8 317.6h0M159.7 348.7h0M305.6 197.9h0M375.2 158.8h0M399.2 121.9h0M178.9 336.2h0M215.1 359.6h0M292.0 292.9h0M391.3 204.4h0M201.0 292.3h0M373.9 171.9h0M282.2 245.0h0M293.4 295.2h0M341.0 234.8h0M177.3 365.4h0M311.3 204.2h0M409.8 178.2h0M271.2 245.3h0M233.9 302.8h0M336.0 236.8h0M163.2 357.5h0M188.3 311.3h0M366.1 205.3h0M332.1 192.1h0M330.6 165.5h0M279.6 236.2h0M267.7 251.3h0M377.0 161.4h0M282.5 235.3h0M337.8 176.6h0M265.0 258.7h0M371.4 191.6h0M231.6 290.5h0M349.7 180.5h0M233.0 320.3h0M181.6 370.6h0M204.7 326.0h0M214.8 343.0h0M224.3 287.7h0M237.6 267.3h0M410.0 159.5h0M289.6 246.0h0M375.0 192.1h0M241.6 339.4h0M294.7 275.4h0M181.0 327.0h0M407.1 133.0h0M181.1 333.0h0M378.0 113.5h0M175.8 367.2h0M413.2 171.2h0M335.5 155.0h0M285.7 244.7h0M144.3 346.8h0M325.9 231.1h0M377.4 211.5h0M380.8 140.8h0M407.7 161.8h0M355.2 153.9h0M397.2 153.6h0M311.2 225.9h0M284.8 203.9h0M177.6 319.2h0M235.1 256.5h0M318.8 249.8h0M334.3 238.3h0M242.6 326.0h0M308.0 235.0h0M272.3 229.3h0M258.6 274.5h0M150.3 342.4h0M335.5 226.0h0M350.8 193.1h0M223.3 343.3h0M190.0 302.1h0M311.6 178.4h0M362.5 209.5h0M386.0 204.1h0M225.6 320.2h0M291.5 286.2h0M183.5 355.5h0M207.2 316.1h0M220.5 373.2h0M388.7 199.4h0M234.5 351.4h0M173.8 343.2h0M197.1 364.6h0M211.2 385.0h0M392.2 133.8h0M323.5 244.4h0M243.5 302.1h0M234.3 276.2h0M229.5 265.2h0M190.5 328.6h0M193.5 400.3h0M185.2 390.1h0M400.9 191.1h0M197.9 386.3h0M293.6 257.7h0M221.7 291.1h0M276.4 235.4h0M254.5 246.6h0M252.9 302.6h0M219.2 356.0h0M254.1 258.9h0M366.9 209.3h0M270.9 284.9h0M291.2 254.1h0M308.8 275.0h0M238.2 269.1h0M370.8 213.1h0M272.4 259.6h0M241.5 270.0h0M197.8 336.3h0M354.7 212.3h0M352.7 162.3h0M372.6 163.3h0M194.8 334.7h0M217.2 364.2h0M177.1 345.6h0M220.3 296.6h0M367.4 163.0h0M227.4 327.7h0M214.0 370.2h0M286.3 223.8h0M240.2 340.9h0M239.3 315.5h0M355.1 197.5h0M393.6 116.8h0M240.0 338.5h0M221.9 284.8h0M374.5 191.5h0M192.8 326.3h0M294.4 231.3h0M302.8 262.4h0M256.8 314.8h0M281.9 225.1h0M187.3 310.1h0M226.9 268.4h0M398.5 118.1h0M265.8 278.5h0M374.7 124.3h0M356.6 194.4h0M400.5 129.1h0M181.3 341.1h0M302.8 223.7h0M350.7 215.1h0M365.6 204.4h0M303.5 270.7h0M378.6 186.2h0M433.1 155.9h0M284.4 206.3h0M186.0 320.1h0M207.9 348.9h0M196.2 366.0h0M411.6 183.5h0M222.3 345.3h0M305.7 263.6h0M328.0 184.0h0M279.0 304.5h0M375.1 118.6h0M292.2 226.9h0M346.3 238.5h0M231.0 263.1h0M173.9 323.2h0M201.0 324.3h0M198.7 370.1h0M184.3 389.2h0M265.0 244.5h0M146.3 343.8h0M384.9 183.5h0M369.6 172.6h0M355.4 183.8h0M249.8 287.3h0M277.4 238.6h0M200.6 318.4h0M234.0 341.3h0M193.2 354.6h0M387.5 161.1h0M262.9 306.4h0M226.9 313.6h0M391.5 134.9h0M358.7 132.8h0M354.7 195.4h0M216.5 335.4h0M263.2 248.8h0M365.7 157.2h0M201.1 393.2h0M418.1 140.0h0M384.2 135.4h0M340.9 154.8h0M365.1 138.7h0M287.2 252.6h0M282.1 302.3h0M363.0 177.4h0M216.4 316.3h0M170.0 349.0h0M217.8 347.3h0M197.8 313.0h0M394.4 160.7h0M296.0 255.4h0M311.9 245.9h0M151.7 353.3h0M246.1 344.5h0M190.2 375.5h0M346.7 165.0h0M329.5 229.9h0M352.6 215.8h0M262.6 271.1h0M266.7 224.9h0M318.4 203.1h0M203.0 333.8h0M291.6 203.0h0M269.6 323.6h0M164.5 341.4h0M405.6 159.3h0M248.5 249.5h0M413.6 176.1h0M284.3 214.4h0M351.2 234.6h0M343.4 225.0h0M423.8 157.8h0M269.2 240.1h0M423.4 163.2h0M305.1 214.9h0M335.6 168.1h0M289.9 306.0h0M145.1 348.8h0M403.7 146.9h0M327.8 208.8h0M194.3 315.4h0M209.1 360.3h0M311.8 252.7h0M289.4 279.5h0M361.5 150.5h0M182.7 379.1h0M316.2 236.9h0M345.4 205.5h0M351.6 185.0h0M219.3 347.0h0M204.4 317.1h0M422.1 170.0h0M282.7 222.9h0M338.5 194.7h0M222.6 304.3h0M393.0 173.0h0M239.2 265.5h0M313.5 228.6h0M250.3 338.3h0M200.0 306.1h0M386.4 207.4h0M347.5 157.6h0M352.2 157.2h0M386.9 204.1h0M314.7 258.4h0M213.0 340.1h0M199.6 332.7h0M247.1 279.7h0M186.6 340.3h0M371.3 203.8h0M432.5 161.1h0M299.0 190.2h0M351.2 187.4h0M148.4 351.8h0M215.0 355.0h0M230.9 284.2h0M177.6 355.8h0M383.5 184.1h0M273.1 273.8h0M398.7 155.9h0M220.3 294.6h0M409.2 133.0h0M375.6 211.6h0M389.8 159.5h0M243.0 280.9h0M319.9 247.6h0M276.4 294.3h0M394.8 134.8h0M338.4 198.6h0M244.8 279.6h0M237.7 333.6h0M223.1 297.0h0M324.3 221.9h0M388.7 152.4h0M367.1 175.6h0M432.2 162.4h0M342.0 210.1h0M169.8 368.0h0M171.7 337.2h0M384.8 160.4h0M199.3 334.6h0M229.6 283.6h0M272.4 317.3h0M224.8 362.1h0M289.0 282.0h0M302.2 275.2h0M216.0 324.8h0M265.6 287.5h0M278.4 312.3h0M362.5 211.6h0M410.9 167.9h0M227.2 288.7h0M257.4 333.8h0M315.9 180.1h0M297.9 221.0h0M209.8 311.9h0M214.7 324.8h0M372.8 158.8h0M259.6 290.5h0M199.6 317.0h0M271.9 261.1h0M326.6 243.9h0M348.1 163.0h0M315.0 178.2h0M218.1 352.9h0M279.4 239.5h0M276.4 303.7h0M306.7 207.5h0M352.1 205.8h0M282.1 295.5h0M394.6 145.0h0M333.9 255.8h0M223.9 308.5h0M398.1 170.3h0M369.2 145.0h0M268.2 292.4h0M377.9 216.0h0M352.8 221.7h0M404.7 182.8h0M360.7 132.1h0M219.1 338.6h0M311.2 236.5h0M236.3 290.4h0M259.3 277.9h0M322.9 218.6h0M292.0 273.3h0M330.0 167.9h0M233.2 287.6h0M391.0 193.8h0M213.2 346.7h0M344.6 149.9h0M366.3 215.5h0M361.5 188.2h0M350.4 162.1h0M423.3 167.9h0M303.6 195.8h0M346.8 173.0h0M369.4 155.7h0M337.5 157.7h0M314.6 184.2h0M411.9 159.7h0M292.8 212.4h0M370.2 182.5h0M217.3 318.5h0M276.8 262.4h0M204.0 295.8h0M286.9 288.1h0M346.4 186.9h0M392.2 127.2h0M344.5 221.1h0M280.4 252.7h0M316.6 194.0h0M197.3 375.8h0M355.8 210.2h0M413.9 170.1h0M301.3 230.1h0M331.9 230.3h0M305.1 232.5h0M386.9 140.5h0M396.2 176.6h0M351.9 168.0h0M341.2 173.8h0M280.2 237.7h0M276.6 292.5h0M340.2 252.5h0M197.1 399.0h0M335.2 254.5h0M270.3 280.0h0M321.9 240.1h0M199.6 336.6h0M357.1 161.6h0M198.7 351.1h0M278.8 309.9h0M263.3 277.5h0M335.8 243.9h0M187.1 319.0h0M308.8 250.8h0M185.5 391.0h0M382.0 153.2h0M373.9 128.4h0M294.1 230.0h0M319.3 221.3h0M285.3 234.4h0M330.2 167.2h0M276.4 300.7h0M229.8 360.9h0M211.7 374.7h0M309.5 244.3h0M191.7 382.1h0M283.1 213.2h0M288.3 305.6h0M345.6 247.5h0M402.2 130.1h0M405.4 139.8h0M170.5 322.8h0M248.0 330.6h0M232.8 266.3h0M390.1 163.5h0M277.6 233.5h0M363.2 202.6h0M296.0 272.5h0M316.2 247.4h0M271.4 267.8h0M260.3 302.3h0M208.6 303.8h0M283.8 260.5h0M315.6 236.8h0M248.3 341.0h0M245.7 259.2h0M333.9 183.8h0M291.0 275.4h0M372.6 151.6h0M385.4 205.5h0M375.9 158.5h0M206.9 302.0h0M360.6 220.3h0M400.1 159.4h0" stroke="#000" stroke-width="2.6" stroke-linecap="round" fill="none"/>
<path d="M243.5 223.0h0M189.8 226.3h0M194.9 256.8h0M160.9 240.8h0M315.2 89.9h0M330.7 71.0h0M167.8 281.5h0M330.3 77.6h0M306.3 125.2h0M293.6 164.1h0M161.0 138.1h0M368.6 75.6h0M242.6 211.5h0M353.7 86.6h0M271.6 133.7h0M247.0 153.4h0M313.7 118.4h0M371.5 72.9h0M349.9 98.0h0M194.1 258.6h0M312.6 129.3h0M251.6 178.1h0M331.7 108.0h0M184.4 224.6h0M109.7 278.2h0M239.3 180.5h0M249.8 207.1h0M283.8 154.8h0M255.7 208.9h0M315.8 128.8h0M369.1 72.2h0M230.5 224.6h0M366.5 86.3h0M217.7 219.8h0M213.0 235.9h0M255.0 201.8h0M247.9 172.7h0M175.8 173.6h0M299.5 68.7h0M153.8 244.4h0M174.3 259.9h0M149.4 299.7h0M289.8 121.1h0M335.6 116.7h0M357.6 101.9h0M245.4 154.6h0M200.8 241.6h0M140.8 293.3h0M321.5 137.6h0M177.9 265.6h0M144.2 259.0h0M282.6 136.8h0M189.4 253.0h0M255.1 180.6h0M226.5 185.3h0M263.1 146.4h0M233.0 194.2h0M297.9 139.8h0M140.2 161.5h0M240.4 84.9h0M213.4 240.9h0M212.0 168.2h0M190.4 231.6h0M210.3 221.8h0M173.3 217.7h0M267.2 129.0h0M182.0 275.2h0M144.2 271.9h0M123.2 229.8h0M331.4 110.5h0M245.8 216.3h0M328.6 123.6h0M216.0 216.8h0M339.1 106.0h0M333.2 79.4h0M226.9 216.5h0M118.8 309.1h0M336.6 110.4h0M259.8 206.8h0M236.5 180.7h0M361.4 73.8h0M281.7 167.0h0M286.1 122.3h0M273.3 167.9h0M289.8 100.0h0M178.3 245.2h0M254.7 185.8h0M164.2 234.6h0M324.5 108.4h0M224.1 143.9h0M228.7 221.6h0M232.5 179.6h0M187.0 257.8h0M119.5 284.9h0M314.3 129.1h0M267.2 170.9h0M353.0 106.0h0M284.3 109.8h0M235.9 141.9h0M224.2 234.3h0M228.4 231.2h0M243.4 195.4h0M231.2 222.8h0M114.7 316.7h0M188.1 237.7h0M256.9 191.1h0M212.6 254.8h0M148.2 306.9h0M274.4 103.1h0M269.5 174.4h0M318.6 128.9h0M312.1 109.0h0M270.8 141.7h0M250.6 97.9h0M256.8 197.3h0M317.3 144.7h0M176.7 250.1h0M319.9 104.6h0M324.1 90.4h0M121.9 332.0h0M147.7 306.0h0M157.6 282.1h0M344.5 122.3h0M323.9 101.6h0M300.0 125.1h0M250.5 132.7h0M236.1 144.0h0M346.2 113.3h0M212.2 209.8h0M369.7 86.1h0M242.8 133.6h0M152.3 218.4h0M292.1 103.8h0M316.8 102.1h0M366.0 73.9h0M182.4 266.6h0M246.3 204.4h0M203.0 222.2h0M299.9 88.1h0M171.0 271.8h0M312.7 92.5h0M309.8 134.0h0M199.6 249.8h0M171.4 247.0h0M179.3 268.5h0M296.3 140.9h0M117.6 322.1h0M218.3 198.0h0M313.0 105.5h0M214.5 231.0h0M268.7 167.4h0M230.6 216.6h0M216.5 231.2h0M102.0 294.7h0M154.2 271.1h0M325.6 108.2h0M146.9 220.5h0M162.8 291.6h0M326.9 82.2h0M283.9 182.3h0M223.7 191.7h0M174.9 216.1h0M361.9 69.1h0M236.3 156.2h0M273.2 71.7h0M235.4 211.1h0M312.2 114.5h0M230.6 155.8h0M346.7 118.2h0M273.6 143.3h0M336.5 92.1h0M246.8 200.8h0M295.7 169.3h0M237.3 167.3h0M162.7 279.1h0M237.0 172.5h0M144.1 258.5h0M210.6 209.5h0M186.9 250.6h0M196.7 224.5h0M384.0 70.4h0M271.6 156.8h0M212.2 126.0h0M179.3 275.6h0M284.3 133.2h0M334.1 115.5h0M264.4 174.0h0M247.3 114.0h0M173.0 274.0h0M190.8 267.7h0M297.4 152.7h0M334.4 95.6h0M190.8 406.6h0M398.4 314.8h0M345.4 279.2h0M252.8 381.2h0M335.7 263.6h0M211.2 399.5h0M252.9 345.1h0M442.6 169.5h0M313.1 309.0h0M288.8 344.5h0M385.4 211.1h0M356.6 241.9h0M432.5 229.5h0M479.3 174.3h0M418.9 272.8h0M277.5 401.4h0M456.8 218.7h0M395.1 205.5h0M479.8 196.3h0M340.9 275.6h0M356.8 298.3h0M357.5 259.7h0M428.7 215.3h0M309.0 287.3h0M408.3 211.2h0M258.9 387.8h0M366.2 234.2h0M381.6 236.3h0M363.7 234.2h0M403.0 195.6h0M303.6 311.9h0M477.7 163.5h0M320.6 286.4h0M365.4 323.0h0M390.5 324.5h0M346.9 257.9h0M452.2 241.1h0M279.7 390.7h0M355.2 305.3h0M466.6 178.7h0M283.1 321.8h0M415.5 203.8h0M360.4 236.5h0M400.0 227.8h0M385.1 218.4h0M247.6 351.7h0M437.7 192.2h0M355.6 372.4h0M333.7 361.5h0M234.8 389.9h0M364.2 255.8h0M354.5 247.6h0M385.1 229.5h0M353.9 304.8h0M292.5 324.0h0M304.2 319.8h0M273.9 343.7h0M272.7 372.6h0M364.5 298.6h0M326.6 362.3h0M420.7 217.9h0M413.4 219.0h0M355.4 267.5h0M267.1 329.2h0M308.4 312.0h0M258.1 409.3h0M446.9 166.7h0M396.8 200.9h0M357.6 319.3h0M187.4 411.6h0M333.7 284.7h0M414.8 356.0h0M375.7 222.3h0M377.8 333.3h0M208.7 390.5h0M349.4 260.4h0M275.7 354.1h0M294.5 324.6h0M226.6 369.7h0M433.1 212.2h0M376.3 219.6h0M344.2 289.5h0M202.3 408.2h0M250.8 362.7h0M390.9 239.9h0M411.9 187.3h0M436.0 172.1h0M409.2 228.4h0M440.1 241.9h0M341.4 278.3h0M357.2 354.7h0M271.6 328.1h0M344.4 253.0h0M390.9 230.7h0M348.5 319.6h0M405.0 216.5h0M331.6 331.2h0M255.1 389.0h0M271.8 330.7h0M435.2 311.4h0M250.2 373.2h0M454.8 377.2h0M421.0 179.4h0M305.9 308.4h0M444.6 228.2h0M317.4 284.8h0M229.7 370.4h0M450.8 266.4h0M343.7 256.4h0M287.3 342.7h0M434.8 288.9h0M493.6 172.9h0M250.2 362.6h0M383.9 245.5h0M256.8 364.3h0M450.0 207.7h0M414.5 181.9h0M248.7 351.9h0M267.5 329.8h0M387.5 212.5h0M417.8 181.2h0M265.0 354.3h0M234.4 367.3h0M313.6 319.7h0M405.4 202.9h0M277.0 350.3h0M352.9 251.3h0M224.7 379.2h0M262.1 342.7h0M331.6 269.0h0M383.5 233.3h0M192.2 410.0h0M432.2 217.8h0M389.7 272.4h0M399.8 197.8h0M407.6 265.5h0M383.3 221.1h0M448.0 171.8h0M442.9 288.5h0M251.6 394.2h0M307.7 302.1h0M367.5 247.1h0M368.0 253.6h0M228.4 368.7h0M443.5 199.8h0M458.3 215.2h0M299.1 301.3h0M446.8 152.2h0M382.0 216.7h0M378.7 225.5h0M301.8 410.9h0M402.6 303.4h0M244.1 378.6h0M297.2 302.9h0M308.6 297.4h0M406.7 225.1h0M436.5 166.3h0M357.5 273.2h0M344.7 258.1h0M290.6 306.1h0M476.1 222.0h0M217.9 386.0h0M405.3 193.7h0M223.5 394.4h0M224.5 387.5h0M413.9 198.3h0M310.6 316.8h0M249.7 351.8h0M399.5 261.9h0M258.2 342.9h0M260.3 343.6h0M367.0 237.8h0M320.2 290.0h0M229.2 397.8h0M382.0 236.1h0M308.8 319.4h0M325.0 319.6h0M374.9 252.0h0M245.9 373.9h0M274.6 322.9h0M309.2 408.8h0M466.0 145.0h0M370.2 320.5h0M261.8 355.0h0M459.1 160.2h0M266.9 334.4h0M292.8 320.9h0M379.9 231.9h0M370.1 316.0h0M437.2 184.5h0M295.8 324.1h0M304.2 334.7h0M256.0 383.2h0M335.1 382.5h0M335.9 294.9h0M318.2 334.9h0M355.8 248.7h0M327.6 284.5h0M332.8 271.0h0M340.0 285.4h0M290.6 360.6h0M231.7 404.9h0M301.3 370.6h0M295.7 313.3h0M453.6 175.0h0M352.1 259.7h0M324.2 287.4h0M359.5 292.8h0M330.0 289.4h0M376.3 236.9h0M253.7 352.4h0M421.4 379.5h0M400.1 201.7h0M441.1 226.4h0M253.7 343.8h0M289.9 316.0h0M400.3 380.1h0M383.4 239.8h0M279.3 401.6h0M464.7 211.4h0M282.1 347.1h0M460.1 193.6h0M384.4 284.2h0M296.7 321.5h0M279.6 334.7h0M309.6 306.6h0M272.8 331.5h0M239.2 398.7h0M378.9 228.2h0M356.5 313.6h0M344.6 287.3h0M425.9 282.6h0M349.9 319.9h0M345.8 257.1h0M393.3 255.8h0M357.7 268.6h0M331.3 356.3h0M305.8 407.2h0M421.4 283.8h0M394.7 218.4h0M328.6 275.6h0M382.5 247.9h0M278.0 339.7h0M298.4 311.9h0M251.9 346.2h0M276.6 320.5h0M317.7 342.8h0M310.3 314.5h0M252.3 370.4h0M242.5 372.4h0M214.0 397.0h0M354.1 271.0h0M460.6 228.9h0M229.3 385.0h0M254.1 379.0h0M267.7 332.7h0M353.8 243.8h0M335.5 296.7h0M209.4 403.2h0M315.5 280.6h0M302.1 329.6h0M381.4 222.7h0M330.6 306.7h0M464.9 219.6h0M238.9 376.0h0M305.5 347.7h0M245.2 351.1h0M382.5 230.0h0M247.3 356.6h0M348.9 253.1h0M285.7 369.3h0M382.1 236.6h0M240.7 359.9h0M228.9 373.8h0M257.4 349.2h0M276.9 381.1h0M428.3 178.8h0M427.6 176.9h0M445.0 162.5h0M407.8 204.4h0M340.3 293.7h0M345.2 253.0h0M262.1 341.3h0M284.9 349.2h0M325.2 344.8h0M245.1 357.4h0M240.4 364.3h0M244.6 362.9h0M410.0 197.9h0M262.8 339.5h0M315.0 286.2h0M413.6 203.3h0M397.6 198.6h0M305.7 321.6h0M449.6 224.1h0M225.6 375.8h0M425.7 170.9h0M301.8 335.0h0M291.3 324.7h0M284.8 327.7h0M364.2 246.0h0M354.3 299.4h0M368.0 233.3h0M234.9 386.6h0M498.4 171.7h0M300.1 356.1h0M255.9 384.9h0M436.0 230.4h0M343.6 321.4h0M208.7 391.1h0M230.6 412.2h0M364.3 254.2h0M415.4 328.7h0M307.9 310.6h0M220.6 390.3h0M336.9 346.1h0M280.0 322.4h0M226.5 382.5h0M411.8 212.0h0M463.4 137.7h0M276.2 323.1h0M423.8 190.7h0M272.4 325.9h0M277.6 329.8h0M250.9 348.0h0M305.7 332.4h0M364.0 248.3h0M428.2 173.6h0M488.0 171.5h0M262.8 396.7h0M265.6 350.0h0M269.6 331.4h0M265.6 334.0h0M479.2 297.3h0M328.4 399.9h0M405.7 198.0h0M472.1 154.6h0M262.0 350.3h0M304.0 378.9h0M481.1 388.5h0M364.3 240.7h0M385.7 219.8h0M415.5 278.2h0M392.1 244.2h0M458.9 182.7h0M382.2 218.6h0M488.0 162.7h0M421.4 193.5h0M380.6 256.1h0M275.3 337.7h0M137.4 60.5h0" stroke="#e4101c" stroke-width="4.2" stroke-linecap="round" fill="none"/>
<path d="M96.50 429.5v-8M96.50 19.5v8M96.5 429.50h8M505.5 429.50h-8M116.95 429.5v-4M116.95 19.5v4M96.5 409.00h4M505.5 409.00h-4M137.40 429.5v-4M137.40 19.5v4M96.5 388.50h4M505.5 388.50h-4M157.85 429.5v-4M157.85 19.5v4M96.5 368.00h4M505.5 368.00h-4M178.30 429.5v-8M178.30 19.5v8M96.5 347.50h8M505.5 347.50h-8M198.75 429.5v-4M198.75 19.5v4M96.5 327.00h4M505.5 327.00h-4M219.20 429.5v-4M219.20 19.5v4M96.5 306.50h4M505.5 306.50h-4M239.65 429.5v-4M239.65 19.5v4M96.5 286.00h4M505.5 286.00h-4M260.10 429.5v-8M260.10 19.5v8M96.5 265.50h8M505.5 265.50h-8M280.55 429.5v-4M280.55 19.5v4M96.5 245.00h4M505.5 245.00h-4M301.00 429.5v-4M301.00 19.5v4M96.5 224.50h4M505.5 224.50h-4M321.45 429.5v-4M321.45 19.5v4M96.5 204.00h4M505.5 204.00h-4M341.90 429.5v-8M341.90 19.5v8M96.5 183.50h8M505.5 183.50h-8M362.35 429.5v-4M362.35 19.5v4M96.5 163.00h4M505.5 163.00h-4M382.80 429.5v-4M382.80 19.5v4M96.5 142.50h4M505.5 142.50h-4M403.25 429.5v-4M403.25 19.5v4M96.5 122.00h4M505.5 122.00h-4M423.70 429.5v-8M423.70 19.5v8M96.5 101.50h8M505.5 101.50h-8M444.15 429.5v-4M444.15 19.5v4M96.5 81.00h4M505.5 81.00h-4M464.60 429.5v-4M464.60 19.5v4M96.5 60.50h4M505.5 60.50h-4M485.05 429.5v-4M485.05 19.5v4M96.5 40.00h4M505.5 40.00h-4M505.50 429.5v-8M505.50 19.5v8M96.5 19.50h8M505.5 19.50h-8" stroke="#111" stroke-width="1.4" fill="none"/>
<rect x="96.5" y="19.5" width="409.0" height="410.0" fill="none" stroke="#111" stroke-width="1.6"/>
<g font-family="Liberation Sans, sans-serif" font-size="18.5" fill="#111" stroke="#111"><text x="95.1" y="455" text-anchor="middle">0</text><text x="83.0" y="435.3" text-anchor="end">0</text><text x="176.9" y="455" text-anchor="middle">0.2</text><text x="87.5" y="354.1" text-anchor="end">0.2</text><text x="258.7" y="455" text-anchor="middle">0.4</text><text x="87.5" y="272.1" text-anchor="end">0.4</text><text x="340.5" y="455" text-anchor="middle">0.6</text><text x="87.5" y="190.1" text-anchor="end">0.6</text><text x="422.3" y="455" text-anchor="middle">0.8</text><text x="87.5" y="108.1" text-anchor="end">0.8</text><text x="503.2" y="455" text-anchor="middle">1</text><text x="83.3" y="26.9" text-anchor="end">1</text></g>
<text font-family="Liberation Sans, sans-serif" font-size="18.5" x="304" y="477.5" text-anchor="middle" fill="#111" stroke="#111">AVB CB-HPCs</text>
<text font-family="Liberation Sans, sans-serif" font-size="18.5" transform="translate(56,224.7) rotate(-90)" text-anchor="middle" fill="#111" stroke="#111">AVB mPB-HPCs</text>
<text font-family="Liberation Sans, sans-serif" font-size="22" x="102.5" y="45.8" fill="#d42028" stroke="#d42028">192</text>
<text font-family="Liberation Sans, sans-serif" font-size="22" x="458" y="417.6" fill="#d42028" stroke="#d42028">350</text>
<text font-family="Liberation Sans, sans-serif" font-size="25" font-weight="bold" x="39.8" y="26.9" fill="#000" stroke="#000">A</text>
<text font-family="Liberation Sans, sans-serif" font-size="25" font-weight="bold" x="3.4" y="524.2" fill="#000" stroke="#000">B</text>
<text font-family="Liberation Sans, sans-serif" font-size="18" x="113.0" y="523.3" text-anchor="middle" fill="#111" stroke="#111">KCNAB3</text><path d="M59.6 551.1H156.5" stroke="#666" stroke-width="1"/><path d="M63.3 546.2V556.3M66.5 546.2V556.3M68.6 546.2V556.3M76.5 546.2V556.3M81.3 546.2V556.3M83.9 546.2V556.3M86.0 546.2V556.3M87.6 546.2V556.3M89.7 546.2V556.3M101.4 546.2V556.3M106.1 546.2V556.3M108.3 546.2V556.3M108.6 546.2V556.3M114.9 546.2V556.3M119.6 546.2V556.3M121.2 546.2V556.3M129.2 546.2V556.3M140.8 546.2V556.3M143.4 546.2V556.3M144.5 546.2V556.3M147.7 546.2V556.3M149.3 546.2V556.3M154.6 546.2V556.3" stroke="#111" stroke-width="1"/><rect x="93.2" y="546.2" width="1.7999999999999972" height="10.1" fill="#111"/><rect x="96.2" y="546.2" width="3.3999999999999915" height="10.1" fill="#111"/><rect x="125.2" y="546.2" width="2.799999999999997" height="10.1" fill="#111"/><rect x="132.0" y="546.2" width="2.1999999999999886" height="10.1" fill="#111"/><rect x="135.2" y="546.2" width="1.8000000000000114" height="10.1" fill="#111"/><rect x="150.6" y="546.2" width="2.200000000000017" height="10.1" fill="#111"/><path d="M70.6 542.2H115.2" stroke="#999" stroke-width="1.5"/><path d="M83.8 558.8l5.2 8h-10.4z" fill="#000"/><path d="M155.2 540.3v-4.6h5.2" stroke="#111" stroke-width="1.2" fill="none"/><path d="M162.5 535.6999999999999l-2.6-1.8v3.6z" fill="#111"/><path d="M61 574.8H86" stroke="#111" stroke-width="1.8"/><text font-family="Liberation Sans, sans-serif" font-size="12" x="61.6" y="588.3" fill="#111" stroke="#111">200 bp</text>
<text font-family="Liberation Sans, sans-serif" font-size="18" x="223.6" y="523.3" text-anchor="middle" fill="#111" stroke="#111">SOCS1</text><path d="M174.5 551.1H274.4" stroke="#666" stroke-width="1"/><path d="M265.4 546.2V556.3M262.5 546.2V556.3" stroke="#111" stroke-width="1"/><rect x="175.5" y="546.2" width="7.300000000000011" height="10.1" fill="#111"/><rect x="185.6" y="546.2" width="6.200000000000017" height="10.1" fill="#111"/><rect x="193.0" y="546.2" width="2.5" height="10.1" fill="#111"/><rect x="196.5" y="546.2" width="2.0" height="10.1" fill="#111"/><rect x="199.5" y="546.2" width="2.0" height="10.1" fill="#111"/><rect x="203.5" y="546.2" width="2.0" height="10.1" fill="#111"/><rect x="206.5" y="546.2" width="2.3000000000000114" height="10.1" fill="#111"/><rect x="210.3" y="546.2" width="1.6999999999999886" height="10.1" fill="#111"/><rect x="213.3" y="546.2" width="1.299999999999983" height="10.1" fill="#111"/><rect x="216.2" y="546.2" width="4.100000000000023" height="10.1" fill="#111"/><rect x="222" y="546.2" width="6" height="10.1" fill="#111"/><rect x="228.9" y="546.2" width="2.6999999999999886" height="10.1" fill="#111"/><rect x="232.6" y="546.2" width="5.400000000000006" height="10.1" fill="#111"/><rect x="239.5" y="546.2" width="2.0" height="10.1" fill="#111"/><rect x="242.6" y="546.2" width="1.9000000000000057" height="10.1" fill="#111"/><rect x="245.8" y="546.2" width="1.799999999999983" height="10.1" fill="#111"/><rect x="250.5" y="546.2" width="3.3000000000000114" height="10.1" fill="#111"/><rect x="255.2" y="546.2" width="1.8000000000000114" height="10.1" fill="#111"/><rect x="258" y="546.2" width="1.8000000000000114" height="10.1" fill="#111"/><path d="M250 542.2H268.6" stroke="#999" stroke-width="1.5"/><path d="M253 558.8l5.2 8h-10.4z" fill="#000"/><path d="M176 540.3v-4.6h5.2" stroke="#111" stroke-width="1.2" fill="none"/><path d="M183.3 535.6999999999999l-2.6-1.8v3.6z" fill="#111"/><path d="M176 574.8H186.5" stroke="#111" stroke-width="1.8"/><text font-family="Liberation Sans, sans-serif" font-size="12" x="176.6" y="588.3" fill="#111" stroke="#111">200 bp</text>
<text font-family="Liberation Sans, sans-serif" font-size="18" x="335.0" y="523.3" text-anchor="middle" fill="#111" stroke="#111">ICAM2</text><path d="M289 551.1H387.5" stroke="#666" stroke-width="1"/><path d="M297.5 546.2V556.3M305.75 546.2V556.3M308.75 546.2V556.3M310.5 546.2V556.3M312.5 546.2V556.3M320 546.2V556.3M329 546.2V556.3M331 546.2V556.3M334.5 546.2V556.3M344 546.2V556.3M346 546.2V556.3M367 546.2V556.3M369.5 546.2V556.3M376 546.2V556.3M378 546.2V556.3M379.5 546.2V556.3" stroke="#111" stroke-width="1"/><path d="M360 542.2H381" stroke="#999" stroke-width="1.5"/><path d="M379 558.8l5.2 8h-10.4z" fill="#000"/><path d="M296.2 540.3v-4.6h5.2" stroke="#111" stroke-width="1.2" fill="none"/><path d="M303.5 535.6999999999999l-2.6-1.8v3.6z" fill="#111"/><path d="M290 574.8H306" stroke="#111" stroke-width="1.8"/><text font-family="Liberation Sans, sans-serif" font-size="12" x="290.6" y="588.3" fill="#111" stroke="#111">200 bp</text>
<text font-family="Liberation Sans, sans-serif" font-size="18" x="447.5" y="523.3" text-anchor="middle" fill="#111" stroke="#111">GBP1</text><path d="M399.5 551.1H499" stroke="#666" stroke-width="1"/><path d="M416.75 546.2V556.3M425.75 546.2V556.3M430.75 546.2V556.3M452 546.2V556.3M466 546.2V556.3M470 546.2V556.3M475.75 546.2V556.3" stroke="#111" stroke-width="1"/><path d="M449 542.2H479" stroke="#999" stroke-width="1.5"/><path d="M452.5 558.8l5.2 8h-10.4z" fill="#000"/><path d="M421.5 540.3v-4.6h5.2" stroke="#111" stroke-width="1.2" fill="none"/><path d="M428.8 535.6999999999999l-2.6-1.8v3.6z" fill="#111"/><path d="M400 574.8H416" stroke="#111" stroke-width="1.8"/><text font-family="Liberation Sans, sans-serif" font-size="12" x="400.6" y="588.3" fill="#111" stroke="#111">200 bp</text>
<g shape-rendering="crispEdges">
<rect x="59.20" y="621.80" width="102.30" height="91.70" fill="#00ff00"/><rect x="59.20" y="669.94" width="5.70" height="2.29" fill="#b8600c"/><rect x="59.20" y="674.53" width="5.70" height="6.88" fill="#ff0000"/><rect x="59.20" y="681.40" width="5.70" height="2.29" fill="#b8600c"/><rect x="59.20" y="683.70" width="5.70" height="6.88" fill="#ff0000"/><rect x="59.20" y="692.87" width="5.70" height="2.29" fill="#ff0000"/><rect x="59.20" y="695.16" width="5.70" height="2.29" fill="#b8600c"/><rect x="59.20" y="702.04" width="5.70" height="2.29" fill="#ff0000"/><rect x="59.20" y="704.33" width="5.70" height="2.29" fill="#b8600c"/><rect x="59.20" y="706.62" width="5.70" height="6.88" fill="#ff0000"/><rect x="64.88" y="667.65" width="5.70" height="2.29" fill="#b8600c"/><rect x="64.88" y="672.24" width="5.70" height="2.29" fill="#b8600c"/><rect x="64.88" y="674.53" width="5.70" height="2.29" fill="#ff0000"/><rect x="64.88" y="683.70" width="5.70" height="6.88" fill="#ff0000"/><rect x="64.88" y="692.87" width="5.70" height="2.29" fill="#ff0000"/><rect x="64.88" y="695.16" width="5.70" height="2.29" fill="#b8600c"/><rect x="64.88" y="697.45" width="5.70" height="2.29" fill="#ff0000"/><rect x="64.88" y="706.62" width="5.70" height="6.88" fill="#ff0000"/><rect x="70.57" y="692.87" width="5.70" height="2.29" fill="#b8600c"/><rect x="70.57" y="708.91" width="5.70" height="4.59" fill="#ff0000"/><rect x="76.25" y="706.62" width="5.70" height="2.29" fill="#b8600c"/><rect x="76.25" y="708.91" width="5.70" height="4.59" fill="#ff0000"/><rect x="81.93" y="704.33" width="5.70" height="2.29" fill="#b8600c"/><rect x="81.93" y="706.62" width="5.70" height="6.88" fill="#ff0000"/><rect x="87.62" y="699.75" width="5.70" height="2.29" fill="#ff0000"/><rect x="87.62" y="704.33" width="5.70" height="2.29" fill="#b8600c"/><rect x="87.62" y="708.91" width="5.70" height="4.59" fill="#ff0000"/><rect x="93.30" y="706.62" width="5.70" height="6.88" fill="#ff0000"/><rect x="98.98" y="697.45" width="5.70" height="2.29" fill="#ff0000"/><rect x="98.98" y="706.62" width="5.70" height="2.29" fill="#b8600c"/><rect x="98.98" y="708.91" width="5.70" height="4.59" fill="#ff0000"/><rect x="104.67" y="704.33" width="5.70" height="4.59" fill="#b8600c"/><rect x="104.67" y="708.91" width="5.70" height="4.59" fill="#ff0000"/><rect x="110.35" y="706.62" width="5.70" height="2.29" fill="#b8600c"/><rect x="110.35" y="708.91" width="5.70" height="4.59" fill="#ff0000"/><rect x="116.03" y="699.75" width="5.70" height="2.29" fill="#ff0000"/><rect x="116.03" y="708.91" width="5.70" height="4.59" fill="#ff0000"/><rect x="121.72" y="704.33" width="5.70" height="2.29" fill="#b8600c"/><rect x="121.72" y="708.91" width="5.70" height="4.59" fill="#ff0000"/><rect x="127.40" y="706.62" width="5.70" height="2.29" fill="#b8600c"/><rect x="127.40" y="708.91" width="5.70" height="4.59" fill="#ff0000"/><rect x="133.08" y="708.91" width="5.70" height="4.59" fill="#ff0000"/><rect x="138.77" y="708.91" width="5.70" height="4.59" fill="#ff0000"/><rect x="144.45" y="704.33" width="5.70" height="2.29" fill="#b8600c"/><rect x="144.45" y="711.21" width="5.70" height="2.29" fill="#ff0000"/><rect x="150.13" y="706.62" width="5.70" height="2.29" fill="#b8600c"/><rect x="150.13" y="708.91" width="5.70" height="4.59" fill="#ff0000"/><rect x="155.82" y="708.91" width="5.70" height="4.59" fill="#ff0000"/><rect x="99.98" y="666.48" width="3.68" height="1.80" fill="#ffffff"/><rect x="99.98" y="674.55" width="3.68" height="1.80" fill="#ffffff"/><rect x="99.98" y="687.94" width="3.68" height="1.80" fill="#ffffff"/><rect x="99.98" y="692.62" width="3.68" height="1.80" fill="#ffffff"/><rect x="99.98" y="700.41" width="3.68" height="1.80" fill="#ffffff"/><rect x="128.40" y="666.48" width="3.68" height="1.80" fill="#ffffff"/><rect x="128.40" y="674.55" width="3.68" height="1.80" fill="#ffffff"/><rect x="128.40" y="687.94" width="3.68" height="1.80" fill="#ffffff"/><rect x="128.40" y="692.62" width="3.68" height="1.80" fill="#ffffff"/><rect x="128.40" y="700.41" width="3.68" height="1.80" fill="#ffffff"/>
<rect x="174.70" y="621.80" width="102.70" height="91.70" fill="#00ff00"/><rect x="174.70" y="627.53" width="6.87" height="1.43" fill="#b8600c"/><rect x="174.70" y="633.26" width="6.87" height="1.43" fill="#b8600c"/><rect x="174.70" y="643.29" width="6.87" height="1.43" fill="#b8600c"/><rect x="174.70" y="647.59" width="6.87" height="1.43" fill="#b8600c"/><rect x="174.70" y="654.75" width="6.87" height="1.43" fill="#b8600c"/><rect x="174.70" y="670.52" width="6.87" height="1.43" fill="#b8600c"/><rect x="174.70" y="679.11" width="6.87" height="1.43" fill="#b8600c"/><rect x="174.70" y="689.14" width="6.87" height="1.43" fill="#b8600c"/><rect x="174.70" y="693.44" width="6.87" height="2.87" fill="#b8600c"/><rect x="174.70" y="697.74" width="6.87" height="1.43" fill="#b8600c"/><rect x="174.70" y="703.47" width="6.87" height="1.43" fill="#b8600c"/><rect x="174.70" y="704.90" width="6.87" height="4.30" fill="#ff0000"/><rect x="174.70" y="709.20" width="6.87" height="1.43" fill="#b8600c"/><rect x="174.70" y="710.63" width="6.87" height="2.87" fill="#ff0000"/><rect x="181.55" y="627.53" width="6.87" height="1.43" fill="#b8600c"/><rect x="181.55" y="631.83" width="6.87" height="2.87" fill="#b8600c"/><rect x="181.55" y="636.13" width="6.87" height="1.43" fill="#b8600c"/><rect x="181.55" y="640.43" width="6.87" height="1.43" fill="#b8600c"/><rect x="181.55" y="664.78" width="6.87" height="1.43" fill="#b8600c"/><rect x="181.55" y="669.08" width="6.87" height="1.43" fill="#b8600c"/><rect x="181.55" y="676.25" width="6.87" height="1.43" fill="#ff0000"/><rect x="181.55" y="677.68" width="6.87" height="1.43" fill="#b8600c"/><rect x="181.55" y="683.41" width="6.87" height="1.43" fill="#b8600c"/><rect x="181.55" y="687.71" width="6.87" height="1.43" fill="#b8600c"/><rect x="181.55" y="692.01" width="6.87" height="2.87" fill="#ff0000"/><rect x="181.55" y="694.87" width="6.87" height="1.43" fill="#b8600c"/><rect x="181.55" y="696.31" width="6.87" height="1.43" fill="#ff0000"/><rect x="181.55" y="699.17" width="6.87" height="1.43" fill="#b8600c"/><rect x="181.55" y="702.04" width="6.87" height="4.30" fill="#ff0000"/><rect x="181.55" y="706.34" width="6.87" height="4.30" fill="#b8600c"/><rect x="181.55" y="710.63" width="6.87" height="2.87" fill="#ff0000"/><rect x="188.39" y="626.10" width="6.87" height="1.43" fill="#b8600c"/><rect x="188.39" y="628.96" width="6.87" height="1.43" fill="#b8600c"/><rect x="188.39" y="631.83" width="6.87" height="1.43" fill="#b8600c"/><rect x="188.39" y="634.70" width="6.87" height="1.43" fill="#b8600c"/><rect x="188.39" y="638.99" width="6.87" height="1.43" fill="#b8600c"/><rect x="188.39" y="651.89" width="6.87" height="1.43" fill="#b8600c"/><rect x="188.39" y="654.75" width="6.87" height="1.43" fill="#b8600c"/><rect x="188.39" y="661.92" width="6.87" height="1.43" fill="#b8600c"/><rect x="188.39" y="666.22" width="6.87" height="1.43" fill="#b8600c"/><rect x="188.39" y="674.81" width="6.87" height="1.43" fill="#b8600c"/><rect x="188.39" y="684.84" width="6.87" height="1.43" fill="#b8600c"/><rect x="188.39" y="686.28" width="6.87" height="1.43" fill="#ff0000"/><rect x="188.39" y="687.71" width="6.87" height="4.30" fill="#b8600c"/><rect x="188.39" y="693.44" width="6.87" height="1.43" fill="#b8600c"/><rect x="188.39" y="696.31" width="6.87" height="1.43" fill="#ff0000"/><rect x="188.39" y="697.74" width="6.87" height="2.87" fill="#b8600c"/><rect x="188.39" y="703.47" width="6.87" height="1.43" fill="#b8600c"/><rect x="188.39" y="704.90" width="6.87" height="8.60" fill="#ff0000"/><rect x="195.24" y="621.80" width="6.87" height="1.43" fill="#b8600c"/><rect x="195.24" y="630.40" width="6.87" height="1.43" fill="#b8600c"/><rect x="195.24" y="646.16" width="6.87" height="1.43" fill="#b8600c"/><rect x="195.24" y="660.49" width="6.87" height="1.43" fill="#b8600c"/><rect x="195.24" y="690.58" width="6.87" height="1.43" fill="#b8600c"/><rect x="195.24" y="699.17" width="6.87" height="1.43" fill="#b8600c"/><rect x="195.24" y="700.60" width="6.87" height="1.43" fill="#ff0000"/><rect x="195.24" y="706.34" width="6.87" height="2.87" fill="#b8600c"/><rect x="202.09" y="626.10" width="6.87" height="2.87" fill="#b8600c"/><rect x="202.09" y="638.99" width="6.87" height="1.43" fill="#b8600c"/><rect x="202.09" y="643.29" width="6.87" height="1.43" fill="#b8600c"/><rect x="202.09" y="670.52" width="6.87" height="2.87" fill="#b8600c"/><rect x="202.09" y="677.68" width="6.87" height="1.43" fill="#b8600c"/><rect x="202.09" y="684.84" width="6.87" height="1.43" fill="#b8600c"/><rect x="202.09" y="687.71" width="6.87" height="1.43" fill="#b8600c"/><rect x="202.09" y="692.01" width="6.87" height="4.30" fill="#b8600c"/><rect x="202.09" y="699.17" width="6.87" height="1.43" fill="#b8600c"/><rect x="202.09" y="700.60" width="6.87" height="1.43" fill="#ff0000"/><rect x="202.09" y="702.04" width="6.87" height="1.43" fill="#b8600c"/><rect x="202.09" y="704.90" width="6.87" height="4.30" fill="#b8600c"/><rect x="202.09" y="709.20" width="6.87" height="1.43" fill="#ff0000"/><rect x="202.09" y="710.63" width="6.87" height="1.43" fill="#b8600c"/><rect x="202.09" y="712.07" width="6.87" height="1.43" fill="#ff0000"/><rect x="208.93" y="631.83" width="6.87" height="1.43" fill="#b8600c"/><rect x="208.93" y="636.13" width="6.87" height="1.43" fill="#b8600c"/><rect x="208.93" y="641.86" width="6.87" height="1.43" fill="#b8600c"/><rect x="208.93" y="649.02" width="6.87" height="1.43" fill="#b8600c"/><rect x="208.93" y="661.92" width="6.87" height="2.87" fill="#b8600c"/><rect x="208.93" y="666.22" width="6.87" height="1.43" fill="#b8600c"/><rect x="208.93" y="679.11" width="6.87" height="1.43" fill="#b8600c"/><rect x="208.93" y="686.28" width="6.87" height="7.16" fill="#b8600c"/><rect x="208.93" y="694.87" width="6.87" height="2.87" fill="#b8600c"/><rect x="208.93" y="700.60" width="6.87" height="1.43" fill="#b8600c"/><rect x="208.93" y="704.90" width="6.87" height="2.87" fill="#b8600c"/><rect x="208.93" y="710.63" width="6.87" height="1.43" fill="#b8600c"/><rect x="215.78" y="631.83" width="6.87" height="1.43" fill="#b8600c"/><rect x="215.78" y="634.70" width="6.87" height="1.43" fill="#ff0000"/><rect x="215.78" y="637.56" width="6.87" height="1.43" fill="#b8600c"/><rect x="215.78" y="640.43" width="6.87" height="1.43" fill="#b8600c"/><rect x="215.78" y="643.29" width="6.87" height="1.43" fill="#b8600c"/><rect x="215.78" y="646.16" width="6.87" height="7.16" fill="#b8600c"/><rect x="215.78" y="653.32" width="6.87" height="1.43" fill="#ff0000"/><rect x="215.78" y="654.75" width="6.87" height="1.43" fill="#b8600c"/><rect x="215.78" y="659.05" width="6.87" height="1.43" fill="#b8600c"/><rect x="215.78" y="660.49" width="6.87" height="1.43" fill="#ff0000"/><rect x="215.78" y="661.92" width="6.87" height="1.43" fill="#b8600c"/><rect x="215.78" y="666.22" width="6.87" height="1.43" fill="#ff0000"/><rect x="215.78" y="667.65" width="6.87" height="1.43" fill="#b8600c"/><rect x="215.78" y="670.52" width="6.87" height="1.43" fill="#b8600c"/><rect x="215.78" y="673.38" width="6.87" height="2.87" fill="#b8600c"/><rect x="215.78" y="677.68" width="6.87" height="1.43" fill="#b8600c"/><rect x="215.78" y="680.55" width="6.87" height="2.87" fill="#b8600c"/><rect x="215.78" y="683.41" width="6.87" height="1.43" fill="#ff0000"/><rect x="215.78" y="684.84" width="6.87" height="1.43" fill="#b8600c"/><rect x="215.78" y="686.28" width="6.87" height="5.73" fill="#ff0000"/><rect x="215.78" y="692.01" width="6.87" height="1.43" fill="#b8600c"/><rect x="215.78" y="693.44" width="6.87" height="20.06" fill="#ff0000"/><rect x="222.63" y="621.80" width="6.87" height="1.43" fill="#b8600c"/><rect x="222.63" y="630.40" width="6.87" height="1.43" fill="#ff0000"/><rect x="222.63" y="631.83" width="6.87" height="2.87" fill="#b8600c"/><rect x="222.63" y="637.56" width="6.87" height="4.30" fill="#ff0000"/><rect x="222.63" y="643.29" width="6.87" height="12.90" fill="#ff0000"/><rect x="222.63" y="656.19" width="6.87" height="1.43" fill="#b8600c"/><rect x="222.63" y="657.62" width="6.87" height="25.79" fill="#ff0000"/><rect x="222.63" y="683.41" width="6.87" height="1.43" fill="#b8600c"/><rect x="222.63" y="684.84" width="6.87" height="2.87" fill="#ff0000"/><rect x="222.63" y="689.14" width="6.87" height="1.43" fill="#ff0000"/><rect x="222.63" y="690.58" width="6.87" height="1.43" fill="#b8600c"/><rect x="222.63" y="692.01" width="6.87" height="4.30" fill="#ff0000"/><rect x="222.63" y="696.31" width="6.87" height="1.43" fill="#b8600c"/><rect x="222.63" y="697.74" width="6.87" height="5.73" fill="#ff0000"/><rect x="222.63" y="703.47" width="6.87" height="1.43" fill="#b8600c"/><rect x="222.63" y="704.90" width="6.87" height="8.60" fill="#ff0000"/><rect x="229.47" y="630.40" width="6.87" height="1.43" fill="#ff0000"/><rect x="229.47" y="640.43" width="6.87" height="14.33" fill="#ff0000"/><rect x="229.47" y="654.75" width="6.87" height="1.43" fill="#b8600c"/><rect x="229.47" y="657.62" width="6.87" height="1.43" fill="#ff0000"/><rect x="229.47" y="660.49" width="6.87" height="1.43" fill="#b8600c"/><rect x="229.47" y="661.92" width="6.87" height="4.30" fill="#ff0000"/><rect x="229.47" y="667.65" width="6.87" height="4.30" fill="#ff0000"/><rect x="229.47" y="676.25" width="6.87" height="1.43" fill="#b8600c"/><rect x="229.47" y="677.68" width="6.87" height="1.43" fill="#ff0000"/><rect x="229.47" y="680.55" width="6.87" height="2.87" fill="#ff0000"/><rect x="229.47" y="683.41" width="6.87" height="1.43" fill="#b8600c"/><rect x="229.47" y="684.84" width="6.87" height="1.43" fill="#ff0000"/><rect x="229.47" y="686.28" width="6.87" height="1.43" fill="#b8600c"/><rect x="229.47" y="687.71" width="6.87" height="2.87" fill="#ff0000"/><rect x="229.47" y="690.58" width="6.87" height="2.87" fill="#b8600c"/><rect x="229.47" y="693.44" width="6.87" height="4.30" fill="#ff0000"/><rect x="229.47" y="697.74" width="6.87" height="1.43" fill="#b8600c"/><rect x="229.47" y="699.17" width="6.87" height="10.03" fill="#ff0000"/><rect x="229.47" y="709.20" width="6.87" height="1.43" fill="#b8600c"/><rect x="229.47" y="710.63" width="6.87" height="2.87" fill="#ff0000"/><rect x="236.32" y="628.96" width="6.87" height="2.87" fill="#b8600c"/><rect x="236.32" y="633.26" width="6.87" height="2.87" fill="#b8600c"/><rect x="236.32" y="640.43" width="6.87" height="12.90" fill="#ff0000"/><rect x="236.32" y="653.32" width="6.87" height="1.43" fill="#b8600c"/><rect x="236.32" y="654.75" width="6.87" height="5.73" fill="#ff0000"/><rect x="236.32" y="660.49" width="6.87" height="1.43" fill="#b8600c"/><rect x="236.32" y="661.92" width="6.87" height="17.19" fill="#ff0000"/><rect x="236.32" y="679.11" width="6.87" height="1.43" fill="#b8600c"/><rect x="236.32" y="680.55" width="6.87" height="15.76" fill="#ff0000"/><rect x="236.32" y="697.74" width="6.87" height="2.87" fill="#ff0000"/><rect x="236.32" y="700.60" width="6.87" height="1.43" fill="#b8600c"/><rect x="236.32" y="702.04" width="6.87" height="4.30" fill="#ff0000"/><rect x="236.32" y="706.34" width="6.87" height="1.43" fill="#b8600c"/><rect x="236.32" y="707.77" width="6.87" height="1.43" fill="#ff0000"/><rect x="236.32" y="709.20" width="6.87" height="1.43" fill="#b8600c"/><rect x="236.32" y="710.63" width="6.87" height="2.87" fill="#ff0000"/><rect x="243.17" y="646.16" width="6.87" height="1.43" fill="#b8600c"/><rect x="243.17" y="649.02" width="6.87" height="1.43" fill="#b8600c"/><rect x="243.17" y="656.19" width="6.87" height="1.43" fill="#b8600c"/><rect x="243.17" y="660.49" width="6.87" height="1.43" fill="#b8600c"/><rect x="243.17" y="661.92" width="6.87" height="2.87" fill="#ff0000"/><rect x="243.17" y="667.65" width="6.87" height="2.87" fill="#ff0000"/><rect x="243.17" y="671.95" width="6.87" height="4.30" fill="#ff0000"/><rect x="243.17" y="676.25" width="6.87" height="2.87" fill="#b8600c"/><rect x="243.17" y="681.98" width="6.87" height="1.43" fill="#ff0000"/><rect x="243.17" y="683.41" width="6.87" height="1.43" fill="#b8600c"/><rect x="243.17" y="684.84" width="6.87" height="20.06" fill="#ff0000"/><rect x="243.17" y="704.90" width="6.87" height="2.87" fill="#b8600c"/><rect x="243.17" y="707.77" width="6.87" height="5.73" fill="#ff0000"/><rect x="250.01" y="649.02" width="6.87" height="1.43" fill="#b8600c"/><rect x="250.01" y="671.95" width="6.87" height="2.87" fill="#b8600c"/><rect x="250.01" y="677.68" width="6.87" height="1.43" fill="#ff0000"/><rect x="250.01" y="679.11" width="6.87" height="1.43" fill="#b8600c"/><rect x="250.01" y="683.41" width="6.87" height="1.43" fill="#b8600c"/><rect x="250.01" y="684.84" width="6.87" height="1.43" fill="#ff0000"/><rect x="250.01" y="686.28" width="6.87" height="1.43" fill="#b8600c"/><rect x="250.01" y="687.71" width="6.87" height="1.43" fill="#ff0000"/><rect x="250.01" y="689.14" width="6.87" height="4.30" fill="#b8600c"/><rect x="250.01" y="694.87" width="6.87" height="8.60" fill="#ff0000"/><rect x="250.01" y="703.47" width="6.87" height="1.43" fill="#b8600c"/><rect x="250.01" y="704.90" width="6.87" height="2.87" fill="#ff0000"/><rect x="250.01" y="707.77" width="6.87" height="1.43" fill="#b8600c"/><rect x="250.01" y="709.20" width="6.87" height="1.43" fill="#ff0000"/><rect x="250.01" y="710.63" width="6.87" height="1.43" fill="#b8600c"/><rect x="250.01" y="712.07" width="6.87" height="1.43" fill="#ff0000"/><rect x="256.86" y="631.83" width="6.87" height="1.43" fill="#b8600c"/><rect x="256.86" y="649.02" width="6.87" height="1.43" fill="#ff0000"/><rect x="256.86" y="653.32" width="6.87" height="1.43" fill="#ff0000"/><rect x="256.86" y="656.19" width="6.87" height="1.43" fill="#b8600c"/><rect x="256.86" y="657.62" width="6.87" height="1.43" fill="#ff0000"/><rect x="256.86" y="660.49" width="6.87" height="1.43" fill="#b8600c"/><rect x="256.86" y="667.65" width="6.87" height="1.43" fill="#ff0000"/><rect x="256.86" y="669.08" width="6.87" height="1.43" fill="#b8600c"/><rect x="256.86" y="673.38" width="6.87" height="1.43" fill="#ff0000"/><rect x="256.86" y="676.25" width="6.87" height="2.87" fill="#ff0000"/><rect x="256.86" y="680.55" width="6.87" height="1.43" fill="#ff0000"/><rect x="256.86" y="681.98" width="6.87" height="1.43" fill="#b8600c"/><rect x="256.86" y="683.41" width="6.87" height="1.43" fill="#ff0000"/><rect x="256.86" y="686.28" width="6.87" height="4.30" fill="#ff0000"/><rect x="256.86" y="690.58" width="6.87" height="1.43" fill="#b8600c"/><rect x="256.86" y="692.01" width="6.87" height="4.30" fill="#ff0000"/><rect x="256.86" y="696.31" width="6.87" height="1.43" fill="#b8600c"/><rect x="256.86" y="697.74" width="6.87" height="1.43" fill="#ff0000"/><rect x="256.86" y="699.17" width="6.87" height="1.43" fill="#b8600c"/><rect x="256.86" y="700.60" width="6.87" height="8.60" fill="#ff0000"/><rect x="256.86" y="709.20" width="6.87" height="1.43" fill="#b8600c"/><rect x="256.86" y="710.63" width="6.87" height="2.87" fill="#ff0000"/><rect x="263.71" y="630.40" width="6.87" height="1.43" fill="#b8600c"/><rect x="263.71" y="633.26" width="6.87" height="1.43" fill="#ff0000"/><rect x="263.71" y="634.70" width="6.87" height="2.87" fill="#b8600c"/><rect x="263.71" y="638.99" width="6.87" height="2.87" fill="#b8600c"/><rect x="263.71" y="643.29" width="6.87" height="4.30" fill="#b8600c"/><rect x="263.71" y="650.46" width="6.87" height="5.73" fill="#b8600c"/><rect x="263.71" y="656.19" width="6.87" height="1.43" fill="#ff0000"/><rect x="263.71" y="657.62" width="6.87" height="1.43" fill="#b8600c"/><rect x="263.71" y="659.05" width="6.87" height="2.87" fill="#ff0000"/><rect x="263.71" y="663.35" width="6.87" height="4.30" fill="#ff0000"/><rect x="263.71" y="667.65" width="6.87" height="1.43" fill="#b8600c"/><rect x="263.71" y="669.08" width="6.87" height="2.87" fill="#ff0000"/><rect x="263.71" y="674.81" width="6.87" height="5.73" fill="#ff0000"/><rect x="263.71" y="681.98" width="6.87" height="11.46" fill="#ff0000"/><rect x="263.71" y="693.44" width="6.87" height="1.43" fill="#b8600c"/><rect x="263.71" y="694.87" width="6.87" height="5.73" fill="#ff0000"/><rect x="263.71" y="700.60" width="6.87" height="1.43" fill="#b8600c"/><rect x="263.71" y="702.04" width="6.87" height="11.46" fill="#ff0000"/><rect x="270.55" y="623.23" width="6.87" height="1.43" fill="#b8600c"/><rect x="270.55" y="628.96" width="6.87" height="1.43" fill="#b8600c"/><rect x="270.55" y="636.13" width="6.87" height="1.43" fill="#b8600c"/><rect x="270.55" y="638.99" width="6.87" height="2.87" fill="#ff0000"/><rect x="270.55" y="643.29" width="6.87" height="5.73" fill="#ff0000"/><rect x="270.55" y="649.02" width="6.87" height="1.43" fill="#b8600c"/><rect x="270.55" y="650.46" width="6.87" height="1.43" fill="#ff0000"/><rect x="270.55" y="651.89" width="6.87" height="2.87" fill="#b8600c"/><rect x="270.55" y="654.75" width="6.87" height="1.43" fill="#ff0000"/><rect x="270.55" y="656.19" width="6.87" height="1.43" fill="#b8600c"/><rect x="270.55" y="657.62" width="6.87" height="5.73" fill="#ff0000"/><rect x="270.55" y="663.35" width="6.87" height="1.43" fill="#b8600c"/><rect x="270.55" y="664.78" width="6.87" height="11.46" fill="#ff0000"/><rect x="270.55" y="676.25" width="6.87" height="1.43" fill="#b8600c"/><rect x="270.55" y="677.68" width="6.87" height="8.60" fill="#ff0000"/><rect x="270.55" y="686.28" width="6.87" height="1.43" fill="#b8600c"/><rect x="270.55" y="687.71" width="6.87" height="17.19" fill="#ff0000"/><rect x="270.55" y="704.90" width="6.87" height="1.43" fill="#b8600c"/><rect x="270.55" y="706.34" width="6.87" height="1.43" fill="#ff0000"/><rect x="270.55" y="707.77" width="6.87" height="1.43" fill="#b8600c"/><rect x="270.55" y="709.20" width="6.87" height="1.43" fill="#ff0000"/><rect x="270.55" y="710.63" width="6.87" height="1.43" fill="#b8600c"/><rect x="270.55" y="712.07" width="6.87" height="1.43" fill="#ff0000"/>
<rect x="290.40" y="621.80" width="102.00" height="91.70" fill="#00ff00"/><rect x="290.40" y="670.40" width="102.00" height="43.10" fill="#ff0000"/><rect x="290.40" y="669.48" width="20.40" height="0.92" fill="#00ff00"/><rect x="290.40" y="667.65" width="20.40" height="1.83" fill="#00ff00"/><rect x="310.80" y="667.65" width="20.40" height="1.83" fill="#ff0000"/><rect x="331.20" y="667.65" width="61.20" height="1.83" fill="#ff0000"/><rect x="310.80" y="671.78" width="81.60" height="0.64" fill="#b8600c"/><rect x="290.40" y="627.30" width="20.40" height="1.38" fill="#b8600c"/><rect x="290.40" y="638.58" width="20.40" height="1.65" fill="#b8600c"/><rect x="290.40" y="642.25" width="20.40" height="1.47" fill="#b8600c"/><rect x="290.40" y="648.85" width="20.40" height="4.13" fill="#ff0000"/><rect x="290.40" y="649.86" width="20.40" height="2.11" fill="#b8600c"/><rect x="290.40" y="652.98" width="20.40" height="13.39" fill="#ff0000"/><rect x="290.40" y="666.37" width="20.40" height="1.28" fill="#00ff00"/><rect x="310.80" y="638.58" width="20.40" height="1.65" fill="#b8600c"/><rect x="310.80" y="643.72" width="20.40" height="6.14" fill="#ff0000"/><rect x="310.80" y="651.97" width="20.40" height="1.01" fill="#b8600c"/><rect x="310.80" y="652.98" width="20.40" height="11.28" fill="#ff0000"/><rect x="310.80" y="664.26" width="20.40" height="1.47" fill="#b8600c"/><rect x="310.80" y="665.72" width="20.40" height="1.93" fill="#ff0000"/><rect x="331.20" y="638.58" width="20.40" height="1.65" fill="#b8600c"/><rect x="331.20" y="649.86" width="20.40" height="2.11" fill="#b8600c"/><rect x="331.20" y="651.97" width="20.40" height="5.14" fill="#ff0000"/><rect x="331.20" y="663.25" width="20.40" height="4.40" fill="#ff0000"/><rect x="351.60" y="627.30" width="20.40" height="0.92" fill="#b8600c"/><rect x="351.60" y="632.80" width="20.40" height="5.78" fill="#ff0000"/><rect x="351.60" y="638.58" width="20.40" height="1.65" fill="#b8600c"/><rect x="351.60" y="643.72" width="20.40" height="5.14" fill="#ff0000"/><rect x="351.60" y="648.85" width="20.40" height="2.11" fill="#b8600c"/><rect x="351.60" y="650.96" width="20.40" height="3.03" fill="#ff0000"/><rect x="351.60" y="657.10" width="20.40" height="9.26" fill="#ff0000"/><rect x="351.60" y="666.37" width="20.40" height="1.47" fill="#b8600c"/><rect x="372.00" y="631.43" width="20.40" height="1.38" fill="#b8600c"/><rect x="372.00" y="632.80" width="20.40" height="5.78" fill="#ff0000"/><rect x="372.00" y="638.58" width="20.40" height="3.67" fill="#b8600c"/><rect x="372.00" y="642.25" width="20.40" height="6.60" fill="#ff0000"/><rect x="372.00" y="648.85" width="20.40" height="2.11" fill="#b8600c"/><rect x="372.00" y="650.96" width="20.40" height="3.03" fill="#ff0000"/><rect x="372.00" y="657.10" width="20.40" height="12.38" fill="#ff0000"/><rect x="372.00" y="669.48" width="20.40" height="1.56" fill="#b8600c"/>
<rect x="405.40" y="621.80" width="103.10" height="91.70" fill="#00ff00"/><rect x="405.40" y="629.41" width="25.78" height="6.42" fill="#ff0000"/><rect x="405.40" y="635.83" width="25.78" height="1.47" fill="#b8600c"/><rect x="405.40" y="637.30" width="25.78" height="4.68" fill="#ff0000"/><rect x="405.40" y="645.46" width="25.78" height="68.04" fill="#ff0000"/><rect x="405.40" y="644.27" width="25.78" height="1.19" fill="#b8600c"/><rect x="405.40" y="672.69" width="25.78" height="0.92" fill="#b8600c"/><rect x="405.40" y="681.86" width="25.78" height="0.92" fill="#b8600c"/><rect x="431.17" y="636.20" width="25.78" height="1.10" fill="#b8600c"/><rect x="431.17" y="642.43" width="25.78" height="2.02" fill="#b8600c"/><rect x="431.17" y="653.71" width="25.78" height="59.79" fill="#ff0000"/><rect x="431.17" y="659.40" width="25.78" height="0.92" fill="#b8600c"/><rect x="456.95" y="672.24" width="25.78" height="2.11" fill="#b8600c"/><rect x="456.95" y="674.34" width="25.78" height="3.12" fill="#ff0000"/><rect x="456.95" y="683.61" width="25.78" height="29.89" fill="#ff0000"/><rect x="456.95" y="677.46" width="25.78" height="1.01" fill="#b8600c"/><rect x="456.95" y="643.07" width="25.78" height="0.73" fill="#b8600c"/><rect x="482.73" y="673.34" width="25.78" height="2.02" fill="#b8600c"/><rect x="482.73" y="679.48" width="25.78" height="3.76" fill="#ff0000"/><rect x="482.73" y="683.24" width="25.78" height="2.02" fill="#b8600c"/><rect x="482.73" y="685.26" width="25.78" height="28.24" fill="#ff0000"/><rect x="482.73" y="643.07" width="25.78" height="0.73" fill="#b8600c"/>
<rect x="59.20" y="764.40" width="102.30" height="91.40" fill="#00ff00"/><rect x="59.20" y="777.09" width="5.70" height="1.27" fill="#b8600c"/><rect x="59.20" y="778.36" width="5.70" height="25.39" fill="#ff0000"/><rect x="59.20" y="803.75" width="5.70" height="1.27" fill="#b8600c"/><rect x="59.20" y="805.02" width="5.70" height="8.89" fill="#ff0000"/><rect x="59.20" y="813.91" width="5.70" height="1.27" fill="#b8600c"/><rect x="59.20" y="815.18" width="5.70" height="1.27" fill="#ff0000"/><rect x="59.20" y="816.45" width="5.70" height="1.27" fill="#b8600c"/><rect x="59.20" y="817.72" width="5.70" height="2.54" fill="#ff0000"/><rect x="59.20" y="821.52" width="5.70" height="1.27" fill="#b8600c"/><rect x="59.20" y="822.79" width="5.70" height="33.01" fill="#ff0000"/><rect x="64.88" y="778.36" width="5.70" height="1.27" fill="#ff0000"/><rect x="64.88" y="779.63" width="5.70" height="1.27" fill="#b8600c"/><rect x="64.88" y="780.90" width="5.70" height="45.70" fill="#ff0000"/><rect x="64.88" y="826.60" width="5.70" height="1.27" fill="#b8600c"/><rect x="64.88" y="827.87" width="5.70" height="27.93" fill="#ff0000"/><rect x="70.57" y="778.36" width="5.70" height="5.08" fill="#ff0000"/><rect x="70.57" y="783.44" width="5.70" height="1.27" fill="#b8600c"/><rect x="70.57" y="784.71" width="5.70" height="7.62" fill="#ff0000"/><rect x="70.57" y="792.33" width="5.70" height="1.27" fill="#b8600c"/><rect x="70.57" y="793.60" width="5.70" height="5.08" fill="#ff0000"/><rect x="70.57" y="798.67" width="5.70" height="1.27" fill="#b8600c"/><rect x="70.57" y="799.94" width="5.70" height="21.58" fill="#ff0000"/><rect x="70.57" y="821.52" width="5.70" height="1.27" fill="#b8600c"/><rect x="70.57" y="822.79" width="5.70" height="2.54" fill="#ff0000"/><rect x="70.57" y="825.33" width="5.70" height="2.54" fill="#b8600c"/><rect x="70.57" y="827.87" width="5.70" height="27.93" fill="#ff0000"/><rect x="76.25" y="773.29" width="5.70" height="1.27" fill="#b8600c"/><rect x="76.25" y="780.90" width="5.70" height="2.54" fill="#b8600c"/><rect x="76.25" y="783.44" width="5.70" height="3.81" fill="#ff0000"/><rect x="76.25" y="789.79" width="5.70" height="1.27" fill="#ff0000"/><rect x="76.25" y="791.06" width="5.70" height="1.27" fill="#b8600c"/><rect x="76.25" y="792.33" width="5.70" height="5.08" fill="#ff0000"/><rect x="76.25" y="797.41" width="5.70" height="1.27" fill="#b8600c"/><rect x="76.25" y="798.67" width="5.70" height="6.35" fill="#ff0000"/><rect x="76.25" y="805.02" width="5.70" height="1.27" fill="#b8600c"/><rect x="76.25" y="806.29" width="5.70" height="10.16" fill="#ff0000"/><rect x="76.25" y="816.45" width="5.70" height="1.27" fill="#b8600c"/><rect x="76.25" y="817.72" width="5.70" height="21.58" fill="#ff0000"/><rect x="76.25" y="839.30" width="5.70" height="1.27" fill="#b8600c"/><rect x="76.25" y="840.57" width="5.70" height="15.23" fill="#ff0000"/><rect x="81.93" y="772.02" width="5.70" height="1.27" fill="#b8600c"/><rect x="81.93" y="780.90" width="5.70" height="22.85" fill="#ff0000"/><rect x="81.93" y="803.75" width="5.70" height="1.27" fill="#b8600c"/><rect x="81.93" y="805.02" width="5.70" height="50.78" fill="#ff0000"/><rect x="87.62" y="780.90" width="5.70" height="15.23" fill="#ff0000"/><rect x="87.62" y="796.14" width="5.70" height="1.27" fill="#b8600c"/><rect x="87.62" y="797.41" width="5.70" height="2.54" fill="#ff0000"/><rect x="87.62" y="799.94" width="5.70" height="1.27" fill="#b8600c"/><rect x="87.62" y="801.21" width="5.70" height="2.54" fill="#ff0000"/><rect x="87.62" y="805.02" width="5.70" height="12.69" fill="#ff0000"/><rect x="87.62" y="817.72" width="5.70" height="1.27" fill="#b8600c"/><rect x="87.62" y="818.99" width="5.70" height="10.16" fill="#ff0000"/><rect x="87.62" y="830.41" width="5.70" height="19.04" fill="#ff0000"/><rect x="87.62" y="849.45" width="5.70" height="1.27" fill="#b8600c"/><rect x="87.62" y="850.72" width="5.70" height="5.08" fill="#ff0000"/><rect x="93.30" y="778.36" width="5.70" height="1.27" fill="#b8600c"/><rect x="93.30" y="782.17" width="5.70" height="11.42" fill="#ff0000"/><rect x="93.30" y="793.60" width="5.70" height="1.27" fill="#b8600c"/><rect x="93.30" y="794.87" width="5.70" height="25.39" fill="#ff0000"/><rect x="93.30" y="820.26" width="5.70" height="1.27" fill="#b8600c"/><rect x="93.30" y="821.52" width="5.70" height="34.27" fill="#ff0000"/><rect x="98.98" y="780.90" width="5.70" height="5.08" fill="#ff0000"/><rect x="98.98" y="785.98" width="5.70" height="1.27" fill="#b8600c"/><rect x="98.98" y="787.25" width="5.70" height="20.31" fill="#ff0000"/><rect x="98.98" y="807.56" width="5.70" height="1.27" fill="#b8600c"/><rect x="98.98" y="808.83" width="5.70" height="46.97" fill="#ff0000"/><rect x="104.67" y="780.90" width="5.70" height="3.81" fill="#ff0000"/><rect x="104.67" y="785.98" width="5.70" height="34.27" fill="#ff0000"/><rect x="104.67" y="820.26" width="5.70" height="1.27" fill="#b8600c"/><rect x="104.67" y="821.52" width="5.70" height="3.81" fill="#ff0000"/><rect x="104.67" y="825.33" width="5.70" height="1.27" fill="#b8600c"/><rect x="104.67" y="826.60" width="5.70" height="5.08" fill="#ff0000"/><rect x="104.67" y="831.68" width="5.70" height="1.27" fill="#b8600c"/><rect x="104.67" y="832.95" width="5.70" height="22.85" fill="#ff0000"/><rect x="110.35" y="782.17" width="5.70" height="2.54" fill="#ff0000"/><rect x="110.35" y="784.71" width="5.70" height="1.27" fill="#b8600c"/><rect x="110.35" y="785.98" width="5.70" height="3.81" fill="#ff0000"/><rect x="110.35" y="789.79" width="5.70" height="2.54" fill="#b8600c"/><rect x="110.35" y="792.33" width="5.70" height="15.23" fill="#ff0000"/><rect x="110.35" y="807.56" width="5.70" height="1.27" fill="#b8600c"/><rect x="110.35" y="808.83" width="5.70" height="3.81" fill="#ff0000"/><rect x="110.35" y="812.64" width="5.70" height="1.27" fill="#b8600c"/><rect x="110.35" y="813.91" width="5.70" height="3.81" fill="#ff0000"/><rect x="110.35" y="817.72" width="5.70" height="1.27" fill="#b8600c"/><rect x="110.35" y="818.99" width="5.70" height="1.27" fill="#ff0000"/><rect x="110.35" y="820.26" width="5.70" height="1.27" fill="#b8600c"/><rect x="110.35" y="821.52" width="5.70" height="8.89" fill="#ff0000"/><rect x="110.35" y="830.41" width="5.70" height="1.27" fill="#b8600c"/><rect x="110.35" y="831.68" width="5.70" height="24.12" fill="#ff0000"/><rect x="116.03" y="780.90" width="5.70" height="5.08" fill="#ff0000"/><rect x="116.03" y="785.98" width="5.70" height="1.27" fill="#b8600c"/><rect x="116.03" y="787.25" width="5.70" height="2.54" fill="#ff0000"/><rect x="116.03" y="789.79" width="5.70" height="1.27" fill="#b8600c"/><rect x="116.03" y="791.06" width="5.70" height="17.77" fill="#ff0000"/><rect x="116.03" y="808.83" width="5.70" height="1.27" fill="#b8600c"/><rect x="116.03" y="810.10" width="5.70" height="7.62" fill="#ff0000"/><rect x="116.03" y="817.72" width="5.70" height="2.54" fill="#b8600c"/><rect x="116.03" y="820.26" width="5.70" height="35.54" fill="#ff0000"/><rect x="121.72" y="780.90" width="5.70" height="1.27" fill="#b8600c"/><rect x="121.72" y="782.17" width="5.70" height="31.74" fill="#ff0000"/><rect x="121.72" y="813.91" width="5.70" height="1.27" fill="#b8600c"/><rect x="121.72" y="815.18" width="5.70" height="40.62" fill="#ff0000"/><rect x="127.40" y="780.90" width="5.70" height="1.27" fill="#b8600c"/><rect x="127.40" y="782.17" width="5.70" height="1.27" fill="#ff0000"/><rect x="127.40" y="783.44" width="5.70" height="1.27" fill="#b8600c"/><rect x="127.40" y="784.71" width="5.70" height="7.62" fill="#ff0000"/><rect x="127.40" y="792.33" width="5.70" height="1.27" fill="#b8600c"/><rect x="127.40" y="793.60" width="5.70" height="2.54" fill="#ff0000"/><rect x="127.40" y="796.14" width="5.70" height="1.27" fill="#b8600c"/><rect x="127.40" y="797.41" width="5.70" height="24.12" fill="#ff0000"/><rect x="127.40" y="821.52" width="5.70" height="1.27" fill="#b8600c"/><rect x="127.40" y="822.79" width="5.70" height="33.01" fill="#ff0000"/><rect x="133.08" y="780.90" width="5.70" height="2.54" fill="#b8600c"/><rect x="133.08" y="783.44" width="5.70" height="2.54" fill="#ff0000"/><rect x="133.08" y="785.98" width="5.70" height="1.27" fill="#b8600c"/><rect x="133.08" y="787.25" width="5.70" height="19.04" fill="#ff0000"/><rect x="133.08" y="806.29" width="5.70" height="1.27" fill="#b8600c"/><rect x="133.08" y="807.56" width="5.70" height="36.81" fill="#ff0000"/><rect x="133.08" y="844.38" width="5.70" height="1.27" fill="#b8600c"/><rect x="133.08" y="845.64" width="5.70" height="10.16" fill="#ff0000"/><rect x="138.77" y="782.17" width="5.70" height="1.27" fill="#b8600c"/><rect x="138.77" y="784.71" width="5.70" height="1.27" fill="#b8600c"/><rect x="138.77" y="785.98" width="5.70" height="1.27" fill="#ff0000"/><rect x="138.77" y="787.25" width="5.70" height="1.27" fill="#b8600c"/><rect x="138.77" y="788.52" width="5.70" height="6.35" fill="#ff0000"/><rect x="138.77" y="796.14" width="5.70" height="3.81" fill="#ff0000"/><rect x="138.77" y="799.94" width="5.70" height="1.27" fill="#b8600c"/><rect x="138.77" y="801.21" width="5.70" height="2.54" fill="#ff0000"/><rect x="138.77" y="803.75" width="5.70" height="1.27" fill="#b8600c"/><rect x="138.77" y="805.02" width="5.70" height="3.81" fill="#ff0000"/><rect x="138.77" y="810.10" width="5.70" height="3.81" fill="#ff0000"/><rect x="138.77" y="813.91" width="5.70" height="1.27" fill="#b8600c"/><rect x="138.77" y="815.18" width="5.70" height="2.54" fill="#ff0000"/><rect x="138.77" y="817.72" width="5.70" height="1.27" fill="#b8600c"/><rect x="138.77" y="818.99" width="5.70" height="2.54" fill="#ff0000"/><rect x="138.77" y="821.52" width="5.70" height="2.54" fill="#b8600c"/><rect x="138.77" y="824.06" width="5.70" height="31.74" fill="#ff0000"/><rect x="144.45" y="783.44" width="5.70" height="1.27" fill="#b8600c"/><rect x="144.45" y="784.71" width="5.70" height="1.27" fill="#ff0000"/><rect x="144.45" y="787.25" width="5.70" height="33.01" fill="#ff0000"/><rect x="144.45" y="821.52" width="5.70" height="34.27" fill="#ff0000"/><rect x="150.13" y="782.17" width="5.70" height="1.27" fill="#ff0000"/><rect x="150.13" y="783.44" width="5.70" height="1.27" fill="#b8600c"/><rect x="150.13" y="784.71" width="5.70" height="1.27" fill="#ff0000"/><rect x="150.13" y="785.98" width="5.70" height="1.27" fill="#b8600c"/><rect x="150.13" y="787.25" width="5.70" height="1.27" fill="#ff0000"/><rect x="150.13" y="788.52" width="5.70" height="1.27" fill="#b8600c"/><rect x="150.13" y="789.79" width="5.70" height="66.01" fill="#ff0000"/><rect x="155.82" y="782.17" width="5.70" height="1.27" fill="#b8600c"/><rect x="155.82" y="784.71" width="5.70" height="1.27" fill="#ff0000"/><rect x="155.82" y="785.98" width="5.70" height="1.27" fill="#b8600c"/><rect x="155.82" y="788.52" width="5.70" height="5.08" fill="#ff0000"/><rect x="155.82" y="793.60" width="5.70" height="1.27" fill="#b8600c"/><rect x="155.82" y="794.87" width="5.70" height="48.24" fill="#ff0000"/><rect x="155.82" y="844.38" width="5.70" height="11.42" fill="#ff0000"/><rect x="76.25" y="786.34" width="5.68" height="2.74" fill="#8a9a10"/><rect x="76.25" y="794.56" width="5.68" height="0.91" fill="#b8600c"/><rect x="76.25" y="800.05" width="5.68" height="1.83" fill="#8a9a10"/><rect x="76.25" y="805.53" width="5.68" height="0.91" fill="#b8600c"/><rect x="76.25" y="814.67" width="5.68" height="0.91" fill="#b8600c"/><rect x="93.30" y="784.51" width="5.68" height="1.83" fill="#8a9a10"/><rect x="93.30" y="789.99" width="5.68" height="1.83" fill="#00ff00"/><rect x="93.30" y="798.22" width="5.68" height="7.31" fill="#00ff00"/><rect x="93.30" y="811.93" width="5.68" height="0.91" fill="#8a9a10"/><rect x="93.30" y="819.24" width="5.68" height="4.11" fill="#8a9a10"/><rect x="104.67" y="791.82" width="5.68" height="2.74" fill="#b8600c"/><rect x="104.67" y="800.96" width="5.68" height="0.91" fill="#b8600c"/><rect x="104.67" y="814.67" width="5.68" height="2.28" fill="#b8600c"/><rect x="127.40" y="775.82" width="5.68" height="1.37" fill="#ffffff"/><rect x="127.40" y="780.85" width="5.68" height="1.37" fill="#ffffff"/><rect x="127.40" y="788.62" width="5.68" height="1.37" fill="#ffffff"/><rect x="127.40" y="796.85" width="5.68" height="1.37" fill="#ffffff"/><rect x="127.40" y="808.27" width="5.68" height="1.83" fill="#b8600c"/><rect x="127.40" y="814.67" width="5.68" height="0.91" fill="#b8600c"/><rect x="150.13" y="792.73" width="5.68" height="3.20" fill="#00ff00"/><rect x="150.13" y="811.93" width="5.68" height="2.29" fill="#00ff00"/><rect x="150.13" y="832.95" width="5.68" height="2.74" fill="#00ff00"/><rect x="150.13" y="800.96" width="5.68" height="4.57" fill="#b8600c"/><rect x="150.13" y="808.27" width="5.68" height="0.91" fill="#b8600c"/><rect x="150.13" y="828.38" width="5.68" height="0.91" fill="#b8600c"/><rect x="155.82" y="791.82" width="5.68" height="0.91" fill="#b8600c"/><rect x="155.82" y="801.87" width="5.68" height="6.40" fill="#b8600c"/>
<rect x="174.70" y="764.40" width="102.70" height="91.40" fill="#00ff00"/><rect x="174.70" y="777.46" width="6.87" height="2.18" fill="#b8600c"/><rect x="174.70" y="783.99" width="6.87" height="4.35" fill="#b8600c"/><rect x="174.70" y="790.51" width="6.87" height="2.18" fill="#b8600c"/><rect x="174.70" y="794.87" width="6.87" height="4.35" fill="#b8600c"/><rect x="174.70" y="801.40" width="6.87" height="2.18" fill="#ff0000"/><rect x="174.70" y="803.57" width="6.87" height="4.35" fill="#b8600c"/><rect x="174.70" y="807.92" width="6.87" height="8.70" fill="#ff0000"/><rect x="174.70" y="818.80" width="6.87" height="2.18" fill="#b8600c"/><rect x="174.70" y="820.98" width="6.87" height="2.18" fill="#ff0000"/><rect x="174.70" y="825.33" width="6.87" height="2.18" fill="#ff0000"/><rect x="174.70" y="827.51" width="6.87" height="2.18" fill="#b8600c"/><rect x="174.70" y="829.69" width="6.87" height="4.35" fill="#ff0000"/><rect x="174.70" y="834.04" width="6.87" height="4.35" fill="#b8600c"/><rect x="174.70" y="838.39" width="6.87" height="17.41" fill="#ff0000"/><rect x="181.55" y="766.58" width="6.87" height="2.18" fill="#b8600c"/><rect x="181.55" y="770.93" width="6.87" height="2.18" fill="#b8600c"/><rect x="181.55" y="775.28" width="6.87" height="2.18" fill="#b8600c"/><rect x="181.55" y="779.63" width="6.87" height="2.18" fill="#b8600c"/><rect x="181.55" y="790.51" width="6.87" height="2.18" fill="#b8600c"/><rect x="181.55" y="792.69" width="6.87" height="2.18" fill="#ff0000"/><rect x="181.55" y="797.04" width="6.87" height="2.18" fill="#ff0000"/><rect x="181.55" y="799.22" width="6.87" height="2.18" fill="#b8600c"/><rect x="181.55" y="803.57" width="6.87" height="2.18" fill="#ff0000"/><rect x="181.55" y="805.75" width="6.87" height="2.18" fill="#b8600c"/><rect x="181.55" y="807.92" width="6.87" height="4.35" fill="#ff0000"/><rect x="181.55" y="814.45" width="6.87" height="4.35" fill="#ff0000"/><rect x="181.55" y="818.80" width="6.87" height="2.18" fill="#b8600c"/><rect x="181.55" y="820.98" width="6.87" height="4.35" fill="#ff0000"/><rect x="181.55" y="825.33" width="6.87" height="2.18" fill="#b8600c"/><rect x="181.55" y="827.51" width="6.87" height="8.70" fill="#ff0000"/><rect x="181.55" y="836.21" width="6.87" height="2.18" fill="#b8600c"/><rect x="181.55" y="838.39" width="6.87" height="6.53" fill="#ff0000"/><rect x="181.55" y="844.92" width="6.87" height="2.18" fill="#b8600c"/><rect x="181.55" y="847.10" width="6.87" height="6.53" fill="#ff0000"/><rect x="181.55" y="853.62" width="6.87" height="2.18" fill="#b8600c"/><rect x="195.24" y="786.16" width="6.87" height="2.18" fill="#b8600c"/><rect x="195.24" y="801.40" width="6.87" height="2.18" fill="#b8600c"/><rect x="195.24" y="805.75" width="6.87" height="2.18" fill="#b8600c"/><rect x="195.24" y="812.28" width="6.87" height="4.35" fill="#b8600c"/><rect x="195.24" y="818.80" width="6.87" height="4.35" fill="#b8600c"/><rect x="195.24" y="825.33" width="6.87" height="2.18" fill="#b8600c"/><rect x="195.24" y="827.51" width="6.87" height="2.18" fill="#ff0000"/><rect x="195.24" y="831.86" width="6.87" height="2.18" fill="#ff0000"/><rect x="195.24" y="834.04" width="6.87" height="2.18" fill="#b8600c"/><rect x="195.24" y="838.39" width="6.87" height="4.35" fill="#ff0000"/><rect x="195.24" y="842.74" width="6.87" height="2.18" fill="#b8600c"/><rect x="195.24" y="844.92" width="6.87" height="8.70" fill="#ff0000"/><rect x="202.09" y="797.04" width="6.87" height="2.18" fill="#b8600c"/><rect x="202.09" y="812.28" width="6.87" height="2.18" fill="#ff0000"/><rect x="202.09" y="816.63" width="6.87" height="2.18" fill="#ff0000"/><rect x="202.09" y="818.80" width="6.87" height="2.18" fill="#b8600c"/><rect x="202.09" y="820.98" width="6.87" height="2.18" fill="#ff0000"/><rect x="202.09" y="827.51" width="6.87" height="8.70" fill="#ff0000"/><rect x="202.09" y="836.21" width="6.87" height="2.18" fill="#b8600c"/><rect x="202.09" y="838.39" width="6.87" height="6.53" fill="#ff0000"/><rect x="202.09" y="847.10" width="6.87" height="2.18" fill="#ff0000"/><rect x="202.09" y="849.27" width="6.87" height="2.18" fill="#b8600c"/><rect x="202.09" y="851.45" width="6.87" height="4.35" fill="#ff0000"/><rect x="208.93" y="812.28" width="6.87" height="2.18" fill="#b8600c"/><rect x="208.93" y="816.63" width="6.87" height="2.18" fill="#ff0000"/><rect x="208.93" y="820.98" width="6.87" height="2.18" fill="#ff0000"/><rect x="208.93" y="829.69" width="6.87" height="2.18" fill="#b8600c"/><rect x="208.93" y="831.86" width="6.87" height="10.88" fill="#ff0000"/><rect x="208.93" y="842.74" width="6.87" height="2.18" fill="#b8600c"/><rect x="208.93" y="844.92" width="6.87" height="2.18" fill="#ff0000"/><rect x="208.93" y="847.10" width="6.87" height="2.18" fill="#b8600c"/><rect x="208.93" y="849.27" width="6.87" height="6.53" fill="#ff0000"/><rect x="215.78" y="773.10" width="6.87" height="2.18" fill="#ff0000"/><rect x="215.78" y="777.46" width="6.87" height="2.18" fill="#ff0000"/><rect x="215.78" y="781.81" width="6.87" height="6.53" fill="#ff0000"/><rect x="215.78" y="788.34" width="6.87" height="2.18" fill="#b8600c"/><rect x="215.78" y="790.51" width="6.87" height="4.35" fill="#ff0000"/><rect x="215.78" y="794.87" width="6.87" height="2.18" fill="#b8600c"/><rect x="215.78" y="797.04" width="6.87" height="58.76" fill="#ff0000"/><rect x="222.63" y="773.10" width="6.87" height="82.70" fill="#ff0000"/><rect x="229.47" y="775.28" width="6.87" height="4.35" fill="#ff0000"/><rect x="229.47" y="781.81" width="6.87" height="2.18" fill="#ff0000"/><rect x="229.47" y="783.99" width="6.87" height="2.18" fill="#b8600c"/><rect x="229.47" y="786.16" width="6.87" height="43.52" fill="#ff0000"/><rect x="229.47" y="831.86" width="6.87" height="23.94" fill="#ff0000"/><rect x="236.32" y="773.10" width="6.87" height="2.18" fill="#b8600c"/><rect x="236.32" y="775.28" width="6.87" height="13.06" fill="#ff0000"/><rect x="236.32" y="788.34" width="6.87" height="2.18" fill="#b8600c"/><rect x="236.32" y="790.51" width="6.87" height="19.59" fill="#ff0000"/><rect x="236.32" y="810.10" width="6.87" height="2.18" fill="#b8600c"/><rect x="236.32" y="812.28" width="6.87" height="43.52" fill="#ff0000"/><rect x="243.17" y="773.10" width="6.87" height="4.35" fill="#ff0000"/><rect x="243.17" y="779.63" width="6.87" height="41.35" fill="#ff0000"/><rect x="243.17" y="820.98" width="6.87" height="2.18" fill="#b8600c"/><rect x="243.17" y="823.16" width="6.87" height="19.59" fill="#ff0000"/><rect x="243.17" y="842.74" width="6.87" height="2.18" fill="#b8600c"/><rect x="243.17" y="844.92" width="6.87" height="10.88" fill="#ff0000"/><rect x="250.01" y="773.10" width="6.87" height="2.18" fill="#b8600c"/><rect x="250.01" y="777.46" width="6.87" height="8.70" fill="#ff0000"/><rect x="250.01" y="788.34" width="6.87" height="2.18" fill="#b8600c"/><rect x="250.01" y="790.51" width="6.87" height="2.18" fill="#ff0000"/><rect x="250.01" y="792.69" width="6.87" height="2.18" fill="#b8600c"/><rect x="250.01" y="794.87" width="6.87" height="6.53" fill="#ff0000"/><rect x="250.01" y="801.40" width="6.87" height="2.18" fill="#b8600c"/><rect x="250.01" y="803.57" width="6.87" height="4.35" fill="#ff0000"/><rect x="250.01" y="807.92" width="6.87" height="2.18" fill="#b8600c"/><rect x="250.01" y="810.10" width="6.87" height="45.70" fill="#ff0000"/><rect x="256.86" y="764.40" width="6.87" height="2.18" fill="#b8600c"/><rect x="256.86" y="773.10" width="6.87" height="2.18" fill="#b8600c"/><rect x="256.86" y="775.28" width="6.87" height="4.35" fill="#ff0000"/><rect x="256.86" y="781.81" width="6.87" height="2.18" fill="#b8600c"/><rect x="256.86" y="783.99" width="6.87" height="71.81" fill="#ff0000"/><rect x="263.71" y="773.10" width="6.87" height="2.18" fill="#b8600c"/><rect x="263.71" y="775.28" width="6.87" height="23.94" fill="#ff0000"/><rect x="263.71" y="799.22" width="6.87" height="2.18" fill="#b8600c"/><rect x="263.71" y="801.40" width="6.87" height="10.88" fill="#ff0000"/><rect x="263.71" y="814.45" width="6.87" height="10.88" fill="#ff0000"/><rect x="263.71" y="827.51" width="6.87" height="28.29" fill="#ff0000"/><rect x="270.55" y="773.10" width="6.87" height="6.53" fill="#ff0000"/><rect x="270.55" y="781.81" width="6.87" height="73.99" fill="#ff0000"/><rect x="188.39" y="844.83" width="6.85" height="2.74" fill="#ff0000"/><rect x="188.39" y="853.06" width="6.85" height="2.74" fill="#ff0000"/><rect x="202.09" y="791.82" width="6.85" height="3.66" fill="#ff0000"/><rect x="202.09" y="803.70" width="6.85" height="3.66" fill="#ff0000"/><rect x="202.09" y="816.50" width="6.85" height="3.66" fill="#ff0000"/><rect x="208.93" y="821.98" width="6.85" height="6.40" fill="#ff0000"/><rect x="208.93" y="828.38" width="6.85" height="6.40" fill="#00ff00"/><rect x="250.01" y="780.85" width="6.85" height="4.57" fill="#00ff00"/><rect x="250.01" y="789.08" width="6.85" height="4.57" fill="#00ff00"/>
<rect x="290.40" y="764.40" width="102.00" height="91.40" fill="#00ff00"/><rect x="372.00" y="821.98" width="20.40" height="10.97" fill="#ff0000"/><rect x="372.00" y="832.95" width="20.40" height="0.91" fill="#b8600c"/><rect x="372.00" y="842.09" width="20.40" height="10.97" fill="#ff0000"/><rect x="372.00" y="837.52" width="20.40" height="0.46" fill="#b8600c"/><rect x="351.60" y="838.43" width="20.40" height="14.62" fill="#ff0000"/><rect x="351.60" y="834.78" width="20.40" height="0.91" fill="#b8600c"/><rect x="351.60" y="847.12" width="20.40" height="0.91" fill="#b8600c"/><rect x="310.80" y="836.15" width="20.40" height="1.37" fill="#b8600c"/><rect x="310.80" y="848.49" width="20.40" height="1.37" fill="#b8600c"/><rect x="331.20" y="852.14" width="20.40" height="1.37" fill="#b8600c"/><rect x="310.80" y="852.60" width="20.40" height="0.91" fill="#b8600c"/><rect x="290.40" y="853.06" width="102.00" height="2.74" fill="#ff0000"/><rect x="290.40" y="851.69" width="20.40" height="0.91" fill="#b8600c"/>
<rect x="405.40" y="764.40" width="103.10" height="91.40" fill="#00ff00"/><rect x="482.73" y="805.53" width="25.78" height="22.85" fill="#ffffff"/><rect x="482.73" y="844.83" width="25.78" height="4.57" fill="#ffffff"/><rect x="482.73" y="853.06" width="25.78" height="1.83" fill="#b8600c"/><rect x="482.73" y="830.21" width="25.78" height="0.91" fill="#00ff00"/><rect x="405.40" y="828.38" width="51.55" height="1.83" fill="#b8600c"/><rect x="405.40" y="830.21" width="25.78" height="8.23" fill="#00ff00"/><rect x="431.17" y="832.04" width="25.78" height="6.40" fill="#ff0000"/><rect x="405.40" y="838.43" width="51.55" height="2.28" fill="#b8600c"/><rect x="405.40" y="841.63" width="51.55" height="1.83" fill="#b8600c"/><rect x="405.40" y="843.46" width="25.78" height="2.29" fill="#b8600c"/><rect x="431.17" y="843.46" width="25.78" height="2.29" fill="#00ff00"/><rect x="405.40" y="849.40" width="51.55" height="6.40" fill="#ff0000"/><rect x="405.40" y="846.20" width="25.78" height="3.20" fill="#00ff00"/><rect x="431.17" y="846.20" width="25.78" height="3.20" fill="#b8600c"/>
</g>
<rect x="59.2" y="621.8" width="102.30" height="91.70" fill="none" stroke="#1a1a1a" stroke-width="1.2"/>
<rect x="59.2" y="764.4" width="102.30" height="91.40" fill="none" stroke="#1a1a1a" stroke-width="1.2"/>
<rect x="174.7" y="621.8" width="102.70" height="91.70" fill="none" stroke="#1a1a1a" stroke-width="1.2"/>
<rect x="174.7" y="764.4" width="102.70" height="91.40" fill="none" stroke="#1a1a1a" stroke-width="1.2"/>
<rect x="290.4" y="621.8" width="102.00" height="91.70" fill="none" stroke="#1a1a1a" stroke-width="1.2"/>
<rect x="290.4" y="764.4" width="102.00" height="91.40" fill="none" stroke="#1a1a1a" stroke-width="1.2"/>
<rect x="405.4" y="621.8" width="103.10" height="91.70" fill="none" stroke="#1a1a1a" stroke-width="1.2"/>
<rect x="405.4" y="764.4" width="103.10" height="91.40" fill="none" stroke="#1a1a1a" stroke-width="1.2"/>
<path d="M67.1 622.0999999999999h13.2l-6.6 13.4z" fill="#000"/>
<path d="M199.4 622.0999999999999h13.2l-6.6 13.4z" fill="#000"/>
<path d="M379.4 622.0999999999999h13.2l-6.6 13.4z" fill="#000"/>
<path d="M406.4 622.0999999999999h13.2l-6.6 13.4z" fill="#000"/>
<path d="M67.4 764.6999999999999h13.2l-6.6 13.4z" fill="#000"/>
<path d="M199.4 764.6999999999999h13.2l-6.6 13.4z" fill="#000"/>
<path d="M377.4 764.6999999999999h13.2l-6.6 13.4z" fill="#000"/>
<path d="M413.1 764.6999999999999h13.2l-6.6 13.4z" fill="#000"/>
<rect x="59.20" y="716.90" width="5.68" height="10.30" fill="#50b414"/><rect x="59.20" y="727.20" width="5.68" height="10.20" fill="#ffffff"/><rect x="64.88" y="716.90" width="5.68" height="10.30" fill="#3cc81e"/><rect x="64.88" y="727.20" width="5.68" height="10.20" fill="#ffffff"/><rect x="70.57" y="716.90" width="5.68" height="10.30" fill="#14f014"/><rect x="70.57" y="727.20" width="5.68" height="10.20" fill="#14f014"/><rect x="76.25" y="716.90" width="5.68" height="10.30" fill="#14f014"/><rect x="76.25" y="727.20" width="5.68" height="10.20" fill="#ffffff"/><rect x="81.93" y="716.90" width="5.68" height="10.30" fill="#14f014"/><rect x="81.93" y="727.20" width="5.68" height="10.20" fill="#ffffff"/><rect x="87.62" y="716.90" width="5.68" height="10.30" fill="#14f014"/><rect x="87.62" y="727.20" width="5.68" height="10.20" fill="#ffffff"/><rect x="93.30" y="716.90" width="5.68" height="10.30" fill="#14f014"/><rect x="93.30" y="727.20" width="5.68" height="10.20" fill="#ffffff"/><rect x="98.98" y="716.90" width="5.68" height="10.30" fill="#14f014"/><rect x="98.98" y="727.20" width="5.68" height="10.20" fill="#ffffff"/><rect x="104.67" y="716.90" width="5.68" height="10.30" fill="#14f014"/><rect x="104.67" y="727.20" width="5.68" height="10.20" fill="#ffffff"/><rect x="110.35" y="716.90" width="5.68" height="10.30" fill="#14f014"/><rect x="110.35" y="727.20" width="5.68" height="10.20" fill="#ffffff"/><rect x="116.03" y="716.90" width="5.68" height="10.30" fill="#14f014"/><rect x="116.03" y="727.20" width="5.68" height="10.20" fill="#ffffff"/><rect x="121.72" y="716.90" width="5.68" height="10.30" fill="#14f014"/><rect x="121.72" y="727.20" width="5.68" height="10.20" fill="#ffffff"/><rect x="127.40" y="716.90" width="5.68" height="10.30" fill="#14f014"/><rect x="127.40" y="727.20" width="5.68" height="10.20" fill="#ffffff"/><rect x="133.08" y="716.90" width="5.68" height="10.30" fill="#14f014"/><rect x="133.08" y="727.20" width="5.68" height="10.20" fill="#ffffff"/><rect x="138.77" y="716.90" width="5.68" height="10.30" fill="#14f014"/><rect x="138.77" y="727.20" width="5.68" height="10.20" fill="#ffffff"/><rect x="144.45" y="716.90" width="5.68" height="10.30" fill="#14f014"/><rect x="144.45" y="727.20" width="5.68" height="10.20" fill="#ffffff"/><rect x="150.13" y="716.90" width="5.68" height="10.30" fill="#14f014"/><rect x="150.13" y="727.20" width="5.68" height="10.20" fill="#ffffff"/><rect x="155.82" y="716.90" width="5.68" height="10.30" fill="#14f014"/><rect x="155.82" y="727.20" width="5.68" height="10.20" fill="#ffffff"/><path d="M59.2 716.9H161.5M59.2 727.2H161.5M59.2 737.4H161.5M59.20 716.9V737.4M64.88 716.9V737.4M70.57 716.9V737.4M76.25 716.9V737.4M81.93 716.9V737.4M87.62 716.9V737.4M93.30 716.9V737.4M98.98 716.9V737.4M104.67 716.9V737.4M110.35 716.9V737.4M116.03 716.9V737.4M121.72 716.9V737.4M127.40 716.9V737.4M133.08 716.9V737.4M138.77 716.9V737.4M144.45 716.9V737.4M150.13 716.9V737.4M155.82 716.9V737.4M161.50 716.9V737.4" stroke="#333" stroke-width="0.9" fill="none"/>
<rect x="174.70" y="716.90" width="6.85" height="10.30" fill="#28c814"/><rect x="174.70" y="727.20" width="6.85" height="10.20" fill="#ffffff"/><rect x="181.55" y="716.90" width="6.85" height="10.30" fill="#50aa14"/><rect x="181.55" y="727.20" width="6.85" height="10.20" fill="#ffffff"/><rect x="188.39" y="716.90" width="6.85" height="10.30" fill="#5aa014"/><rect x="188.39" y="727.20" width="6.85" height="10.20" fill="#ffffff"/><rect x="195.24" y="716.90" width="6.85" height="10.30" fill="#1edc14"/><rect x="195.24" y="727.20" width="6.85" height="10.20" fill="#ffffff"/><rect x="202.09" y="716.90" width="6.85" height="10.30" fill="#1ed214"/><rect x="202.09" y="727.20" width="6.85" height="10.20" fill="#3cbe14"/><rect x="208.93" y="716.90" width="6.85" height="10.30" fill="#1ee11e"/><rect x="208.93" y="727.20" width="6.85" height="10.20" fill="#ffffff"/><rect x="215.78" y="716.90" width="6.85" height="10.30" fill="#789614"/><rect x="215.78" y="727.20" width="6.85" height="10.20" fill="#ffffff"/><rect x="222.63" y="716.90" width="6.85" height="10.30" fill="#c8500a"/><rect x="222.63" y="727.20" width="6.85" height="10.20" fill="#ffffff"/><rect x="229.47" y="716.90" width="6.85" height="10.30" fill="#8c8c14"/><rect x="229.47" y="727.20" width="6.85" height="10.20" fill="#ffffff"/><rect x="236.32" y="716.90" width="6.85" height="10.30" fill="#c8500a"/><rect x="236.32" y="727.20" width="6.85" height="10.20" fill="#ffffff"/><rect x="243.17" y="716.90" width="6.85" height="10.30" fill="#789614"/><rect x="243.17" y="727.20" width="6.85" height="10.20" fill="#ffffff"/><rect x="250.01" y="716.90" width="6.85" height="10.30" fill="#5aaa14"/><rect x="250.01" y="727.20" width="6.85" height="10.20" fill="#ffffff"/><rect x="256.86" y="716.90" width="6.85" height="10.30" fill="#828c14"/><rect x="256.86" y="727.20" width="6.85" height="10.20" fill="#ffffff"/><rect x="263.71" y="716.90" width="6.85" height="10.30" fill="#aa6e0a"/><rect x="263.71" y="727.20" width="6.85" height="10.20" fill="#ffffff"/><rect x="270.55" y="716.90" width="6.85" height="10.30" fill="#c8500a"/><rect x="270.55" y="727.20" width="6.85" height="10.20" fill="#ffffff"/><path d="M174.7 716.9H277.4M174.7 727.2H277.4M174.7 737.4H277.4M174.70 716.9V737.4M181.55 716.9V737.4M188.39 716.9V737.4M195.24 716.9V737.4M202.09 716.9V737.4M208.93 716.9V737.4M215.78 716.9V737.4M222.63 716.9V737.4M229.47 716.9V737.4M236.32 716.9V737.4M243.17 716.9V737.4M250.01 716.9V737.4M256.86 716.9V737.4M263.71 716.9V737.4M270.55 716.9V737.4M277.40 716.9V737.4" stroke="#333" stroke-width="0.9" fill="none"/>
<rect x="290.40" y="716.90" width="20.40" height="10.30" fill="#c8500a"/><rect x="290.40" y="727.20" width="20.40" height="10.20" fill="#ffffff"/><rect x="310.80" y="716.90" width="20.40" height="10.30" fill="#cd4b0a"/><rect x="310.80" y="727.20" width="20.40" height="10.20" fill="#ffffff"/><rect x="331.20" y="716.90" width="20.40" height="10.30" fill="#aa6e0a"/><rect x="331.20" y="727.20" width="20.40" height="10.20" fill="#ffffff"/><rect x="351.60" y="716.90" width="20.40" height="10.30" fill="#d2410f"/><rect x="351.60" y="727.20" width="20.40" height="10.20" fill="#ffffff"/><rect x="372.00" y="716.90" width="20.40" height="10.30" fill="#f0280a"/><rect x="372.00" y="727.20" width="20.40" height="10.20" fill="#f0230a"/><path d="M290.4 716.9H392.4M290.4 727.2H392.4M290.4 737.4H392.4M290.40 716.9V737.4M310.80 716.9V737.4M331.20 716.9V737.4M351.60 716.9V737.4M372.00 716.9V737.4M392.40 716.9V737.4" stroke="#333" stroke-width="0.9" fill="none"/>
<rect x="405.40" y="716.90" width="25.78" height="10.30" fill="#dc320a"/><rect x="405.40" y="727.20" width="25.78" height="10.20" fill="#dc320a"/><rect x="431.17" y="716.90" width="25.78" height="10.30" fill="#be5a0a"/><rect x="431.17" y="727.20" width="25.78" height="10.20" fill="#ffffff"/><rect x="456.95" y="716.90" width="25.78" height="10.30" fill="#64a014"/><rect x="456.95" y="727.20" width="25.78" height="10.20" fill="#ffffff"/><rect x="482.73" y="716.90" width="25.78" height="10.30" fill="#64a014"/><rect x="482.73" y="727.20" width="25.78" height="10.20" fill="#ffffff"/><path d="M405.4 716.9H508.5M405.4 727.2H508.5M405.4 737.4H508.5M405.40 716.9V737.4M431.17 716.9V737.4M456.95 716.9V737.4M482.73 716.9V737.4M508.50 716.9V737.4" stroke="#333" stroke-width="0.9" fill="none"/>
<rect x="59.20" y="859.90" width="5.68" height="9.90" fill="#dc3c0a"/><rect x="59.20" y="869.80" width="5.68" height="10.20" fill="#ffffff"/><rect x="64.88" y="859.90" width="5.68" height="9.90" fill="#d2460a"/><rect x="64.88" y="869.80" width="5.68" height="10.20" fill="#ffffff"/><rect x="70.57" y="859.90" width="5.68" height="9.90" fill="#c8500a"/><rect x="70.57" y="869.80" width="5.68" height="10.20" fill="#f01e0a"/><rect x="76.25" y="859.90" width="5.68" height="9.90" fill="#be5a0a"/><rect x="76.25" y="869.80" width="5.68" height="10.20" fill="#ffffff"/><rect x="81.93" y="859.90" width="5.68" height="9.90" fill="#d2460a"/><rect x="81.93" y="869.80" width="5.68" height="10.20" fill="#ffffff"/><rect x="87.62" y="859.90" width="5.68" height="9.90" fill="#d2460a"/><rect x="87.62" y="869.80" width="5.68" height="10.20" fill="#ffffff"/><rect x="93.30" y="859.90" width="5.68" height="9.90" fill="#968214"/><rect x="93.30" y="869.80" width="5.68" height="10.20" fill="#ffffff"/><rect x="98.98" y="859.90" width="5.68" height="9.90" fill="#c8500a"/><rect x="98.98" y="869.80" width="5.68" height="10.20" fill="#ffffff"/><rect x="104.67" y="859.90" width="5.68" height="9.90" fill="#c8500a"/><rect x="104.67" y="869.80" width="5.68" height="10.20" fill="#ffffff"/><rect x="110.35" y="859.90" width="5.68" height="9.90" fill="#c8500a"/><rect x="110.35" y="869.80" width="5.68" height="10.20" fill="#ffffff"/><rect x="116.03" y="859.90" width="5.68" height="9.90" fill="#d2410a"/><rect x="116.03" y="869.80" width="5.68" height="10.20" fill="#ffffff"/><rect x="121.72" y="859.90" width="5.68" height="9.90" fill="#c8500a"/><rect x="121.72" y="869.80" width="5.68" height="10.20" fill="#ffffff"/><rect x="127.40" y="859.90" width="5.68" height="9.90" fill="#c8500a"/><rect x="127.40" y="869.80" width="5.68" height="10.20" fill="#ffffff"/><rect x="133.08" y="859.90" width="5.68" height="9.90" fill="#c8500a"/><rect x="133.08" y="869.80" width="5.68" height="10.20" fill="#ffffff"/><rect x="138.77" y="859.90" width="5.68" height="9.90" fill="#c8500a"/><rect x="138.77" y="869.80" width="5.68" height="10.20" fill="#ffffff"/><rect x="144.45" y="859.90" width="5.68" height="9.90" fill="#c8500a"/><rect x="144.45" y="869.80" width="5.68" height="10.20" fill="#ffffff"/><rect x="150.13" y="859.90" width="5.68" height="9.90" fill="#aa6e0a"/><rect x="150.13" y="869.80" width="5.68" height="10.20" fill="#ffffff"/><rect x="155.82" y="859.90" width="5.68" height="9.90" fill="#b4640a"/><rect x="155.82" y="869.80" width="5.68" height="10.20" fill="#ffffff"/><path d="M59.2 859.9H161.5M59.2 869.8H161.5M59.2 880.0H161.5M59.20 859.9V880.0M64.88 859.9V880.0M70.57 859.9V880.0M76.25 859.9V880.0M81.93 859.9V880.0M87.62 859.9V880.0M93.30 859.9V880.0M98.98 859.9V880.0M104.67 859.9V880.0M110.35 859.9V880.0M116.03 859.9V880.0M121.72 859.9V880.0M127.40 859.9V880.0M133.08 859.9V880.0M138.77 859.9V880.0M144.45 859.9V880.0M150.13 859.9V880.0M155.82 859.9V880.0M161.50 859.9V880.0" stroke="#333" stroke-width="0.9" fill="none"/>
<rect x="174.70" y="859.90" width="6.85" height="9.90" fill="#968214"/><rect x="174.70" y="869.80" width="6.85" height="10.20" fill="#ffffff"/><rect x="181.55" y="859.90" width="6.85" height="9.90" fill="#aa6e0a"/><rect x="181.55" y="869.80" width="6.85" height="10.20" fill="#ffffff"/><rect x="188.39" y="859.90" width="6.85" height="9.90" fill="#28e61e"/><rect x="188.39" y="869.80" width="6.85" height="10.20" fill="#ffffff"/><rect x="195.24" y="859.90" width="6.85" height="9.90" fill="#6ea014"/><rect x="195.24" y="869.80" width="6.85" height="10.20" fill="#ffffff"/><rect x="202.09" y="859.90" width="6.85" height="9.90" fill="#aa6e0a"/><rect x="202.09" y="869.80" width="6.85" height="10.20" fill="#be5a0a"/><rect x="208.93" y="859.90" width="6.85" height="9.90" fill="#6ea014"/><rect x="208.93" y="869.80" width="6.85" height="10.20" fill="#ffffff"/><rect x="215.78" y="859.90" width="6.85" height="9.90" fill="#dc3c0a"/><rect x="215.78" y="869.80" width="6.85" height="10.20" fill="#ffffff"/><rect x="222.63" y="859.90" width="6.85" height="9.90" fill="#dc320a"/><rect x="222.63" y="869.80" width="6.85" height="10.20" fill="#ffffff"/><rect x="229.47" y="859.90" width="6.85" height="9.90" fill="#d2460a"/><rect x="229.47" y="869.80" width="6.85" height="10.20" fill="#ffffff"/><rect x="236.32" y="859.90" width="6.85" height="9.90" fill="#dc3c0a"/><rect x="236.32" y="869.80" width="6.85" height="10.20" fill="#ffffff"/><rect x="243.17" y="859.90" width="6.85" height="9.90" fill="#dc3c0a"/><rect x="243.17" y="869.80" width="6.85" height="10.20" fill="#ffffff"/><rect x="250.01" y="859.90" width="6.85" height="9.90" fill="#be5a0a"/><rect x="250.01" y="869.80" width="6.85" height="10.20" fill="#ffffff"/><rect x="256.86" y="859.90" width="6.85" height="9.90" fill="#dc3c0a"/><rect x="256.86" y="869.80" width="6.85" height="10.20" fill="#ffffff"/><rect x="263.71" y="859.90" width="6.85" height="9.90" fill="#dc3c0a"/><rect x="263.71" y="869.80" width="6.85" height="10.20" fill="#ffffff"/><rect x="270.55" y="859.90" width="6.85" height="9.90" fill="#dc3c0a"/><rect x="270.55" y="869.80" width="6.85" height="10.20" fill="#ffffff"/><path d="M174.7 859.9H277.4M174.7 869.8H277.4M174.7 880.0H277.4M174.70 859.9V880.0M181.55 859.9V880.0M188.39 859.9V880.0M195.24 859.9V880.0M202.09 859.9V880.0M208.93 859.9V880.0M215.78 859.9V880.0M222.63 859.9V880.0M229.47 859.9V880.0M236.32 859.9V880.0M243.17 859.9V880.0M250.01 859.9V880.0M256.86 859.9V880.0M263.71 859.9V880.0M270.55 859.9V880.0M277.40 859.9V880.0" stroke="#333" stroke-width="0.9" fill="none"/>
<rect x="290.40" y="859.90" width="20.40" height="9.90" fill="#1ee81e"/><rect x="290.40" y="869.80" width="20.40" height="10.20" fill="#ffffff"/><rect x="310.80" y="859.90" width="20.40" height="9.90" fill="#1ee11e"/><rect x="310.80" y="869.80" width="20.40" height="10.20" fill="#ffffff"/><rect x="331.20" y="859.90" width="20.40" height="9.90" fill="#1ee81e"/><rect x="331.20" y="869.80" width="20.40" height="10.20" fill="#ffffff"/><rect x="351.60" y="859.90" width="20.40" height="9.90" fill="#3cc814"/><rect x="351.60" y="869.80" width="20.40" height="10.20" fill="#ffffff"/><rect x="372.00" y="859.90" width="20.40" height="9.90" fill="#50b414"/><rect x="372.00" y="869.80" width="20.40" height="10.20" fill="#50b414"/><path d="M290.4 859.9H392.4M290.4 869.8H392.4M290.4 880.0H392.4M290.40 859.9V880.0M310.80 859.9V880.0M331.20 859.9V880.0M351.60 859.9V880.0M372.00 859.9V880.0M392.40 859.9V880.0" stroke="#333" stroke-width="0.9" fill="none"/>
<rect x="405.40" y="859.90" width="25.78" height="9.90" fill="#28d21e"/><rect x="405.40" y="869.80" width="25.78" height="10.20" fill="#28d21e"/><rect x="431.17" y="859.90" width="25.78" height="9.90" fill="#3cc814"/><rect x="431.17" y="869.80" width="25.78" height="10.20" fill="#ffffff"/><rect x="456.95" y="859.90" width="25.78" height="9.90" fill="#1ee81e"/><rect x="456.95" y="869.80" width="25.78" height="10.20" fill="#ffffff"/><rect x="482.73" y="859.90" width="25.78" height="9.90" fill="#1ee81e"/><rect x="482.73" y="869.80" width="25.78" height="10.20" fill="#ffffff"/><path d="M405.4 859.9H508.5M405.4 869.8H508.5M405.4 880.0H508.5M405.40 859.9V880.0M431.17 859.9V880.0M456.95 859.9V880.0M482.73 859.9V880.0M508.50 859.9V880.0" stroke="#333" stroke-width="0.9" fill="none"/>
<text font-family="Liberation Sans, sans-serif" font-size="14" x="111.6" y="619.2" text-anchor="middle" fill="#222" stroke="#222">288 reads</text>
<text font-family="Liberation Sans, sans-serif" font-size="14" x="225" y="619.2" text-anchor="middle" fill="#222" stroke="#222">530 reads</text>
<text font-family="Liberation Sans, sans-serif" font-size="14" x="342.3" y="619.2" text-anchor="middle" fill="#222" stroke="#222">1657 reads</text>
<text font-family="Liberation Sans, sans-serif" font-size="14" x="456.5" y="619.2" text-anchor="middle" fill="#222" stroke="#222">495 reads</text>
<text font-family="Liberation Sans, sans-serif" font-size="14" x="110" y="761.6" text-anchor="middle" fill="#222" stroke="#222">243 reads</text>
<text font-family="Liberation Sans, sans-serif" font-size="14" x="225.9" y="761.6" text-anchor="middle" fill="#222" stroke="#222">470 reads</text>
<text font-family="Liberation Sans, sans-serif" font-size="14" x="340" y="761.6" text-anchor="middle" fill="#222" stroke="#222">838 reads</text>
<text font-family="Liberation Sans, sans-serif" font-size="14" x="456.2" y="761.6" text-anchor="middle" fill="#222" stroke="#222">399 reads</text>
<text font-family="Liberation Sans, sans-serif" font-size="18.5" transform="translate(23.3,674.3) rotate(-90)" text-anchor="middle" fill="#111" stroke="#111">CB-HPCs</text>
<text font-family="Liberation Sans, sans-serif" font-size="18.5" transform="translate(23.3,815.9) rotate(-90)" text-anchor="middle" fill="#111" stroke="#111">mPB-HPCs</text>
<path d="M27.7 618.5V740M27.7 760.8V882.8" stroke="#111" stroke-width="2"/>
<text font-family="Liberation Sans, sans-serif" font-size="13.8" transform="translate(56.5,666.2) rotate(-90)" text-anchor="middle" fill="#111" stroke="#111">all 454 reads</text>
<text font-family="Liberation Sans, sans-serif" font-size="13.5" x="56.3" y="724.8" text-anchor="end" fill="#111" stroke="#111">454</text>
<text font-family="Liberation Sans, sans-serif" font-size="13.5" x="56.3" y="737.2" text-anchor="end" fill="#111" stroke="#111">Inf</text>
<text font-family="Liberation Sans, sans-serif" font-size="13.8" transform="translate(56.5,808.6) rotate(-90)" text-anchor="middle" fill="#111" stroke="#111">all 454 reads</text>
<text font-family="Liberation Sans, sans-serif" font-size="13.5" x="56.3" y="867.4" text-anchor="end" fill="#111" stroke="#111">454</text>
<text font-family="Liberation Sans, sans-serif" font-size="13.5" x="56.3" y="879.8" text-anchor="end" fill="#111" stroke="#111">Inf</text>
<defs><linearGradient id="cb" x1="0" x2="1"><stop offset="0" stop-color="#00ff00"/><stop offset="0.5" stop-color="#000"/><stop offset="1" stop-color="#ff0000"/></linearGradient></defs>
<rect x="107" y="894.5" width="389.2" height="12.3" fill="url(#cb)" stroke="#333" stroke-width="0.8"/>
<path d="M107 907V913.5M301.5 907V913.5M496.2 907V913.5" stroke="#888" stroke-width="1"/>
<text font-family="Liberation Sans, sans-serif" font-size="14" x="25.8" y="906.8" fill="#111" stroke="#111">methylation</text>
<g font-family="Liberation Sans, sans-serif" font-size="14" fill="#333" stroke="#333"><text x="102.6" y="928.2">0%</text><text x="292.8" y="928.2">50%</text><text x="484.8" y="928.2">100%</text></g>
</svg></body></html>
